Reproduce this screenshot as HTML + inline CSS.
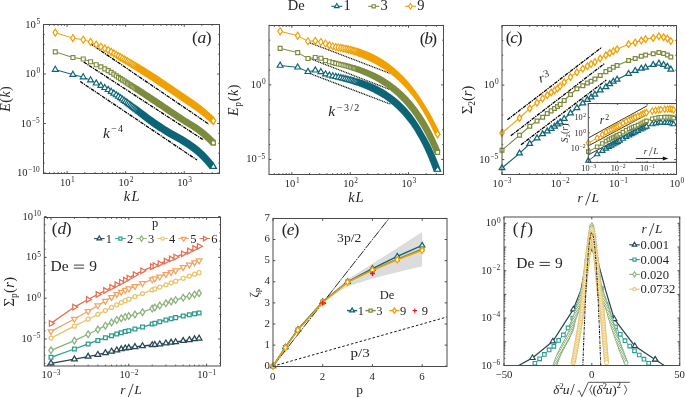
<!DOCTYPE html><html><head><meta charset="utf-8"><style>html,body{margin:0;padding:0;background:#fff;overflow:hidden}svg{display:block;will-change:transform}</style></head><body><svg width="685" height="397" viewBox="0 0 685 397">
<rect width="685" height="397" fill="#fff"/>
<path d="M90.2 43.5 L208.9 124.2" fill="none" stroke="#000" stroke-width="1.3" stroke-dasharray="3.6,0.9,1.2,0.9"/>
<path d="M83.7 62 L203.7 140.1" fill="none" stroke="#000" stroke-width="1.3" stroke-dasharray="3.6,0.9,1.2,0.9"/>
<path d="M80.2 81.5 L197 160" fill="none" stroke="#000" stroke-width="1.3" stroke-dasharray="3.6,0.9,1.2,0.9"/>
<path d="M55.28 69.6 L72.91 74.65 L83.22 77.11 L90.54 80.22 L96.22 83.26 L100.86 85.64 L104.78 87.83 L108.17 89.82 L111.17 91.66 L113.85 93.37 L116.27 95 L118.49 96.54 L120.52 97.99 L122.41 99.34 L124.16 100.6 L125.8 101.78 L127.35 102.9 L128.8 103.96 L130.18 104.97 L131.48 105.94 L132.72 106.87 L133.91 107.75 L135.04 108.59 L136.12 109.4 L137.16 110.18 L138.15 110.92 L139.11 111.64 L140.04 112.33 L140.93 113 L141.79 113.64 L142.63 114.28 L143.44 114.89 L144.22 115.49 L144.98 116.06 L145.72 116.63 L146.43 117.17 L147.13 117.7 L147.81 118.22 L148.47 118.72 L149.11 119.21 L149.74 119.68 L150.35 120.14 L150.95 120.58 L151.54 121.01 L152.11 121.43 L152.67 121.84 L153.21 122.23 L153.75 122.62 L154.27 122.99 L154.79 123.35 L155.29 123.7 L155.79 124.05 L156.27 124.38 L156.75 124.71 L157.21 125.03 L157.67 125.34 L158.12 125.65 L158.56 125.95 L159 126.24 L159.43 126.53 L159.85 126.81 L160.26 127.09 L160.67 127.36 L161.07 127.63 L161.46 127.89 L161.85 128.14 L162.23 128.39 L162.61 128.64 L162.98 128.88 L163.35 129.12 L163.71 129.35 L164.06 129.58 L164.41 129.81 L164.76 130.03 L165.1 130.25 L165.44 130.46 L165.77 130.68 L166.1 130.88 L166.42 131.09 L166.74 131.29 L167.06 131.49 L167.37 131.68 L167.68 131.87 L167.98 132.06 L168.29 132.25 L168.58 132.43 L168.88 132.61 L169.17 132.79 L169.46 132.97 L169.74 133.14 L170.02 133.31 L170.3 133.48 L170.57 133.64 L170.85 133.81 L171.11 133.97 L171.38 134.12 L171.64 134.27 L171.91 134.42 L172.16 134.57 L172.42 134.72 L172.67 134.86 L172.92 135 L173.17 135.14 L173.42 135.28 L173.66 135.41 L173.9 135.55 L174.14 135.68 L174.38 135.81 L174.61 135.94 L174.84 136.07 L175.07 136.19 L175.3 136.32 L175.53 136.44 L175.75 136.56 L175.97 136.68 L176.19 136.8 L176.41 136.92 L176.63 137.03 L176.84 137.15 L177.06 137.26 L177.27 137.38 L177.48 137.49 L177.69 137.6 L177.89 137.72 L178.1 137.83 L178.3 137.94 L178.5 138.04 L178.7 138.15 L178.9 138.26 L179.09 138.37 L179.29 138.48 L179.48 138.58 L179.67 138.69 L179.86 138.79 L180.05 138.9 L180.24 139 L180.43 139.1 L180.61 139.21 L180.8 139.31 L180.98 139.41 L181.16 139.51 L181.34 139.62 L181.52 139.72 L181.69 139.82 L181.87 139.92 L182.05 140.02 L182.22 140.12 L182.39 140.22 L182.56 140.32 L182.73 140.42 L182.9 140.52 L183.07 140.62 L183.24 140.72 L183.4 140.82 L183.57 140.92 L183.73 141.02 L183.89 141.11 L184.05 141.21 L184.22 141.31 L184.37 141.41 L184.53 141.51 L184.69 141.61 L184.85 141.7 L185 141.8 L185.16 141.9 L185.31 142 L185.46 142.09 L185.62 142.19 L185.77 142.29 L185.92 142.38 L186.07 142.48 L186.21 142.57 L186.36 142.66 L186.51 142.76 L186.65 142.85 L186.8 142.94 L186.94 143.03 L187.09 143.13 L187.23 143.22 L187.37 143.31 L187.51 143.4 L187.65 143.49 L187.79 143.58 L187.93 143.67 L188.07 143.76 L188.2 143.85 L188.34 143.94 L188.48 144.02 L188.61 144.11 L188.75 144.2 L188.88 144.29 L189.01 144.37 L189.14 144.46 L189.28 144.55 L189.41 144.63 L189.54 144.72 L189.67 144.8 L189.8 144.89 L189.92 144.97 L190.05 145.06 L190.18 145.14 L190.3 145.23 L190.43 145.31 L190.55 145.4 L190.68 145.48 L190.8 145.56 L190.93 145.65 L191.05 145.73 L191.17 145.81 L191.29 145.89 L191.41 145.98 L191.53 146.06 L191.65 146.14 L191.77 146.22 L191.89 146.3 L192.01 146.39 L192.13 146.47 L192.24 146.55 L192.36 146.63 L192.48 146.71 L192.59 146.79 L192.71 146.87 L192.82 146.95 L192.93 147.03 L193.05 147.11 L193.16 147.19 L193.27 147.27 L193.38 147.35 L193.49 147.43 L193.61 147.51 L193.72 147.59 L193.83 147.67 L193.94 147.74 L194.04 147.82 L194.15 147.9 L194.26 147.98 L194.37 148.06 L194.48 148.14 L194.58 148.22 L194.69 148.29 L194.79 148.37 L194.9 148.45 L195 148.53 L195.11 148.6 L195.21 148.68 L195.32 148.76 L195.42 148.84 L195.52 148.91 L195.62 148.99 L195.73 149.07 L195.83 149.14 L195.93 149.22 L196.03 149.3 L196.13 149.37 L196.23 149.45 L196.33 149.53 L196.43 149.6 L196.53 149.68 L196.63 149.75 L196.72 149.83 L196.82 149.91 L196.92 149.98 L197.02 150.06 L197.11 150.13 L197.21 150.21 L197.3 150.28 L197.4 150.36 L197.5 150.43 L197.59 150.51 L197.68 150.59 L197.78 150.66 L197.87 150.74 L197.97 150.81 L198.06 150.89 L198.15 150.96 L198.24 151.04 L198.34 151.11 L198.43 151.18 L198.52 151.26 L198.61 151.33 L198.7 151.41 L198.79 151.48 L198.88 151.56 L198.97 151.63 L199.06 151.71 L199.15 151.78 L199.24 151.85 L199.33 151.93 L199.41 152 L199.5 152.08 L199.59 152.15 L199.68 152.22 L199.76 152.3 L199.85 152.37 L199.94 152.45 L200.02 152.52 L200.11 152.59 L200.19 152.67 L200.28 152.74 L200.36 152.81 L200.45 152.89 L200.53 152.96 L200.62 153.04 L200.7 153.11 L200.78 153.18 L200.87 153.26 L200.95 153.33 L201.03 153.41 L201.12 153.48 L201.2 153.55 L201.28 153.63 L201.36 153.7 L201.44 153.77 L201.52 153.85 L201.61 153.92 L201.69 154 L201.77 154.07 L201.85 154.14 L201.93 154.22 L202.01 154.29 L202.09 154.36 L202.16 154.44 L202.24 154.51 L202.32 154.59 L202.4 154.66 L202.48 154.73 L202.56 154.81 L202.63 154.88 L202.71 154.95 L202.79 155.03 L202.87 155.1 L202.94 155.17 L203.02 155.25 L203.1 155.32 L203.17 155.39 L203.25 155.47 L203.32 155.54 L203.4 155.61 L203.47 155.69 L203.55 155.76 L203.62 155.83 L203.7 155.91 L203.77 155.98 L203.85 156.05 L203.92 156.13 L203.99 156.2 L204.07 156.27 L204.14 156.34 L204.21 156.42 L204.29 156.49 L204.36 156.56 L204.43 156.64 L204.5 156.71 L204.57 156.78 L204.65 156.85 L204.72 156.93 L204.79 157 L204.86 157.07 L204.93 157.14 L205 157.22 L205.07 157.29 L205.14 157.36 L205.21 157.43 L205.28 157.5 L205.35 157.58 L205.42 157.65 L205.49 157.72 L205.56 157.79 L205.63 157.86 L205.7 157.94 L205.77 158.01 L205.84 158.08 L205.9 158.15 L205.97 158.22 L206.04 158.29 L206.11 158.36 L206.18 158.44 L206.24 158.51 L206.31 158.58 L206.38 158.65 L206.44 158.72 L206.51 158.79 L206.58 158.86 L206.64 158.93 L206.71 159 L206.78 159.08 L206.84 159.15 L206.91 159.22 L206.97 159.29 L207.04 159.36 L207.1 159.43 L207.17 159.5 L207.23 159.57 L207.3 159.64 L207.36 159.71 L207.43 159.78 L207.49 159.85 L207.55 159.92 L207.62 159.99 L207.68 160.06 L207.75 160.13 L207.81 160.2 L207.87 160.27 L207.94 160.34 L208 160.41 L208.06 160.48 L208.12 160.55 L208.19 160.62 L208.25 160.69 L208.31 160.75 L208.37 160.82 L208.43 160.89 L208.5 160.96 L208.56 161.03 L208.62 161.1 L208.68 161.17 L208.74 161.24 L208.8 161.31 L208.86 161.37 L208.92 161.44 L208.98 161.51 L209.04 161.58 L209.1 161.65 L209.16 161.72 L209.22 161.78 L209.28 161.85 L209.34 161.92 L209.4 161.99 L209.46 162.06 L209.52 162.12 L209.58 162.19 L209.64 162.26 L209.7 162.33 L209.76 162.39 L209.82 162.46 L209.87 162.53 L209.93 162.6 L209.99 162.66 L210.05 162.73 L210.11 162.8 L210.16 162.86 L210.22 162.93 L210.28 163 L210.34 163.06 L210.39 163.13 L210.45 163.2 L210.51 163.26 L210.56 163.33 L210.62 163.4 L210.68 163.46 L210.73 163.53 L210.79 163.59 L210.85 163.66 L210.9 163.73 L210.96 163.79 L211.01 163.86 L211.07 163.92 L211.13 163.99 L211.18 164.06 L211.24 164.12 L211.29 164.19 L211.35 164.25 L211.4 164.32 L211.46 164.38 L211.51 164.45 L211.57 164.51 L211.62 164.58 L211.68 164.64 L211.73 164.71 L211.78 164.77 L211.84 164.84 L211.89 164.9 L211.95 164.97 L212 165.03 L212.05 165.09 L212.11 165.16 L212.16 165.22 L212.21 165.29 L212.27 165.35 L212.32 165.42 L212.37 165.48 L212.43 165.54 L212.48 165.61 L212.53 165.67 L212.58 165.73 L212.64 165.8 L212.69 165.86 L212.74 165.92 L212.79 165.99 L212.84 166.05 L212.9 166.11 L212.95 166.18 L213 166.24 L213.05 166.3 L213.1 166.37 L213.15 166.43 L213.2 166.49 L213.26 166.55 L213.31 166.62 L213.36 166.68" fill="none" stroke="#0c6477" stroke-width="1.0"/>
<g fill="#fff" stroke="#0c6477" stroke-width="1.15">
<path d="M55.28 66.19L58.25 71.3L52.31 71.3Z"/>
<path d="M72.91 71.24L75.88 76.36L69.94 76.36Z"/>
<path d="M83.22 73.7L86.19 78.81L80.26 78.81Z"/>
<path d="M90.54 76.81L93.51 81.93L87.58 81.93Z"/>
<path d="M96.22 79.85L99.18 84.97L93.25 84.97Z"/>
<path d="M100.86 82.23L103.82 87.34L97.89 87.34Z"/>
<path d="M104.78 84.42L107.74 89.53L101.81 89.53Z"/>
<path d="M108.17 86.41L111.14 91.53L105.21 91.53Z"/>
<path d="M111.17 88.25L114.14 93.36L108.2 93.36Z"/>
<path d="M113.85 89.96L116.82 95.08L110.88 95.08Z"/>
<path d="M116.27 91.59L119.24 96.71L113.31 96.71Z"/>
<path d="M118.49 93.13L121.45 98.25L115.52 98.25Z"/>
<path d="M120.52 94.58L123.49 99.69L117.56 99.69Z"/>
<path d="M122.41 95.93L125.37 101.04L119.44 101.04Z"/>
<path d="M124.16 97.19L127.13 102.3L121.2 102.3Z"/>
<path d="M125.8 98.37L128.77 103.48L122.84 103.48Z"/>
<path d="M127.35 99.49L130.31 104.6L124.38 104.6Z"/>
<path d="M128.8 100.55L131.77 105.67L125.83 105.67Z"/>
<path d="M130.18 101.56L133.14 106.68L127.21 106.68Z"/>
<path d="M131.48 102.53L134.45 107.65L128.51 107.65Z"/>
<path d="M132.72 103.46L135.69 108.57L129.76 108.57Z"/>
<path d="M133.91 104.34L136.87 109.45L130.94 109.45Z"/>
<path d="M135.04 105.18L138 110.3L132.07 110.3Z"/>
<path d="M136.12 105.99L139.09 111.11L133.15 111.11Z"/>
<path d="M137.16 106.77L140.12 111.88L134.19 111.88Z"/>
</g>
<path d="M138.15 107.51L141.12 112.63L135.19 112.63ZM139.11 108.23L142.08 113.35L136.15 113.35ZM140.04 108.92L143.01 114.03L137.07 114.03ZM140.93 109.59L143.9 114.7L137.97 114.7ZM141.79 110.23L144.76 115.35L138.83 115.35ZM142.63 110.87L145.6 115.98L139.66 115.98ZM143.44 111.48L146.4 116.59L140.47 116.59ZM144.22 112.08L147.19 117.19L141.25 117.19ZM144.98 112.65L147.94 117.77L142.01 117.77ZM145.72 113.22L148.68 118.33L142.75 118.33ZM146.43 113.76L149.4 118.88L143.47 118.88ZM147.13 114.29L150.1 119.41L144.16 119.41ZM147.81 114.81L150.77 119.93L144.84 119.93ZM148.47 115.31L151.43 120.43L145.5 120.43ZM149.11 115.8L152.08 120.91L146.15 120.91ZM149.74 116.27L152.71 121.38L146.77 121.38ZM150.35 116.73L153.32 121.84L147.39 121.84ZM150.95 117.17L153.92 122.29L147.98 122.29ZM151.54 117.6L154.5 122.72L148.57 122.72ZM152.11 118.02L155.07 123.14L149.14 123.14ZM152.67 118.43L155.63 123.54L149.7 123.54ZM153.21 118.82L156.18 123.94L150.25 123.94ZM153.75 119.21L156.72 124.32L150.78 124.32ZM154.27 119.58L157.24 124.7L151.31 124.7ZM154.79 119.94L157.75 125.06L151.82 125.06ZM155.29 120.29L158.26 125.41L152.33 125.41ZM155.79 120.64L158.75 125.75L152.82 125.75ZM156.27 120.97L159.24 126.09L153.3 126.09ZM156.75 121.3L159.71 126.41L153.78 126.41ZM157.21 121.62L160.18 126.73L154.25 126.73ZM157.67 121.93L160.64 127.05L154.7 127.05ZM158.12 122.24L161.09 127.35L155.15 127.35ZM158.56 122.54L161.53 127.65L155.6 127.65ZM159 122.83L161.96 127.95L156.03 127.95ZM159.43 123.12L162.39 128.23L156.46 128.23ZM159.85 123.4L162.81 128.52L156.88 128.52ZM160.26 123.68L163.23 128.79L157.29 128.79ZM160.67 123.95L163.63 129.06L157.7 129.06ZM161.07 124.22L164.03 129.33L158.1 129.33ZM161.46 124.48L164.43 129.59L158.5 129.59ZM161.85 124.73L164.82 129.85L158.88 129.85ZM162.23 124.98L165.2 130.1L159.27 130.1ZM162.61 125.23L165.58 130.35L159.64 130.35ZM163.35 125.71L166.31 130.83L160.38 130.83ZM164.06 126.17L167.03 131.29L161.1 131.29ZM164.76 126.62L167.73 131.74L161.79 131.74ZM165.44 127.05L168.41 132.17L162.47 132.17ZM166.1 127.47L169.07 132.59L163.13 132.59ZM166.74 127.88L169.71 132.99L163.78 132.99ZM167.37 128.27L170.34 133.39L164.4 133.39ZM167.98 128.65L170.95 133.77L165.02 133.77ZM168.58 129.02L171.55 134.14L165.62 134.14ZM169.17 129.38L172.13 134.5L166.2 134.5ZM169.74 129.73L172.71 134.85L166.77 134.85ZM170.3 130.07L173.27 135.19L167.33 135.19ZM170.85 130.4L173.81 135.51L167.88 135.51ZM171.38 130.71L174.35 135.83L168.41 135.83ZM171.91 131.01L174.87 136.13L168.94 136.13ZM172.42 131.31L175.39 136.42L169.45 136.42ZM172.92 131.59L175.89 136.71L169.96 136.71ZM173.42 131.87L176.38 136.98L170.45 136.98ZM173.9 132.14L176.87 137.25L170.93 137.25ZM174.38 132.4L177.34 137.51L171.41 137.51ZM174.84 132.66L177.81 137.77L171.88 137.77ZM175.3 132.91L178.27 138.02L172.34 138.02ZM175.75 133.15L178.72 138.26L172.79 138.26ZM176.19 133.39L179.16 138.5L173.23 138.5ZM176.63 133.62L179.6 138.74L173.66 138.74ZM177.06 133.85L180.02 138.97L174.09 138.97ZM177.48 134.08L180.44 139.2L174.51 139.2ZM177.89 134.31L180.86 139.42L174.92 139.42ZM178.3 134.53L181.26 139.64L175.33 139.64ZM178.7 134.74L181.67 139.86L175.73 139.86ZM179.29 135.07L182.25 140.18L176.32 140.18ZM179.86 135.38L182.83 140.5L176.9 140.5ZM180.43 135.69L183.39 140.81L177.46 140.81ZM180.98 136L183.94 141.12L178.01 141.12ZM181.52 136.31L184.48 141.42L178.55 141.42ZM182.05 136.61L185.01 141.73L179.08 141.73ZM182.56 136.91L185.53 142.03L179.6 142.03ZM183.07 137.21L186.04 142.32L180.1 142.32ZM183.57 137.51L186.53 142.62L180.6 142.62ZM184.05 137.8L187.02 142.92L181.09 142.92ZM184.53 138.1L187.5 143.21L181.57 143.21ZM185 138.39L187.97 143.51L182.04 143.51ZM185.46 138.68L188.43 143.8L182.5 143.8ZM185.92 138.97L188.88 144.09L182.95 144.09ZM186.36 139.25L189.33 144.37L183.4 144.37ZM186.8 139.53L189.77 144.65L183.83 144.65ZM187.23 139.81L190.2 144.92L184.26 144.92ZM187.65 140.08L190.62 145.19L184.69 145.19ZM188.07 140.35L191.03 145.46L185.1 145.46ZM188.48 140.61L191.44 145.73L185.51 145.73ZM188.88 140.88L191.85 145.99L185.91 145.99ZM189.28 141.14L192.24 146.25L186.31 146.25ZM189.67 141.39L192.63 146.51L186.7 146.51ZM190.05 141.65L193.02 146.76L187.08 146.76ZM190.43 141.9L193.4 147.02L187.46 147.02ZM190.93 142.24L193.89 147.35L187.96 147.35ZM191.41 142.57L194.38 147.68L188.45 147.68ZM191.89 142.89L194.86 148.01L188.92 148.01ZM192.36 143.22L195.33 148.33L189.39 148.33ZM192.82 143.54L195.79 148.66L189.85 148.66ZM193.27 143.86L196.24 148.98L190.31 148.98ZM193.72 144.18L196.68 149.29L190.75 149.29ZM194.15 144.49L197.12 149.61L191.19 149.61ZM194.58 144.81L197.55 149.92L191.62 149.92ZM195 145.12L197.97 150.23L192.04 150.23ZM195.42 145.43L198.39 150.54L192.45 150.54ZM195.83 145.73L198.79 150.85L192.86 150.85ZM196.23 146.04L199.2 151.15L193.26 151.15ZM196.63 146.34L199.59 151.46L193.66 151.46ZM197.02 146.65L199.98 151.76L194.05 151.76ZM197.4 146.95L200.37 152.06L194.43 152.06ZM197.78 147.25L200.75 152.37L194.81 152.37ZM198.15 147.55L201.12 152.67L195.18 152.67ZM198.52 147.85L201.49 152.96L195.55 152.96ZM198.88 148.15L201.85 153.26L195.91 153.26ZM199.24 148.44L202.2 153.56L196.27 153.56ZM199.59 148.74L202.56 153.86L196.62 153.86ZM199.94 149.04L202.9 154.15L196.97 154.15ZM200.28 149.33L203.25 154.45L197.31 154.45ZM200.7 149.7L203.67 154.82L197.73 154.82ZM201.12 150.07L204.08 155.18L198.15 155.18ZM201.52 150.44L204.49 155.55L198.56 155.55ZM201.93 150.81L204.89 155.92L198.96 155.92ZM202.32 151.18L205.29 156.29L199.36 156.29ZM202.71 151.54L205.68 156.66L199.74 156.66ZM203.1 151.91L206.06 157.03L200.13 157.03ZM203.47 152.28L206.44 157.39L200.51 157.39ZM203.85 152.64L206.81 157.76L200.88 157.76ZM204.21 153.01L207.18 158.12L201.25 158.12ZM204.57 153.37L207.54 158.49L201.61 158.49ZM204.93 153.73L207.9 158.85L201.96 158.85ZM205.28 154.09L208.25 159.21L202.32 159.21ZM205.63 154.45L208.6 159.57L202.66 159.57ZM205.97 154.81L208.94 159.93L203.01 159.93ZM206.31 155.17L209.28 160.28L203.34 160.28ZM206.64 155.52L209.61 160.64L203.68 160.64ZM206.97 155.88L209.94 160.99L204.01 160.99ZM207.3 156.23L210.26 161.34L204.33 161.34ZM207.62 156.58L210.59 161.69L204.65 161.69ZM207.94 156.93L210.9 162.04L204.97 162.04ZM208.25 157.28L211.21 162.39L205.28 162.39ZM208.56 157.62L211.52 162.74L205.59 162.74ZM208.86 157.96L211.83 163.08L205.9 163.08ZM209.16 158.31L212.13 163.42L206.2 163.42ZM209.46 158.65L212.43 163.76L206.5 163.76ZM209.82 159.05L212.78 164.17L206.85 164.17ZM210.16 159.45L213.13 164.57L207.2 164.57ZM210.51 159.85L213.47 164.97L207.54 164.97ZM210.85 160.25L213.81 165.37L207.88 165.37ZM211.18 160.65L214.15 165.76L208.22 165.76ZM211.51 161.04L214.48 166.15L208.55 166.15ZM211.84 161.43L214.8 166.54L208.87 166.54ZM212.16 161.81L215.13 166.93L209.19 166.93ZM212.48 162.2L215.44 167.31L209.51 167.31ZM212.79 162.58L215.76 167.69L209.83 167.69ZM213.1 162.96L216.07 168.07L210.14 168.07ZM213.36 163.27L216.32 168.38L210.39 168.38Z" fill="#fff" stroke="none"/>
<path d="M138.15 107.51L141.12 112.63L135.19 112.63ZM139.11 108.23L142.08 113.35L136.15 113.35ZM140.04 108.92L143.01 114.03L137.07 114.03ZM140.93 109.59L143.9 114.7L137.97 114.7ZM141.79 110.23L144.76 115.35L138.83 115.35ZM142.63 110.87L145.6 115.98L139.66 115.98ZM143.44 111.48L146.4 116.59L140.47 116.59ZM144.22 112.08L147.19 117.19L141.25 117.19ZM144.98 112.65L147.94 117.77L142.01 117.77ZM145.72 113.22L148.68 118.33L142.75 118.33ZM146.43 113.76L149.4 118.88L143.47 118.88ZM147.13 114.29L150.1 119.41L144.16 119.41ZM147.81 114.81L150.77 119.93L144.84 119.93ZM148.47 115.31L151.43 120.43L145.5 120.43ZM149.11 115.8L152.08 120.91L146.15 120.91ZM149.74 116.27L152.71 121.38L146.77 121.38ZM150.35 116.73L153.32 121.84L147.39 121.84ZM150.95 117.17L153.92 122.29L147.98 122.29ZM151.54 117.6L154.5 122.72L148.57 122.72ZM152.11 118.02L155.07 123.14L149.14 123.14ZM152.67 118.43L155.63 123.54L149.7 123.54ZM153.21 118.82L156.18 123.94L150.25 123.94ZM153.75 119.21L156.72 124.32L150.78 124.32ZM154.27 119.58L157.24 124.7L151.31 124.7ZM154.79 119.94L157.75 125.06L151.82 125.06ZM155.29 120.29L158.26 125.41L152.33 125.41ZM155.79 120.64L158.75 125.75L152.82 125.75ZM156.27 120.97L159.24 126.09L153.3 126.09ZM156.75 121.3L159.71 126.41L153.78 126.41ZM157.21 121.62L160.18 126.73L154.25 126.73ZM157.67 121.93L160.64 127.05L154.7 127.05ZM158.12 122.24L161.09 127.35L155.15 127.35ZM158.56 122.54L161.53 127.65L155.6 127.65ZM159 122.83L161.96 127.95L156.03 127.95ZM159.43 123.12L162.39 128.23L156.46 128.23ZM159.85 123.4L162.81 128.52L156.88 128.52ZM160.26 123.68L163.23 128.79L157.29 128.79ZM160.67 123.95L163.63 129.06L157.7 129.06ZM161.07 124.22L164.03 129.33L158.1 129.33ZM161.46 124.48L164.43 129.59L158.5 129.59ZM161.85 124.73L164.82 129.85L158.88 129.85ZM162.23 124.98L165.2 130.1L159.27 130.1ZM162.61 125.23L165.58 130.35L159.64 130.35ZM163.35 125.71L166.31 130.83L160.38 130.83ZM164.06 126.17L167.03 131.29L161.1 131.29ZM164.76 126.62L167.73 131.74L161.79 131.74ZM165.44 127.05L168.41 132.17L162.47 132.17ZM166.1 127.47L169.07 132.59L163.13 132.59ZM166.74 127.88L169.71 132.99L163.78 132.99ZM167.37 128.27L170.34 133.39L164.4 133.39ZM167.98 128.65L170.95 133.77L165.02 133.77ZM168.58 129.02L171.55 134.14L165.62 134.14ZM169.17 129.38L172.13 134.5L166.2 134.5ZM169.74 129.73L172.71 134.85L166.77 134.85ZM170.3 130.07L173.27 135.19L167.33 135.19ZM170.85 130.4L173.81 135.51L167.88 135.51ZM171.38 130.71L174.35 135.83L168.41 135.83ZM171.91 131.01L174.87 136.13L168.94 136.13ZM172.42 131.31L175.39 136.42L169.45 136.42ZM172.92 131.59L175.89 136.71L169.96 136.71ZM173.42 131.87L176.38 136.98L170.45 136.98ZM173.9 132.14L176.87 137.25L170.93 137.25ZM174.38 132.4L177.34 137.51L171.41 137.51ZM174.84 132.66L177.81 137.77L171.88 137.77ZM175.3 132.91L178.27 138.02L172.34 138.02ZM175.75 133.15L178.72 138.26L172.79 138.26ZM176.19 133.39L179.16 138.5L173.23 138.5ZM176.63 133.62L179.6 138.74L173.66 138.74ZM177.06 133.85L180.02 138.97L174.09 138.97ZM177.48 134.08L180.44 139.2L174.51 139.2ZM177.89 134.31L180.86 139.42L174.92 139.42ZM178.3 134.53L181.26 139.64L175.33 139.64ZM178.7 134.74L181.67 139.86L175.73 139.86ZM179.29 135.07L182.25 140.18L176.32 140.18ZM179.86 135.38L182.83 140.5L176.9 140.5ZM180.43 135.69L183.39 140.81L177.46 140.81ZM180.98 136L183.94 141.12L178.01 141.12ZM181.52 136.31L184.48 141.42L178.55 141.42ZM182.05 136.61L185.01 141.73L179.08 141.73ZM182.56 136.91L185.53 142.03L179.6 142.03ZM183.07 137.21L186.04 142.32L180.1 142.32ZM183.57 137.51L186.53 142.62L180.6 142.62ZM184.05 137.8L187.02 142.92L181.09 142.92ZM184.53 138.1L187.5 143.21L181.57 143.21ZM185 138.39L187.97 143.51L182.04 143.51ZM185.46 138.68L188.43 143.8L182.5 143.8ZM185.92 138.97L188.88 144.09L182.95 144.09ZM186.36 139.25L189.33 144.37L183.4 144.37ZM186.8 139.53L189.77 144.65L183.83 144.65ZM187.23 139.81L190.2 144.92L184.26 144.92ZM187.65 140.08L190.62 145.19L184.69 145.19ZM188.07 140.35L191.03 145.46L185.1 145.46ZM188.48 140.61L191.44 145.73L185.51 145.73ZM188.88 140.88L191.85 145.99L185.91 145.99ZM189.28 141.14L192.24 146.25L186.31 146.25ZM189.67 141.39L192.63 146.51L186.7 146.51ZM190.05 141.65L193.02 146.76L187.08 146.76ZM190.43 141.9L193.4 147.02L187.46 147.02ZM190.93 142.24L193.89 147.35L187.96 147.35ZM191.41 142.57L194.38 147.68L188.45 147.68ZM191.89 142.89L194.86 148.01L188.92 148.01ZM192.36 143.22L195.33 148.33L189.39 148.33ZM192.82 143.54L195.79 148.66L189.85 148.66ZM193.27 143.86L196.24 148.98L190.31 148.98ZM193.72 144.18L196.68 149.29L190.75 149.29ZM194.15 144.49L197.12 149.61L191.19 149.61ZM194.58 144.81L197.55 149.92L191.62 149.92ZM195 145.12L197.97 150.23L192.04 150.23ZM195.42 145.43L198.39 150.54L192.45 150.54ZM195.83 145.73L198.79 150.85L192.86 150.85ZM196.23 146.04L199.2 151.15L193.26 151.15ZM196.63 146.34L199.59 151.46L193.66 151.46ZM197.02 146.65L199.98 151.76L194.05 151.76ZM197.4 146.95L200.37 152.06L194.43 152.06ZM197.78 147.25L200.75 152.37L194.81 152.37ZM198.15 147.55L201.12 152.67L195.18 152.67ZM198.52 147.85L201.49 152.96L195.55 152.96ZM198.88 148.15L201.85 153.26L195.91 153.26ZM199.24 148.44L202.2 153.56L196.27 153.56ZM199.59 148.74L202.56 153.86L196.62 153.86ZM199.94 149.04L202.9 154.15L196.97 154.15ZM200.28 149.33L203.25 154.45L197.31 154.45ZM200.7 149.7L203.67 154.82L197.73 154.82ZM201.12 150.07L204.08 155.18L198.15 155.18ZM201.52 150.44L204.49 155.55L198.56 155.55ZM201.93 150.81L204.89 155.92L198.96 155.92ZM202.32 151.18L205.29 156.29L199.36 156.29ZM202.71 151.54L205.68 156.66L199.74 156.66ZM203.1 151.91L206.06 157.03L200.13 157.03ZM203.47 152.28L206.44 157.39L200.51 157.39ZM203.85 152.64L206.81 157.76L200.88 157.76ZM204.21 153.01L207.18 158.12L201.25 158.12ZM204.57 153.37L207.54 158.49L201.61 158.49ZM204.93 153.73L207.9 158.85L201.96 158.85ZM205.28 154.09L208.25 159.21L202.32 159.21ZM205.63 154.45L208.6 159.57L202.66 159.57ZM205.97 154.81L208.94 159.93L203.01 159.93ZM206.31 155.17L209.28 160.28L203.34 160.28ZM206.64 155.52L209.61 160.64L203.68 160.64ZM206.97 155.88L209.94 160.99L204.01 160.99ZM207.3 156.23L210.26 161.34L204.33 161.34ZM207.62 156.58L210.59 161.69L204.65 161.69ZM207.94 156.93L210.9 162.04L204.97 162.04ZM208.25 157.28L211.21 162.39L205.28 162.39ZM208.56 157.62L211.52 162.74L205.59 162.74ZM208.86 157.96L211.83 163.08L205.9 163.08ZM209.16 158.31L212.13 163.42L206.2 163.42ZM209.46 158.65L212.43 163.76L206.5 163.76ZM209.82 159.05L212.78 164.17L206.85 164.17ZM210.16 159.45L213.13 164.57L207.2 164.57ZM210.51 159.85L213.47 164.97L207.54 164.97ZM210.85 160.25L213.81 165.37L207.88 165.37ZM211.18 160.65L214.15 165.76L208.22 165.76ZM211.51 161.04L214.48 166.15L208.55 166.15ZM211.84 161.43L214.8 166.54L208.87 166.54ZM212.16 161.81L215.13 166.93L209.19 166.93ZM212.48 162.2L215.44 167.31L209.51 167.31ZM212.79 162.58L215.76 167.69L209.83 167.69ZM213.1 162.96L216.07 168.07L210.14 168.07ZM213.36 163.27L216.32 168.38L210.39 168.38Z" fill="none" stroke="#0c6477" stroke-width="1.15"/>
<path d="M213.36 163.27L216.32 168.38L210.39 168.38Z" fill="#fff" stroke="#0c6477" stroke-width="1.15"/>
<path d="M55.28 51.9 L72.91 57.54 L83.22 59.01 L90.54 61.72 L96.22 64.76 L100.86 66.82 L104.78 68.84 L108.17 70.59 L111.17 72.39 L113.85 74.15 L116.27 75.8 L118.49 77.3 L120.52 78.64 L122.41 79.86 L124.16 80.99 L125.8 82.04 L127.35 83.03 L128.8 83.97 L130.18 84.85 L131.48 85.69 L132.72 86.48 L133.91 87.25 L135.04 87.97 L136.12 88.67 L137.16 89.35 L138.15 90 L139.11 90.62 L140.04 91.23 L140.93 91.81 L141.79 92.38 L142.63 92.93 L143.44 93.46 L144.22 93.98 L144.98 94.48 L145.72 94.97 L146.43 95.44 L147.13 95.9 L147.81 96.35 L148.47 96.79 L149.11 97.22 L149.74 97.64 L150.35 98.05 L150.95 98.45 L151.54 98.84 L152.11 99.22 L152.67 99.59 L153.21 99.96 L153.75 100.32 L154.27 100.67 L154.79 101.01 L155.29 101.35 L155.79 101.68 L156.27 102 L156.75 102.32 L157.21 102.63 L157.67 102.94 L158.12 103.24 L158.56 103.54 L159 103.83 L159.43 104.12 L159.85 104.4 L160.26 104.67 L160.67 104.95 L161.07 105.22 L161.46 105.48 L161.85 105.74 L162.23 106 L162.61 106.26 L162.98 106.51 L163.35 106.75 L163.71 107 L164.06 107.24 L164.41 107.48 L164.76 107.71 L165.1 107.94 L165.44 108.17 L165.77 108.4 L166.1 108.62 L166.42 108.84 L166.74 109.06 L167.06 109.27 L167.37 109.49 L167.68 109.7 L167.98 109.9 L168.29 110.11 L168.58 110.31 L168.88 110.51 L169.17 110.71 L169.46 110.91 L169.74 111.1 L170.02 111.29 L170.3 111.48 L170.57 111.67 L170.85 111.85 L171.11 112.03 L171.38 112.21 L171.64 112.39 L171.91 112.57 L172.16 112.75 L172.42 112.92 L172.67 113.09 L172.92 113.26 L173.17 113.43 L173.42 113.59 L173.66 113.76 L173.9 113.92 L174.14 114.08 L174.38 114.24 L174.61 114.4 L174.84 114.56 L175.07 114.71 L175.3 114.87 L175.53 115.02 L175.75 115.17 L175.97 115.32 L176.19 115.47 L176.41 115.61 L176.63 115.76 L176.84 115.9 L177.06 116.04 L177.27 116.19 L177.48 116.33 L177.69 116.46 L177.89 116.6 L178.1 116.74 L178.3 116.87 L178.5 117.01 L178.7 117.14 L178.9 117.27 L179.09 117.4 L179.29 117.53 L179.48 117.66 L179.67 117.78 L179.86 117.91 L180.05 118.03 L180.24 118.16 L180.43 118.28 L180.61 118.4 L180.8 118.52 L180.98 118.64 L181.16 118.76 L181.34 118.87 L181.52 118.99 L181.69 119.1 L181.87 119.21 L182.05 119.32 L182.22 119.43 L182.39 119.54 L182.56 119.65 L182.73 119.76 L182.9 119.86 L183.07 119.97 L183.24 120.07 L183.4 120.17 L183.57 120.28 L183.73 120.38 L183.89 120.48 L184.05 120.58 L184.22 120.68 L184.37 120.78 L184.53 120.87 L184.69 120.97 L184.85 121.07 L185 121.16 L185.16 121.26 L185.31 121.35 L185.46 121.44 L185.62 121.54 L185.77 121.63 L185.92 121.72 L186.07 121.81 L186.21 121.9 L186.36 121.99 L186.51 122.08 L186.65 122.17 L186.8 122.26 L186.94 122.34 L187.09 122.43 L187.23 122.52 L187.37 122.6 L187.51 122.69 L187.65 122.77 L187.79 122.86 L187.93 122.94 L188.07 123.03 L188.2 123.11 L188.34 123.19 L188.48 123.27 L188.61 123.36 L188.75 123.44 L188.88 123.52 L189.01 123.6 L189.14 123.68 L189.28 123.76 L189.41 123.84 L189.54 123.92 L189.67 124 L189.8 124.08 L189.92 124.16 L190.05 124.23 L190.18 124.31 L190.3 124.39 L190.43 124.47 L190.55 124.54 L190.68 124.62 L190.8 124.7 L190.93 124.77 L191.05 124.85 L191.17 124.92 L191.29 125 L191.41 125.07 L191.53 125.15 L191.65 125.22 L191.77 125.3 L191.89 125.37 L192.01 125.45 L192.13 125.52 L192.24 125.59 L192.36 125.67 L192.48 125.74 L192.59 125.81 L192.71 125.89 L192.82 125.96 L192.93 126.03 L193.05 126.1 L193.16 126.17 L193.27 126.25 L193.38 126.32 L193.49 126.39 L193.61 126.46 L193.72 126.53 L193.83 126.6 L193.94 126.67 L194.04 126.74 L194.15 126.81 L194.26 126.88 L194.37 126.95 L194.48 127.02 L194.58 127.09 L194.69 127.16 L194.79 127.23 L194.9 127.3 L195 127.37 L195.11 127.44 L195.21 127.51 L195.32 127.58 L195.42 127.65 L195.52 127.72 L195.62 127.79 L195.73 127.85 L195.83 127.92 L195.93 127.99 L196.03 128.06 L196.13 128.13 L196.23 128.2 L196.33 128.26 L196.43 128.33 L196.53 128.4 L196.63 128.47 L196.72 128.53 L196.82 128.6 L196.92 128.67 L197.02 128.74 L197.11 128.8 L197.21 128.87 L197.3 128.94 L197.4 129 L197.5 129.07 L197.59 129.14 L197.68 129.2 L197.78 129.27 L197.87 129.34 L197.97 129.4 L198.06 129.47 L198.15 129.54 L198.24 129.6 L198.34 129.67 L198.43 129.74 L198.52 129.8 L198.61 129.87 L198.7 129.93 L198.79 130 L198.88 130.07 L198.97 130.13 L199.06 130.2 L199.15 130.26 L199.24 130.33 L199.33 130.39 L199.41 130.46 L199.5 130.53 L199.59 130.59 L199.68 130.66 L199.76 130.72 L199.85 130.79 L199.94 130.85 L200.02 130.92 L200.11 130.98 L200.19 131.05 L200.28 131.11 L200.36 131.18 L200.45 131.24 L200.53 131.31 L200.62 131.37 L200.7 131.44 L200.78 131.5 L200.87 131.57 L200.95 131.63 L201.03 131.7 L201.12 131.76 L201.2 131.83 L201.28 131.89 L201.36 131.96 L201.44 132.02 L201.52 132.09 L201.61 132.15 L201.69 132.21 L201.77 132.28 L201.85 132.34 L201.93 132.41 L202.01 132.47 L202.09 132.54 L202.16 132.6 L202.24 132.66 L202.32 132.73 L202.4 132.79 L202.48 132.86 L202.56 132.92 L202.63 132.98 L202.71 133.05 L202.79 133.11 L202.87 133.17 L202.94 133.24 L203.02 133.3 L203.1 133.36 L203.17 133.43 L203.25 133.49 L203.32 133.55 L203.4 133.62 L203.47 133.68 L203.55 133.74 L203.62 133.81 L203.7 133.87 L203.77 133.93 L203.85 134 L203.92 134.06 L203.99 134.12 L204.07 134.18 L204.14 134.25 L204.21 134.31 L204.29 134.37 L204.36 134.43 L204.43 134.5 L204.5 134.56 L204.57 134.62 L204.65 134.68 L204.72 134.74 L204.79 134.81 L204.86 134.87 L204.93 134.93 L205 134.99 L205.07 135.05 L205.14 135.11 L205.21 135.18 L205.28 135.24 L205.35 135.3 L205.42 135.36 L205.49 135.42 L205.56 135.48 L205.63 135.54 L205.7 135.6 L205.77 135.66 L205.84 135.73 L205.9 135.79 L205.97 135.85 L206.04 135.91 L206.11 135.97 L206.18 136.03 L206.24 136.09 L206.31 136.15 L206.38 136.21 L206.44 136.27 L206.51 136.33 L206.58 136.39 L206.64 136.45 L206.71 136.51 L206.78 136.57 L206.84 136.63 L206.91 136.69 L206.97 136.75 L207.04 136.81 L207.1 136.87 L207.17 136.92 L207.23 136.98 L207.3 137.04 L207.36 137.1 L207.43 137.16 L207.49 137.22 L207.55 137.28 L207.62 137.34 L207.68 137.4 L207.75 137.45 L207.81 137.51 L207.87 137.57 L207.94 137.63 L208 137.69 L208.06 137.75 L208.12 137.8 L208.19 137.86 L208.25 137.92 L208.31 137.98 L208.37 138.04 L208.43 138.09 L208.5 138.15 L208.56 138.21 L208.62 138.27 L208.68 138.32 L208.74 138.38 L208.8 138.44 L208.86 138.49 L208.92 138.55 L208.98 138.61 L209.04 138.67 L209.1 138.72 L209.16 138.78 L209.22 138.84 L209.28 138.89 L209.34 138.95 L209.4 139.01 L209.46 139.06 L209.52 139.12 L209.58 139.17 L209.64 139.23 L209.7 139.29 L209.76 139.34 L209.82 139.4 L209.87 139.45 L209.93 139.51 L209.99 139.56 L210.05 139.62 L210.11 139.68 L210.16 139.73 L210.22 139.79 L210.28 139.84 L210.34 139.9 L210.39 139.95 L210.45 140.01 L210.51 140.06 L210.56 140.12 L210.62 140.17 L210.68 140.23 L210.73 140.28 L210.79 140.33 L210.85 140.39 L210.9 140.44 L210.96 140.5 L211.01 140.55 L211.07 140.61 L211.13 140.66 L211.18 140.71 L211.24 140.77 L211.29 140.82 L211.35 140.88 L211.4 140.93 L211.46 140.98 L211.51 141.04 L211.57 141.09 L211.62 141.14 L211.68 141.2 L211.73 141.25 L211.78 141.3 L211.84 141.36 L211.89 141.41 L211.95 141.46 L212 141.51 L212.05 141.57 L212.11 141.62 L212.16 141.67 L212.21 141.72 L212.27 141.78 L212.32 141.83 L212.37 141.88 L212.43 141.93 L212.48 141.99 L212.53 142.04 L212.58 142.09 L212.64 142.14 L212.69 142.19 L212.74 142.24 L212.79 142.3 L212.84 142.35 L212.9 142.4 L212.95 142.45 L213 142.5 L213.05 142.55 L213.1 142.6 L213.15 142.65 L213.2 142.71 L213.26 142.76 L213.31 142.81 L213.36 142.86" fill="none" stroke="#7d8b3c" stroke-width="1.0"/>
<g fill="#fff" stroke="#7d8b3c" stroke-width="1.15">
<path d="M53.3 49.92h3.96v3.96h-3.96Z"/>
<path d="M70.93 55.56h3.96v3.96h-3.96Z"/>
<path d="M81.24 57.03h3.96v3.96h-3.96Z"/>
<path d="M88.56 59.74h3.96v3.96h-3.96Z"/>
<path d="M94.24 62.78h3.96v3.96h-3.96Z"/>
<path d="M98.88 64.84h3.96v3.96h-3.96Z"/>
<path d="M102.8 66.86h3.96v3.96h-3.96Z"/>
<path d="M106.19 68.61h3.96v3.96h-3.96Z"/>
<path d="M109.19 70.41h3.96v3.96h-3.96Z"/>
<path d="M111.87 72.17h3.96v3.96h-3.96Z"/>
<path d="M114.29 73.82h3.96v3.96h-3.96Z"/>
<path d="M116.51 75.32h3.96v3.96h-3.96Z"/>
<path d="M118.54 76.66h3.96v3.96h-3.96Z"/>
<path d="M120.43 77.88h3.96v3.96h-3.96Z"/>
<path d="M122.18 79.01h3.96v3.96h-3.96Z"/>
<path d="M123.82 80.06h3.96v3.96h-3.96Z"/>
<path d="M125.37 81.05h3.96v3.96h-3.96Z"/>
<path d="M126.82 81.99h3.96v3.96h-3.96Z"/>
<path d="M128.2 82.87h3.96v3.96h-3.96Z"/>
<path d="M129.5 83.71h3.96v3.96h-3.96Z"/>
<path d="M130.74 84.5h3.96v3.96h-3.96Z"/>
<path d="M131.93 85.27h3.96v3.96h-3.96Z"/>
<path d="M133.06 85.99h3.96v3.96h-3.96Z"/>
<path d="M134.14 86.69h3.96v3.96h-3.96Z"/>
</g>
<path d="M135.18 87.37h3.96v3.96h-3.96ZM136.17 88.02h3.96v3.96h-3.96ZM137.13 88.64h3.96v3.96h-3.96ZM138.06 89.25h3.96v3.96h-3.96ZM138.95 89.83h3.96v3.96h-3.96ZM139.81 90.4h3.96v3.96h-3.96ZM140.65 90.95h3.96v3.96h-3.96ZM141.46 91.48h3.96v3.96h-3.96ZM142.24 92h3.96v3.96h-3.96ZM143 92.5h3.96v3.96h-3.96ZM143.74 92.99h3.96v3.96h-3.96ZM144.45 93.46h3.96v3.96h-3.96ZM145.15 93.92h3.96v3.96h-3.96ZM145.83 94.37h3.96v3.96h-3.96ZM146.49 94.81h3.96v3.96h-3.96ZM147.13 95.24h3.96v3.96h-3.96ZM147.76 95.66h3.96v3.96h-3.96ZM148.37 96.07h3.96v3.96h-3.96ZM148.97 96.47h3.96v3.96h-3.96ZM149.56 96.86h3.96v3.96h-3.96ZM150.13 97.24h3.96v3.96h-3.96ZM150.69 97.61h3.96v3.96h-3.96ZM151.23 97.98h3.96v3.96h-3.96ZM151.77 98.34h3.96v3.96h-3.96ZM152.29 98.69h3.96v3.96h-3.96ZM152.81 99.03h3.96v3.96h-3.96ZM153.31 99.37h3.96v3.96h-3.96ZM153.81 99.7h3.96v3.96h-3.96ZM154.29 100.02h3.96v3.96h-3.96ZM154.77 100.34h3.96v3.96h-3.96ZM155.23 100.65h3.96v3.96h-3.96ZM155.69 100.96h3.96v3.96h-3.96ZM156.14 101.26h3.96v3.96h-3.96ZM156.58 101.56h3.96v3.96h-3.96ZM157.02 101.85h3.96v3.96h-3.96ZM157.45 102.14h3.96v3.96h-3.96ZM157.87 102.42h3.96v3.96h-3.96ZM158.28 102.69h3.96v3.96h-3.96ZM158.69 102.97h3.96v3.96h-3.96ZM159.09 103.24h3.96v3.96h-3.96ZM159.48 103.5h3.96v3.96h-3.96ZM159.87 103.76h3.96v3.96h-3.96ZM160.25 104.02h3.96v3.96h-3.96ZM160.63 104.28h3.96v3.96h-3.96ZM161.37 104.77h3.96v3.96h-3.96ZM162.08 105.26h3.96v3.96h-3.96ZM162.78 105.73h3.96v3.96h-3.96ZM163.46 106.19h3.96v3.96h-3.96ZM164.12 106.64h3.96v3.96h-3.96ZM164.76 107.08h3.96v3.96h-3.96ZM165.39 107.51h3.96v3.96h-3.96ZM166 107.92h3.96v3.96h-3.96ZM166.6 108.33h3.96v3.96h-3.96ZM167.19 108.73h3.96v3.96h-3.96ZM167.76 109.12h3.96v3.96h-3.96ZM168.32 109.5h3.96v3.96h-3.96ZM168.87 109.87h3.96v3.96h-3.96ZM169.4 110.23h3.96v3.96h-3.96ZM169.93 110.59h3.96v3.96h-3.96ZM170.44 110.94h3.96v3.96h-3.96ZM170.94 111.28h3.96v3.96h-3.96ZM171.44 111.61h3.96v3.96h-3.96ZM171.92 111.94h3.96v3.96h-3.96ZM172.4 112.26h3.96v3.96h-3.96ZM172.86 112.58h3.96v3.96h-3.96ZM173.32 112.89h3.96v3.96h-3.96ZM173.77 113.19h3.96v3.96h-3.96ZM174.21 113.49h3.96v3.96h-3.96ZM174.65 113.78h3.96v3.96h-3.96ZM175.08 114.06h3.96v3.96h-3.96ZM175.5 114.35h3.96v3.96h-3.96ZM175.91 114.62h3.96v3.96h-3.96ZM176.32 114.89h3.96v3.96h-3.96ZM176.72 115.16h3.96v3.96h-3.96ZM177.11 115.42h3.96v3.96h-3.96ZM177.5 115.68h3.96v3.96h-3.96ZM177.88 115.93h3.96v3.96h-3.96ZM178.26 116.18h3.96v3.96h-3.96ZM178.82 116.54h3.96v3.96h-3.96ZM179.36 116.89h3.96v3.96h-3.96ZM179.89 117.23h3.96v3.96h-3.96ZM180.41 117.56h3.96v3.96h-3.96ZM180.92 117.88h3.96v3.96h-3.96ZM181.42 118.19h3.96v3.96h-3.96ZM181.91 118.5h3.96v3.96h-3.96ZM182.39 118.8h3.96v3.96h-3.96ZM182.87 119.09h3.96v3.96h-3.96ZM183.33 119.37h3.96v3.96h-3.96ZM183.79 119.65h3.96v3.96h-3.96ZM184.23 119.92h3.96v3.96h-3.96ZM184.67 120.19h3.96v3.96h-3.96ZM185.11 120.45h3.96v3.96h-3.96ZM185.53 120.71h3.96v3.96h-3.96ZM185.95 120.96h3.96v3.96h-3.96ZM186.36 121.21h3.96v3.96h-3.96ZM186.77 121.46h3.96v3.96h-3.96ZM187.16 121.7h3.96v3.96h-3.96ZM187.56 121.94h3.96v3.96h-3.96ZM187.94 122.18h3.96v3.96h-3.96ZM188.45 122.49h3.96v3.96h-3.96ZM188.95 122.79h3.96v3.96h-3.96ZM189.43 123.09h3.96v3.96h-3.96ZM189.91 123.39h3.96v3.96h-3.96ZM190.38 123.69h3.96v3.96h-3.96ZM190.84 123.98h3.96v3.96h-3.96ZM191.29 124.27h3.96v3.96h-3.96ZM191.74 124.55h3.96v3.96h-3.96ZM192.17 124.83h3.96v3.96h-3.96ZM192.6 125.11h3.96v3.96h-3.96ZM193.02 125.39h3.96v3.96h-3.96ZM193.44 125.67h3.96v3.96h-3.96ZM193.85 125.94h3.96v3.96h-3.96ZM194.25 126.22h3.96v3.96h-3.96ZM194.65 126.49h3.96v3.96h-3.96ZM195.04 126.76h3.96v3.96h-3.96ZM195.42 127.02h3.96v3.96h-3.96ZM195.8 127.29h3.96v3.96h-3.96ZM196.17 127.56h3.96v3.96h-3.96ZM196.54 127.82h3.96v3.96h-3.96ZM196.99 128.15h3.96v3.96h-3.96ZM197.43 128.48h3.96v3.96h-3.96ZM197.87 128.81h3.96v3.96h-3.96ZM198.3 129.13h3.96v3.96h-3.96ZM198.72 129.46h3.96v3.96h-3.96ZM199.14 129.78h3.96v3.96h-3.96ZM199.54 130.11h3.96v3.96h-3.96ZM199.95 130.43h3.96v3.96h-3.96ZM200.34 130.75h3.96v3.96h-3.96ZM200.73 131.07h3.96v3.96h-3.96ZM201.12 131.38h3.96v3.96h-3.96ZM201.49 131.7h3.96v3.96h-3.96ZM201.87 132.02h3.96v3.96h-3.96ZM202.23 132.33h3.96v3.96h-3.96ZM202.59 132.64h3.96v3.96h-3.96ZM202.95 132.95h3.96v3.96h-3.96ZM203.3 133.26h3.96v3.96h-3.96ZM203.65 133.56h3.96v3.96h-3.96ZM203.99 133.87h3.96v3.96h-3.96ZM204.33 134.17h3.96v3.96h-3.96ZM204.73 134.53h3.96v3.96h-3.96ZM205.12 134.89h3.96v3.96h-3.96ZM205.51 135.24h3.96v3.96h-3.96ZM205.89 135.59h3.96v3.96h-3.96ZM206.27 135.94h3.96v3.96h-3.96ZM206.64 136.29h3.96v3.96h-3.96ZM207 136.63h3.96v3.96h-3.96ZM207.36 136.97h3.96v3.96h-3.96ZM207.72 137.31h3.96v3.96h-3.96ZM208.07 137.64h3.96v3.96h-3.96ZM208.41 137.97h3.96v3.96h-3.96ZM208.75 138.3h3.96v3.96h-3.96ZM209.09 138.63h3.96v3.96h-3.96ZM209.42 138.95h3.96v3.96h-3.96ZM209.75 139.27h3.96v3.96h-3.96ZM210.07 139.59h3.96v3.96h-3.96ZM210.45 139.95h3.96v3.96h-3.96ZM210.81 140.32h3.96v3.96h-3.96ZM211.17 140.67h3.96v3.96h-3.96ZM211.38 140.88h3.96v3.96h-3.96Z" fill="#fff" stroke="none"/>
<path d="M135.18 87.37h3.96v3.96h-3.96ZM136.17 88.02h3.96v3.96h-3.96ZM137.13 88.64h3.96v3.96h-3.96ZM138.06 89.25h3.96v3.96h-3.96ZM138.95 89.83h3.96v3.96h-3.96ZM139.81 90.4h3.96v3.96h-3.96ZM140.65 90.95h3.96v3.96h-3.96ZM141.46 91.48h3.96v3.96h-3.96ZM142.24 92h3.96v3.96h-3.96ZM143 92.5h3.96v3.96h-3.96ZM143.74 92.99h3.96v3.96h-3.96ZM144.45 93.46h3.96v3.96h-3.96ZM145.15 93.92h3.96v3.96h-3.96ZM145.83 94.37h3.96v3.96h-3.96ZM146.49 94.81h3.96v3.96h-3.96ZM147.13 95.24h3.96v3.96h-3.96ZM147.76 95.66h3.96v3.96h-3.96ZM148.37 96.07h3.96v3.96h-3.96ZM148.97 96.47h3.96v3.96h-3.96ZM149.56 96.86h3.96v3.96h-3.96ZM150.13 97.24h3.96v3.96h-3.96ZM150.69 97.61h3.96v3.96h-3.96ZM151.23 97.98h3.96v3.96h-3.96ZM151.77 98.34h3.96v3.96h-3.96ZM152.29 98.69h3.96v3.96h-3.96ZM152.81 99.03h3.96v3.96h-3.96ZM153.31 99.37h3.96v3.96h-3.96ZM153.81 99.7h3.96v3.96h-3.96ZM154.29 100.02h3.96v3.96h-3.96ZM154.77 100.34h3.96v3.96h-3.96ZM155.23 100.65h3.96v3.96h-3.96ZM155.69 100.96h3.96v3.96h-3.96ZM156.14 101.26h3.96v3.96h-3.96ZM156.58 101.56h3.96v3.96h-3.96ZM157.02 101.85h3.96v3.96h-3.96ZM157.45 102.14h3.96v3.96h-3.96ZM157.87 102.42h3.96v3.96h-3.96ZM158.28 102.69h3.96v3.96h-3.96ZM158.69 102.97h3.96v3.96h-3.96ZM159.09 103.24h3.96v3.96h-3.96ZM159.48 103.5h3.96v3.96h-3.96ZM159.87 103.76h3.96v3.96h-3.96ZM160.25 104.02h3.96v3.96h-3.96ZM160.63 104.28h3.96v3.96h-3.96ZM161.37 104.77h3.96v3.96h-3.96ZM162.08 105.26h3.96v3.96h-3.96ZM162.78 105.73h3.96v3.96h-3.96ZM163.46 106.19h3.96v3.96h-3.96ZM164.12 106.64h3.96v3.96h-3.96ZM164.76 107.08h3.96v3.96h-3.96ZM165.39 107.51h3.96v3.96h-3.96ZM166 107.92h3.96v3.96h-3.96ZM166.6 108.33h3.96v3.96h-3.96ZM167.19 108.73h3.96v3.96h-3.96ZM167.76 109.12h3.96v3.96h-3.96ZM168.32 109.5h3.96v3.96h-3.96ZM168.87 109.87h3.96v3.96h-3.96ZM169.4 110.23h3.96v3.96h-3.96ZM169.93 110.59h3.96v3.96h-3.96ZM170.44 110.94h3.96v3.96h-3.96ZM170.94 111.28h3.96v3.96h-3.96ZM171.44 111.61h3.96v3.96h-3.96ZM171.92 111.94h3.96v3.96h-3.96ZM172.4 112.26h3.96v3.96h-3.96ZM172.86 112.58h3.96v3.96h-3.96ZM173.32 112.89h3.96v3.96h-3.96ZM173.77 113.19h3.96v3.96h-3.96ZM174.21 113.49h3.96v3.96h-3.96ZM174.65 113.78h3.96v3.96h-3.96ZM175.08 114.06h3.96v3.96h-3.96ZM175.5 114.35h3.96v3.96h-3.96ZM175.91 114.62h3.96v3.96h-3.96ZM176.32 114.89h3.96v3.96h-3.96ZM176.72 115.16h3.96v3.96h-3.96ZM177.11 115.42h3.96v3.96h-3.96ZM177.5 115.68h3.96v3.96h-3.96ZM177.88 115.93h3.96v3.96h-3.96ZM178.26 116.18h3.96v3.96h-3.96ZM178.82 116.54h3.96v3.96h-3.96ZM179.36 116.89h3.96v3.96h-3.96ZM179.89 117.23h3.96v3.96h-3.96ZM180.41 117.56h3.96v3.96h-3.96ZM180.92 117.88h3.96v3.96h-3.96ZM181.42 118.19h3.96v3.96h-3.96ZM181.91 118.5h3.96v3.96h-3.96ZM182.39 118.8h3.96v3.96h-3.96ZM182.87 119.09h3.96v3.96h-3.96ZM183.33 119.37h3.96v3.96h-3.96ZM183.79 119.65h3.96v3.96h-3.96ZM184.23 119.92h3.96v3.96h-3.96ZM184.67 120.19h3.96v3.96h-3.96ZM185.11 120.45h3.96v3.96h-3.96ZM185.53 120.71h3.96v3.96h-3.96ZM185.95 120.96h3.96v3.96h-3.96ZM186.36 121.21h3.96v3.96h-3.96ZM186.77 121.46h3.96v3.96h-3.96ZM187.16 121.7h3.96v3.96h-3.96ZM187.56 121.94h3.96v3.96h-3.96ZM187.94 122.18h3.96v3.96h-3.96ZM188.45 122.49h3.96v3.96h-3.96ZM188.95 122.79h3.96v3.96h-3.96ZM189.43 123.09h3.96v3.96h-3.96ZM189.91 123.39h3.96v3.96h-3.96ZM190.38 123.69h3.96v3.96h-3.96ZM190.84 123.98h3.96v3.96h-3.96ZM191.29 124.27h3.96v3.96h-3.96ZM191.74 124.55h3.96v3.96h-3.96ZM192.17 124.83h3.96v3.96h-3.96ZM192.6 125.11h3.96v3.96h-3.96ZM193.02 125.39h3.96v3.96h-3.96ZM193.44 125.67h3.96v3.96h-3.96ZM193.85 125.94h3.96v3.96h-3.96ZM194.25 126.22h3.96v3.96h-3.96ZM194.65 126.49h3.96v3.96h-3.96ZM195.04 126.76h3.96v3.96h-3.96ZM195.42 127.02h3.96v3.96h-3.96ZM195.8 127.29h3.96v3.96h-3.96ZM196.17 127.56h3.96v3.96h-3.96ZM196.54 127.82h3.96v3.96h-3.96ZM196.99 128.15h3.96v3.96h-3.96ZM197.43 128.48h3.96v3.96h-3.96ZM197.87 128.81h3.96v3.96h-3.96ZM198.3 129.13h3.96v3.96h-3.96ZM198.72 129.46h3.96v3.96h-3.96ZM199.14 129.78h3.96v3.96h-3.96ZM199.54 130.11h3.96v3.96h-3.96ZM199.95 130.43h3.96v3.96h-3.96ZM200.34 130.75h3.96v3.96h-3.96ZM200.73 131.07h3.96v3.96h-3.96ZM201.12 131.38h3.96v3.96h-3.96ZM201.49 131.7h3.96v3.96h-3.96ZM201.87 132.02h3.96v3.96h-3.96ZM202.23 132.33h3.96v3.96h-3.96ZM202.59 132.64h3.96v3.96h-3.96ZM202.95 132.95h3.96v3.96h-3.96ZM203.3 133.26h3.96v3.96h-3.96ZM203.65 133.56h3.96v3.96h-3.96ZM203.99 133.87h3.96v3.96h-3.96ZM204.33 134.17h3.96v3.96h-3.96ZM204.73 134.53h3.96v3.96h-3.96ZM205.12 134.89h3.96v3.96h-3.96ZM205.51 135.24h3.96v3.96h-3.96ZM205.89 135.59h3.96v3.96h-3.96ZM206.27 135.94h3.96v3.96h-3.96ZM206.64 136.29h3.96v3.96h-3.96ZM207 136.63h3.96v3.96h-3.96ZM207.36 136.97h3.96v3.96h-3.96ZM207.72 137.31h3.96v3.96h-3.96ZM208.07 137.64h3.96v3.96h-3.96ZM208.41 137.97h3.96v3.96h-3.96ZM208.75 138.3h3.96v3.96h-3.96ZM209.09 138.63h3.96v3.96h-3.96ZM209.42 138.95h3.96v3.96h-3.96ZM209.75 139.27h3.96v3.96h-3.96ZM210.07 139.59h3.96v3.96h-3.96ZM210.45 139.95h3.96v3.96h-3.96ZM210.81 140.32h3.96v3.96h-3.96ZM211.17 140.67h3.96v3.96h-3.96ZM211.38 140.88h3.96v3.96h-3.96Z" fill="none" stroke="#7d8b3c" stroke-width="1.15"/>
<path d="M211.38 140.88h3.96v3.96h-3.96Z" fill="#fff" stroke="#7d8b3c" stroke-width="1.15"/>
<path d="M55.28 32.6 L72.91 38.14 L83.22 39.71 L90.54 41.92 L96.22 44.65 L100.86 46.71 L104.78 48.44 L108.17 50.19 L111.17 51.84 L113.85 53.38 L116.27 54.8 L118.49 56.11 L120.52 57.31 L122.41 58.42 L124.16 59.45 L125.8 60.42 L127.35 61.34 L128.8 62.2 L130.18 63.02 L131.48 63.81 L132.72 64.55 L133.91 65.27 L135.04 65.96 L136.12 66.61 L137.16 67.25 L138.15 67.86 L139.11 68.45 L140.04 69.02 L140.93 69.58 L141.79 70.11 L142.63 70.64 L143.44 71.14 L144.22 71.63 L144.98 72.11 L145.72 72.58 L146.43 73.03 L147.13 73.47 L147.81 73.9 L148.47 74.32 L149.11 74.73 L149.74 75.13 L150.35 75.53 L150.95 75.91 L151.54 76.29 L152.11 76.65 L152.67 77.01 L153.21 77.37 L153.75 77.71 L154.27 78.05 L154.79 78.39 L155.29 78.72 L155.79 79.04 L156.27 79.35 L156.75 79.66 L157.21 79.97 L157.67 80.27 L158.12 80.56 L158.56 80.85 L159 81.14 L159.43 81.42 L159.85 81.7 L160.26 81.97 L160.67 82.24 L161.07 82.51 L161.46 82.77 L161.85 83.03 L162.23 83.28 L162.61 83.53 L162.98 83.78 L163.35 84.02 L163.71 84.27 L164.06 84.51 L164.41 84.74 L164.76 84.97 L165.1 85.2 L165.44 85.43 L165.77 85.66 L166.1 85.88 L166.42 86.1 L166.74 86.31 L167.06 86.53 L167.37 86.74 L167.68 86.95 L167.98 87.16 L168.29 87.36 L168.58 87.56 L168.88 87.76 L169.17 87.96 L169.46 88.16 L169.74 88.35 L170.02 88.54 L170.3 88.73 L170.57 88.92 L170.85 89.11 L171.11 89.29 L171.38 89.47 L171.64 89.66 L171.91 89.83 L172.16 90.01 L172.42 90.19 L172.67 90.36 L172.92 90.53 L173.17 90.7 L173.42 90.87 L173.66 91.04 L173.9 91.2 L174.14 91.37 L174.38 91.53 L174.61 91.69 L174.84 91.85 L175.07 92.01 L175.3 92.17 L175.53 92.32 L175.75 92.48 L175.97 92.63 L176.19 92.78 L176.41 92.93 L176.63 93.08 L176.84 93.23 L177.06 93.38 L177.27 93.52 L177.48 93.66 L177.69 93.81 L177.89 93.95 L178.1 94.09 L178.3 94.23 L178.5 94.37 L178.7 94.51 L178.9 94.64 L179.09 94.78 L179.29 94.91 L179.48 95.04 L179.67 95.18 L179.86 95.31 L180.05 95.44 L180.24 95.57 L180.43 95.69 L180.61 95.82 L180.8 95.95 L180.98 96.07 L181.16 96.19 L181.34 96.32 L181.52 96.44 L181.69 96.56 L181.87 96.68 L182.05 96.79 L182.22 96.91 L182.39 97.03 L182.56 97.14 L182.73 97.26 L182.9 97.37 L183.07 97.49 L183.24 97.6 L183.4 97.71 L183.57 97.82 L183.73 97.93 L183.89 98.04 L184.05 98.15 L184.22 98.25 L184.37 98.36 L184.53 98.47 L184.69 98.57 L184.85 98.68 L185 98.78 L185.16 98.88 L185.31 98.99 L185.46 99.09 L185.62 99.19 L185.77 99.29 L185.92 99.39 L186.07 99.49 L186.21 99.59 L186.36 99.69 L186.51 99.79 L186.65 99.88 L186.8 99.98 L186.94 100.08 L187.09 100.17 L187.23 100.27 L187.37 100.36 L187.51 100.46 L187.65 100.55 L187.79 100.65 L187.93 100.74 L188.07 100.83 L188.2 100.92 L188.34 101.01 L188.48 101.11 L188.61 101.2 L188.75 101.29 L188.88 101.38 L189.01 101.47 L189.14 101.55 L189.28 101.64 L189.41 101.73 L189.54 101.82 L189.67 101.91 L189.8 101.99 L189.92 102.08 L190.05 102.17 L190.18 102.25 L190.3 102.34 L190.43 102.42 L190.55 102.51 L190.68 102.59 L190.8 102.68 L190.93 102.76 L191.05 102.84 L191.17 102.93 L191.29 103.01 L191.41 103.09 L191.53 103.18 L191.65 103.26 L191.77 103.34 L191.89 103.42 L192.01 103.5 L192.13 103.58 L192.24 103.66 L192.36 103.74 L192.48 103.82 L192.59 103.9 L192.71 103.98 L192.82 104.06 L192.93 104.14 L193.05 104.22 L193.16 104.3 L193.27 104.38 L193.38 104.46 L193.49 104.53 L193.61 104.61 L193.72 104.69 L193.83 104.76 L193.94 104.84 L194.04 104.92 L194.15 104.99 L194.26 105.07 L194.37 105.15 L194.48 105.22 L194.58 105.3 L194.69 105.37 L194.79 105.45 L194.9 105.52 L195 105.6 L195.11 105.67 L195.21 105.75 L195.32 105.82 L195.42 105.89 L195.52 105.97 L195.62 106.04 L195.73 106.11 L195.83 106.19 L195.93 106.26 L196.03 106.33 L196.13 106.41 L196.23 106.48 L196.33 106.55 L196.43 106.62 L196.53 106.69 L196.63 106.77 L196.72 106.84 L196.82 106.91 L196.92 106.98 L197.02 107.05 L197.11 107.12 L197.21 107.19 L197.3 107.26 L197.4 107.33 L197.5 107.4 L197.59 107.48 L197.68 107.55 L197.78 107.61 L197.87 107.68 L197.97 107.75 L198.06 107.82 L198.15 107.89 L198.24 107.96 L198.34 108.03 L198.43 108.1 L198.52 108.17 L198.61 108.24 L198.7 108.31 L198.79 108.37 L198.88 108.44 L198.97 108.51 L199.06 108.58 L199.15 108.65 L199.24 108.71 L199.33 108.78 L199.41 108.85 L199.5 108.92 L199.59 108.98 L199.68 109.05 L199.76 109.12 L199.85 109.18 L199.94 109.25 L200.02 109.32 L200.11 109.38 L200.19 109.45 L200.28 109.52 L200.36 109.58 L200.45 109.65 L200.53 109.72 L200.62 109.78 L200.7 109.85 L200.78 109.91 L200.87 109.98 L200.95 110.04 L201.03 110.11 L201.12 110.17 L201.2 110.24 L201.28 110.3 L201.36 110.37 L201.44 110.43 L201.52 110.5 L201.61 110.56 L201.69 110.63 L201.77 110.69 L201.85 110.76 L201.93 110.82 L202.01 110.88 L202.09 110.95 L202.16 111.01 L202.24 111.08 L202.32 111.14 L202.4 111.2 L202.48 111.27 L202.56 111.33 L202.63 111.39 L202.71 111.45 L202.79 111.52 L202.87 111.58 L202.94 111.64 L203.02 111.71 L203.1 111.77 L203.17 111.83 L203.25 111.89 L203.32 111.95 L203.4 112.02 L203.47 112.08 L203.55 112.14 L203.62 112.2 L203.7 112.26 L203.77 112.33 L203.85 112.39 L203.92 112.45 L203.99 112.51 L204.07 112.57 L204.14 112.63 L204.21 112.69 L204.29 112.75 L204.36 112.81 L204.43 112.87 L204.5 112.93 L204.57 112.99 L204.65 113.06 L204.72 113.12 L204.79 113.18 L204.86 113.24 L204.93 113.3 L205 113.35 L205.07 113.41 L205.14 113.47 L205.21 113.53 L205.28 113.59 L205.35 113.65 L205.42 113.71 L205.49 113.77 L205.56 113.83 L205.63 113.89 L205.7 113.95 L205.77 114 L205.84 114.06 L205.9 114.12 L205.97 114.18 L206.04 114.24 L206.11 114.3 L206.18 114.35 L206.24 114.41 L206.31 114.47 L206.38 114.53 L206.44 114.58 L206.51 114.64 L206.58 114.7 L206.64 114.76 L206.71 114.81 L206.78 114.87 L206.84 114.93 L206.91 114.99 L206.97 115.04 L207.04 115.1 L207.1 115.16 L207.17 115.21 L207.23 115.27 L207.3 115.32 L207.36 115.38 L207.43 115.44 L207.49 115.49 L207.55 115.55 L207.62 115.6 L207.68 115.66 L207.75 115.72 L207.81 115.77 L207.87 115.83 L207.94 115.88 L208 115.94 L208.06 115.99 L208.12 116.05 L208.19 116.1 L208.25 116.16 L208.31 116.21 L208.37 116.27 L208.43 116.32 L208.5 116.38 L208.56 116.43 L208.62 116.48 L208.68 116.54 L208.74 116.59 L208.8 116.65 L208.86 116.7 L208.92 116.75 L208.98 116.81 L209.04 116.86 L209.1 116.92 L209.16 116.97 L209.22 117.02 L209.28 117.08 L209.34 117.13 L209.4 117.18 L209.46 117.23 L209.52 117.29 L209.58 117.34 L209.64 117.39 L209.7 117.45 L209.76 117.5 L209.82 117.55 L209.87 117.6 L209.93 117.66 L209.99 117.71 L210.05 117.76 L210.11 117.81 L210.16 117.86 L210.22 117.92 L210.28 117.97 L210.34 118.02 L210.39 118.07 L210.45 118.12 L210.51 118.17 L210.56 118.23 L210.62 118.28 L210.68 118.33 L210.73 118.38 L210.79 118.43 L210.85 118.48 L210.9 118.53 L210.96 118.58 L211.01 118.63 L211.07 118.68 L211.13 118.73 L211.18 118.78 L211.24 118.84 L211.29 118.89 L211.35 118.94 L211.4 118.99 L211.46 119.04 L211.51 119.09 L211.57 119.14 L211.62 119.19 L211.68 119.23 L211.73 119.28 L211.78 119.33 L211.84 119.38 L211.89 119.43 L211.95 119.48 L212 119.53 L212.05 119.58 L212.11 119.63 L212.16 119.68 L212.21 119.73 L212.27 119.78 L212.32 119.82 L212.37 119.87 L212.43 119.92 L212.48 119.97 L212.53 120.02 L212.58 120.07 L212.64 120.12 L212.69 120.16 L212.74 120.21 L212.79 120.26 L212.84 120.31 L212.9 120.36 L212.95 120.4 L213 120.45 L213.05 120.5 L213.1 120.55 L213.15 120.59 L213.2 120.64 L213.26 120.69 L213.31 120.74 L213.36 120.78" fill="none" stroke="#f0a000" stroke-width="1.0"/>
<g fill="#fff" stroke="#f0a000" stroke-width="1.15">
<path d="M55.28 29.08L57.59 32.6L55.28 36.12L52.97 32.6Z"/>
<path d="M72.91 34.62L75.22 38.14L72.91 41.66L70.6 38.14Z"/>
<path d="M83.22 36.19L85.53 39.71L83.22 43.23L80.91 39.71Z"/>
<path d="M90.54 38.4L92.85 41.92L90.54 45.44L88.23 41.92Z"/>
<path d="M96.22 41.13L98.53 44.65L96.22 48.17L93.91 44.65Z"/>
<path d="M100.86 43.19L103.17 46.71L100.86 50.23L98.55 46.71Z"/>
<path d="M104.78 44.92L107.09 48.44L104.78 51.96L102.47 48.44Z"/>
<path d="M108.17 46.67L110.48 50.19L108.17 53.71L105.86 50.19Z"/>
<path d="M111.17 48.32L113.48 51.84L111.17 55.36L108.86 51.84Z"/>
<path d="M113.85 49.86L116.16 53.38L113.85 56.9L111.54 53.38Z"/>
<path d="M116.27 51.28L118.58 54.8L116.27 58.32L113.96 54.8Z"/>
<path d="M118.49 52.59L120.8 56.11L118.49 59.63L116.18 56.11Z"/>
<path d="M120.52 53.79L122.83 57.31L120.52 60.83L118.21 57.31Z"/>
<path d="M122.41 54.9L124.72 58.42L122.41 61.94L120.1 58.42Z"/>
<path d="M124.16 55.93L126.47 59.45L124.16 62.97L121.85 59.45Z"/>
<path d="M125.8 56.9L128.11 60.42L125.8 63.94L123.49 60.42Z"/>
<path d="M127.35 57.82L129.66 61.34L127.35 64.86L125.04 61.34Z"/>
<path d="M128.8 58.68L131.11 62.2L128.8 65.72L126.49 62.2Z"/>
<path d="M130.18 59.5L132.49 63.02L130.18 66.54L127.87 63.02Z"/>
<path d="M131.48 60.29L133.79 63.81L131.48 67.33L129.17 63.81Z"/>
<path d="M132.72 61.03L135.03 64.55L132.72 68.07L130.41 64.55Z"/>
<path d="M133.91 61.75L136.22 65.27L133.91 68.79L131.6 65.27Z"/>
<path d="M135.04 62.44L137.35 65.96L135.04 69.48L132.73 65.96Z"/>
<path d="M136.12 63.09L138.43 66.61L136.12 70.13L133.81 66.61Z"/>
</g>
<path d="M137.16 63.73L139.47 67.25L137.16 70.77L134.85 67.25ZM138.15 64.34L140.46 67.86L138.15 71.38L135.84 67.86ZM139.11 64.93L141.42 68.45L139.11 71.97L136.8 68.45ZM140.04 65.5L142.35 69.02L140.04 72.54L137.73 69.02ZM140.93 66.06L143.24 69.58L140.93 73.1L138.62 69.58ZM141.79 66.59L144.1 70.11L141.79 73.63L139.48 70.11ZM142.63 67.12L144.94 70.64L142.63 74.16L140.32 70.64ZM143.44 67.62L145.75 71.14L143.44 74.66L141.13 71.14ZM144.22 68.11L146.53 71.63L144.22 75.15L141.91 71.63ZM144.98 68.59L147.29 72.11L144.98 75.63L142.67 72.11ZM145.72 69.06L148.03 72.58L145.72 76.1L143.41 72.58ZM146.43 69.51L148.74 73.03L146.43 76.55L144.12 73.03ZM147.13 69.95L149.44 73.47L147.13 76.99L144.82 73.47ZM147.81 70.38L150.12 73.9L147.81 77.42L145.5 73.9ZM148.47 70.8L150.78 74.32L148.47 77.84L146.16 74.32ZM149.11 71.21L151.42 74.73L149.11 78.25L146.8 74.73ZM149.74 71.61L152.05 75.13L149.74 78.65L147.43 75.13ZM150.35 72.01L152.66 75.53L150.35 79.05L148.04 75.53ZM150.95 72.39L153.26 75.91L150.95 79.43L148.64 75.91ZM151.54 72.77L153.85 76.29L151.54 79.81L149.23 76.29ZM152.11 73.13L154.42 76.65L152.11 80.17L149.8 76.65ZM152.67 73.49L154.98 77.01L152.67 80.53L150.36 77.01ZM153.21 73.85L155.52 77.37L153.21 80.89L150.9 77.37ZM153.75 74.19L156.06 77.71L153.75 81.23L151.44 77.71ZM154.27 74.53L156.58 78.05L154.27 81.57L151.96 78.05ZM154.79 74.87L157.1 78.39L154.79 81.91L152.48 78.39ZM155.29 75.2L157.6 78.72L155.29 82.24L152.98 78.72ZM155.79 75.52L158.1 79.04L155.79 82.56L153.48 79.04ZM156.27 75.83L158.58 79.35L156.27 82.87L153.96 79.35ZM156.75 76.14L159.06 79.66L156.75 83.18L154.44 79.66ZM157.21 76.45L159.52 79.97L157.21 83.49L154.9 79.97ZM157.67 76.75L159.98 80.27L157.67 83.79L155.36 80.27ZM158.12 77.04L160.43 80.56L158.12 84.08L155.81 80.56ZM158.56 77.33L160.87 80.85L158.56 84.37L156.25 80.85ZM159 77.62L161.31 81.14L159 84.66L156.69 81.14ZM159.43 77.9L161.74 81.42L159.43 84.94L157.12 81.42ZM159.85 78.18L162.16 81.7L159.85 85.22L157.54 81.7ZM160.26 78.45L162.57 81.97L160.26 85.49L157.95 81.97ZM160.67 78.72L162.98 82.24L160.67 85.76L158.36 82.24ZM161.07 78.99L163.38 82.51L161.07 86.03L158.76 82.51ZM161.46 79.25L163.77 82.77L161.46 86.29L159.15 82.77ZM161.85 79.51L164.16 83.03L161.85 86.55L159.54 83.03ZM162.23 79.76L164.54 83.28L162.23 86.8L159.92 83.28ZM162.61 80.01L164.92 83.53L162.61 87.05L160.3 83.53ZM163.35 80.5L165.66 84.02L163.35 87.54L161.04 84.02ZM164.06 80.99L166.37 84.51L164.06 88.03L161.75 84.51ZM164.76 81.45L167.07 84.97L164.76 88.49L162.45 84.97ZM165.44 81.91L167.75 85.43L165.44 88.95L163.13 85.43ZM166.1 82.36L168.41 85.88L166.1 89.4L163.79 85.88ZM166.74 82.79L169.05 86.31L166.74 89.83L164.43 86.31ZM167.37 83.22L169.68 86.74L167.37 90.26L165.06 86.74ZM167.98 83.64L170.29 87.16L167.98 90.68L165.67 87.16ZM168.58 84.04L170.89 87.56L168.58 91.08L166.27 87.56ZM169.17 84.44L171.48 87.96L169.17 91.48L166.86 87.96ZM169.74 84.83L172.05 88.35L169.74 91.87L167.43 88.35ZM170.3 85.21L172.61 88.73L170.3 92.25L167.99 88.73ZM170.85 85.59L173.16 89.11L170.85 92.63L168.54 89.11ZM171.38 85.95L173.69 89.47L171.38 92.99L169.07 89.47ZM171.91 86.31L174.22 89.83L171.91 93.35L169.6 89.83ZM172.42 86.67L174.73 90.19L172.42 93.71L170.11 90.19ZM172.92 87.01L175.23 90.53L172.92 94.05L170.61 90.53ZM173.42 87.35L175.73 90.87L173.42 94.39L171.11 90.87ZM173.9 87.68L176.21 91.2L173.9 94.72L171.59 91.2ZM174.38 88.01L176.69 91.53L174.38 95.05L172.07 91.53ZM174.84 88.33L177.15 91.85L174.84 95.37L172.53 91.85ZM175.3 88.65L177.61 92.17L175.3 95.69L172.99 92.17ZM175.75 88.96L178.06 92.48L175.75 96L173.44 92.48ZM176.19 89.26L178.5 92.78L176.19 96.3L173.88 92.78ZM176.63 89.56L178.94 93.08L176.63 96.6L174.32 93.08ZM177.06 89.86L179.37 93.38L177.06 96.9L174.75 93.38ZM177.48 90.14L179.79 93.66L177.48 97.18L175.17 93.66ZM177.89 90.43L180.2 93.95L177.89 97.47L175.58 93.95ZM178.3 90.71L180.61 94.23L178.3 97.75L175.99 94.23ZM178.7 90.99L181.01 94.51L178.7 98.03L176.39 94.51ZM179.09 91.26L181.4 94.78L179.09 98.3L176.78 94.78ZM179.48 91.52L181.79 95.04L179.48 98.56L177.17 95.04ZM179.86 91.79L182.17 95.31L179.86 98.83L177.55 95.31ZM180.24 92.05L182.55 95.57L180.24 99.09L177.93 95.57ZM180.61 92.3L182.92 95.82L180.61 99.34L178.3 95.82ZM181.16 92.67L183.47 96.19L181.16 99.71L178.85 96.19ZM181.69 93.04L184 96.56L181.69 100.08L179.38 96.56ZM182.22 93.39L184.53 96.91L182.22 100.43L179.91 96.91ZM182.73 93.74L185.04 97.26L182.73 100.78L180.42 97.26ZM183.24 94.08L185.55 97.6L183.24 101.12L180.93 97.6ZM183.73 94.41L186.04 97.93L183.73 101.45L181.42 97.93ZM184.22 94.73L186.53 98.25L184.22 101.77L181.91 98.25ZM184.69 95.05L187 98.57L184.69 102.09L182.38 98.57ZM185.16 95.36L187.47 98.88L185.16 102.4L182.85 98.88ZM185.62 95.67L187.93 99.19L185.62 102.71L183.31 99.19ZM186.07 95.97L188.38 99.49L186.07 103.01L183.76 99.49ZM186.51 96.27L188.82 99.79L186.51 103.31L184.2 99.79ZM186.94 96.56L189.25 100.08L186.94 103.6L184.63 100.08ZM187.37 96.84L189.68 100.36L187.37 103.88L185.06 100.36ZM187.79 97.13L190.1 100.65L187.79 104.17L185.48 100.65ZM188.2 97.4L190.51 100.92L188.2 104.44L185.89 100.92ZM188.61 97.68L190.92 101.2L188.61 104.72L186.3 101.2ZM189.01 97.95L191.32 101.47L189.01 104.99L186.7 101.47ZM189.41 98.21L191.72 101.73L189.41 105.25L187.1 101.73ZM189.8 98.47L192.11 101.99L189.8 105.51L187.49 101.99ZM190.18 98.73L192.49 102.25L190.18 105.77L187.87 102.25ZM190.55 98.99L192.86 102.51L190.55 106.03L188.24 102.51ZM191.05 99.32L193.36 102.84L191.05 106.36L188.74 102.84ZM191.53 99.66L193.84 103.18L191.53 106.7L189.22 103.18ZM192.01 99.98L194.32 103.5L192.01 107.02L189.7 103.5ZM192.48 100.3L194.79 103.82L192.48 107.34L190.17 103.82ZM192.93 100.62L195.24 104.14L192.93 107.66L190.62 104.14ZM193.38 100.94L195.69 104.46L193.38 107.98L191.07 104.46ZM193.83 101.24L196.14 104.76L193.83 108.28L191.52 104.76ZM194.26 101.55L196.57 105.07L194.26 108.59L191.95 105.07ZM194.69 101.85L197 105.37L194.69 108.89L192.38 105.37ZM195.11 102.15L197.42 105.67L195.11 109.19L192.8 105.67ZM195.52 102.45L197.83 105.97L195.52 109.49L193.21 105.97ZM195.93 102.74L198.24 106.26L195.93 109.78L193.62 106.26ZM196.33 103.03L198.64 106.55L196.33 110.07L194.02 106.55ZM196.72 103.32L199.03 106.84L196.72 110.36L194.41 106.84ZM197.11 103.6L199.42 107.12L197.11 110.64L194.8 107.12ZM197.5 103.88L199.81 107.4L197.5 110.92L195.19 107.4ZM197.87 104.16L200.18 107.68L197.87 111.2L195.56 107.68ZM198.24 104.44L200.55 107.96L198.24 111.48L195.93 107.96ZM198.61 104.72L200.92 108.24L198.61 111.76L196.3 108.24ZM198.97 104.99L201.28 108.51L198.97 112.03L196.66 108.51ZM199.41 105.33L201.72 108.85L199.41 112.37L197.1 108.85ZM199.85 105.66L202.16 109.18L199.85 112.7L197.54 109.18ZM200.28 106L202.59 109.52L200.28 113.04L197.97 109.52ZM200.7 106.33L203.01 109.85L200.7 113.37L198.39 109.85ZM201.12 106.65L203.43 110.17L201.12 113.69L198.81 110.17ZM201.52 106.98L203.83 110.5L201.52 114.02L199.21 110.5ZM201.93 107.3L204.24 110.82L201.93 114.34L199.62 110.82ZM202.32 107.62L204.63 111.14L202.32 114.66L200.01 111.14ZM202.71 107.93L205.02 111.45L202.71 114.97L200.4 111.45ZM203.1 108.25L205.41 111.77L203.1 115.29L200.79 111.77ZM203.47 108.56L205.78 112.08L203.47 115.6L201.16 112.08ZM203.85 108.87L206.16 112.39L203.85 115.91L201.54 112.39ZM204.21 109.17L206.52 112.69L204.21 116.21L201.9 112.69ZM204.57 109.47L206.88 112.99L204.57 116.51L202.26 112.99ZM204.93 109.78L207.24 113.3L204.93 116.82L202.62 113.3ZM205.28 110.07L207.59 113.59L205.28 117.11L202.97 113.59ZM205.63 110.37L207.94 113.89L205.63 117.41L203.32 113.89ZM205.97 110.66L208.28 114.18L205.97 117.7L203.66 114.18ZM206.38 111.01L208.69 114.53L206.38 118.05L204.07 114.53ZM206.78 111.35L209.09 114.87L206.78 118.39L204.47 114.87ZM207.17 111.69L209.48 115.21L207.17 118.73L204.86 115.21ZM207.55 112.03L209.86 115.55L207.55 119.07L205.24 115.55ZM207.94 112.36L210.25 115.88L207.94 119.4L205.63 115.88ZM208.31 112.69L210.62 116.21L208.31 119.73L206 116.21ZM208.68 113.02L210.99 116.54L208.68 120.06L206.37 116.54ZM209.04 113.34L211.35 116.86L209.04 120.38L206.73 116.86ZM209.4 113.66L211.71 117.18L209.4 120.7L207.09 117.18ZM209.76 113.98L212.07 117.5L209.76 121.02L207.45 117.5ZM210.11 114.29L212.42 117.81L210.11 121.33L207.8 117.81ZM210.45 114.6L212.76 118.12L210.45 121.64L208.14 118.12ZM210.79 114.91L213.1 118.43L210.79 121.95L208.48 118.43ZM211.13 115.21L213.44 118.73L211.13 122.25L208.82 118.73ZM211.51 115.57L213.82 119.09L211.51 122.61L209.2 119.09ZM211.89 115.91L214.2 119.43L211.89 122.95L209.58 119.43ZM212.27 116.26L214.58 119.78L212.27 123.3L209.96 119.78ZM212.64 116.6L214.95 120.12L212.64 123.64L210.33 120.12ZM213 116.93L215.31 120.45L213 123.97L210.69 120.45ZM213.36 117.26L215.67 120.78L213.36 124.3L211.05 120.78Z" fill="#fff" stroke="none"/>
<path d="M137.16 63.73L139.47 67.25L137.16 70.77L134.85 67.25ZM138.15 64.34L140.46 67.86L138.15 71.38L135.84 67.86ZM139.11 64.93L141.42 68.45L139.11 71.97L136.8 68.45ZM140.04 65.5L142.35 69.02L140.04 72.54L137.73 69.02ZM140.93 66.06L143.24 69.58L140.93 73.1L138.62 69.58ZM141.79 66.59L144.1 70.11L141.79 73.63L139.48 70.11ZM142.63 67.12L144.94 70.64L142.63 74.16L140.32 70.64ZM143.44 67.62L145.75 71.14L143.44 74.66L141.13 71.14ZM144.22 68.11L146.53 71.63L144.22 75.15L141.91 71.63ZM144.98 68.59L147.29 72.11L144.98 75.63L142.67 72.11ZM145.72 69.06L148.03 72.58L145.72 76.1L143.41 72.58ZM146.43 69.51L148.74 73.03L146.43 76.55L144.12 73.03ZM147.13 69.95L149.44 73.47L147.13 76.99L144.82 73.47ZM147.81 70.38L150.12 73.9L147.81 77.42L145.5 73.9ZM148.47 70.8L150.78 74.32L148.47 77.84L146.16 74.32ZM149.11 71.21L151.42 74.73L149.11 78.25L146.8 74.73ZM149.74 71.61L152.05 75.13L149.74 78.65L147.43 75.13ZM150.35 72.01L152.66 75.53L150.35 79.05L148.04 75.53ZM150.95 72.39L153.26 75.91L150.95 79.43L148.64 75.91ZM151.54 72.77L153.85 76.29L151.54 79.81L149.23 76.29ZM152.11 73.13L154.42 76.65L152.11 80.17L149.8 76.65ZM152.67 73.49L154.98 77.01L152.67 80.53L150.36 77.01ZM153.21 73.85L155.52 77.37L153.21 80.89L150.9 77.37ZM153.75 74.19L156.06 77.71L153.75 81.23L151.44 77.71ZM154.27 74.53L156.58 78.05L154.27 81.57L151.96 78.05ZM154.79 74.87L157.1 78.39L154.79 81.91L152.48 78.39ZM155.29 75.2L157.6 78.72L155.29 82.24L152.98 78.72ZM155.79 75.52L158.1 79.04L155.79 82.56L153.48 79.04ZM156.27 75.83L158.58 79.35L156.27 82.87L153.96 79.35ZM156.75 76.14L159.06 79.66L156.75 83.18L154.44 79.66ZM157.21 76.45L159.52 79.97L157.21 83.49L154.9 79.97ZM157.67 76.75L159.98 80.27L157.67 83.79L155.36 80.27ZM158.12 77.04L160.43 80.56L158.12 84.08L155.81 80.56ZM158.56 77.33L160.87 80.85L158.56 84.37L156.25 80.85ZM159 77.62L161.31 81.14L159 84.66L156.69 81.14ZM159.43 77.9L161.74 81.42L159.43 84.94L157.12 81.42ZM159.85 78.18L162.16 81.7L159.85 85.22L157.54 81.7ZM160.26 78.45L162.57 81.97L160.26 85.49L157.95 81.97ZM160.67 78.72L162.98 82.24L160.67 85.76L158.36 82.24ZM161.07 78.99L163.38 82.51L161.07 86.03L158.76 82.51ZM161.46 79.25L163.77 82.77L161.46 86.29L159.15 82.77ZM161.85 79.51L164.16 83.03L161.85 86.55L159.54 83.03ZM162.23 79.76L164.54 83.28L162.23 86.8L159.92 83.28ZM162.61 80.01L164.92 83.53L162.61 87.05L160.3 83.53ZM163.35 80.5L165.66 84.02L163.35 87.54L161.04 84.02ZM164.06 80.99L166.37 84.51L164.06 88.03L161.75 84.51ZM164.76 81.45L167.07 84.97L164.76 88.49L162.45 84.97ZM165.44 81.91L167.75 85.43L165.44 88.95L163.13 85.43ZM166.1 82.36L168.41 85.88L166.1 89.4L163.79 85.88ZM166.74 82.79L169.05 86.31L166.74 89.83L164.43 86.31ZM167.37 83.22L169.68 86.74L167.37 90.26L165.06 86.74ZM167.98 83.64L170.29 87.16L167.98 90.68L165.67 87.16ZM168.58 84.04L170.89 87.56L168.58 91.08L166.27 87.56ZM169.17 84.44L171.48 87.96L169.17 91.48L166.86 87.96ZM169.74 84.83L172.05 88.35L169.74 91.87L167.43 88.35ZM170.3 85.21L172.61 88.73L170.3 92.25L167.99 88.73ZM170.85 85.59L173.16 89.11L170.85 92.63L168.54 89.11ZM171.38 85.95L173.69 89.47L171.38 92.99L169.07 89.47ZM171.91 86.31L174.22 89.83L171.91 93.35L169.6 89.83ZM172.42 86.67L174.73 90.19L172.42 93.71L170.11 90.19ZM172.92 87.01L175.23 90.53L172.92 94.05L170.61 90.53ZM173.42 87.35L175.73 90.87L173.42 94.39L171.11 90.87ZM173.9 87.68L176.21 91.2L173.9 94.72L171.59 91.2ZM174.38 88.01L176.69 91.53L174.38 95.05L172.07 91.53ZM174.84 88.33L177.15 91.85L174.84 95.37L172.53 91.85ZM175.3 88.65L177.61 92.17L175.3 95.69L172.99 92.17ZM175.75 88.96L178.06 92.48L175.75 96L173.44 92.48ZM176.19 89.26L178.5 92.78L176.19 96.3L173.88 92.78ZM176.63 89.56L178.94 93.08L176.63 96.6L174.32 93.08ZM177.06 89.86L179.37 93.38L177.06 96.9L174.75 93.38ZM177.48 90.14L179.79 93.66L177.48 97.18L175.17 93.66ZM177.89 90.43L180.2 93.95L177.89 97.47L175.58 93.95ZM178.3 90.71L180.61 94.23L178.3 97.75L175.99 94.23ZM178.7 90.99L181.01 94.51L178.7 98.03L176.39 94.51ZM179.09 91.26L181.4 94.78L179.09 98.3L176.78 94.78ZM179.48 91.52L181.79 95.04L179.48 98.56L177.17 95.04ZM179.86 91.79L182.17 95.31L179.86 98.83L177.55 95.31ZM180.24 92.05L182.55 95.57L180.24 99.09L177.93 95.57ZM180.61 92.3L182.92 95.82L180.61 99.34L178.3 95.82ZM181.16 92.67L183.47 96.19L181.16 99.71L178.85 96.19ZM181.69 93.04L184 96.56L181.69 100.08L179.38 96.56ZM182.22 93.39L184.53 96.91L182.22 100.43L179.91 96.91ZM182.73 93.74L185.04 97.26L182.73 100.78L180.42 97.26ZM183.24 94.08L185.55 97.6L183.24 101.12L180.93 97.6ZM183.73 94.41L186.04 97.93L183.73 101.45L181.42 97.93ZM184.22 94.73L186.53 98.25L184.22 101.77L181.91 98.25ZM184.69 95.05L187 98.57L184.69 102.09L182.38 98.57ZM185.16 95.36L187.47 98.88L185.16 102.4L182.85 98.88ZM185.62 95.67L187.93 99.19L185.62 102.71L183.31 99.19ZM186.07 95.97L188.38 99.49L186.07 103.01L183.76 99.49ZM186.51 96.27L188.82 99.79L186.51 103.31L184.2 99.79ZM186.94 96.56L189.25 100.08L186.94 103.6L184.63 100.08ZM187.37 96.84L189.68 100.36L187.37 103.88L185.06 100.36ZM187.79 97.13L190.1 100.65L187.79 104.17L185.48 100.65ZM188.2 97.4L190.51 100.92L188.2 104.44L185.89 100.92ZM188.61 97.68L190.92 101.2L188.61 104.72L186.3 101.2ZM189.01 97.95L191.32 101.47L189.01 104.99L186.7 101.47ZM189.41 98.21L191.72 101.73L189.41 105.25L187.1 101.73ZM189.8 98.47L192.11 101.99L189.8 105.51L187.49 101.99ZM190.18 98.73L192.49 102.25L190.18 105.77L187.87 102.25ZM190.55 98.99L192.86 102.51L190.55 106.03L188.24 102.51ZM191.05 99.32L193.36 102.84L191.05 106.36L188.74 102.84ZM191.53 99.66L193.84 103.18L191.53 106.7L189.22 103.18ZM192.01 99.98L194.32 103.5L192.01 107.02L189.7 103.5ZM192.48 100.3L194.79 103.82L192.48 107.34L190.17 103.82ZM192.93 100.62L195.24 104.14L192.93 107.66L190.62 104.14ZM193.38 100.94L195.69 104.46L193.38 107.98L191.07 104.46ZM193.83 101.24L196.14 104.76L193.83 108.28L191.52 104.76ZM194.26 101.55L196.57 105.07L194.26 108.59L191.95 105.07ZM194.69 101.85L197 105.37L194.69 108.89L192.38 105.37ZM195.11 102.15L197.42 105.67L195.11 109.19L192.8 105.67ZM195.52 102.45L197.83 105.97L195.52 109.49L193.21 105.97ZM195.93 102.74L198.24 106.26L195.93 109.78L193.62 106.26ZM196.33 103.03L198.64 106.55L196.33 110.07L194.02 106.55ZM196.72 103.32L199.03 106.84L196.72 110.36L194.41 106.84ZM197.11 103.6L199.42 107.12L197.11 110.64L194.8 107.12ZM197.5 103.88L199.81 107.4L197.5 110.92L195.19 107.4ZM197.87 104.16L200.18 107.68L197.87 111.2L195.56 107.68ZM198.24 104.44L200.55 107.96L198.24 111.48L195.93 107.96ZM198.61 104.72L200.92 108.24L198.61 111.76L196.3 108.24ZM198.97 104.99L201.28 108.51L198.97 112.03L196.66 108.51ZM199.41 105.33L201.72 108.85L199.41 112.37L197.1 108.85ZM199.85 105.66L202.16 109.18L199.85 112.7L197.54 109.18ZM200.28 106L202.59 109.52L200.28 113.04L197.97 109.52ZM200.7 106.33L203.01 109.85L200.7 113.37L198.39 109.85ZM201.12 106.65L203.43 110.17L201.12 113.69L198.81 110.17ZM201.52 106.98L203.83 110.5L201.52 114.02L199.21 110.5ZM201.93 107.3L204.24 110.82L201.93 114.34L199.62 110.82ZM202.32 107.62L204.63 111.14L202.32 114.66L200.01 111.14ZM202.71 107.93L205.02 111.45L202.71 114.97L200.4 111.45ZM203.1 108.25L205.41 111.77L203.1 115.29L200.79 111.77ZM203.47 108.56L205.78 112.08L203.47 115.6L201.16 112.08ZM203.85 108.87L206.16 112.39L203.85 115.91L201.54 112.39ZM204.21 109.17L206.52 112.69L204.21 116.21L201.9 112.69ZM204.57 109.47L206.88 112.99L204.57 116.51L202.26 112.99ZM204.93 109.78L207.24 113.3L204.93 116.82L202.62 113.3ZM205.28 110.07L207.59 113.59L205.28 117.11L202.97 113.59ZM205.63 110.37L207.94 113.89L205.63 117.41L203.32 113.89ZM205.97 110.66L208.28 114.18L205.97 117.7L203.66 114.18ZM206.38 111.01L208.69 114.53L206.38 118.05L204.07 114.53ZM206.78 111.35L209.09 114.87L206.78 118.39L204.47 114.87ZM207.17 111.69L209.48 115.21L207.17 118.73L204.86 115.21ZM207.55 112.03L209.86 115.55L207.55 119.07L205.24 115.55ZM207.94 112.36L210.25 115.88L207.94 119.4L205.63 115.88ZM208.31 112.69L210.62 116.21L208.31 119.73L206 116.21ZM208.68 113.02L210.99 116.54L208.68 120.06L206.37 116.54ZM209.04 113.34L211.35 116.86L209.04 120.38L206.73 116.86ZM209.4 113.66L211.71 117.18L209.4 120.7L207.09 117.18ZM209.76 113.98L212.07 117.5L209.76 121.02L207.45 117.5ZM210.11 114.29L212.42 117.81L210.11 121.33L207.8 117.81ZM210.45 114.6L212.76 118.12L210.45 121.64L208.14 118.12ZM210.79 114.91L213.1 118.43L210.79 121.95L208.48 118.43ZM211.13 115.21L213.44 118.73L211.13 122.25L208.82 118.73ZM211.51 115.57L213.82 119.09L211.51 122.61L209.2 119.09ZM211.89 115.91L214.2 119.43L211.89 122.95L209.58 119.43ZM212.27 116.26L214.58 119.78L212.27 123.3L209.96 119.78ZM212.64 116.6L214.95 120.12L212.64 123.64L210.33 120.12ZM213 116.93L215.31 120.45L213 123.97L210.69 120.45ZM213.36 117.26L215.67 120.78L213.36 124.3L211.05 120.78Z" fill="none" stroke="#f0a000" stroke-width="1.15"/>
<path d="M213.36 117.26L215.67 120.78L213.36 124.3L211.05 120.78Z" fill="#fff" stroke="#f0a000" stroke-width="1.15"/>
<text x="192" y="43.2" font-size="17.5" text-anchor="start" fill="#262626" style="font-family:'Liberation Serif',serif" textLength="19.7" lengthAdjust="spacing" >(<tspan font-style="italic">a</tspan>)</text>
<text x="102.9" y="137.6" font-size="15.5" text-anchor="start" fill="#262626" style="font-style:italic;font-family:'Liberation Serif',serif" >k</text>
<text x="111.3" y="132" font-size="10" text-anchor="start" fill="#262626" style="font-family:'Liberation Serif',serif" textLength="11.7" lengthAdjust="spacing" >&#8722;4</text>
<rect x="43.5" y="24.5" width="176" height="149" fill="none" stroke="#4a4a4a" stroke-width="1.0"/>
<path d="M67.1 173.5v-2.3M67.1 24.5v2.3M125.67 173.5v-2.3M125.67 24.5v2.3M184.24 173.5v-2.3M184.24 24.5v2.3" stroke="#4a4a4a" stroke-width="1.0" fill="none"/>
<path d="M49.47 173.5v-1.3M49.47 24.5v1.3M54.11 173.5v-1.3M54.11 24.5v1.3M58.03 173.5v-1.3M58.03 24.5v1.3M61.42 173.5v-1.3M61.42 24.5v1.3M64.42 173.5v-1.3M64.42 24.5v1.3M84.73 173.5v-1.3M84.73 24.5v1.3M95.04 173.5v-1.3M95.04 24.5v1.3M102.36 173.5v-1.3M102.36 24.5v1.3M108.04 173.5v-1.3M108.04 24.5v1.3M112.68 173.5v-1.3M112.68 24.5v1.3M116.6 173.5v-1.3M116.6 24.5v1.3M119.99 173.5v-1.3M119.99 24.5v1.3M122.99 173.5v-1.3M122.99 24.5v1.3M143.3 173.5v-1.3M143.3 24.5v1.3M153.61 173.5v-1.3M153.61 24.5v1.3M160.93 173.5v-1.3M160.93 24.5v1.3M166.61 173.5v-1.3M166.61 24.5v1.3M171.25 173.5v-1.3M171.25 24.5v1.3M175.17 173.5v-1.3M175.17 24.5v1.3M178.56 173.5v-1.3M178.56 24.5v1.3M181.56 173.5v-1.3M181.56 24.5v1.3M201.87 173.5v-1.3M201.87 24.5v1.3M212.18 173.5v-1.3M212.18 24.5v1.3" stroke="#4a4a4a" stroke-width="1.0" fill="none"/>
<path d="M43.5 173h2.3M219.5 173h-2.3M43.5 123.5h2.3M219.5 123.5h-2.3M43.5 74h2.3M219.5 74h-2.3M43.5 24.5h2.3M219.5 24.5h-2.3" stroke="#4a4a4a" stroke-width="1.0" fill="none"/>
<path d="M43.5 163.1h1.2M219.5 163.1h-1.2M43.5 153.2h1.2M219.5 153.2h-1.2M43.5 143.3h1.2M219.5 143.3h-1.2M43.5 133.4h1.2M219.5 133.4h-1.2M43.5 113.6h1.2M219.5 113.6h-1.2M43.5 103.7h1.2M219.5 103.7h-1.2M43.5 93.8h1.2M219.5 93.8h-1.2M43.5 83.9h1.2M219.5 83.9h-1.2M43.5 64.1h1.2M219.5 64.1h-1.2M43.5 54.2h1.2M219.5 54.2h-1.2M43.5 44.3h1.2M219.5 44.3h-1.2M43.5 34.4h1.2M219.5 34.4h-1.2" stroke="#4a4a4a" stroke-width="1.0" fill="none"/>
<text x="60" y="185.9" font-size="10.6" fill="#262626" style="font-family:'Liberation Serif',serif">10<tspan font-size="7.4" dx="0.5" dy="-3.7">1</tspan></text>
<text x="118.57" y="185.9" font-size="10.6" fill="#262626" style="font-family:'Liberation Serif',serif">10<tspan font-size="7.4" dx="0.5" dy="-3.7">2</tspan></text>
<text x="177.14" y="185.9" font-size="10.6" fill="#262626" style="font-family:'Liberation Serif',serif">10<tspan font-size="7.4" dx="0.5" dy="-3.7">3</tspan></text>
<text x="25.3" y="27.5" font-size="10.6" fill="#262626" style="font-family:'Liberation Serif',serif">10<tspan font-size="7.4" dx="0.5" dy="-3.7">5</tspan></text>
<text x="25.3" y="77" font-size="10.6" fill="#262626" style="font-family:'Liberation Serif',serif">10<tspan font-size="7.4" dx="0.5" dy="-3.7">0</tspan></text>
<text x="20.71" y="126.5" font-size="10.6" fill="#262626" style="font-family:'Liberation Serif',serif">10<tspan font-size="7.4" dx="0.5" dy="-3.7">&#8722;5</tspan></text>
<text x="17.01" y="176" font-size="10.6" fill="#262626" style="font-family:'Liberation Serif',serif">10<tspan font-size="7.4" dx="0.5" dy="-3.7">&#8722;10</tspan></text>
<text x="131.7" y="200.8" font-size="14.5" text-anchor="middle" fill="#262626" style="font-style:italic;font-family:'Liberation Serif',serif" textLength="15.8" lengthAdjust="spacing" >kL</text>
<text x="10.3" y="99" font-size="14" text-anchor="middle" fill="#262626" style="font-family:'Liberation Serif',serif" textLength="25.5" lengthAdjust="spacing" transform="rotate(-90 10.3 99)"><tspan font-style="italic">E</tspan>(<tspan font-style="italic">k</tspan>)</text>
<path d="M308.5 42.3 L390.5 73.6" fill="none" stroke="#000" stroke-width="1.25" stroke-dasharray="1.0,0.75"/>
<path d="M308.5 58 L389.5 89.4" fill="none" stroke="#000" stroke-width="1.25" stroke-dasharray="1.0,0.75"/>
<path d="M308.5 73 L390.5 104.2" fill="none" stroke="#000" stroke-width="1.25" stroke-dasharray="1.0,0.75"/>
<path d="M280.13 65.5 L297.69 67.34 L307.96 71.8 L315.25 70.3 L320.9 71.91 L325.52 74.21 L329.42 75.33 L332.81 76.11 L335.79 76.78 L338.46 77.37 L340.87 77.92 L343.08 78.43 L345.1 78.92 L346.98 79.4 L348.73 79.86 L350.36 80.31 L351.9 80.74 L353.35 81.16 L354.72 81.57 L356.02 81.97 L357.25 82.35 L358.43 82.73 L359.56 83.11 L360.64 83.47 L361.67 83.83 L362.66 84.18 L363.62 84.53 L364.54 84.87 L365.43 85.21 L366.29 85.54 L367.12 85.86 L367.92 86.18 L368.7 86.5 L369.46 86.82 L370.19 87.13 L370.91 87.43 L371.6 87.74 L372.28 88.04 L372.93 88.34 L373.58 88.63 L374.2 88.92 L374.81 89.21 L375.41 89.49 L375.99 89.78 L376.56 90.06 L377.12 90.34 L377.66 90.62 L378.19 90.89 L378.72 91.16 L379.23 91.43 L379.73 91.7 L380.22 91.97 L380.7 92.24 L381.18 92.5 L381.64 92.76 L382.1 93.02 L382.55 93.28 L382.99 93.54 L383.42 93.79 L383.85 94.05 L384.27 94.3 L384.68 94.55 L385.08 94.8 L385.48 95.04 L385.88 95.29 L386.26 95.54 L386.64 95.78 L387.02 96.02 L387.39 96.27 L387.75 96.51 L388.11 96.75 L388.47 96.99 L388.82 97.22 L389.16 97.46 L389.5 97.7 L389.84 97.93 L390.17 98.17 L390.49 98.4 L390.82 98.63 L391.14 98.86 L391.45 99.09 L391.76 99.32 L392.07 99.55 L392.37 99.78 L392.67 100 L392.97 100.23 L393.26 100.45 L393.55 100.68 L393.84 100.9 L394.12 101.12 L394.4 101.34 L394.68 101.56 L394.95 101.78 L395.22 102 L395.49 102.22 L395.75 102.44 L396.02 102.66 L396.28 102.87 L396.53 103.09 L396.79 103.3 L397.04 103.52 L397.29 103.73 L397.54 103.95 L397.78 104.16 L398.02 104.37 L398.26 104.58 L398.5 104.8 L398.74 105.01 L398.97 105.22 L399.2 105.43 L399.43 105.64 L399.66 105.85 L399.88 106.05 L400.11 106.26 L400.33 106.47 L400.55 106.68 L400.77 106.88 L400.98 107.09 L401.19 107.29 L401.41 107.5 L401.62 107.7 L401.83 107.91 L402.03 108.11 L402.24 108.31 L402.44 108.51 L402.64 108.71 L402.84 108.91 L403.04 109.12 L403.24 109.32 L403.43 109.51 L403.63 109.71 L403.82 109.91 L404.01 110.11 L404.2 110.31 L404.39 110.5 L404.58 110.7 L404.76 110.9 L404.95 111.09 L405.13 111.29 L405.31 111.48 L405.49 111.68 L405.67 111.87 L405.85 112.06 L406.03 112.26 L406.2 112.45 L406.37 112.64 L406.55 112.84 L406.72 113.03 L406.89 113.22 L407.06 113.41 L407.23 113.6 L407.39 113.8 L407.56 113.99 L407.73 114.18 L407.89 114.37 L408.05 114.56 L408.21 114.75 L408.38 114.94 L408.54 115.13 L408.69 115.32 L408.85 115.51 L409.01 115.69 L409.16 115.88 L409.32 116.07 L409.47 116.26 L409.63 116.44 L409.78 116.63 L409.93 116.82 L410.08 117 L410.23 117.19 L410.38 117.38 L410.53 117.56 L410.67 117.75 L410.82 117.93 L410.96 118.12 L411.11 118.3 L411.25 118.48 L411.39 118.67 L411.54 118.85 L411.68 119.03 L411.82 119.22 L411.96 119.4 L412.1 119.58 L412.23 119.76 L412.37 119.94 L412.51 120.13 L412.64 120.31 L412.78 120.49 L412.91 120.67 L413.05 120.85 L413.18 121.03 L413.31 121.21 L413.44 121.39 L413.58 121.56 L413.71 121.74 L413.84 121.92 L413.96 122.1 L414.09 122.28 L414.22 122.45 L414.35 122.63 L414.47 122.81 L414.6 122.98 L414.72 123.16 L414.85 123.34 L414.97 123.51 L415.1 123.69 L415.22 123.86 L415.34 124.04 L415.46 124.21 L415.58 124.39 L415.7 124.56 L415.82 124.74 L415.94 124.91 L416.06 125.09 L416.18 125.26 L416.3 125.44 L416.41 125.61 L416.53 125.79 L416.65 125.96 L416.76 126.13 L416.88 126.31 L416.99 126.48 L417.1 126.66 L417.22 126.83 L417.33 127 L417.44 127.18 L417.55 127.35 L417.67 127.52 L417.78 127.7 L417.89 127.87 L418 128.04 L418.11 128.21 L418.22 128.39 L418.32 128.56 L418.43 128.73 L418.54 128.9 L418.65 129.07 L418.75 129.24 L418.86 129.42 L418.97 129.59 L419.07 129.76 L419.18 129.93 L419.28 130.1 L419.38 130.27 L419.49 130.44 L419.59 130.61 L419.69 130.78 L419.8 130.95 L419.9 131.12 L420 131.29 L420.1 131.46 L420.2 131.62 L420.3 131.79 L420.4 131.96 L420.5 132.13 L420.6 132.3 L420.7 132.46 L420.8 132.63 L420.9 132.8 L420.99 132.97 L421.09 133.13 L421.19 133.3 L421.28 133.47 L421.38 133.63 L421.48 133.8 L421.57 133.96 L421.67 134.13 L421.76 134.3 L421.86 134.46 L421.95 134.63 L422.04 134.79 L422.14 134.95 L422.23 135.12 L422.32 135.28 L422.41 135.45 L422.51 135.61 L422.6 135.77 L422.69 135.94 L422.78 136.1 L422.87 136.26 L422.96 136.42 L423.05 136.59 L423.14 136.75 L423.23 136.91 L423.32 137.07 L423.41 137.23 L423.5 137.39 L423.58 137.56 L423.67 137.72 L423.76 137.88 L423.85 138.04 L423.93 138.2 L424.02 138.36 L424.11 138.52 L424.19 138.67 L424.28 138.83 L424.36 138.99 L424.45 139.15 L424.53 139.31 L424.62 139.47 L424.7 139.62 L424.79 139.78 L424.87 139.94 L424.95 140.1 L425.04 140.25 L425.12 140.41 L425.2 140.57 L425.28 140.72 L425.37 140.88 L425.45 141.04 L425.53 141.2 L425.61 141.35 L425.69 141.51 L425.77 141.67 L425.85 141.83 L425.93 141.98 L426.01 142.14 L426.09 142.3 L426.17 142.45 L426.25 142.61 L426.33 142.77 L426.41 142.93 L426.49 143.08 L426.57 143.24 L426.65 143.4 L426.72 143.56 L426.8 143.71 L426.88 143.87 L426.96 144.03 L427.03 144.19 L427.11 144.34 L427.19 144.5 L427.26 144.66 L427.34 144.81 L427.41 144.97 L427.49 145.13 L427.56 145.28 L427.64 145.44 L427.71 145.6 L427.79 145.75 L427.86 145.91 L427.94 146.07 L428.01 146.22 L428.09 146.38 L428.16 146.54 L428.23 146.69 L428.31 146.85 L428.38 147 L428.45 147.16 L428.52 147.32 L428.6 147.47 L428.67 147.63 L428.74 147.78 L428.81 147.94 L428.88 148.09 L428.95 148.25 L429.02 148.4 L429.1 148.56 L429.17 148.71 L429.24 148.87 L429.31 149.02 L429.38 149.18 L429.45 149.33 L429.52 149.49 L429.59 149.64 L429.66 149.8 L429.72 149.95 L429.79 150.1 L429.86 150.26 L429.93 150.41 L430 150.56 L430.07 150.72 L430.14 150.87 L430.2 151.02 L430.27 151.18 L430.34 151.33 L430.41 151.48 L430.47 151.63 L430.54 151.79 L430.61 151.94 L430.67 152.09 L430.74 152.24 L430.81 152.39 L430.87 152.54 L430.94 152.7 L431 152.85 L431.07 153 L431.13 153.15 L431.2 153.3 L431.26 153.45 L431.33 153.6 L431.39 153.75 L431.46 153.9 L431.52 154.05 L431.59 154.2 L431.65 154.35 L431.72 154.5 L431.78 154.65 L431.84 154.8 L431.91 154.94 L431.97 155.09 L432.03 155.24 L432.1 155.39 L432.16 155.54 L432.22 155.69 L432.28 155.84 L432.35 155.98 L432.41 156.13 L432.47 156.28 L432.53 156.43 L432.59 156.58 L432.65 156.73 L432.72 156.87 L432.78 157.02 L432.84 157.17 L432.9 157.32 L432.96 157.47 L433.02 157.62 L433.08 157.77 L433.14 157.91 L433.2 158.06 L433.26 158.21 L433.32 158.36 L433.38 158.51 L433.44 158.65 L433.5 158.8 L433.56 158.95 L433.62 159.1 L433.68 159.25 L433.74 159.39 L433.8 159.54 L433.86 159.69 L433.91 159.84 L433.97 159.99 L434.03 160.13 L434.09 160.28 L434.15 160.43 L434.21 160.58 L434.26 160.72 L434.32 160.87 L434.38 161.02 L434.44 161.17 L434.49 161.31 L434.55 161.46 L434.61 161.61 L434.66 161.75 L434.72 161.9 L434.78 162.05 L434.83 162.19 L434.89 162.34 L434.95 162.49 L435 162.63 L435.06 162.78 L435.11 162.93 L435.17 163.07 L435.23 163.22 L435.28 163.37 L435.34 163.51 L435.39 163.66 L435.45 163.8 L435.5 163.95 L435.56 164.09 L435.61 164.24 L435.67 164.38 L435.72 164.53 L435.77 164.68 L435.83 164.82 L435.88 164.97 L435.94 165.11 L435.99 165.26 L436.05 165.4 L436.1 165.54 L436.15 165.69 L436.21 165.83 L436.26 165.98 L436.31 166.12 L436.37 166.27 L436.42 166.41 L436.47 166.55 L436.52 166.7 L436.58 166.84 L436.63 166.98 L436.68 167.13 L436.73 167.27 L436.79 167.41 L436.84 167.56 L436.89 167.7 L436.94 167.84 L437 167.99 L437.05 168.13 L437.1 168.27 L437.15 168.41 L437.2 168.55 L437.25 168.7 L437.3 168.84 L437.36 168.98 L437.41 169.12 L437.46 169.26 L437.51 169.4 L437.56 169.55" fill="none" stroke="#0c6477" stroke-width="1.0"/>
<g fill="#fff" stroke="#0c6477" stroke-width="1.15">
<path d="M280.13 62.09L283.09 67.2L277.16 67.2Z"/>
<path d="M297.69 63.93L300.65 69.04L294.72 69.04Z"/>
<path d="M307.96 68.39L310.93 73.5L304.99 73.5Z"/>
<path d="M315.25 66.89L318.21 72.01L312.28 72.01Z"/>
<path d="M320.9 68.5L323.87 73.62L317.93 73.62Z"/>
<path d="M325.52 70.8L328.48 75.92L322.55 75.92Z"/>
<path d="M329.42 71.92L332.39 77.04L326.46 77.04Z"/>
<path d="M332.81 72.7L335.77 77.81L329.84 77.81Z"/>
<path d="M335.79 73.37L338.76 78.48L332.82 78.48Z"/>
<path d="M338.46 73.96L341.42 79.08L335.49 79.08Z"/>
<path d="M340.87 74.51L343.84 79.62L337.91 79.62Z"/>
<path d="M343.08 75.02L346.04 80.13L340.11 80.13Z"/>
<path d="M345.1 75.51L348.07 80.63L342.14 80.63Z"/>
<path d="M346.98 75.99L349.95 81.11L344.01 81.11Z"/>
<path d="M348.73 76.45L351.7 81.57L345.76 81.57Z"/>
<path d="M350.36 76.9L353.33 82.01L347.4 82.01Z"/>
<path d="M351.9 77.33L354.87 82.44L348.93 82.44Z"/>
<path d="M353.35 77.75L356.31 82.86L350.38 82.86Z"/>
<path d="M354.72 78.16L357.68 83.27L351.75 83.27Z"/>
<path d="M356.02 78.56L358.98 83.67L353.05 83.67Z"/>
<path d="M357.25 78.94L360.22 84.06L354.29 84.06Z"/>
</g>
<path d="M358.43 79.32L361.4 84.44L355.46 84.44ZM359.56 79.7L362.52 84.81L356.59 84.81ZM360.64 80.06L363.6 85.18L357.67 85.18ZM361.67 80.42L364.64 85.54L358.7 85.54ZM362.66 80.77L365.63 85.89L359.7 85.89ZM363.62 81.12L366.59 86.23L360.65 86.23ZM364.54 81.46L367.51 86.57L361.57 86.57ZM365.43 81.8L368.4 86.91L362.46 86.91ZM366.29 82.13L369.26 87.24L363.32 87.24ZM367.12 82.45L370.09 87.57L364.15 87.57ZM367.92 82.77L370.89 87.89L364.96 87.89ZM368.7 83.09L371.67 88.21L365.74 88.21ZM369.46 83.41L372.43 88.52L366.49 88.52ZM370.19 83.72L373.16 88.83L367.23 88.83ZM370.91 84.02L373.87 89.14L367.94 89.14ZM371.6 84.33L374.57 89.44L368.63 89.44ZM372.28 84.63L375.24 89.74L369.31 89.74ZM372.93 84.93L375.9 90.04L369.97 90.04ZM373.58 85.22L376.54 90.33L370.61 90.33ZM374.2 85.51L377.17 90.63L371.23 90.63ZM374.81 85.8L377.78 90.91L371.85 90.91ZM375.41 86.08L378.37 91.2L372.44 91.2ZM375.99 86.37L378.96 91.48L373.02 91.48ZM376.56 86.65L379.53 91.76L373.59 91.76ZM377.12 86.93L380.08 92.04L374.15 92.04ZM377.66 87.21L380.63 92.32L374.69 92.32ZM378.19 87.48L381.16 92.6L375.23 92.6ZM378.72 87.75L381.68 92.87L375.75 92.87ZM379.23 88.02L382.2 93.14L376.26 93.14ZM379.73 88.29L382.7 93.41L376.76 93.41ZM380.22 88.56L383.19 93.68L377.26 93.68ZM380.7 88.83L383.67 93.94L377.74 93.94ZM381.18 89.09L384.15 94.2L378.21 94.2ZM381.64 89.35L384.61 94.47L378.68 94.47ZM382.1 89.61L385.07 94.73L379.13 94.73ZM382.55 89.87L385.51 94.98L379.58 94.98ZM382.99 90.13L385.96 95.24L380.02 95.24ZM383.42 90.38L386.39 95.5L380.45 95.5ZM383.85 90.64L386.81 95.75L380.88 95.75ZM384.27 90.89L387.23 96L381.3 96ZM384.68 91.14L387.64 96.25L381.71 96.25ZM385.08 91.39L388.05 96.5L382.12 96.5ZM385.48 91.63L388.45 96.75L382.52 96.75ZM385.88 91.88L388.84 97L382.91 97ZM386.26 92.13L389.23 97.24L383.3 97.24ZM386.64 92.37L389.61 97.49L383.68 97.49ZM387.39 92.86L390.35 97.97L384.42 97.97ZM388.11 93.34L391.08 98.45L385.15 98.45ZM388.82 93.81L391.78 98.93L385.85 98.93ZM389.5 94.29L392.47 99.4L386.53 99.4ZM390.17 94.76L393.13 99.87L387.2 99.87ZM390.82 95.22L393.78 100.34L387.85 100.34ZM391.45 95.68L394.42 100.8L388.48 100.8ZM392.07 96.14L395.03 101.26L389.1 101.26ZM392.67 96.59L395.64 101.71L389.7 101.71ZM393.26 97.04L396.23 102.16L390.29 102.16ZM393.84 97.49L396.8 102.61L390.87 102.61ZM394.4 97.93L397.37 103.05L391.43 103.05ZM394.95 98.37L397.92 103.49L391.98 103.49ZM395.49 98.81L398.46 103.93L392.52 103.93ZM396.02 99.25L398.98 104.36L393.05 104.36ZM396.53 99.68L399.5 104.79L393.57 104.79ZM397.04 100.11L400.01 105.22L394.07 105.22ZM397.54 100.54L400.5 105.65L394.57 105.65ZM398.02 100.96L400.99 106.08L395.06 106.08ZM398.5 101.39L401.47 106.5L395.54 106.5ZM398.97 101.81L401.94 106.92L396 106.92ZM399.43 102.23L402.4 107.34L396.46 107.34ZM399.88 102.64L402.85 107.76L396.92 107.76ZM400.33 103.06L403.3 108.17L397.36 108.17ZM400.77 103.47L403.73 108.59L397.8 108.59ZM401.19 103.88L404.16 109L398.23 109ZM401.62 104.29L404.58 109.41L398.65 109.41ZM402.03 104.7L405 109.81L399.07 109.81ZM402.44 105.1L405.41 110.22L399.47 110.22ZM402.84 105.5L405.81 110.62L399.88 110.62ZM403.24 105.91L406.21 111.02L400.27 111.02ZM403.63 106.3L406.59 111.42L400.66 111.42ZM404.01 106.7L406.98 111.81L401.05 111.81ZM404.39 107.09L407.36 112.21L401.42 112.21ZM404.76 107.49L407.73 112.6L401.8 112.6ZM405.13 107.88L408.1 112.99L402.16 112.99ZM405.49 108.27L408.46 113.38L402.53 113.38ZM405.85 108.65L408.82 113.77L402.88 113.77ZM406.2 109.04L409.17 114.16L403.23 114.16ZM406.55 109.43L409.51 114.54L403.58 114.54ZM406.89 109.81L409.86 114.93L403.92 114.93ZM407.23 110.19L410.19 115.31L404.26 115.31ZM407.56 110.58L410.53 115.69L404.59 115.69ZM407.89 110.96L410.86 116.07L404.92 116.07ZM408.21 111.34L411.18 116.45L405.25 116.45ZM408.54 111.72L411.5 116.83L405.57 116.83ZM408.85 112.1L411.82 117.21L405.89 117.21ZM409.16 112.47L412.13 117.59L406.2 117.59ZM409.47 112.85L412.44 117.96L406.51 117.96ZM409.78 113.22L412.75 118.34L406.81 118.34ZM410.08 113.59L413.05 118.71L407.11 118.71ZM410.38 113.97L413.35 119.08L407.41 119.08ZM410.67 114.34L413.64 119.45L407.71 119.45ZM410.96 114.71L413.93 119.82L408 119.82ZM411.25 115.07L414.22 120.19L408.29 120.19ZM411.54 115.44L414.5 120.56L408.57 120.56ZM411.82 115.81L414.78 120.92L408.85 120.92ZM412.1 116.17L415.06 121.29L409.13 121.29ZM412.37 116.53L415.34 121.65L409.41 121.65ZM412.64 116.9L415.61 122.01L409.68 122.01ZM412.91 117.26L415.88 122.37L409.95 122.37ZM413.31 117.8L416.28 122.91L410.35 122.91ZM413.71 118.33L416.67 123.45L410.74 123.45ZM414.09 118.87L417.06 123.98L411.13 123.98ZM414.47 119.4L417.44 124.51L411.51 124.51ZM414.85 119.93L417.82 125.04L411.88 125.04ZM415.22 120.45L418.19 125.57L412.25 125.57ZM415.58 120.98L418.55 126.09L412.62 126.09ZM415.94 121.5L418.91 126.62L412.98 126.62ZM416.3 122.03L419.26 127.14L413.33 127.14ZM416.65 122.55L419.61 127.67L413.68 127.67ZM416.99 123.07L419.96 128.19L414.02 128.19ZM417.33 123.59L420.3 128.71L414.36 128.71ZM417.67 124.11L420.63 129.23L414.7 129.23ZM418 124.63L420.96 129.75L415.03 129.75ZM418.32 125.15L421.29 130.26L415.36 130.26ZM418.65 125.66L421.61 130.78L415.68 130.78ZM418.97 126.18L421.93 131.29L416 131.29ZM419.28 126.69L422.25 131.8L416.31 131.8ZM419.59 127.2L422.56 132.31L416.62 132.31ZM419.9 127.71L422.86 132.82L416.93 132.82ZM420.2 128.21L423.17 133.33L417.23 133.33ZM420.5 128.72L423.47 133.83L417.53 133.83ZM420.8 129.22L423.76 134.34L417.83 134.34ZM421.09 129.72L424.06 134.84L418.12 134.84ZM421.38 130.22L424.35 135.34L418.41 135.34ZM421.67 130.72L424.63 135.83L418.7 135.83ZM421.95 131.22L424.92 136.33L418.98 136.33ZM422.23 131.71L425.2 136.82L419.26 136.82ZM422.51 132.2L425.47 137.32L419.54 137.32ZM422.78 132.69L425.75 137.8L419.81 137.8ZM423.05 133.18L426.02 138.29L420.08 138.29ZM423.32 133.66L426.29 138.78L420.35 138.78ZM423.58 134.15L426.55 139.26L420.62 139.26ZM423.85 134.63L426.81 139.74L420.88 139.74ZM424.11 135.11L427.07 140.22L421.14 140.22ZM424.36 135.58L427.33 140.7L421.4 140.7ZM424.62 136.06L427.59 141.17L421.65 141.17ZM424.87 136.53L427.84 141.64L421.9 141.64ZM425.12 137L428.09 142.12L422.15 142.12ZM425.37 137.47L428.33 142.59L422.4 142.59ZM425.61 137.94L428.58 143.06L422.65 143.06ZM425.85 138.42L428.82 143.53L422.89 143.53ZM426.09 138.89L429.06 144L423.13 144ZM426.33 139.36L429.3 144.47L423.37 144.47ZM426.57 139.83L429.53 144.95L423.6 144.95ZM426.8 140.3L429.77 145.42L423.83 145.42ZM427.03 140.78L430 145.89L424.07 145.89ZM427.26 141.25L430.23 146.36L424.3 146.36ZM427.49 141.72L430.46 146.83L424.52 146.83ZM427.71 142.19L430.68 147.3L424.75 147.3ZM427.94 142.66L430.9 147.77L424.97 147.77ZM428.16 143.13L431.13 148.24L425.19 148.24ZM428.38 143.59L431.34 148.71L425.41 148.71ZM428.6 144.06L431.56 149.18L425.63 149.18ZM428.81 144.53L431.78 149.64L425.84 149.64ZM429.02 144.99L431.99 150.11L426.06 150.11ZM429.24 145.46L432.2 150.57L426.27 150.57ZM429.45 145.92L432.41 151.04L426.48 151.04ZM429.66 146.39L432.62 151.5L426.69 151.5ZM429.86 146.85L432.83 151.96L426.9 151.96ZM430.07 147.31L433.03 152.42L427.1 152.42ZM430.27 147.77L433.24 152.88L427.3 152.88ZM430.47 148.22L433.44 153.34L427.51 153.34ZM430.67 148.68L433.64 153.79L427.71 153.79ZM430.87 149.13L433.84 154.25L427.91 154.25ZM431.07 149.59L434.04 154.7L428.1 154.7ZM431.26 150.04L434.23 155.15L428.3 155.15ZM431.46 150.49L434.43 155.6L428.49 155.6ZM431.65 150.94L434.62 156.05L428.68 156.05ZM431.84 151.39L434.81 156.5L428.88 156.5ZM432.03 151.83L435 156.95L429.07 156.95ZM432.22 152.28L435.19 157.39L429.25 157.39ZM432.41 152.72L435.37 157.84L429.44 157.84ZM432.59 153.17L435.56 158.28L429.63 158.28ZM432.78 153.61L435.74 158.73L429.81 158.73ZM432.96 154.06L435.93 159.17L429.99 159.17ZM433.14 154.5L436.11 159.62L430.18 159.62ZM433.32 154.95L436.29 160.06L430.36 160.06ZM433.5 155.39L436.47 160.51L430.53 160.51ZM433.68 155.84L436.65 160.95L430.71 160.95ZM433.86 156.28L436.82 161.4L430.89 161.4ZM434.03 156.72L437 161.84L431.06 161.84ZM434.21 157.17L437.17 162.28L431.24 162.28ZM434.38 157.61L437.34 162.72L431.41 162.72ZM434.55 158.05L437.52 163.16L431.58 163.16ZM434.72 158.49L437.69 163.61L431.75 163.61ZM434.89 158.93L437.86 164.05L431.92 164.05ZM435.06 159.37L438.02 164.49L432.09 164.49ZM435.23 159.81L438.19 164.92L432.26 164.92ZM435.39 160.25L438.36 165.36L432.42 165.36ZM435.56 160.68L438.52 165.8L432.59 165.8ZM435.72 161.12L438.69 166.24L432.75 166.24ZM435.88 161.56L438.85 166.67L432.92 166.67ZM436.05 161.99L439.01 167.1L433.08 167.1ZM436.21 162.42L439.17 167.54L433.24 167.54ZM436.37 162.86L439.33 167.97L433.4 167.97ZM436.52 163.29L439.49 168.4L433.56 168.4ZM436.68 163.72L439.65 168.83L433.72 168.83ZM436.84 164.15L439.81 169.26L433.87 169.26ZM437 164.58L439.96 169.69L434.03 169.69ZM437.15 165L440.12 170.12L434.18 170.12ZM437.3 165.43L440.27 170.54L434.34 170.54ZM437.46 165.85L440.42 170.97L434.49 170.97ZM437.56 166.14L440.53 171.25L434.59 171.25Z" fill="#fff" stroke="none"/>
<path d="M358.43 79.32L361.4 84.44L355.46 84.44ZM359.56 79.7L362.52 84.81L356.59 84.81ZM360.64 80.06L363.6 85.18L357.67 85.18ZM361.67 80.42L364.64 85.54L358.7 85.54ZM362.66 80.77L365.63 85.89L359.7 85.89ZM363.62 81.12L366.59 86.23L360.65 86.23ZM364.54 81.46L367.51 86.57L361.57 86.57ZM365.43 81.8L368.4 86.91L362.46 86.91ZM366.29 82.13L369.26 87.24L363.32 87.24ZM367.12 82.45L370.09 87.57L364.15 87.57ZM367.92 82.77L370.89 87.89L364.96 87.89ZM368.7 83.09L371.67 88.21L365.74 88.21ZM369.46 83.41L372.43 88.52L366.49 88.52ZM370.19 83.72L373.16 88.83L367.23 88.83ZM370.91 84.02L373.87 89.14L367.94 89.14ZM371.6 84.33L374.57 89.44L368.63 89.44ZM372.28 84.63L375.24 89.74L369.31 89.74ZM372.93 84.93L375.9 90.04L369.97 90.04ZM373.58 85.22L376.54 90.33L370.61 90.33ZM374.2 85.51L377.17 90.63L371.23 90.63ZM374.81 85.8L377.78 90.91L371.85 90.91ZM375.41 86.08L378.37 91.2L372.44 91.2ZM375.99 86.37L378.96 91.48L373.02 91.48ZM376.56 86.65L379.53 91.76L373.59 91.76ZM377.12 86.93L380.08 92.04L374.15 92.04ZM377.66 87.21L380.63 92.32L374.69 92.32ZM378.19 87.48L381.16 92.6L375.23 92.6ZM378.72 87.75L381.68 92.87L375.75 92.87ZM379.23 88.02L382.2 93.14L376.26 93.14ZM379.73 88.29L382.7 93.41L376.76 93.41ZM380.22 88.56L383.19 93.68L377.26 93.68ZM380.7 88.83L383.67 93.94L377.74 93.94ZM381.18 89.09L384.15 94.2L378.21 94.2ZM381.64 89.35L384.61 94.47L378.68 94.47ZM382.1 89.61L385.07 94.73L379.13 94.73ZM382.55 89.87L385.51 94.98L379.58 94.98ZM382.99 90.13L385.96 95.24L380.02 95.24ZM383.42 90.38L386.39 95.5L380.45 95.5ZM383.85 90.64L386.81 95.75L380.88 95.75ZM384.27 90.89L387.23 96L381.3 96ZM384.68 91.14L387.64 96.25L381.71 96.25ZM385.08 91.39L388.05 96.5L382.12 96.5ZM385.48 91.63L388.45 96.75L382.52 96.75ZM385.88 91.88L388.84 97L382.91 97ZM386.26 92.13L389.23 97.24L383.3 97.24ZM386.64 92.37L389.61 97.49L383.68 97.49ZM387.39 92.86L390.35 97.97L384.42 97.97ZM388.11 93.34L391.08 98.45L385.15 98.45ZM388.82 93.81L391.78 98.93L385.85 98.93ZM389.5 94.29L392.47 99.4L386.53 99.4ZM390.17 94.76L393.13 99.87L387.2 99.87ZM390.82 95.22L393.78 100.34L387.85 100.34ZM391.45 95.68L394.42 100.8L388.48 100.8ZM392.07 96.14L395.03 101.26L389.1 101.26ZM392.67 96.59L395.64 101.71L389.7 101.71ZM393.26 97.04L396.23 102.16L390.29 102.16ZM393.84 97.49L396.8 102.61L390.87 102.61ZM394.4 97.93L397.37 103.05L391.43 103.05ZM394.95 98.37L397.92 103.49L391.98 103.49ZM395.49 98.81L398.46 103.93L392.52 103.93ZM396.02 99.25L398.98 104.36L393.05 104.36ZM396.53 99.68L399.5 104.79L393.57 104.79ZM397.04 100.11L400.01 105.22L394.07 105.22ZM397.54 100.54L400.5 105.65L394.57 105.65ZM398.02 100.96L400.99 106.08L395.06 106.08ZM398.5 101.39L401.47 106.5L395.54 106.5ZM398.97 101.81L401.94 106.92L396 106.92ZM399.43 102.23L402.4 107.34L396.46 107.34ZM399.88 102.64L402.85 107.76L396.92 107.76ZM400.33 103.06L403.3 108.17L397.36 108.17ZM400.77 103.47L403.73 108.59L397.8 108.59ZM401.19 103.88L404.16 109L398.23 109ZM401.62 104.29L404.58 109.41L398.65 109.41ZM402.03 104.7L405 109.81L399.07 109.81ZM402.44 105.1L405.41 110.22L399.47 110.22ZM402.84 105.5L405.81 110.62L399.88 110.62ZM403.24 105.91L406.21 111.02L400.27 111.02ZM403.63 106.3L406.59 111.42L400.66 111.42ZM404.01 106.7L406.98 111.81L401.05 111.81ZM404.39 107.09L407.36 112.21L401.42 112.21ZM404.76 107.49L407.73 112.6L401.8 112.6ZM405.13 107.88L408.1 112.99L402.16 112.99ZM405.49 108.27L408.46 113.38L402.53 113.38ZM405.85 108.65L408.82 113.77L402.88 113.77ZM406.2 109.04L409.17 114.16L403.23 114.16ZM406.55 109.43L409.51 114.54L403.58 114.54ZM406.89 109.81L409.86 114.93L403.92 114.93ZM407.23 110.19L410.19 115.31L404.26 115.31ZM407.56 110.58L410.53 115.69L404.59 115.69ZM407.89 110.96L410.86 116.07L404.92 116.07ZM408.21 111.34L411.18 116.45L405.25 116.45ZM408.54 111.72L411.5 116.83L405.57 116.83ZM408.85 112.1L411.82 117.21L405.89 117.21ZM409.16 112.47L412.13 117.59L406.2 117.59ZM409.47 112.85L412.44 117.96L406.51 117.96ZM409.78 113.22L412.75 118.34L406.81 118.34ZM410.08 113.59L413.05 118.71L407.11 118.71ZM410.38 113.97L413.35 119.08L407.41 119.08ZM410.67 114.34L413.64 119.45L407.71 119.45ZM410.96 114.71L413.93 119.82L408 119.82ZM411.25 115.07L414.22 120.19L408.29 120.19ZM411.54 115.44L414.5 120.56L408.57 120.56ZM411.82 115.81L414.78 120.92L408.85 120.92ZM412.1 116.17L415.06 121.29L409.13 121.29ZM412.37 116.53L415.34 121.65L409.41 121.65ZM412.64 116.9L415.61 122.01L409.68 122.01ZM412.91 117.26L415.88 122.37L409.95 122.37ZM413.31 117.8L416.28 122.91L410.35 122.91ZM413.71 118.33L416.67 123.45L410.74 123.45ZM414.09 118.87L417.06 123.98L411.13 123.98ZM414.47 119.4L417.44 124.51L411.51 124.51ZM414.85 119.93L417.82 125.04L411.88 125.04ZM415.22 120.45L418.19 125.57L412.25 125.57ZM415.58 120.98L418.55 126.09L412.62 126.09ZM415.94 121.5L418.91 126.62L412.98 126.62ZM416.3 122.03L419.26 127.14L413.33 127.14ZM416.65 122.55L419.61 127.67L413.68 127.67ZM416.99 123.07L419.96 128.19L414.02 128.19ZM417.33 123.59L420.3 128.71L414.36 128.71ZM417.67 124.11L420.63 129.23L414.7 129.23ZM418 124.63L420.96 129.75L415.03 129.75ZM418.32 125.15L421.29 130.26L415.36 130.26ZM418.65 125.66L421.61 130.78L415.68 130.78ZM418.97 126.18L421.93 131.29L416 131.29ZM419.28 126.69L422.25 131.8L416.31 131.8ZM419.59 127.2L422.56 132.31L416.62 132.31ZM419.9 127.71L422.86 132.82L416.93 132.82ZM420.2 128.21L423.17 133.33L417.23 133.33ZM420.5 128.72L423.47 133.83L417.53 133.83ZM420.8 129.22L423.76 134.34L417.83 134.34ZM421.09 129.72L424.06 134.84L418.12 134.84ZM421.38 130.22L424.35 135.34L418.41 135.34ZM421.67 130.72L424.63 135.83L418.7 135.83ZM421.95 131.22L424.92 136.33L418.98 136.33ZM422.23 131.71L425.2 136.82L419.26 136.82ZM422.51 132.2L425.47 137.32L419.54 137.32ZM422.78 132.69L425.75 137.8L419.81 137.8ZM423.05 133.18L426.02 138.29L420.08 138.29ZM423.32 133.66L426.29 138.78L420.35 138.78ZM423.58 134.15L426.55 139.26L420.62 139.26ZM423.85 134.63L426.81 139.74L420.88 139.74ZM424.11 135.11L427.07 140.22L421.14 140.22ZM424.36 135.58L427.33 140.7L421.4 140.7ZM424.62 136.06L427.59 141.17L421.65 141.17ZM424.87 136.53L427.84 141.64L421.9 141.64ZM425.12 137L428.09 142.12L422.15 142.12ZM425.37 137.47L428.33 142.59L422.4 142.59ZM425.61 137.94L428.58 143.06L422.65 143.06ZM425.85 138.42L428.82 143.53L422.89 143.53ZM426.09 138.89L429.06 144L423.13 144ZM426.33 139.36L429.3 144.47L423.37 144.47ZM426.57 139.83L429.53 144.95L423.6 144.95ZM426.8 140.3L429.77 145.42L423.83 145.42ZM427.03 140.78L430 145.89L424.07 145.89ZM427.26 141.25L430.23 146.36L424.3 146.36ZM427.49 141.72L430.46 146.83L424.52 146.83ZM427.71 142.19L430.68 147.3L424.75 147.3ZM427.94 142.66L430.9 147.77L424.97 147.77ZM428.16 143.13L431.13 148.24L425.19 148.24ZM428.38 143.59L431.34 148.71L425.41 148.71ZM428.6 144.06L431.56 149.18L425.63 149.18ZM428.81 144.53L431.78 149.64L425.84 149.64ZM429.02 144.99L431.99 150.11L426.06 150.11ZM429.24 145.46L432.2 150.57L426.27 150.57ZM429.45 145.92L432.41 151.04L426.48 151.04ZM429.66 146.39L432.62 151.5L426.69 151.5ZM429.86 146.85L432.83 151.96L426.9 151.96ZM430.07 147.31L433.03 152.42L427.1 152.42ZM430.27 147.77L433.24 152.88L427.3 152.88ZM430.47 148.22L433.44 153.34L427.51 153.34ZM430.67 148.68L433.64 153.79L427.71 153.79ZM430.87 149.13L433.84 154.25L427.91 154.25ZM431.07 149.59L434.04 154.7L428.1 154.7ZM431.26 150.04L434.23 155.15L428.3 155.15ZM431.46 150.49L434.43 155.6L428.49 155.6ZM431.65 150.94L434.62 156.05L428.68 156.05ZM431.84 151.39L434.81 156.5L428.88 156.5ZM432.03 151.83L435 156.95L429.07 156.95ZM432.22 152.28L435.19 157.39L429.25 157.39ZM432.41 152.72L435.37 157.84L429.44 157.84ZM432.59 153.17L435.56 158.28L429.63 158.28ZM432.78 153.61L435.74 158.73L429.81 158.73ZM432.96 154.06L435.93 159.17L429.99 159.17ZM433.14 154.5L436.11 159.62L430.18 159.62ZM433.32 154.95L436.29 160.06L430.36 160.06ZM433.5 155.39L436.47 160.51L430.53 160.51ZM433.68 155.84L436.65 160.95L430.71 160.95ZM433.86 156.28L436.82 161.4L430.89 161.4ZM434.03 156.72L437 161.84L431.06 161.84ZM434.21 157.17L437.17 162.28L431.24 162.28ZM434.38 157.61L437.34 162.72L431.41 162.72ZM434.55 158.05L437.52 163.16L431.58 163.16ZM434.72 158.49L437.69 163.61L431.75 163.61ZM434.89 158.93L437.86 164.05L431.92 164.05ZM435.06 159.37L438.02 164.49L432.09 164.49ZM435.23 159.81L438.19 164.92L432.26 164.92ZM435.39 160.25L438.36 165.36L432.42 165.36ZM435.56 160.68L438.52 165.8L432.59 165.8ZM435.72 161.12L438.69 166.24L432.75 166.24ZM435.88 161.56L438.85 166.67L432.92 166.67ZM436.05 161.99L439.01 167.1L433.08 167.1ZM436.21 162.42L439.17 167.54L433.24 167.54ZM436.37 162.86L439.33 167.97L433.4 167.97ZM436.52 163.29L439.49 168.4L433.56 168.4ZM436.68 163.72L439.65 168.83L433.72 168.83ZM436.84 164.15L439.81 169.26L433.87 169.26ZM437 164.58L439.96 169.69L434.03 169.69ZM437.15 165L440.12 170.12L434.18 170.12ZM437.3 165.43L440.27 170.54L434.34 170.54ZM437.46 165.85L440.42 170.97L434.49 170.97ZM437.56 166.14L440.53 171.25L434.59 171.25Z" fill="none" stroke="#0c6477" stroke-width="1.15"/>
<path d="M437.56 166.14L440.53 171.25L434.59 171.25Z" fill="#fff" stroke="#0c6477" stroke-width="1.15"/>
<path d="M280.13 48.4 L297.69 52.57 L307.96 58.5 L315.25 57.5 L320.9 58.27 L325.52 60.47 L329.42 61.75 L332.81 62.64 L335.79 63.36 L338.46 63.98 L340.87 64.53 L343.08 65.04 L345.1 65.54 L346.98 66.04 L348.73 66.53 L350.36 67 L351.9 67.46 L353.35 67.9 L354.72 68.34 L356.02 68.76 L357.25 69.17 L358.43 69.58 L359.56 69.98 L360.64 70.37 L361.67 70.76 L362.66 71.14 L363.62 71.51 L364.54 71.88 L365.43 72.24 L366.29 72.59 L367.12 72.94 L367.92 73.29 L368.7 73.63 L369.46 73.97 L370.19 74.31 L370.91 74.64 L371.6 74.96 L372.28 75.29 L372.93 75.61 L373.58 75.92 L374.2 76.23 L374.81 76.54 L375.41 76.85 L375.99 77.15 L376.56 77.45 L377.12 77.75 L377.66 78.05 L378.19 78.34 L378.72 78.63 L379.23 78.92 L379.73 79.21 L380.22 79.49 L380.7 79.78 L381.18 80.06 L381.64 80.33 L382.1 80.61 L382.55 80.89 L382.99 81.16 L383.42 81.43 L383.85 81.7 L384.27 81.96 L384.68 82.23 L385.08 82.49 L385.48 82.75 L385.88 83.01 L386.26 83.27 L386.64 83.52 L387.02 83.78 L387.39 84.03 L387.75 84.28 L388.11 84.54 L388.47 84.79 L388.82 85.04 L389.16 85.28 L389.5 85.53 L389.84 85.77 L390.17 86.02 L390.49 86.26 L390.82 86.5 L391.14 86.74 L391.45 86.98 L391.76 87.22 L392.07 87.46 L392.37 87.69 L392.67 87.93 L392.97 88.16 L393.26 88.39 L393.55 88.62 L393.84 88.85 L394.12 89.08 L394.4 89.31 L394.68 89.53 L394.95 89.76 L395.22 89.98 L395.49 90.21 L395.75 90.43 L396.02 90.65 L396.28 90.87 L396.53 91.09 L396.79 91.31 L397.04 91.53 L397.29 91.75 L397.54 91.97 L397.78 92.19 L398.02 92.4 L398.26 92.62 L398.5 92.83 L398.74 93.05 L398.97 93.26 L399.2 93.47 L399.43 93.68 L399.66 93.9 L399.88 94.11 L400.11 94.32 L400.33 94.52 L400.55 94.73 L400.77 94.94 L400.98 95.15 L401.19 95.35 L401.41 95.56 L401.62 95.76 L401.83 95.97 L402.03 96.17 L402.24 96.37 L402.44 96.58 L402.64 96.78 L402.84 96.98 L403.04 97.18 L403.24 97.38 L403.43 97.58 L403.63 97.78 L403.82 97.97 L404.01 98.17 L404.2 98.37 L404.39 98.56 L404.58 98.76 L404.76 98.95 L404.95 99.15 L405.13 99.34 L405.31 99.53 L405.49 99.72 L405.67 99.92 L405.85 100.11 L406.03 100.3 L406.2 100.49 L406.37 100.68 L406.55 100.87 L406.72 101.06 L406.89 101.25 L407.06 101.44 L407.23 101.63 L407.39 101.81 L407.56 102 L407.73 102.19 L407.89 102.38 L408.05 102.56 L408.21 102.75 L408.38 102.93 L408.54 103.12 L408.69 103.3 L408.85 103.49 L409.01 103.67 L409.16 103.85 L409.32 104.04 L409.47 104.22 L409.63 104.4 L409.78 104.58 L409.93 104.76 L410.08 104.94 L410.23 105.12 L410.38 105.3 L410.53 105.48 L410.67 105.66 L410.82 105.84 L410.96 106.02 L411.11 106.2 L411.25 106.38 L411.39 106.55 L411.54 106.73 L411.68 106.91 L411.82 107.08 L411.96 107.26 L412.1 107.43 L412.23 107.61 L412.37 107.78 L412.51 107.96 L412.64 108.13 L412.78 108.31 L412.91 108.48 L413.05 108.65 L413.18 108.82 L413.31 109 L413.44 109.17 L413.58 109.34 L413.71 109.51 L413.84 109.68 L413.96 109.85 L414.09 110.02 L414.22 110.19 L414.35 110.36 L414.47 110.53 L414.6 110.69 L414.72 110.86 L414.85 111.03 L414.97 111.2 L415.1 111.36 L415.22 111.53 L415.34 111.7 L415.46 111.86 L415.58 112.03 L415.7 112.2 L415.82 112.36 L415.94 112.53 L416.06 112.69 L416.18 112.86 L416.3 113.02 L416.41 113.19 L416.53 113.35 L416.65 113.52 L416.76 113.68 L416.88 113.84 L416.99 114.01 L417.1 114.17 L417.22 114.33 L417.33 114.5 L417.44 114.66 L417.55 114.82 L417.67 114.98 L417.78 115.15 L417.89 115.31 L418 115.47 L418.11 115.63 L418.22 115.79 L418.32 115.95 L418.43 116.11 L418.54 116.27 L418.65 116.44 L418.75 116.59 L418.86 116.75 L418.97 116.91 L419.07 117.07 L419.18 117.23 L419.28 117.39 L419.38 117.55 L419.49 117.71 L419.59 117.87 L419.69 118.02 L419.8 118.18 L419.9 118.34 L420 118.5 L420.1 118.65 L420.2 118.81 L420.3 118.96 L420.4 119.12 L420.5 119.28 L420.6 119.43 L420.7 119.59 L420.8 119.74 L420.9 119.9 L420.99 120.05 L421.09 120.2 L421.19 120.36 L421.28 120.51 L421.38 120.67 L421.48 120.82 L421.57 120.97 L421.67 121.12 L421.76 121.28 L421.86 121.43 L421.95 121.58 L422.04 121.73 L422.14 121.88 L422.23 122.03 L422.32 122.19 L422.41 122.34 L422.51 122.49 L422.6 122.64 L422.69 122.79 L422.78 122.94 L422.87 123.08 L422.96 123.23 L423.05 123.38 L423.14 123.53 L423.23 123.68 L423.32 123.83 L423.41 123.97 L423.5 124.12 L423.58 124.27 L423.67 124.42 L423.76 124.56 L423.85 124.71 L423.93 124.86 L424.02 125 L424.11 125.15 L424.19 125.29 L424.28 125.44 L424.36 125.58 L424.45 125.73 L424.53 125.87 L424.62 126.02 L424.7 126.16 L424.79 126.3 L424.87 126.45 L424.95 126.59 L425.04 126.73 L425.12 126.87 L425.2 127.02 L425.28 127.16 L425.37 127.3 L425.45 127.45 L425.53 127.59 L425.61 127.73 L425.69 127.87 L425.77 128.02 L425.85 128.16 L425.93 128.3 L426.01 128.44 L426.09 128.58 L426.17 128.73 L426.25 128.87 L426.33 129.01 L426.41 129.15 L426.49 129.29 L426.57 129.44 L426.65 129.58 L426.72 129.72 L426.8 129.86 L426.88 130 L426.96 130.14 L427.03 130.28 L427.11 130.43 L427.19 130.57 L427.26 130.71 L427.34 130.85 L427.41 130.99 L427.49 131.13 L427.56 131.27 L427.64 131.41 L427.71 131.55 L427.79 131.69 L427.86 131.83 L427.94 131.97 L428.01 132.11 L428.09 132.25 L428.16 132.39 L428.23 132.53 L428.31 132.67 L428.38 132.81 L428.45 132.94 L428.52 133.08 L428.6 133.22 L428.67 133.36 L428.74 133.5 L428.81 133.64 L428.88 133.78 L428.95 133.91 L429.02 134.05 L429.1 134.19 L429.17 134.33 L429.24 134.46 L429.31 134.6 L429.38 134.74 L429.45 134.87 L429.52 135.01 L429.59 135.15 L429.66 135.28 L429.72 135.42 L429.79 135.56 L429.86 135.69 L429.93 135.83 L430 135.96 L430.07 136.1 L430.14 136.24 L430.2 136.37 L430.27 136.51 L430.34 136.64 L430.41 136.77 L430.47 136.91 L430.54 137.04 L430.61 137.18 L430.67 137.31 L430.74 137.45 L430.81 137.58 L430.87 137.71 L430.94 137.85 L431 137.98 L431.07 138.11 L431.13 138.24 L431.2 138.38 L431.26 138.51 L431.33 138.64 L431.39 138.77 L431.46 138.91 L431.52 139.04 L431.59 139.17 L431.65 139.3 L431.72 139.43 L431.78 139.56 L431.84 139.69 L431.91 139.82 L431.97 139.95 L432.03 140.09 L432.1 140.22 L432.16 140.35 L432.22 140.48 L432.28 140.61 L432.35 140.74 L432.41 140.87 L432.47 141 L432.53 141.13 L432.59 141.25 L432.65 141.38 L432.72 141.51 L432.78 141.64 L432.84 141.77 L432.9 141.9 L432.96 142.03 L433.02 142.16 L433.08 142.29 L433.14 142.42 L433.2 142.55 L433.26 142.68 L433.32 142.81 L433.38 142.94 L433.44 143.06 L433.5 143.19 L433.56 143.32 L433.62 143.45 L433.68 143.58 L433.74 143.71 L433.8 143.83 L433.86 143.96 L433.91 144.09 L433.97 144.22 L434.03 144.35 L434.09 144.47 L434.15 144.6 L434.21 144.73 L434.26 144.86 L434.32 144.98 L434.38 145.11 L434.44 145.24 L434.49 145.37 L434.55 145.49 L434.61 145.62 L434.66 145.75 L434.72 145.87 L434.78 146 L434.83 146.13 L434.89 146.25 L434.95 146.38 L435 146.51 L435.06 146.63 L435.11 146.76 L435.17 146.88 L435.23 147.01 L435.28 147.14 L435.34 147.26 L435.39 147.39 L435.45 147.51 L435.5 147.64 L435.56 147.76 L435.61 147.89 L435.67 148.01 L435.72 148.14 L435.77 148.26 L435.83 148.39 L435.88 148.51 L435.94 148.64 L435.99 148.76 L436.05 148.88 L436.1 149.01 L436.15 149.13 L436.21 149.26 L436.26 149.38 L436.31 149.5 L436.37 149.63 L436.42 149.75 L436.47 149.87 L436.52 150 L436.58 150.12 L436.63 150.24 L436.68 150.36 L436.73 150.49 L436.79 150.61 L436.84 150.73 L436.89 150.85 L436.94 150.98 L437 151.1 L437.05 151.22 L437.1 151.34 L437.15 151.46 L437.2 151.58 L437.25 151.71 L437.3 151.83 L437.36 151.95 L437.41 152.07 L437.46 152.19 L437.51 152.31 L437.56 152.43" fill="none" stroke="#7d8b3c" stroke-width="1.0"/>
<g fill="#fff" stroke="#7d8b3c" stroke-width="1.15">
<path d="M278.15 46.42h3.96v3.96h-3.96Z"/>
<path d="M295.71 50.59h3.96v3.96h-3.96Z"/>
<path d="M305.98 56.52h3.96v3.96h-3.96Z"/>
<path d="M313.27 55.52h3.96v3.96h-3.96Z"/>
<path d="M318.92 56.29h3.96v3.96h-3.96Z"/>
<path d="M323.54 58.49h3.96v3.96h-3.96Z"/>
<path d="M327.44 59.77h3.96v3.96h-3.96Z"/>
<path d="M330.83 60.66h3.96v3.96h-3.96Z"/>
<path d="M333.81 61.38h3.96v3.96h-3.96Z"/>
<path d="M336.48 62h3.96v3.96h-3.96Z"/>
<path d="M338.89 62.55h3.96v3.96h-3.96Z"/>
<path d="M341.1 63.06h3.96v3.96h-3.96Z"/>
<path d="M343.12 63.56h3.96v3.96h-3.96Z"/>
<path d="M345 64.06h3.96v3.96h-3.96Z"/>
<path d="M346.75 64.55h3.96v3.96h-3.96Z"/>
<path d="M348.38 65.02h3.96v3.96h-3.96Z"/>
<path d="M349.92 65.48h3.96v3.96h-3.96Z"/>
<path d="M351.37 65.92h3.96v3.96h-3.96Z"/>
<path d="M352.74 66.36h3.96v3.96h-3.96Z"/>
<path d="M354.04 66.78h3.96v3.96h-3.96Z"/>
<path d="M355.27 67.19h3.96v3.96h-3.96Z"/>
</g>
<path d="M356.45 67.6h3.96v3.96h-3.96ZM357.58 68h3.96v3.96h-3.96ZM358.66 68.39h3.96v3.96h-3.96ZM359.69 68.78h3.96v3.96h-3.96ZM360.68 69.16h3.96v3.96h-3.96ZM361.64 69.53h3.96v3.96h-3.96ZM362.56 69.9h3.96v3.96h-3.96ZM363.45 70.26h3.96v3.96h-3.96ZM364.31 70.61h3.96v3.96h-3.96ZM365.14 70.96h3.96v3.96h-3.96ZM365.94 71.31h3.96v3.96h-3.96ZM366.72 71.65h3.96v3.96h-3.96ZM367.48 71.99h3.96v3.96h-3.96ZM368.21 72.33h3.96v3.96h-3.96ZM368.93 72.66h3.96v3.96h-3.96ZM369.62 72.98h3.96v3.96h-3.96ZM370.3 73.31h3.96v3.96h-3.96ZM370.95 73.63h3.96v3.96h-3.96ZM371.6 73.94h3.96v3.96h-3.96ZM372.22 74.25h3.96v3.96h-3.96ZM372.83 74.56h3.96v3.96h-3.96ZM373.43 74.87h3.96v3.96h-3.96ZM374.01 75.17h3.96v3.96h-3.96ZM374.58 75.47h3.96v3.96h-3.96ZM375.14 75.77h3.96v3.96h-3.96ZM375.68 76.07h3.96v3.96h-3.96ZM376.21 76.36h3.96v3.96h-3.96ZM376.74 76.65h3.96v3.96h-3.96ZM377.25 76.94h3.96v3.96h-3.96ZM377.75 77.23h3.96v3.96h-3.96ZM378.24 77.51h3.96v3.96h-3.96ZM378.72 77.8h3.96v3.96h-3.96ZM379.2 78.08h3.96v3.96h-3.96ZM379.66 78.35h3.96v3.96h-3.96ZM380.12 78.63h3.96v3.96h-3.96ZM380.57 78.91h3.96v3.96h-3.96ZM381.01 79.18h3.96v3.96h-3.96ZM381.44 79.45h3.96v3.96h-3.96ZM381.87 79.72h3.96v3.96h-3.96ZM382.29 79.98h3.96v3.96h-3.96ZM382.7 80.25h3.96v3.96h-3.96ZM383.1 80.51h3.96v3.96h-3.96ZM383.5 80.77h3.96v3.96h-3.96ZM383.9 81.03h3.96v3.96h-3.96ZM384.28 81.29h3.96v3.96h-3.96ZM384.66 81.54h3.96v3.96h-3.96ZM385.04 81.8h3.96v3.96h-3.96ZM385.77 82.3h3.96v3.96h-3.96ZM386.49 82.81h3.96v3.96h-3.96ZM387.18 83.3h3.96v3.96h-3.96ZM387.86 83.79h3.96v3.96h-3.96ZM388.51 84.28h3.96v3.96h-3.96ZM389.16 84.76h3.96v3.96h-3.96ZM389.78 85.24h3.96v3.96h-3.96ZM390.39 85.71h3.96v3.96h-3.96ZM390.99 86.18h3.96v3.96h-3.96ZM391.57 86.64h3.96v3.96h-3.96ZM392.14 87.1h3.96v3.96h-3.96ZM392.7 87.55h3.96v3.96h-3.96ZM393.24 88h3.96v3.96h-3.96ZM393.77 88.45h3.96v3.96h-3.96ZM394.3 88.89h3.96v3.96h-3.96ZM394.81 89.33h3.96v3.96h-3.96ZM395.31 89.77h3.96v3.96h-3.96ZM395.8 90.21h3.96v3.96h-3.96ZM396.28 90.64h3.96v3.96h-3.96ZM396.76 91.07h3.96v3.96h-3.96ZM397.22 91.49h3.96v3.96h-3.96ZM397.68 91.92h3.96v3.96h-3.96ZM398.13 92.34h3.96v3.96h-3.96ZM398.57 92.75h3.96v3.96h-3.96ZM399 93.17h3.96v3.96h-3.96ZM399.43 93.58h3.96v3.96h-3.96ZM399.85 93.99h3.96v3.96h-3.96ZM400.26 94.39h3.96v3.96h-3.96ZM400.66 94.8h3.96v3.96h-3.96ZM401.06 95.2h3.96v3.96h-3.96ZM401.45 95.6h3.96v3.96h-3.96ZM401.84 95.99h3.96v3.96h-3.96ZM402.22 96.39h3.96v3.96h-3.96ZM402.6 96.78h3.96v3.96h-3.96ZM402.97 97.17h3.96v3.96h-3.96ZM403.33 97.55h3.96v3.96h-3.96ZM403.69 97.94h3.96v3.96h-3.96ZM404.05 98.32h3.96v3.96h-3.96ZM404.39 98.7h3.96v3.96h-3.96ZM404.74 99.08h3.96v3.96h-3.96ZM405.08 99.46h3.96v3.96h-3.96ZM405.41 99.83h3.96v3.96h-3.96ZM405.75 100.21h3.96v3.96h-3.96ZM406.07 100.58h3.96v3.96h-3.96ZM406.4 100.95h3.96v3.96h-3.96ZM406.71 101.32h3.96v3.96h-3.96ZM407.03 101.69h3.96v3.96h-3.96ZM407.34 102.06h3.96v3.96h-3.96ZM407.65 102.42h3.96v3.96h-3.96ZM407.95 102.78h3.96v3.96h-3.96ZM408.25 103.14h3.96v3.96h-3.96ZM408.55 103.5h3.96v3.96h-3.96ZM408.84 103.86h3.96v3.96h-3.96ZM409.13 104.22h3.96v3.96h-3.96ZM409.41 104.57h3.96v3.96h-3.96ZM409.7 104.93h3.96v3.96h-3.96ZM410.12 105.45h3.96v3.96h-3.96ZM410.53 105.98h3.96v3.96h-3.96ZM410.93 106.5h3.96v3.96h-3.96ZM411.33 107.02h3.96v3.96h-3.96ZM411.73 107.53h3.96v3.96h-3.96ZM412.11 108.04h3.96v3.96h-3.96ZM412.49 108.55h3.96v3.96h-3.96ZM412.87 109.05h3.96v3.96h-3.96ZM413.24 109.55h3.96v3.96h-3.96ZM413.6 110.05h3.96v3.96h-3.96ZM413.96 110.55h3.96v3.96h-3.96ZM414.32 111.04h3.96v3.96h-3.96ZM414.67 111.54h3.96v3.96h-3.96ZM415.01 112.03h3.96v3.96h-3.96ZM415.35 112.52h3.96v3.96h-3.96ZM415.69 113h3.96v3.96h-3.96ZM416.02 113.49h3.96v3.96h-3.96ZM416.34 113.97h3.96v3.96h-3.96ZM416.67 114.46h3.96v3.96h-3.96ZM416.99 114.93h3.96v3.96h-3.96ZM417.3 115.41h3.96v3.96h-3.96ZM417.61 115.89h3.96v3.96h-3.96ZM417.92 116.36h3.96v3.96h-3.96ZM418.22 116.83h3.96v3.96h-3.96ZM418.52 117.3h3.96v3.96h-3.96ZM418.82 117.76h3.96v3.96h-3.96ZM419.11 118.22h3.96v3.96h-3.96ZM419.4 118.69h3.96v3.96h-3.96ZM419.69 119.14h3.96v3.96h-3.96ZM419.97 119.6h3.96v3.96h-3.96ZM420.25 120.05h3.96v3.96h-3.96ZM420.53 120.51h3.96v3.96h-3.96ZM420.8 120.96h3.96v3.96h-3.96ZM421.07 121.4h3.96v3.96h-3.96ZM421.34 121.85h3.96v3.96h-3.96ZM421.6 122.29h3.96v3.96h-3.96ZM421.87 122.73h3.96v3.96h-3.96ZM422.13 123.17h3.96v3.96h-3.96ZM422.38 123.6h3.96v3.96h-3.96ZM422.64 124.04h3.96v3.96h-3.96ZM422.89 124.47h3.96v3.96h-3.96ZM423.14 124.89h3.96v3.96h-3.96ZM423.39 125.32h3.96v3.96h-3.96ZM423.63 125.75h3.96v3.96h-3.96ZM423.87 126.18h3.96v3.96h-3.96ZM424.11 126.6h3.96v3.96h-3.96ZM424.35 127.03h3.96v3.96h-3.96ZM424.59 127.46h3.96v3.96h-3.96ZM424.82 127.88h3.96v3.96h-3.96ZM425.05 128.3h3.96v3.96h-3.96ZM425.28 128.73h3.96v3.96h-3.96ZM425.51 129.15h3.96v3.96h-3.96ZM425.73 129.57h3.96v3.96h-3.96ZM425.96 129.99h3.96v3.96h-3.96ZM426.18 130.41h3.96v3.96h-3.96ZM426.4 130.83h3.96v3.96h-3.96ZM426.62 131.24h3.96v3.96h-3.96ZM426.83 131.66h3.96v3.96h-3.96ZM427.04 132.07h3.96v3.96h-3.96ZM427.26 132.48h3.96v3.96h-3.96ZM427.47 132.89h3.96v3.96h-3.96ZM427.68 133.3h3.96v3.96h-3.96ZM427.88 133.71h3.96v3.96h-3.96ZM428.09 134.12h3.96v3.96h-3.96ZM428.29 134.53h3.96v3.96h-3.96ZM428.49 134.93h3.96v3.96h-3.96ZM428.76 135.47h3.96v3.96h-3.96ZM429.02 136h3.96v3.96h-3.96ZM429.28 136.53h3.96v3.96h-3.96ZM429.54 137.06h3.96v3.96h-3.96ZM429.8 137.58h3.96v3.96h-3.96ZM430.05 138.11h3.96v3.96h-3.96ZM430.3 138.63h3.96v3.96h-3.96ZM430.55 139.15h3.96v3.96h-3.96ZM430.8 139.66h3.96v3.96h-3.96ZM431.04 140.18h3.96v3.96h-3.96ZM431.28 140.7h3.96v3.96h-3.96ZM431.52 141.21h3.96v3.96h-3.96ZM431.76 141.73h3.96v3.96h-3.96ZM431.99 142.24h3.96v3.96h-3.96ZM432.23 142.75h3.96v3.96h-3.96ZM432.46 143.26h3.96v3.96h-3.96ZM432.68 143.77h3.96v3.96h-3.96ZM432.91 144.27h3.96v3.96h-3.96ZM433.13 144.78h3.96v3.96h-3.96ZM433.36 145.28h3.96v3.96h-3.96ZM433.58 145.78h3.96v3.96h-3.96ZM433.79 146.28h3.96v3.96h-3.96ZM434.01 146.78h3.96v3.96h-3.96ZM434.23 147.28h3.96v3.96h-3.96ZM434.44 147.77h3.96v3.96h-3.96ZM434.65 148.26h3.96v3.96h-3.96ZM434.86 148.75h3.96v3.96h-3.96ZM435.07 149.24h3.96v3.96h-3.96ZM435.27 149.73h3.96v3.96h-3.96ZM435.48 150.21h3.96v3.96h-3.96ZM435.58 150.45h3.96v3.96h-3.96Z" fill="#fff" stroke="none"/>
<path d="M356.45 67.6h3.96v3.96h-3.96ZM357.58 68h3.96v3.96h-3.96ZM358.66 68.39h3.96v3.96h-3.96ZM359.69 68.78h3.96v3.96h-3.96ZM360.68 69.16h3.96v3.96h-3.96ZM361.64 69.53h3.96v3.96h-3.96ZM362.56 69.9h3.96v3.96h-3.96ZM363.45 70.26h3.96v3.96h-3.96ZM364.31 70.61h3.96v3.96h-3.96ZM365.14 70.96h3.96v3.96h-3.96ZM365.94 71.31h3.96v3.96h-3.96ZM366.72 71.65h3.96v3.96h-3.96ZM367.48 71.99h3.96v3.96h-3.96ZM368.21 72.33h3.96v3.96h-3.96ZM368.93 72.66h3.96v3.96h-3.96ZM369.62 72.98h3.96v3.96h-3.96ZM370.3 73.31h3.96v3.96h-3.96ZM370.95 73.63h3.96v3.96h-3.96ZM371.6 73.94h3.96v3.96h-3.96ZM372.22 74.25h3.96v3.96h-3.96ZM372.83 74.56h3.96v3.96h-3.96ZM373.43 74.87h3.96v3.96h-3.96ZM374.01 75.17h3.96v3.96h-3.96ZM374.58 75.47h3.96v3.96h-3.96ZM375.14 75.77h3.96v3.96h-3.96ZM375.68 76.07h3.96v3.96h-3.96ZM376.21 76.36h3.96v3.96h-3.96ZM376.74 76.65h3.96v3.96h-3.96ZM377.25 76.94h3.96v3.96h-3.96ZM377.75 77.23h3.96v3.96h-3.96ZM378.24 77.51h3.96v3.96h-3.96ZM378.72 77.8h3.96v3.96h-3.96ZM379.2 78.08h3.96v3.96h-3.96ZM379.66 78.35h3.96v3.96h-3.96ZM380.12 78.63h3.96v3.96h-3.96ZM380.57 78.91h3.96v3.96h-3.96ZM381.01 79.18h3.96v3.96h-3.96ZM381.44 79.45h3.96v3.96h-3.96ZM381.87 79.72h3.96v3.96h-3.96ZM382.29 79.98h3.96v3.96h-3.96ZM382.7 80.25h3.96v3.96h-3.96ZM383.1 80.51h3.96v3.96h-3.96ZM383.5 80.77h3.96v3.96h-3.96ZM383.9 81.03h3.96v3.96h-3.96ZM384.28 81.29h3.96v3.96h-3.96ZM384.66 81.54h3.96v3.96h-3.96ZM385.04 81.8h3.96v3.96h-3.96ZM385.77 82.3h3.96v3.96h-3.96ZM386.49 82.81h3.96v3.96h-3.96ZM387.18 83.3h3.96v3.96h-3.96ZM387.86 83.79h3.96v3.96h-3.96ZM388.51 84.28h3.96v3.96h-3.96ZM389.16 84.76h3.96v3.96h-3.96ZM389.78 85.24h3.96v3.96h-3.96ZM390.39 85.71h3.96v3.96h-3.96ZM390.99 86.18h3.96v3.96h-3.96ZM391.57 86.64h3.96v3.96h-3.96ZM392.14 87.1h3.96v3.96h-3.96ZM392.7 87.55h3.96v3.96h-3.96ZM393.24 88h3.96v3.96h-3.96ZM393.77 88.45h3.96v3.96h-3.96ZM394.3 88.89h3.96v3.96h-3.96ZM394.81 89.33h3.96v3.96h-3.96ZM395.31 89.77h3.96v3.96h-3.96ZM395.8 90.21h3.96v3.96h-3.96ZM396.28 90.64h3.96v3.96h-3.96ZM396.76 91.07h3.96v3.96h-3.96ZM397.22 91.49h3.96v3.96h-3.96ZM397.68 91.92h3.96v3.96h-3.96ZM398.13 92.34h3.96v3.96h-3.96ZM398.57 92.75h3.96v3.96h-3.96ZM399 93.17h3.96v3.96h-3.96ZM399.43 93.58h3.96v3.96h-3.96ZM399.85 93.99h3.96v3.96h-3.96ZM400.26 94.39h3.96v3.96h-3.96ZM400.66 94.8h3.96v3.96h-3.96ZM401.06 95.2h3.96v3.96h-3.96ZM401.45 95.6h3.96v3.96h-3.96ZM401.84 95.99h3.96v3.96h-3.96ZM402.22 96.39h3.96v3.96h-3.96ZM402.6 96.78h3.96v3.96h-3.96ZM402.97 97.17h3.96v3.96h-3.96ZM403.33 97.55h3.96v3.96h-3.96ZM403.69 97.94h3.96v3.96h-3.96ZM404.05 98.32h3.96v3.96h-3.96ZM404.39 98.7h3.96v3.96h-3.96ZM404.74 99.08h3.96v3.96h-3.96ZM405.08 99.46h3.96v3.96h-3.96ZM405.41 99.83h3.96v3.96h-3.96ZM405.75 100.21h3.96v3.96h-3.96ZM406.07 100.58h3.96v3.96h-3.96ZM406.4 100.95h3.96v3.96h-3.96ZM406.71 101.32h3.96v3.96h-3.96ZM407.03 101.69h3.96v3.96h-3.96ZM407.34 102.06h3.96v3.96h-3.96ZM407.65 102.42h3.96v3.96h-3.96ZM407.95 102.78h3.96v3.96h-3.96ZM408.25 103.14h3.96v3.96h-3.96ZM408.55 103.5h3.96v3.96h-3.96ZM408.84 103.86h3.96v3.96h-3.96ZM409.13 104.22h3.96v3.96h-3.96ZM409.41 104.57h3.96v3.96h-3.96ZM409.7 104.93h3.96v3.96h-3.96ZM410.12 105.45h3.96v3.96h-3.96ZM410.53 105.98h3.96v3.96h-3.96ZM410.93 106.5h3.96v3.96h-3.96ZM411.33 107.02h3.96v3.96h-3.96ZM411.73 107.53h3.96v3.96h-3.96ZM412.11 108.04h3.96v3.96h-3.96ZM412.49 108.55h3.96v3.96h-3.96ZM412.87 109.05h3.96v3.96h-3.96ZM413.24 109.55h3.96v3.96h-3.96ZM413.6 110.05h3.96v3.96h-3.96ZM413.96 110.55h3.96v3.96h-3.96ZM414.32 111.04h3.96v3.96h-3.96ZM414.67 111.54h3.96v3.96h-3.96ZM415.01 112.03h3.96v3.96h-3.96ZM415.35 112.52h3.96v3.96h-3.96ZM415.69 113h3.96v3.96h-3.96ZM416.02 113.49h3.96v3.96h-3.96ZM416.34 113.97h3.96v3.96h-3.96ZM416.67 114.46h3.96v3.96h-3.96ZM416.99 114.93h3.96v3.96h-3.96ZM417.3 115.41h3.96v3.96h-3.96ZM417.61 115.89h3.96v3.96h-3.96ZM417.92 116.36h3.96v3.96h-3.96ZM418.22 116.83h3.96v3.96h-3.96ZM418.52 117.3h3.96v3.96h-3.96ZM418.82 117.76h3.96v3.96h-3.96ZM419.11 118.22h3.96v3.96h-3.96ZM419.4 118.69h3.96v3.96h-3.96ZM419.69 119.14h3.96v3.96h-3.96ZM419.97 119.6h3.96v3.96h-3.96ZM420.25 120.05h3.96v3.96h-3.96ZM420.53 120.51h3.96v3.96h-3.96ZM420.8 120.96h3.96v3.96h-3.96ZM421.07 121.4h3.96v3.96h-3.96ZM421.34 121.85h3.96v3.96h-3.96ZM421.6 122.29h3.96v3.96h-3.96ZM421.87 122.73h3.96v3.96h-3.96ZM422.13 123.17h3.96v3.96h-3.96ZM422.38 123.6h3.96v3.96h-3.96ZM422.64 124.04h3.96v3.96h-3.96ZM422.89 124.47h3.96v3.96h-3.96ZM423.14 124.89h3.96v3.96h-3.96ZM423.39 125.32h3.96v3.96h-3.96ZM423.63 125.75h3.96v3.96h-3.96ZM423.87 126.18h3.96v3.96h-3.96ZM424.11 126.6h3.96v3.96h-3.96ZM424.35 127.03h3.96v3.96h-3.96ZM424.59 127.46h3.96v3.96h-3.96ZM424.82 127.88h3.96v3.96h-3.96ZM425.05 128.3h3.96v3.96h-3.96ZM425.28 128.73h3.96v3.96h-3.96ZM425.51 129.15h3.96v3.96h-3.96ZM425.73 129.57h3.96v3.96h-3.96ZM425.96 129.99h3.96v3.96h-3.96ZM426.18 130.41h3.96v3.96h-3.96ZM426.4 130.83h3.96v3.96h-3.96ZM426.62 131.24h3.96v3.96h-3.96ZM426.83 131.66h3.96v3.96h-3.96ZM427.04 132.07h3.96v3.96h-3.96ZM427.26 132.48h3.96v3.96h-3.96ZM427.47 132.89h3.96v3.96h-3.96ZM427.68 133.3h3.96v3.96h-3.96ZM427.88 133.71h3.96v3.96h-3.96ZM428.09 134.12h3.96v3.96h-3.96ZM428.29 134.53h3.96v3.96h-3.96ZM428.49 134.93h3.96v3.96h-3.96ZM428.76 135.47h3.96v3.96h-3.96ZM429.02 136h3.96v3.96h-3.96ZM429.28 136.53h3.96v3.96h-3.96ZM429.54 137.06h3.96v3.96h-3.96ZM429.8 137.58h3.96v3.96h-3.96ZM430.05 138.11h3.96v3.96h-3.96ZM430.3 138.63h3.96v3.96h-3.96ZM430.55 139.15h3.96v3.96h-3.96ZM430.8 139.66h3.96v3.96h-3.96ZM431.04 140.18h3.96v3.96h-3.96ZM431.28 140.7h3.96v3.96h-3.96ZM431.52 141.21h3.96v3.96h-3.96ZM431.76 141.73h3.96v3.96h-3.96ZM431.99 142.24h3.96v3.96h-3.96ZM432.23 142.75h3.96v3.96h-3.96ZM432.46 143.26h3.96v3.96h-3.96ZM432.68 143.77h3.96v3.96h-3.96ZM432.91 144.27h3.96v3.96h-3.96ZM433.13 144.78h3.96v3.96h-3.96ZM433.36 145.28h3.96v3.96h-3.96ZM433.58 145.78h3.96v3.96h-3.96ZM433.79 146.28h3.96v3.96h-3.96ZM434.01 146.78h3.96v3.96h-3.96ZM434.23 147.28h3.96v3.96h-3.96ZM434.44 147.77h3.96v3.96h-3.96ZM434.65 148.26h3.96v3.96h-3.96ZM434.86 148.75h3.96v3.96h-3.96ZM435.07 149.24h3.96v3.96h-3.96ZM435.27 149.73h3.96v3.96h-3.96ZM435.48 150.21h3.96v3.96h-3.96ZM435.58 150.45h3.96v3.96h-3.96Z" fill="none" stroke="#7d8b3c" stroke-width="1.15"/>
<path d="M435.58 150.45h3.96v3.96h-3.96Z" fill="#fff" stroke="#7d8b3c" stroke-width="1.15"/>
<path d="M280.13 31.32 L297.69 35.67 L307.96 41.3 L315.25 40.9 L320.9 41.97 L325.52 43.53 L329.42 45.38 L332.81 46.3 L335.79 46.97 L338.46 47.48 L340.87 47.91 L343.08 48.31 L345.1 48.73 L346.98 49.16 L348.73 49.59 L350.36 50.02 L351.9 50.44 L353.35 50.85 L354.72 51.26 L356.02 51.66 L357.25 52.05 L358.43 52.44 L359.56 52.83 L360.64 53.22 L361.67 53.59 L362.66 53.97 L363.62 54.34 L364.54 54.7 L365.43 55.05 L366.29 55.41 L367.12 55.76 L367.92 56.11 L368.7 56.46 L369.46 56.8 L370.19 57.14 L370.91 57.47 L371.6 57.81 L372.28 58.14 L372.93 58.46 L373.58 58.79 L374.2 59.1 L374.81 59.42 L375.41 59.73 L375.99 60.04 L376.56 60.35 L377.12 60.66 L377.66 60.96 L378.19 61.27 L378.72 61.57 L379.23 61.87 L379.73 62.16 L380.22 62.46 L380.7 62.75 L381.18 63.04 L381.64 63.33 L382.1 63.61 L382.55 63.9 L382.99 64.18 L383.42 64.46 L383.85 64.73 L384.27 65.01 L384.68 65.28 L385.08 65.55 L385.48 65.82 L385.88 66.09 L386.26 66.36 L386.64 66.62 L387.02 66.89 L387.39 67.15 L387.75 67.41 L388.11 67.67 L388.47 67.93 L388.82 68.19 L389.16 68.45 L389.5 68.7 L389.84 68.96 L390.17 69.21 L390.49 69.46 L390.82 69.71 L391.14 69.96 L391.45 70.21 L391.76 70.45 L392.07 70.7 L392.37 70.94 L392.67 71.18 L392.97 71.42 L393.26 71.66 L393.55 71.9 L393.84 72.14 L394.12 72.38 L394.4 72.61 L394.68 72.84 L394.95 73.08 L395.22 73.31 L395.49 73.54 L395.75 73.77 L396.02 74 L396.28 74.22 L396.53 74.45 L396.79 74.68 L397.04 74.9 L397.29 75.13 L397.54 75.35 L397.78 75.57 L398.02 75.8 L398.26 76.02 L398.5 76.24 L398.74 76.46 L398.97 76.68 L399.2 76.9 L399.43 77.11 L399.66 77.33 L399.88 77.54 L400.11 77.76 L400.33 77.97 L400.55 78.19 L400.77 78.4 L400.98 78.61 L401.19 78.82 L401.41 79.03 L401.62 79.24 L401.83 79.45 L402.03 79.66 L402.24 79.87 L402.44 80.07 L402.64 80.28 L402.84 80.48 L403.04 80.69 L403.24 80.89 L403.43 81.1 L403.63 81.3 L403.82 81.5 L404.01 81.7 L404.2 81.9 L404.39 82.1 L404.58 82.3 L404.76 82.49 L404.95 82.69 L405.13 82.89 L405.31 83.08 L405.49 83.28 L405.67 83.47 L405.85 83.67 L406.03 83.86 L406.2 84.05 L406.37 84.25 L406.55 84.44 L406.72 84.63 L406.89 84.82 L407.06 85.01 L407.23 85.2 L407.39 85.39 L407.56 85.58 L407.73 85.77 L407.89 85.96 L408.05 86.15 L408.21 86.34 L408.38 86.52 L408.54 86.71 L408.69 86.9 L408.85 87.08 L409.01 87.27 L409.16 87.45 L409.32 87.63 L409.47 87.82 L409.63 88 L409.78 88.18 L409.93 88.37 L410.08 88.55 L410.23 88.73 L410.38 88.91 L410.53 89.09 L410.67 89.27 L410.82 89.45 L410.96 89.63 L411.11 89.81 L411.25 89.99 L411.39 90.16 L411.54 90.34 L411.68 90.52 L411.82 90.69 L411.96 90.87 L412.1 91.04 L412.23 91.22 L412.37 91.39 L412.51 91.57 L412.64 91.74 L412.78 91.92 L412.91 92.09 L413.05 92.26 L413.18 92.43 L413.31 92.6 L413.44 92.77 L413.58 92.94 L413.71 93.11 L413.84 93.28 L413.96 93.45 L414.09 93.62 L414.22 93.79 L414.35 93.96 L414.47 94.13 L414.6 94.29 L414.72 94.46 L414.85 94.63 L414.97 94.79 L415.1 94.96 L415.22 95.12 L415.34 95.29 L415.46 95.45 L415.58 95.62 L415.7 95.78 L415.82 95.95 L415.94 96.11 L416.06 96.27 L416.18 96.44 L416.3 96.6 L416.41 96.76 L416.53 96.93 L416.65 97.09 L416.76 97.25 L416.88 97.41 L416.99 97.57 L417.1 97.73 L417.22 97.89 L417.33 98.06 L417.44 98.22 L417.55 98.38 L417.67 98.54 L417.78 98.69 L417.89 98.85 L418 99.01 L418.11 99.17 L418.22 99.33 L418.32 99.49 L418.43 99.65 L418.54 99.8 L418.65 99.96 L418.75 100.12 L418.86 100.27 L418.97 100.43 L419.07 100.59 L419.18 100.74 L419.28 100.9 L419.38 101.05 L419.49 101.21 L419.59 101.36 L419.69 101.52 L419.8 101.67 L419.9 101.82 L420 101.98 L420.1 102.13 L420.2 102.28 L420.3 102.44 L420.4 102.59 L420.5 102.74 L420.6 102.89 L420.7 103.04 L420.8 103.2 L420.9 103.35 L420.99 103.5 L421.09 103.65 L421.19 103.8 L421.28 103.95 L421.38 104.1 L421.48 104.25 L421.57 104.39 L421.67 104.54 L421.76 104.69 L421.86 104.84 L421.95 104.99 L422.04 105.13 L422.14 105.28 L422.23 105.43 L422.32 105.57 L422.41 105.72 L422.51 105.87 L422.6 106.01 L422.69 106.16 L422.78 106.3 L422.87 106.45 L422.96 106.59 L423.05 106.74 L423.14 106.88 L423.23 107.02 L423.32 107.17 L423.41 107.31 L423.5 107.45 L423.58 107.59 L423.67 107.74 L423.76 107.88 L423.85 108.02 L423.93 108.16 L424.02 108.3 L424.11 108.44 L424.19 108.58 L424.28 108.72 L424.36 108.86 L424.45 109 L424.53 109.14 L424.62 109.28 L424.7 109.42 L424.79 109.56 L424.87 109.7 L424.95 109.84 L425.04 109.97 L425.12 110.11 L425.2 110.25 L425.28 110.39 L425.37 110.52 L425.45 110.66 L425.53 110.8 L425.61 110.94 L425.69 111.07 L425.77 111.21 L425.85 111.35 L425.93 111.48 L426.01 111.62 L426.09 111.76 L426.17 111.89 L426.25 112.03 L426.33 112.17 L426.41 112.3 L426.49 112.44 L426.57 112.57 L426.65 112.71 L426.72 112.84 L426.8 112.98 L426.88 113.11 L426.96 113.25 L427.03 113.38 L427.11 113.52 L427.19 113.65 L427.26 113.79 L427.34 113.92 L427.41 114.06 L427.49 114.19 L427.56 114.33 L427.64 114.46 L427.71 114.59 L427.79 114.73 L427.86 114.86 L427.94 114.99 L428.01 115.13 L428.09 115.26 L428.16 115.39 L428.23 115.52 L428.31 115.66 L428.38 115.79 L428.45 115.92 L428.52 116.05 L428.6 116.18 L428.67 116.32 L428.74 116.45 L428.81 116.58 L428.88 116.71 L428.95 116.84 L429.02 116.97 L429.1 117.1 L429.17 117.23 L429.24 117.36 L429.31 117.49 L429.38 117.62 L429.45 117.75 L429.52 117.88 L429.59 118.01 L429.66 118.14 L429.72 118.27 L429.79 118.4 L429.86 118.53 L429.93 118.66 L430 118.78 L430.07 118.91 L430.14 119.04 L430.2 119.17 L430.27 119.3 L430.34 119.42 L430.41 119.55 L430.47 119.68 L430.54 119.8 L430.61 119.93 L430.67 120.06 L430.74 120.18 L430.81 120.31 L430.87 120.44 L430.94 120.56 L431 120.69 L431.07 120.81 L431.13 120.94 L431.2 121.06 L431.26 121.19 L431.33 121.31 L431.39 121.44 L431.46 121.56 L431.52 121.69 L431.59 121.81 L431.65 121.93 L431.72 122.06 L431.78 122.18 L431.84 122.3 L431.91 122.43 L431.97 122.55 L432.03 122.67 L432.1 122.79 L432.16 122.92 L432.22 123.04 L432.28 123.16 L432.35 123.28 L432.41 123.4 L432.47 123.53 L432.53 123.65 L432.59 123.77 L432.65 123.89 L432.72 124.01 L432.78 124.13 L432.84 124.26 L432.9 124.38 L432.96 124.5 L433.02 124.62 L433.08 124.74 L433.14 124.86 L433.2 124.98 L433.26 125.1 L433.32 125.22 L433.38 125.34 L433.44 125.46 L433.5 125.58 L433.56 125.7 L433.62 125.82 L433.68 125.94 L433.74 126.06 L433.8 126.18 L433.86 126.3 L433.91 126.42 L433.97 126.54 L434.03 126.66 L434.09 126.78 L434.15 126.9 L434.21 127.02 L434.26 127.14 L434.32 127.25 L434.38 127.37 L434.44 127.49 L434.49 127.61 L434.55 127.73 L434.61 127.85 L434.66 127.96 L434.72 128.08 L434.78 128.2 L434.83 128.32 L434.89 128.43 L434.95 128.55 L435 128.67 L435.06 128.79 L435.11 128.9 L435.17 129.02 L435.23 129.14 L435.28 129.25 L435.34 129.37 L435.39 129.49 L435.45 129.6 L435.5 129.72 L435.56 129.83 L435.61 129.95 L435.67 130.07 L435.72 130.18 L435.77 130.3 L435.83 130.41 L435.88 130.53 L435.94 130.64 L435.99 130.76 L436.05 130.87 L436.1 130.99 L436.15 131.1 L436.21 131.22 L436.26 131.33 L436.31 131.44 L436.37 131.56 L436.42 131.67 L436.47 131.79 L436.52 131.9 L436.58 132.01 L436.63 132.13 L436.68 132.24 L436.73 132.35 L436.79 132.47 L436.84 132.58 L436.89 132.69 L436.94 132.81 L437 132.92 L437.05 133.03 L437.1 133.14 L437.15 133.26 L437.2 133.37 L437.25 133.48 L437.3 133.59 L437.36 133.7 L437.41 133.81 L437.46 133.93 L437.51 134.04 L437.56 134.15" fill="none" stroke="#f0a000" stroke-width="1.0"/>
<g fill="#fff" stroke="#f0a000" stroke-width="1.15">
<path d="M280.13 27.8L282.44 31.32L280.13 34.84L277.82 31.32Z"/>
<path d="M297.69 32.15L300 35.67L297.69 39.19L295.38 35.67Z"/>
<path d="M307.96 37.78L310.27 41.3L307.96 44.82L305.65 41.3Z"/>
<path d="M315.25 37.38L317.56 40.9L315.25 44.42L312.94 40.9Z"/>
<path d="M320.9 38.45L323.21 41.97L320.9 45.49L318.59 41.97Z"/>
<path d="M325.52 40.01L327.83 43.53L325.52 47.05L323.21 43.53Z"/>
<path d="M329.42 41.86L331.73 45.38L329.42 48.9L327.11 45.38Z"/>
<path d="M332.81 42.78L335.12 46.3L332.81 49.82L330.5 46.3Z"/>
<path d="M335.79 43.45L338.1 46.97L335.79 50.49L333.48 46.97Z"/>
<path d="M338.46 43.96L340.77 47.48L338.46 51L336.15 47.48Z"/>
<path d="M340.87 44.39L343.18 47.91L340.87 51.43L338.56 47.91Z"/>
<path d="M343.08 44.79L345.39 48.31L343.08 51.83L340.77 48.31Z"/>
<path d="M345.1 45.21L347.41 48.73L345.1 52.25L342.79 48.73Z"/>
<path d="M346.98 45.64L349.29 49.16L346.98 52.68L344.67 49.16Z"/>
<path d="M348.73 46.07L351.04 49.59L348.73 53.11L346.42 49.59Z"/>
<path d="M350.36 46.5L352.67 50.02L350.36 53.54L348.05 50.02Z"/>
<path d="M351.9 46.92L354.21 50.44L351.9 53.96L349.59 50.44Z"/>
<path d="M353.35 47.33L355.66 50.85L353.35 54.37L351.04 50.85Z"/>
<path d="M354.72 47.74L357.03 51.26L354.72 54.78L352.41 51.26Z"/>
<path d="M356.02 48.14L358.33 51.66L356.02 55.18L353.71 51.66Z"/>
<path d="M357.25 48.53L359.56 52.05L357.25 55.57L354.94 52.05Z"/>
</g>
<path d="M358.43 48.92L360.74 52.44L358.43 55.96L356.12 52.44ZM359.56 49.31L361.87 52.83L359.56 56.35L357.25 52.83ZM360.64 49.7L362.95 53.22L360.64 56.74L358.33 53.22ZM361.67 50.07L363.98 53.59L361.67 57.11L359.36 53.59ZM362.66 50.45L364.97 53.97L362.66 57.49L360.35 53.97ZM363.62 50.82L365.93 54.34L363.62 57.86L361.31 54.34ZM364.54 51.18L366.85 54.7L364.54 58.22L362.23 54.7ZM365.43 51.53L367.74 55.05L365.43 58.57L363.12 55.05ZM366.29 51.89L368.6 55.41L366.29 58.93L363.98 55.41ZM367.12 52.24L369.43 55.76L367.12 59.28L364.81 55.76ZM367.92 52.59L370.23 56.11L367.92 59.63L365.61 56.11ZM368.7 52.94L371.01 56.46L368.7 59.98L366.39 56.46ZM369.46 53.28L371.77 56.8L369.46 60.32L367.15 56.8ZM370.19 53.62L372.5 57.14L370.19 60.66L367.88 57.14ZM370.91 53.95L373.22 57.47L370.91 60.99L368.6 57.47ZM371.6 54.29L373.91 57.81L371.6 61.33L369.29 57.81ZM372.28 54.62L374.59 58.14L372.28 61.66L369.97 58.14ZM372.93 54.94L375.24 58.46L372.93 61.98L370.62 58.46ZM373.58 55.27L375.89 58.79L373.58 62.31L371.27 58.79ZM374.2 55.58L376.51 59.1L374.2 62.62L371.89 59.1ZM374.81 55.9L377.12 59.42L374.81 62.94L372.5 59.42ZM375.41 56.21L377.72 59.73L375.41 63.25L373.1 59.73ZM375.99 56.52L378.3 60.04L375.99 63.56L373.68 60.04ZM376.56 56.83L378.87 60.35L376.56 63.87L374.25 60.35ZM377.12 57.14L379.43 60.66L377.12 64.18L374.81 60.66ZM377.66 57.44L379.97 60.96L377.66 64.48L375.35 60.96ZM378.19 57.75L380.5 61.27L378.19 64.79L375.88 61.27ZM378.72 58.05L381.03 61.57L378.72 65.09L376.41 61.57ZM379.23 58.35L381.54 61.87L379.23 65.39L376.92 61.87ZM379.73 58.64L382.04 62.16L379.73 65.68L377.42 62.16ZM380.22 58.94L382.53 62.46L380.22 65.98L377.91 62.46ZM380.7 59.23L383.01 62.75L380.7 66.27L378.39 62.75ZM381.18 59.52L383.49 63.04L381.18 66.56L378.87 63.04ZM381.64 59.81L383.95 63.33L381.64 66.85L379.33 63.33ZM382.1 60.09L384.41 63.61L382.1 67.13L379.79 63.61ZM382.55 60.38L384.86 63.9L382.55 67.42L380.24 63.9ZM382.99 60.66L385.3 64.18L382.99 67.7L380.68 64.18ZM383.42 60.94L385.73 64.46L383.42 67.98L381.11 64.46ZM383.85 61.21L386.16 64.73L383.85 68.25L381.54 64.73ZM384.27 61.49L386.58 65.01L384.27 68.53L381.96 65.01ZM384.68 61.76L386.99 65.28L384.68 68.8L382.37 65.28ZM385.08 62.03L387.39 65.55L385.08 69.07L382.77 65.55ZM385.48 62.3L387.79 65.82L385.48 69.34L383.17 65.82ZM385.88 62.57L388.19 66.09L385.88 69.61L383.57 66.09ZM386.26 62.84L388.57 66.36L386.26 69.88L383.95 66.36ZM386.64 63.1L388.95 66.62L386.64 70.14L384.33 66.62ZM387.02 63.37L389.33 66.89L387.02 70.41L384.71 66.89ZM387.39 63.63L389.7 67.15L387.39 70.67L385.08 67.15ZM388.11 64.15L390.42 67.67L388.11 71.19L385.8 67.67ZM388.82 64.67L391.13 68.19L388.82 71.71L386.51 68.19ZM389.5 65.18L391.81 68.7L389.5 72.22L387.19 68.7ZM390.17 65.69L392.48 69.21L390.17 72.73L387.86 69.21ZM390.82 66.19L393.13 69.71L390.82 73.23L388.51 69.71ZM391.45 66.69L393.76 70.21L391.45 73.73L389.14 70.21ZM392.07 67.18L394.38 70.7L392.07 74.22L389.76 70.7ZM392.67 67.66L394.98 71.18L392.67 74.7L390.36 71.18ZM393.26 68.14L395.57 71.66L393.26 75.18L390.95 71.66ZM393.84 68.62L396.15 72.14L393.84 75.66L391.53 72.14ZM394.4 69.09L396.71 72.61L394.4 76.13L392.09 72.61ZM394.95 69.56L397.26 73.08L394.95 76.6L392.64 73.08ZM395.49 70.02L397.8 73.54L395.49 77.06L393.18 73.54ZM396.02 70.48L398.33 74L396.02 77.52L393.71 74ZM396.53 70.93L398.84 74.45L396.53 77.97L394.22 74.45ZM397.04 71.38L399.35 74.9L397.04 78.42L394.73 74.9ZM397.54 71.83L399.85 75.35L397.54 78.87L395.23 75.35ZM398.02 72.28L400.33 75.8L398.02 79.32L395.71 75.8ZM398.5 72.72L400.81 76.24L398.5 79.76L396.19 76.24ZM398.97 73.16L401.28 76.68L398.97 80.2L396.66 76.68ZM399.43 73.59L401.74 77.11L399.43 80.63L397.12 77.11ZM399.88 74.02L402.19 77.54L399.88 81.06L397.57 77.54ZM400.33 74.45L402.64 77.97L400.33 81.49L398.02 77.97ZM400.77 74.88L403.08 78.4L400.77 81.92L398.46 78.4ZM401.19 75.3L403.5 78.82L401.19 82.34L398.88 78.82ZM401.62 75.72L403.93 79.24L401.62 82.76L399.31 79.24ZM402.03 76.14L404.34 79.66L402.03 83.18L399.72 79.66ZM402.44 76.55L404.75 80.07L402.44 83.59L400.13 80.07ZM402.84 76.96L405.15 80.48L402.84 84L400.53 80.48ZM403.24 77.37L405.55 80.89L403.24 84.41L400.93 80.89ZM403.63 77.78L405.94 81.3L403.63 84.82L401.32 81.3ZM404.01 78.18L406.32 81.7L404.01 85.22L401.7 81.7ZM404.39 78.58L406.7 82.1L404.39 85.62L402.08 82.1ZM404.76 78.97L407.07 82.49L404.76 86.01L402.45 82.49ZM405.13 79.37L407.44 82.89L405.13 86.41L402.82 82.89ZM405.49 79.76L407.8 83.28L405.49 86.8L403.18 83.28ZM405.85 80.15L408.16 83.67L405.85 87.19L403.54 83.67ZM406.2 80.53L408.51 84.05L406.2 87.57L403.89 84.05ZM406.55 80.92L408.86 84.44L406.55 87.96L404.24 84.44ZM406.89 81.3L409.2 84.82L406.89 88.34L404.58 84.82ZM407.23 81.68L409.54 85.2L407.23 88.72L404.92 85.2ZM407.56 82.06L409.87 85.58L407.56 89.1L405.25 85.58ZM407.89 82.44L410.2 85.96L407.89 89.48L405.58 85.96ZM408.21 82.82L410.52 86.34L408.21 89.86L405.9 86.34ZM408.54 83.19L410.85 86.71L408.54 90.23L406.23 86.71ZM408.85 83.56L411.16 87.08L408.85 90.6L406.54 87.08ZM409.16 83.93L411.47 87.45L409.16 90.97L406.85 87.45ZM409.47 84.3L411.78 87.82L409.47 91.34L407.16 87.82ZM409.78 84.66L412.09 88.18L409.78 91.7L407.47 88.18ZM410.08 85.03L412.39 88.55L410.08 92.07L407.77 88.55ZM410.38 85.39L412.69 88.91L410.38 92.43L408.07 88.91ZM410.67 85.75L412.98 89.27L410.67 92.79L408.36 89.27ZM410.96 86.11L413.27 89.63L410.96 93.15L408.65 89.63ZM411.25 86.47L413.56 89.99L411.25 93.51L408.94 89.99ZM411.54 86.82L413.85 90.34L411.54 93.86L409.23 90.34ZM411.82 87.17L414.13 90.69L411.82 94.21L409.51 90.69ZM412.23 87.7L414.54 91.22L412.23 94.74L409.92 91.22ZM412.64 88.22L414.95 91.74L412.64 95.26L410.33 91.74ZM413.05 88.74L415.36 92.26L413.05 95.78L410.74 92.26ZM413.44 89.25L415.75 92.77L413.44 96.29L411.13 92.77ZM413.84 89.76L416.15 93.28L413.84 96.8L411.53 93.28ZM414.22 90.27L416.53 93.79L414.22 97.31L411.91 93.79ZM414.6 90.77L416.91 94.29L414.6 97.81L412.29 94.29ZM414.97 91.27L417.28 94.79L414.97 98.31L412.66 94.79ZM415.34 91.77L417.65 95.29L415.34 98.81L413.03 95.29ZM415.7 92.26L418.01 95.78L415.7 99.3L413.39 95.78ZM416.06 92.75L418.37 96.27L416.06 99.79L413.75 96.27ZM416.41 93.24L418.72 96.76L416.41 100.28L414.1 96.76ZM416.76 93.73L419.07 97.25L416.76 100.77L414.45 97.25ZM417.1 94.21L419.41 97.73L417.1 101.25L414.79 97.73ZM417.44 94.7L419.75 98.22L417.44 101.74L415.13 98.22ZM417.78 95.17L420.09 98.69L417.78 102.21L415.47 98.69ZM418.11 95.65L420.42 99.17L418.11 102.69L415.8 99.17ZM418.43 96.13L420.74 99.65L418.43 103.17L416.12 99.65ZM418.75 96.6L421.06 100.12L418.75 103.64L416.44 100.12ZM419.07 97.07L421.38 100.59L419.07 104.11L416.76 100.59ZM419.38 97.53L421.69 101.05L419.38 104.57L417.07 101.05ZM419.69 98L422 101.52L419.69 105.04L417.38 101.52ZM420 98.46L422.31 101.98L420 105.5L417.69 101.98ZM420.3 98.92L422.61 102.44L420.3 105.96L417.99 102.44ZM420.6 99.37L422.91 102.89L420.6 106.41L418.29 102.89ZM420.9 99.83L423.21 103.35L420.9 106.87L418.59 103.35ZM421.19 100.28L423.5 103.8L421.19 107.32L418.88 103.8ZM421.48 100.73L423.79 104.25L421.48 107.77L419.17 104.25ZM421.76 101.17L424.07 104.69L421.76 108.21L419.45 104.69ZM422.04 101.61L424.35 105.13L422.04 108.65L419.73 105.13ZM422.32 102.05L424.63 105.57L422.32 109.09L420.01 105.57ZM422.6 102.49L424.91 106.01L422.6 109.53L420.29 106.01ZM422.87 102.93L425.18 106.45L422.87 109.97L420.56 106.45ZM423.14 103.36L425.45 106.88L423.14 110.4L420.83 106.88ZM423.41 103.79L425.72 107.31L423.41 110.83L421.1 107.31ZM423.67 104.22L425.98 107.74L423.67 111.26L421.36 107.74ZM423.93 104.64L426.24 108.16L423.93 111.68L421.62 108.16ZM424.19 105.06L426.5 108.58L424.19 112.1L421.88 108.58ZM424.45 105.48L426.76 109L424.45 112.52L422.14 109ZM424.7 105.9L427.01 109.42L424.7 112.94L422.39 109.42ZM424.95 106.32L427.26 109.84L424.95 113.36L422.64 109.84ZM425.2 106.73L427.51 110.25L425.2 113.77L422.89 110.25ZM425.45 107.14L427.76 110.66L425.45 114.18L423.14 110.66ZM425.69 107.55L428 111.07L425.69 114.59L423.38 111.07ZM425.93 107.96L428.24 111.48L425.93 115L423.62 111.48ZM426.17 108.37L428.48 111.89L426.17 115.41L423.86 111.89ZM426.41 108.78L428.72 112.3L426.41 115.82L424.1 112.3ZM426.65 109.19L428.96 112.71L426.65 116.23L424.34 112.71ZM426.88 109.59L429.19 113.11L426.88 116.63L424.57 113.11ZM427.11 110L429.42 113.52L427.11 117.04L424.8 113.52ZM427.34 110.4L429.65 113.92L427.34 117.44L425.03 113.92ZM427.56 110.81L429.87 114.33L427.56 117.85L425.25 114.33ZM427.79 111.21L430.1 114.73L427.79 118.25L425.48 114.73ZM428.01 111.61L430.32 115.13L428.01 118.65L425.7 115.13ZM428.23 112L430.54 115.52L428.23 119.04L425.92 115.52ZM428.45 112.4L430.76 115.92L428.45 119.44L426.14 115.92ZM428.67 112.8L430.98 116.32L428.67 119.84L426.36 116.32ZM428.95 113.32L431.26 116.84L428.95 120.36L426.64 116.84ZM429.24 113.84L431.55 117.36L429.24 120.88L426.93 117.36ZM429.52 114.36L431.83 117.88L429.52 121.4L427.21 117.88ZM429.79 114.88L432.1 118.4L429.79 121.92L427.48 118.4ZM430.07 115.39L432.38 118.91L430.07 122.43L427.76 118.91ZM430.34 115.9L432.65 119.42L430.34 122.94L428.03 119.42ZM430.61 116.41L432.92 119.93L430.61 123.45L428.3 119.93ZM430.87 116.92L433.18 120.44L430.87 123.96L428.56 120.44ZM431.13 117.42L433.44 120.94L431.13 124.46L428.82 120.94ZM431.39 117.92L433.7 121.44L431.39 124.96L429.08 121.44ZM431.65 118.41L433.96 121.93L431.65 125.45L429.34 121.93ZM431.91 118.91L434.22 122.43L431.91 125.95L429.6 122.43ZM432.16 119.4L434.47 122.92L432.16 126.44L429.85 122.92ZM432.41 119.88L434.72 123.4L432.41 126.92L430.1 123.4ZM432.65 120.37L434.96 123.89L432.65 127.41L430.34 123.89ZM432.9 120.86L435.21 124.38L432.9 127.9L430.59 124.38ZM433.14 121.34L435.45 124.86L433.14 128.38L430.83 124.86ZM433.38 121.82L435.69 125.34L433.38 128.86L431.07 125.34ZM433.62 122.3L435.93 125.82L433.62 129.34L431.31 125.82ZM433.86 122.78L436.17 126.3L433.86 129.82L431.55 126.3ZM434.09 123.26L436.4 126.78L434.09 130.3L431.78 126.78ZM434.32 123.73L436.63 127.25L434.32 130.77L432.01 127.25ZM434.55 124.21L436.86 127.73L434.55 131.25L432.24 127.73ZM434.78 124.68L437.09 128.2L434.78 131.72L432.47 128.2ZM435 125.15L437.31 128.67L435 132.19L432.69 128.67ZM435.23 125.62L437.54 129.14L435.23 132.66L432.92 129.14ZM435.45 126.08L437.76 129.6L435.45 133.12L433.14 129.6ZM435.67 126.55L437.98 130.07L435.67 133.59L433.36 130.07ZM435.88 127.01L438.19 130.53L435.88 134.05L433.57 130.53ZM436.1 127.47L438.41 130.99L436.1 134.51L433.79 130.99ZM436.31 127.92L438.62 131.44L436.31 134.96L434 131.44ZM436.52 128.38L438.83 131.9L436.52 135.42L434.21 131.9ZM436.73 128.83L439.04 132.35L436.73 135.87L434.42 132.35ZM436.94 129.29L439.25 132.81L436.94 136.33L434.63 132.81ZM437.15 129.74L439.46 133.26L437.15 136.78L434.84 133.26ZM437.36 130.18L439.67 133.7L437.36 137.22L435.05 133.7ZM437.56 130.63L439.87 134.15L437.56 137.67L435.25 134.15Z" fill="#fff" stroke="none"/>
<path d="M358.43 48.92L360.74 52.44L358.43 55.96L356.12 52.44ZM359.56 49.31L361.87 52.83L359.56 56.35L357.25 52.83ZM360.64 49.7L362.95 53.22L360.64 56.74L358.33 53.22ZM361.67 50.07L363.98 53.59L361.67 57.11L359.36 53.59ZM362.66 50.45L364.97 53.97L362.66 57.49L360.35 53.97ZM363.62 50.82L365.93 54.34L363.62 57.86L361.31 54.34ZM364.54 51.18L366.85 54.7L364.54 58.22L362.23 54.7ZM365.43 51.53L367.74 55.05L365.43 58.57L363.12 55.05ZM366.29 51.89L368.6 55.41L366.29 58.93L363.98 55.41ZM367.12 52.24L369.43 55.76L367.12 59.28L364.81 55.76ZM367.92 52.59L370.23 56.11L367.92 59.63L365.61 56.11ZM368.7 52.94L371.01 56.46L368.7 59.98L366.39 56.46ZM369.46 53.28L371.77 56.8L369.46 60.32L367.15 56.8ZM370.19 53.62L372.5 57.14L370.19 60.66L367.88 57.14ZM370.91 53.95L373.22 57.47L370.91 60.99L368.6 57.47ZM371.6 54.29L373.91 57.81L371.6 61.33L369.29 57.81ZM372.28 54.62L374.59 58.14L372.28 61.66L369.97 58.14ZM372.93 54.94L375.24 58.46L372.93 61.98L370.62 58.46ZM373.58 55.27L375.89 58.79L373.58 62.31L371.27 58.79ZM374.2 55.58L376.51 59.1L374.2 62.62L371.89 59.1ZM374.81 55.9L377.12 59.42L374.81 62.94L372.5 59.42ZM375.41 56.21L377.72 59.73L375.41 63.25L373.1 59.73ZM375.99 56.52L378.3 60.04L375.99 63.56L373.68 60.04ZM376.56 56.83L378.87 60.35L376.56 63.87L374.25 60.35ZM377.12 57.14L379.43 60.66L377.12 64.18L374.81 60.66ZM377.66 57.44L379.97 60.96L377.66 64.48L375.35 60.96ZM378.19 57.75L380.5 61.27L378.19 64.79L375.88 61.27ZM378.72 58.05L381.03 61.57L378.72 65.09L376.41 61.57ZM379.23 58.35L381.54 61.87L379.23 65.39L376.92 61.87ZM379.73 58.64L382.04 62.16L379.73 65.68L377.42 62.16ZM380.22 58.94L382.53 62.46L380.22 65.98L377.91 62.46ZM380.7 59.23L383.01 62.75L380.7 66.27L378.39 62.75ZM381.18 59.52L383.49 63.04L381.18 66.56L378.87 63.04ZM381.64 59.81L383.95 63.33L381.64 66.85L379.33 63.33ZM382.1 60.09L384.41 63.61L382.1 67.13L379.79 63.61ZM382.55 60.38L384.86 63.9L382.55 67.42L380.24 63.9ZM382.99 60.66L385.3 64.18L382.99 67.7L380.68 64.18ZM383.42 60.94L385.73 64.46L383.42 67.98L381.11 64.46ZM383.85 61.21L386.16 64.73L383.85 68.25L381.54 64.73ZM384.27 61.49L386.58 65.01L384.27 68.53L381.96 65.01ZM384.68 61.76L386.99 65.28L384.68 68.8L382.37 65.28ZM385.08 62.03L387.39 65.55L385.08 69.07L382.77 65.55ZM385.48 62.3L387.79 65.82L385.48 69.34L383.17 65.82ZM385.88 62.57L388.19 66.09L385.88 69.61L383.57 66.09ZM386.26 62.84L388.57 66.36L386.26 69.88L383.95 66.36ZM386.64 63.1L388.95 66.62L386.64 70.14L384.33 66.62ZM387.02 63.37L389.33 66.89L387.02 70.41L384.71 66.89ZM387.39 63.63L389.7 67.15L387.39 70.67L385.08 67.15ZM388.11 64.15L390.42 67.67L388.11 71.19L385.8 67.67ZM388.82 64.67L391.13 68.19L388.82 71.71L386.51 68.19ZM389.5 65.18L391.81 68.7L389.5 72.22L387.19 68.7ZM390.17 65.69L392.48 69.21L390.17 72.73L387.86 69.21ZM390.82 66.19L393.13 69.71L390.82 73.23L388.51 69.71ZM391.45 66.69L393.76 70.21L391.45 73.73L389.14 70.21ZM392.07 67.18L394.38 70.7L392.07 74.22L389.76 70.7ZM392.67 67.66L394.98 71.18L392.67 74.7L390.36 71.18ZM393.26 68.14L395.57 71.66L393.26 75.18L390.95 71.66ZM393.84 68.62L396.15 72.14L393.84 75.66L391.53 72.14ZM394.4 69.09L396.71 72.61L394.4 76.13L392.09 72.61ZM394.95 69.56L397.26 73.08L394.95 76.6L392.64 73.08ZM395.49 70.02L397.8 73.54L395.49 77.06L393.18 73.54ZM396.02 70.48L398.33 74L396.02 77.52L393.71 74ZM396.53 70.93L398.84 74.45L396.53 77.97L394.22 74.45ZM397.04 71.38L399.35 74.9L397.04 78.42L394.73 74.9ZM397.54 71.83L399.85 75.35L397.54 78.87L395.23 75.35ZM398.02 72.28L400.33 75.8L398.02 79.32L395.71 75.8ZM398.5 72.72L400.81 76.24L398.5 79.76L396.19 76.24ZM398.97 73.16L401.28 76.68L398.97 80.2L396.66 76.68ZM399.43 73.59L401.74 77.11L399.43 80.63L397.12 77.11ZM399.88 74.02L402.19 77.54L399.88 81.06L397.57 77.54ZM400.33 74.45L402.64 77.97L400.33 81.49L398.02 77.97ZM400.77 74.88L403.08 78.4L400.77 81.92L398.46 78.4ZM401.19 75.3L403.5 78.82L401.19 82.34L398.88 78.82ZM401.62 75.72L403.93 79.24L401.62 82.76L399.31 79.24ZM402.03 76.14L404.34 79.66L402.03 83.18L399.72 79.66ZM402.44 76.55L404.75 80.07L402.44 83.59L400.13 80.07ZM402.84 76.96L405.15 80.48L402.84 84L400.53 80.48ZM403.24 77.37L405.55 80.89L403.24 84.41L400.93 80.89ZM403.63 77.78L405.94 81.3L403.63 84.82L401.32 81.3ZM404.01 78.18L406.32 81.7L404.01 85.22L401.7 81.7ZM404.39 78.58L406.7 82.1L404.39 85.62L402.08 82.1ZM404.76 78.97L407.07 82.49L404.76 86.01L402.45 82.49ZM405.13 79.37L407.44 82.89L405.13 86.41L402.82 82.89ZM405.49 79.76L407.8 83.28L405.49 86.8L403.18 83.28ZM405.85 80.15L408.16 83.67L405.85 87.19L403.54 83.67ZM406.2 80.53L408.51 84.05L406.2 87.57L403.89 84.05ZM406.55 80.92L408.86 84.44L406.55 87.96L404.24 84.44ZM406.89 81.3L409.2 84.82L406.89 88.34L404.58 84.82ZM407.23 81.68L409.54 85.2L407.23 88.72L404.92 85.2ZM407.56 82.06L409.87 85.58L407.56 89.1L405.25 85.58ZM407.89 82.44L410.2 85.96L407.89 89.48L405.58 85.96ZM408.21 82.82L410.52 86.34L408.21 89.86L405.9 86.34ZM408.54 83.19L410.85 86.71L408.54 90.23L406.23 86.71ZM408.85 83.56L411.16 87.08L408.85 90.6L406.54 87.08ZM409.16 83.93L411.47 87.45L409.16 90.97L406.85 87.45ZM409.47 84.3L411.78 87.82L409.47 91.34L407.16 87.82ZM409.78 84.66L412.09 88.18L409.78 91.7L407.47 88.18ZM410.08 85.03L412.39 88.55L410.08 92.07L407.77 88.55ZM410.38 85.39L412.69 88.91L410.38 92.43L408.07 88.91ZM410.67 85.75L412.98 89.27L410.67 92.79L408.36 89.27ZM410.96 86.11L413.27 89.63L410.96 93.15L408.65 89.63ZM411.25 86.47L413.56 89.99L411.25 93.51L408.94 89.99ZM411.54 86.82L413.85 90.34L411.54 93.86L409.23 90.34ZM411.82 87.17L414.13 90.69L411.82 94.21L409.51 90.69ZM412.23 87.7L414.54 91.22L412.23 94.74L409.92 91.22ZM412.64 88.22L414.95 91.74L412.64 95.26L410.33 91.74ZM413.05 88.74L415.36 92.26L413.05 95.78L410.74 92.26ZM413.44 89.25L415.75 92.77L413.44 96.29L411.13 92.77ZM413.84 89.76L416.15 93.28L413.84 96.8L411.53 93.28ZM414.22 90.27L416.53 93.79L414.22 97.31L411.91 93.79ZM414.6 90.77L416.91 94.29L414.6 97.81L412.29 94.29ZM414.97 91.27L417.28 94.79L414.97 98.31L412.66 94.79ZM415.34 91.77L417.65 95.29L415.34 98.81L413.03 95.29ZM415.7 92.26L418.01 95.78L415.7 99.3L413.39 95.78ZM416.06 92.75L418.37 96.27L416.06 99.79L413.75 96.27ZM416.41 93.24L418.72 96.76L416.41 100.28L414.1 96.76ZM416.76 93.73L419.07 97.25L416.76 100.77L414.45 97.25ZM417.1 94.21L419.41 97.73L417.1 101.25L414.79 97.73ZM417.44 94.7L419.75 98.22L417.44 101.74L415.13 98.22ZM417.78 95.17L420.09 98.69L417.78 102.21L415.47 98.69ZM418.11 95.65L420.42 99.17L418.11 102.69L415.8 99.17ZM418.43 96.13L420.74 99.65L418.43 103.17L416.12 99.65ZM418.75 96.6L421.06 100.12L418.75 103.64L416.44 100.12ZM419.07 97.07L421.38 100.59L419.07 104.11L416.76 100.59ZM419.38 97.53L421.69 101.05L419.38 104.57L417.07 101.05ZM419.69 98L422 101.52L419.69 105.04L417.38 101.52ZM420 98.46L422.31 101.98L420 105.5L417.69 101.98ZM420.3 98.92L422.61 102.44L420.3 105.96L417.99 102.44ZM420.6 99.37L422.91 102.89L420.6 106.41L418.29 102.89ZM420.9 99.83L423.21 103.35L420.9 106.87L418.59 103.35ZM421.19 100.28L423.5 103.8L421.19 107.32L418.88 103.8ZM421.48 100.73L423.79 104.25L421.48 107.77L419.17 104.25ZM421.76 101.17L424.07 104.69L421.76 108.21L419.45 104.69ZM422.04 101.61L424.35 105.13L422.04 108.65L419.73 105.13ZM422.32 102.05L424.63 105.57L422.32 109.09L420.01 105.57ZM422.6 102.49L424.91 106.01L422.6 109.53L420.29 106.01ZM422.87 102.93L425.18 106.45L422.87 109.97L420.56 106.45ZM423.14 103.36L425.45 106.88L423.14 110.4L420.83 106.88ZM423.41 103.79L425.72 107.31L423.41 110.83L421.1 107.31ZM423.67 104.22L425.98 107.74L423.67 111.26L421.36 107.74ZM423.93 104.64L426.24 108.16L423.93 111.68L421.62 108.16ZM424.19 105.06L426.5 108.58L424.19 112.1L421.88 108.58ZM424.45 105.48L426.76 109L424.45 112.52L422.14 109ZM424.7 105.9L427.01 109.42L424.7 112.94L422.39 109.42ZM424.95 106.32L427.26 109.84L424.95 113.36L422.64 109.84ZM425.2 106.73L427.51 110.25L425.2 113.77L422.89 110.25ZM425.45 107.14L427.76 110.66L425.45 114.18L423.14 110.66ZM425.69 107.55L428 111.07L425.69 114.59L423.38 111.07ZM425.93 107.96L428.24 111.48L425.93 115L423.62 111.48ZM426.17 108.37L428.48 111.89L426.17 115.41L423.86 111.89ZM426.41 108.78L428.72 112.3L426.41 115.82L424.1 112.3ZM426.65 109.19L428.96 112.71L426.65 116.23L424.34 112.71ZM426.88 109.59L429.19 113.11L426.88 116.63L424.57 113.11ZM427.11 110L429.42 113.52L427.11 117.04L424.8 113.52ZM427.34 110.4L429.65 113.92L427.34 117.44L425.03 113.92ZM427.56 110.81L429.87 114.33L427.56 117.85L425.25 114.33ZM427.79 111.21L430.1 114.73L427.79 118.25L425.48 114.73ZM428.01 111.61L430.32 115.13L428.01 118.65L425.7 115.13ZM428.23 112L430.54 115.52L428.23 119.04L425.92 115.52ZM428.45 112.4L430.76 115.92L428.45 119.44L426.14 115.92ZM428.67 112.8L430.98 116.32L428.67 119.84L426.36 116.32ZM428.95 113.32L431.26 116.84L428.95 120.36L426.64 116.84ZM429.24 113.84L431.55 117.36L429.24 120.88L426.93 117.36ZM429.52 114.36L431.83 117.88L429.52 121.4L427.21 117.88ZM429.79 114.88L432.1 118.4L429.79 121.92L427.48 118.4ZM430.07 115.39L432.38 118.91L430.07 122.43L427.76 118.91ZM430.34 115.9L432.65 119.42L430.34 122.94L428.03 119.42ZM430.61 116.41L432.92 119.93L430.61 123.45L428.3 119.93ZM430.87 116.92L433.18 120.44L430.87 123.96L428.56 120.44ZM431.13 117.42L433.44 120.94L431.13 124.46L428.82 120.94ZM431.39 117.92L433.7 121.44L431.39 124.96L429.08 121.44ZM431.65 118.41L433.96 121.93L431.65 125.45L429.34 121.93ZM431.91 118.91L434.22 122.43L431.91 125.95L429.6 122.43ZM432.16 119.4L434.47 122.92L432.16 126.44L429.85 122.92ZM432.41 119.88L434.72 123.4L432.41 126.92L430.1 123.4ZM432.65 120.37L434.96 123.89L432.65 127.41L430.34 123.89ZM432.9 120.86L435.21 124.38L432.9 127.9L430.59 124.38ZM433.14 121.34L435.45 124.86L433.14 128.38L430.83 124.86ZM433.38 121.82L435.69 125.34L433.38 128.86L431.07 125.34ZM433.62 122.3L435.93 125.82L433.62 129.34L431.31 125.82ZM433.86 122.78L436.17 126.3L433.86 129.82L431.55 126.3ZM434.09 123.26L436.4 126.78L434.09 130.3L431.78 126.78ZM434.32 123.73L436.63 127.25L434.32 130.77L432.01 127.25ZM434.55 124.21L436.86 127.73L434.55 131.25L432.24 127.73ZM434.78 124.68L437.09 128.2L434.78 131.72L432.47 128.2ZM435 125.15L437.31 128.67L435 132.19L432.69 128.67ZM435.23 125.62L437.54 129.14L435.23 132.66L432.92 129.14ZM435.45 126.08L437.76 129.6L435.45 133.12L433.14 129.6ZM435.67 126.55L437.98 130.07L435.67 133.59L433.36 130.07ZM435.88 127.01L438.19 130.53L435.88 134.05L433.57 130.53ZM436.1 127.47L438.41 130.99L436.1 134.51L433.79 130.99ZM436.31 127.92L438.62 131.44L436.31 134.96L434 131.44ZM436.52 128.38L438.83 131.9L436.52 135.42L434.21 131.9ZM436.73 128.83L439.04 132.35L436.73 135.87L434.42 132.35ZM436.94 129.29L439.25 132.81L436.94 136.33L434.63 132.81ZM437.15 129.74L439.46 133.26L437.15 136.78L434.84 133.26ZM437.36 130.18L439.67 133.7L437.36 137.22L435.05 133.7ZM437.56 130.63L439.87 134.15L437.56 137.67L435.25 134.15Z" fill="none" stroke="#f0a000" stroke-width="1.15"/>
<path d="M437.56 130.63L439.87 134.15L437.56 137.67L435.25 134.15Z" fill="#fff" stroke="#f0a000" stroke-width="1.15"/>
<text x="419.8" y="43.5" font-size="17.5" text-anchor="start" fill="#262626" style="font-family:'Liberation Serif',serif" textLength="17.4" lengthAdjust="spacing" >(<tspan font-style="italic">b</tspan>)</text>
<text x="328.3" y="115.8" font-size="15.5" text-anchor="start" fill="#262626" style="font-style:italic;font-family:'Liberation Serif',serif" >k</text>
<text x="337" y="110.5" font-size="10" text-anchor="start" fill="#262626" style="font-family:'Liberation Serif',serif" textLength="22.3" lengthAdjust="spacing" >&#8722;3/2</text>
<rect x="269" y="25.5" width="174.5" height="149" fill="none" stroke="#4a4a4a" stroke-width="1.0"/>
<path d="M291.9 174.5v-2.3M291.9 25.5v2.3M350.23 174.5v-2.3M350.23 25.5v2.3M408.56 174.5v-2.3M408.56 25.5v2.3" stroke="#4a4a4a" stroke-width="1.0" fill="none"/>
<path d="M274.34 174.5v-1.3M274.34 25.5v1.3M278.96 174.5v-1.3M278.96 25.5v1.3M282.86 174.5v-1.3M282.86 25.5v1.3M286.25 174.5v-1.3M286.25 25.5v1.3M289.23 174.5v-1.3M289.23 25.5v1.3M309.46 174.5v-1.3M309.46 25.5v1.3M319.73 174.5v-1.3M319.73 25.5v1.3M327.02 174.5v-1.3M327.02 25.5v1.3M332.67 174.5v-1.3M332.67 25.5v1.3M337.29 174.5v-1.3M337.29 25.5v1.3M341.19 174.5v-1.3M341.19 25.5v1.3M344.58 174.5v-1.3M344.58 25.5v1.3M347.56 174.5v-1.3M347.56 25.5v1.3M367.79 174.5v-1.3M367.79 25.5v1.3M378.06 174.5v-1.3M378.06 25.5v1.3M385.35 174.5v-1.3M385.35 25.5v1.3M391 174.5v-1.3M391 25.5v1.3M395.62 174.5v-1.3M395.62 25.5v1.3M399.52 174.5v-1.3M399.52 25.5v1.3M402.91 174.5v-1.3M402.91 25.5v1.3M405.89 174.5v-1.3M405.89 25.5v1.3M426.12 174.5v-1.3M426.12 25.5v1.3M436.39 174.5v-1.3M436.39 25.5v1.3" stroke="#4a4a4a" stroke-width="1.0" fill="none"/>
<path d="M269 159.4h2.3M443.5 159.4h-2.3M269 84.9h2.3M443.5 84.9h-2.3" stroke="#4a4a4a" stroke-width="1.0" fill="none"/>
<path d="M269 174.3h1.2M443.5 174.3h-1.2M269 144.5h1.2M443.5 144.5h-1.2M269 129.6h1.2M443.5 129.6h-1.2M269 114.7h1.2M443.5 114.7h-1.2M269 99.8h1.2M443.5 99.8h-1.2M269 70h1.2M443.5 70h-1.2M269 55.1h1.2M443.5 55.1h-1.2M269 40.2h1.2M443.5 40.2h-1.2M269 25.3h1.2M443.5 25.3h-1.2" stroke="#4a4a4a" stroke-width="1.0" fill="none"/>
<text x="284.8" y="186.7" font-size="10.6" fill="#262626" style="font-family:'Liberation Serif',serif">10<tspan font-size="7.4" dx="0.5" dy="-3.7">1</tspan></text>
<text x="343.13" y="186.7" font-size="10.6" fill="#262626" style="font-family:'Liberation Serif',serif">10<tspan font-size="7.4" dx="0.5" dy="-3.7">2</tspan></text>
<text x="401.46" y="186.7" font-size="10.6" fill="#262626" style="font-family:'Liberation Serif',serif">10<tspan font-size="7.4" dx="0.5" dy="-3.7">3</tspan></text>
<text x="250.8" y="87.9" font-size="10.6" fill="#262626" style="font-family:'Liberation Serif',serif">10<tspan font-size="7.4" dx="0.5" dy="-3.7">0</tspan></text>
<text x="246.21" y="162.4" font-size="10.6" fill="#262626" style="font-family:'Liberation Serif',serif">10<tspan font-size="7.4" dx="0.5" dy="-3.7">&#8722;5</tspan></text>
<text x="356" y="201.5" font-size="14.5" text-anchor="middle" fill="#262626" style="font-style:italic;font-family:'Liberation Serif',serif" textLength="15.3" lengthAdjust="spacing" >kL</text>
<text x="238.3" y="100.2" font-size="14" text-anchor="middle" fill="#262626" style="font-family:'Liberation Serif',serif" textLength="31.5" lengthAdjust="spacing" transform="rotate(-90 238.3 100.2)"><tspan font-style="italic">E</tspan><tspan font-size="9.5" dy="2.5">p</tspan><tspan dy="-2.5">(</tspan><tspan font-style="italic">k</tspan>)</text>
<text x="287.7" y="10.2" font-size="14.5" text-anchor="start" fill="#262626" style="font-family:'Liberation Serif',serif" >De</text>
<path d="M331.3 6.3 L342.3 6.3" fill="none" stroke="#0c6477" stroke-width="1.1"/>
<path d="M336.8 3.57L339.17 7.66L334.43 7.66Z" fill="#fff" stroke="none"/>
<path d="M336.8 3.57L339.17 7.66L334.43 7.66Z" fill="none" stroke="#0c6477" stroke-width="1.1"/>
<text x="343.6" y="10.2" font-size="14.5" text-anchor="start" fill="#262626" style="font-family:'Liberation Serif',serif" >1</text>
<path d="M368.2 6.3 L379.2 6.3" fill="none" stroke="#7d8b3c" stroke-width="1.1"/>
<path d="M372.12 4.72h3.17v3.17h-3.17Z" fill="#fff" stroke="none"/>
<path d="M372.12 4.72h3.17v3.17h-3.17Z" fill="none" stroke="#7d8b3c" stroke-width="1.1"/>
<text x="380.5" y="10.2" font-size="14.5" text-anchor="start" fill="#262626" style="font-family:'Liberation Serif',serif" >3</text>
<path d="M404.9 6.3 L415.9 6.3" fill="none" stroke="#f0a000" stroke-width="1.1"/>
<path d="M410.4 3.48L412.25 6.3L410.4 9.12L408.55 6.3Z" fill="#fff" stroke="none"/>
<path d="M410.4 3.48L412.25 6.3L410.4 9.12L408.55 6.3Z" fill="none" stroke="#f0a000" stroke-width="1.1"/>
<text x="417.2" y="10.2" font-size="14.5" text-anchor="start" fill="#262626" style="font-family:'Liberation Serif',serif" >9</text>
<path d="M507.4 119.8 L601.7 47.3" fill="none" stroke="#000" stroke-width="1.3" stroke-dasharray="3.6,0.9,1.2,0.9"/>
<path d="M510.8 135.7 L604.7 63.4" fill="none" stroke="#000" stroke-width="1.3" stroke-dasharray="3.6,0.9,1.2,0.9"/>
<path d="M521 144.8 L606.3 80" fill="none" stroke="#000" stroke-width="1.3" stroke-dasharray="3.6,0.9,1.2,0.9"/>
<path d="M502 168.04 L519.51 153.31 L529.75 143.79 L537.02 138.16 L542.66 134.1 L547.27 131.3 L551.16 128.66 L554.53 126.46 L557.51 124.29 L560.17 122.18 L564.2 118.8 L570.5 113.26 L576.9 107.92 L582.8 103.3 L587.4 99.78 L591.1 97.24 L594.9 94.49 L600.2 90.15 L605.9 87.04 L609.7 84.11 L613.3 81.46 L617.1 79.5 L628.6 73.8 L635.2 70.7 L641.3 68.5 L645.6 67.5 L653.2 64.7 L658.9 63.4 L663.6 64.7 L667.4 66.6 L670.8 69.4" fill="none" stroke="#0c6477" stroke-width="1.1"/>
<g fill="#fff" stroke="#0c6477" stroke-width="1.25">
<path d="M502 164.79L504.83 169.67L499.17 169.67Z"/>
<path d="M519.51 150.06L522.34 154.94L516.68 154.94Z"/>
<path d="M529.75 140.53L532.59 145.41L526.92 145.41Z"/>
<path d="M537.02 134.9L539.85 139.78L534.19 139.78Z"/>
<path d="M542.66 130.85L545.49 135.73L539.83 135.73Z"/>
<path d="M547.27 128.04L550.1 132.93L544.43 132.93Z"/>
<path d="M551.16 125.41L553.99 130.29L548.33 130.29Z"/>
<path d="M554.53 123.2L557.36 128.09L551.7 128.09Z"/>
<path d="M557.51 121.03L560.34 125.92L554.68 125.92Z"/>
<path d="M560.17 118.93L563 123.81L557.34 123.81Z"/>
<path d="M564.2 115.55L567.03 120.43L561.37 120.43Z"/>
<path d="M570.5 110L573.33 114.88L567.67 114.88Z"/>
<path d="M576.9 104.66L579.73 109.55L574.07 109.55Z"/>
<path d="M582.8 100.05L585.63 104.93L579.97 104.93Z"/>
<path d="M587.4 96.52L590.23 101.41L584.57 101.41Z"/>
<path d="M591.1 93.98L593.93 98.87L588.27 98.87Z"/>
<path d="M594.9 91.23L597.73 96.11L592.07 96.11Z"/>
<path d="M600.2 86.9L603.03 91.78L597.37 91.78Z"/>
<path d="M605.9 83.78L608.73 88.67L603.07 88.67Z"/>
<path d="M609.7 80.85L612.53 85.73L606.87 85.73Z"/>
<path d="M613.3 78.2L616.13 83.09L610.47 83.09Z"/>
<path d="M617.1 76.25L619.93 81.13L614.27 81.13Z"/>
<path d="M628.6 70.55L631.43 75.43L625.77 75.43Z"/>
<path d="M635.2 67.45L638.03 72.33L632.37 72.33Z"/>
<path d="M641.3 65.25L644.13 70.13L638.47 70.13Z"/>
<path d="M645.6 64.25L648.43 69.13L642.77 69.13Z"/>
<path d="M653.2 61.45L656.03 66.33L650.37 66.33Z"/>
<path d="M658.9 60.14L661.73 65.03L656.07 65.03Z"/>
<path d="M663.6 61.45L666.43 66.33L660.77 66.33Z"/>
<path d="M667.4 63.34L670.23 68.23L664.57 68.23Z"/>
<path d="M670.8 66.15L673.63 71.03L667.97 71.03Z"/>
</g>
<path d="M502 150.14 L519.51 135.32 L529.75 126.26 L537.02 120.99 L542.66 117.3 L547.27 113.43 L551.16 110.86 L554.53 108.52 L557.51 106.47 L560.17 104.37 L564.2 100.5 L570.5 94.48 L576.9 88.74 L582.8 85.66 L587.4 83.1 L591.1 81.23 L594.9 79 L600.2 75.5 L605.9 71.61 L609.7 69.47 L613.3 67.28 L617.1 65.41 L628.6 60.5 L635.2 58.6 L641.3 56.2 L645.6 54.9 L653.2 53.7 L658.9 52.4 L663.6 53.4 L667.4 54.9 L670.8 57.1" fill="none" stroke="#7d8b3c" stroke-width="1.1"/>
<g fill="#fff" stroke="#7d8b3c" stroke-width="1.25">
<path d="M500.11 148.25h3.78v3.78h-3.78Z"/>
<path d="M517.62 133.43h3.78v3.78h-3.78Z"/>
<path d="M527.86 124.37h3.78v3.78h-3.78Z"/>
<path d="M535.13 119.1h3.78v3.78h-3.78Z"/>
<path d="M540.77 115.41h3.78v3.78h-3.78Z"/>
<path d="M545.38 111.54h3.78v3.78h-3.78Z"/>
<path d="M549.27 108.97h3.78v3.78h-3.78Z"/>
<path d="M552.64 106.63h3.78v3.78h-3.78Z"/>
<path d="M555.62 104.58h3.78v3.78h-3.78Z"/>
<path d="M558.28 102.48h3.78v3.78h-3.78Z"/>
<path d="M562.31 98.61h3.78v3.78h-3.78Z"/>
<path d="M568.61 92.59h3.78v3.78h-3.78Z"/>
<path d="M575.01 86.85h3.78v3.78h-3.78Z"/>
<path d="M580.91 83.77h3.78v3.78h-3.78Z"/>
<path d="M585.51 81.21h3.78v3.78h-3.78Z"/>
<path d="M589.21 79.34h3.78v3.78h-3.78Z"/>
<path d="M593.01 77.11h3.78v3.78h-3.78Z"/>
<path d="M598.31 73.61h3.78v3.78h-3.78Z"/>
<path d="M604.01 69.72h3.78v3.78h-3.78Z"/>
<path d="M607.81 67.58h3.78v3.78h-3.78Z"/>
<path d="M611.41 65.39h3.78v3.78h-3.78Z"/>
<path d="M615.21 63.52h3.78v3.78h-3.78Z"/>
<path d="M626.71 58.61h3.78v3.78h-3.78Z"/>
<path d="M633.31 56.71h3.78v3.78h-3.78Z"/>
<path d="M639.41 54.31h3.78v3.78h-3.78Z"/>
<path d="M643.71 53.01h3.78v3.78h-3.78Z"/>
<path d="M651.31 51.81h3.78v3.78h-3.78Z"/>
<path d="M657.01 50.51h3.78v3.78h-3.78Z"/>
<path d="M661.71 51.51h3.78v3.78h-3.78Z"/>
<path d="M665.51 53.01h3.78v3.78h-3.78Z"/>
<path d="M668.91 55.21h3.78v3.78h-3.78Z"/>
</g>
<path d="M502 133.04 L519.51 118 L529.75 108.45 L537.02 102.71 L542.66 98.5 L547.27 95.35 L551.16 92.4 L554.53 90.42 L557.51 88.49 L560.17 86.34 L564.2 82.3 L570.5 77.04 L576.9 72.23 L582.8 68.7 L587.4 66.2 L591.1 64.12 L594.9 61.9 L600.2 58.6 L605.9 55.2 L609.7 53 L613.3 51.2 L617.1 49.29 L628.6 44.3 L635.2 42.4 L641.3 40.5 L645.6 39.2 L653.2 37.9 L658.9 36.3 L663.6 37.3 L667.4 38.6 L670.8 41.1" fill="none" stroke="#f0a000" stroke-width="1.1"/>
<g fill="#fff" stroke="#f0a000" stroke-width="1.25">
<path d="M502 129.68L504.2 133.04L502 136.4L499.8 133.04Z"/>
<path d="M519.51 114.64L521.72 118L519.51 121.36L517.31 118Z"/>
<path d="M529.75 105.09L531.96 108.45L529.75 111.81L527.55 108.45Z"/>
<path d="M537.02 99.35L539.23 102.71L537.02 106.07L534.82 102.71Z"/>
<path d="M542.66 95.14L544.86 98.5L542.66 101.86L540.45 98.5Z"/>
<path d="M547.27 91.99L549.47 95.35L547.27 98.71L545.06 95.35Z"/>
<path d="M551.16 89.04L553.36 92.4L551.16 95.76L548.95 92.4Z"/>
<path d="M554.53 87.06L556.74 90.42L554.53 93.78L552.33 90.42Z"/>
<path d="M557.51 85.13L559.71 88.49L557.51 91.85L555.3 88.49Z"/>
<path d="M560.17 82.98L562.38 86.34L560.17 89.7L557.96 86.34Z"/>
<path d="M564.2 78.94L566.41 82.3L564.2 85.66L562 82.3Z"/>
<path d="M570.5 73.68L572.71 77.04L570.5 80.4L568.29 77.04Z"/>
<path d="M576.9 68.87L579.11 72.23L576.9 75.59L574.69 72.23Z"/>
<path d="M582.8 65.34L585 68.7L582.8 72.06L580.59 68.7Z"/>
<path d="M587.4 62.84L589.61 66.2L587.4 69.56L585.19 66.2Z"/>
<path d="M591.1 60.76L593.31 64.12L591.1 67.48L588.89 64.12Z"/>
<path d="M594.9 58.54L597.11 61.9L594.9 65.26L592.69 61.9Z"/>
<path d="M600.2 55.24L602.41 58.6L600.2 61.96L598 58.6Z"/>
<path d="M605.9 51.84L608.11 55.2L605.9 58.56L603.69 55.2Z"/>
<path d="M609.7 49.64L611.91 53L609.7 56.36L607.5 53Z"/>
<path d="M613.3 47.84L615.5 51.2L613.3 54.56L611.09 51.2Z"/>
<path d="M617.1 45.93L619.31 49.29L617.1 52.65L614.89 49.29Z"/>
<path d="M628.6 40.94L630.81 44.3L628.6 47.66L626.39 44.3Z"/>
<path d="M635.2 39.04L637.41 42.4L635.2 45.76L633 42.4Z"/>
<path d="M641.3 37.14L643.5 40.5L641.3 43.86L639.09 40.5Z"/>
<path d="M645.6 35.84L647.81 39.2L645.6 42.56L643.39 39.2Z"/>
<path d="M653.2 34.54L655.41 37.9L653.2 41.26L651 37.9Z"/>
<path d="M658.9 32.94L661.11 36.3L658.9 39.66L656.69 36.3Z"/>
<path d="M663.6 33.94L665.81 37.3L663.6 40.66L661.39 37.3Z"/>
<path d="M667.4 35.24L669.61 38.6L667.4 41.96L665.19 38.6Z"/>
<path d="M670.8 37.74L673 41.1L670.8 44.46L668.59 41.1Z"/>
</g>
<text x="505.7" y="43.1" font-size="17.5" text-anchor="start" fill="#262626" style="font-family:'Liberation Serif',serif" textLength="17" lengthAdjust="spacing" >(<tspan font-style="italic">c</tspan>)</text>
<g transform="rotate(-18 540.5 83)">
<text x="540.3" y="83" font-size="13.5" text-anchor="start" fill="#262626" style="font-style:italic;font-family:'Liberation Serif',serif" >r</text>
<text x="546.3" y="79.3" font-size="10.5" text-anchor="start" fill="#262626" style="font-family:'Liberation Serif',serif" >3</text>
</g>
<rect x="588.3" y="103.5" width="88.20000000000005" height="58.900000000000006" fill="#fff"/>
<path d="M588.3 138 L647.3 105.7" fill="none" stroke="#000" stroke-width="0.8"/>
<path d="M588.3 145.9 L648.1 113.9" fill="none" stroke="#000" stroke-width="0.8"/>
<path d="M588.3 154.9 L648.1 123" fill="none" stroke="#000" stroke-width="0.8"/>
<path d="M588.3 160.7 L597.15 154.2 L602.33 150.83 L606 148.58 L608.85 146.89 L611.18 145.56 L613.15 144.44 L614.86 143.48 L616.36 142.63 L617.7 141.85 L619.74 140.66 L622.93 138.77 L626.16 136.89 L629.14 135.28 L631.47 134.08 L633.34 133.15 L635.26 132.2 L637.94 130.88 L640.82 129.41 L642.74 128.4 L644.56 127.47 L646.48 126.55 L652.3 124.23 L655.63 123.43 L658.72 122.86 L660.89 122.63 L664.73 122.65 L667.61 122.79 L669.99 122.98 L671.91 123.45 L673.63 124.26" fill="none" stroke="#0c6477" stroke-width="1.0"/>
<g fill="#fff" stroke="#0c6477" stroke-width="1.15">
<path d="M588.3 157.66L590.94 162.22L585.66 162.22Z"/>
<path d="M597.15 151.16L599.79 155.72L594.51 155.72Z"/>
<path d="M602.33 147.79L604.97 152.35L599.69 152.35Z"/>
<path d="M606 145.54L608.65 150.1L603.36 150.1Z"/>
<path d="M608.85 143.85L611.5 148.41L606.21 148.41Z"/>
<path d="M611.18 142.52L613.82 147.07L608.54 147.07Z"/>
<path d="M613.15 141.4L615.79 145.96L610.51 145.96Z"/>
<path d="M614.86 140.44L617.5 145L612.21 145Z"/>
<path d="M616.36 139.59L619 144.15L613.72 144.15Z"/>
<path d="M617.7 138.82L620.35 143.37L615.06 143.37Z"/>
<path d="M619.74 137.62L622.39 142.18L617.1 142.18Z"/>
<path d="M622.93 135.73L625.57 140.29L620.28 140.29Z"/>
<path d="M626.16 133.86L628.81 138.41L623.52 138.41Z"/>
<path d="M629.14 132.24L631.79 136.8L626.5 136.8Z"/>
<path d="M631.47 131.05L634.11 135.6L628.83 135.6Z"/>
<path d="M633.34 130.11L635.98 134.67L630.7 134.67Z"/>
<path d="M635.26 129.16L637.9 133.72L632.62 133.72Z"/>
<path d="M637.94 127.84L640.58 132.4L635.3 132.4Z"/>
<path d="M640.82 126.38L643.46 130.93L638.18 130.93Z"/>
<path d="M642.74 125.37L645.39 129.92L640.1 129.92Z"/>
<path d="M644.56 124.43L647.21 128.99L641.92 128.99Z"/>
<path d="M646.48 123.52L649.13 128.07L643.84 128.07Z"/>
<path d="M652.3 121.19L654.94 125.75L649.65 125.75Z"/>
<path d="M655.63 120.39L658.28 124.95L652.99 124.95Z"/>
<path d="M658.72 119.82L661.36 124.38L656.07 124.38Z"/>
<path d="M660.89 119.6L663.53 124.15L658.25 124.15Z"/>
<path d="M664.73 119.61L667.37 124.16L662.09 124.16Z"/>
<path d="M667.61 119.75L670.26 124.31L664.97 124.31Z"/>
<path d="M669.99 119.94L672.63 124.5L667.35 124.5Z"/>
<path d="M671.91 120.41L674.55 124.97L669.27 124.97Z"/>
<path d="M673.63 121.22L676.27 125.78L670.99 125.78Z"/>
</g>
<path d="M588.3 151.6 L597.15 146.79 L602.33 143.48 L606 141.17 L608.85 139.64 L611.18 138.49 L613.15 137.54 L614.86 136.71 L616.36 135.96 L617.7 135.25 L619.74 134.09 L622.93 132.15 L626.16 130.25 L629.14 128.77 L631.47 127.77 L633.34 127.01 L635.26 126.24 L637.94 125.12 L640.82 123.75 L642.74 122.72 L644.56 121.75 L646.48 120.84 L652.3 118.79 L655.63 118.04 L658.72 117.47 L660.89 117.23 L664.73 117.2 L667.61 117.2 L669.99 117.2 L671.91 117.49 L673.63 118.13" fill="none" stroke="#7d8b3c" stroke-width="1.0"/>
<g fill="#fff" stroke="#7d8b3c" stroke-width="1.15">
<path d="M586.54 149.84h3.53v3.53h-3.53Z"/>
<path d="M595.39 145.02h3.53v3.53h-3.53Z"/>
<path d="M600.57 141.71h3.53v3.53h-3.53Z"/>
<path d="M604.24 139.41h3.53v3.53h-3.53Z"/>
<path d="M607.09 137.87h3.53v3.53h-3.53Z"/>
<path d="M609.42 136.72h3.53v3.53h-3.53Z"/>
<path d="M611.39 135.78h3.53v3.53h-3.53Z"/>
<path d="M613.09 134.95h3.53v3.53h-3.53Z"/>
<path d="M614.6 134.19h3.53v3.53h-3.53Z"/>
<path d="M615.94 133.49h3.53v3.53h-3.53Z"/>
<path d="M617.98 132.33h3.53v3.53h-3.53Z"/>
<path d="M621.16 130.39h3.53v3.53h-3.53Z"/>
<path d="M624.4 128.49h3.53v3.53h-3.53Z"/>
<path d="M627.38 127.01h3.53v3.53h-3.53Z"/>
<path d="M629.71 126h3.53v3.53h-3.53Z"/>
<path d="M631.58 125.24h3.53v3.53h-3.53Z"/>
<path d="M633.5 124.48h3.53v3.53h-3.53Z"/>
<path d="M636.18 123.36h3.53v3.53h-3.53Z"/>
<path d="M639.06 121.98h3.53v3.53h-3.53Z"/>
<path d="M640.98 120.95h3.53v3.53h-3.53Z"/>
<path d="M642.8 119.99h3.53v3.53h-3.53Z"/>
<path d="M644.72 119.07h3.53v3.53h-3.53Z"/>
<path d="M650.53 117.02h3.53v3.53h-3.53Z"/>
<path d="M653.87 116.28h3.53v3.53h-3.53Z"/>
<path d="M656.95 115.71h3.53v3.53h-3.53Z"/>
<path d="M659.13 115.47h3.53v3.53h-3.53Z"/>
<path d="M662.97 115.44h3.53v3.53h-3.53Z"/>
<path d="M665.85 115.44h3.53v3.53h-3.53Z"/>
<path d="M668.22 115.44h3.53v3.53h-3.53Z"/>
<path d="M670.15 115.73h3.53v3.53h-3.53Z"/>
<path d="M671.86 116.37h3.53v3.53h-3.53Z"/>
</g>
<path d="M588.3 143 L597.15 138.09 L602.33 134.6 L606 132.17 L608.85 130.62 L611.18 129.46 L613.15 128.52 L614.86 127.7 L616.36 126.96 L617.7 126.25 L619.74 125.09 L622.93 123.15 L626.16 121.25 L629.14 119.76 L631.47 118.72 L633.34 117.94 L635.26 117.16 L637.94 116.08 L640.82 114.87 L642.74 114.03 L644.56 113.27 L646.48 112.56 L652.3 111.02 L655.63 110.39 L658.72 109.89 L660.89 109.61 L664.73 109.27 L667.61 109.07 L669.99 109 L671.91 109.28 L673.63 109.92" fill="none" stroke="#f0a000" stroke-width="1.0"/>
<g fill="#fff" stroke="#f0a000" stroke-width="1.15">
<path d="M588.3 139.86L590.36 143L588.3 146.14L586.24 143Z"/>
<path d="M597.15 134.95L599.21 138.09L597.15 141.23L595.09 138.09Z"/>
<path d="M602.33 131.46L604.39 134.6L602.33 137.73L600.27 134.6Z"/>
<path d="M606 129.04L608.06 132.17L606 135.31L603.95 132.17Z"/>
<path d="M608.85 127.48L610.91 130.62L608.85 133.75L606.8 130.62Z"/>
<path d="M611.18 126.33L613.24 129.46L611.18 132.6L609.12 129.46Z"/>
<path d="M613.15 125.39L615.21 128.52L613.15 131.66L611.09 128.52Z"/>
<path d="M614.86 124.57L616.91 127.7L614.86 130.84L612.8 127.7Z"/>
<path d="M616.36 123.82L618.42 126.96L616.36 130.09L614.3 126.96Z"/>
<path d="M617.7 123.12L619.76 126.25L617.7 129.39L615.65 126.25Z"/>
<path d="M619.74 121.96L621.8 125.09L619.74 128.23L617.68 125.09Z"/>
<path d="M622.93 120.02L624.98 123.15L622.93 126.29L620.87 123.15Z"/>
<path d="M626.16 118.12L628.22 121.25L626.16 124.39L624.1 121.25Z"/>
<path d="M629.14 116.63L631.2 119.76L629.14 122.9L627.09 119.76Z"/>
<path d="M631.47 115.59L633.53 118.72L631.47 121.86L629.41 118.72Z"/>
<path d="M633.34 114.8L635.4 117.94L633.34 121.07L631.28 117.94Z"/>
<path d="M635.26 114.02L637.32 117.16L635.26 120.29L633.2 117.16Z"/>
<path d="M637.94 112.94L640 116.08L637.94 119.21L635.88 116.08Z"/>
<path d="M640.82 111.73L642.88 114.87L640.82 118L638.76 114.87Z"/>
<path d="M642.74 110.89L644.8 114.03L642.74 117.17L640.68 114.03Z"/>
<path d="M644.56 110.13L646.62 113.27L644.56 116.41L642.5 113.27Z"/>
<path d="M646.48 109.42L648.54 112.56L646.48 115.7L644.43 112.56Z"/>
<path d="M652.3 107.88L654.35 111.02L652.3 114.16L650.24 111.02Z"/>
<path d="M655.63 107.25L657.69 110.39L655.63 113.52L653.57 110.39Z"/>
<path d="M658.72 106.75L660.77 109.89L658.72 113.02L656.66 109.89Z"/>
<path d="M660.89 106.47L662.95 109.61L660.89 112.74L658.83 109.61Z"/>
<path d="M664.73 106.13L666.79 109.27L664.73 112.4L662.67 109.27Z"/>
<path d="M667.61 105.93L669.67 109.07L667.61 112.21L665.55 109.07Z"/>
<path d="M669.99 105.86L672.05 109L669.99 112.14L667.93 109Z"/>
<path d="M671.91 106.15L673.97 109.28L671.91 112.42L669.85 109.28Z"/>
<path d="M673.63 106.79L675.69 109.92L673.63 113.06L671.57 109.92Z"/>
</g>
<rect x="588.3" y="103.5" width="88.2" height="58.9" fill="none" stroke="#4a4a4a" stroke-width="1.0"/>
<path d="M588.3 162.4v-1.5M588.3 103.5v1.5M617.7 162.4v-1.5M617.7 103.5v1.5M647.1 162.4v-1.5M647.1 103.5v1.5M676.5 162.4v-1.5M676.5 103.5v1.5" stroke="#4a4a4a" stroke-width="1.0" fill="none"/>
<path d="M597.15 162.4v-0.7M597.15 103.5v0.7M602.33 162.4v-0.7M602.33 103.5v0.7M606 162.4v-0.7M606 103.5v0.7M608.85 162.4v-0.7M608.85 103.5v0.7M611.18 162.4v-0.7M611.18 103.5v0.7M613.15 162.4v-0.7M613.15 103.5v0.7M614.85 162.4v-0.7M614.85 103.5v0.7M616.35 162.4v-0.7M616.35 103.5v0.7M626.55 162.4v-0.7M626.55 103.5v0.7M631.73 162.4v-0.7M631.73 103.5v0.7M635.4 162.4v-0.7M635.4 103.5v0.7M638.25 162.4v-0.7M638.25 103.5v0.7M640.58 162.4v-0.7M640.58 103.5v0.7M642.55 162.4v-0.7M642.55 103.5v0.7M644.25 162.4v-0.7M644.25 103.5v0.7M645.75 162.4v-0.7M645.75 103.5v0.7M655.95 162.4v-0.7M655.95 103.5v0.7M661.13 162.4v-0.7M661.13 103.5v0.7M664.8 162.4v-0.7M664.8 103.5v0.7M667.65 162.4v-0.7M667.65 103.5v0.7M669.98 162.4v-0.7M669.98 103.5v0.7M671.95 162.4v-0.7M671.95 103.5v0.7M673.65 162.4v-0.7M673.65 103.5v0.7M675.15 162.4v-0.7M675.15 103.5v0.7" stroke="#4a4a4a" stroke-width="1.0" fill="none"/>
<path d="M588.3 148.3h1.5M676.5 148.3h-1.5M588.3 132.9h1.5M676.5 132.9h-1.5M588.3 117.5h1.5M676.5 117.5h-1.5" stroke="#4a4a4a" stroke-width="1.0" fill="none"/>
<text x="581.25" y="171.2" font-size="8.3" fill="#262626" style="font-family:'Liberation Serif',serif">10<tspan font-size="5.8" dx="0.5" dy="-2.9">&#8722;3</tspan></text>
<text x="610.65" y="171.2" font-size="8.3" fill="#262626" style="font-family:'Liberation Serif',serif">10<tspan font-size="5.8" dx="0.5" dy="-2.9">&#8722;2</tspan></text>
<text x="640.05" y="171.2" font-size="8.3" fill="#262626" style="font-family:'Liberation Serif',serif">10<tspan font-size="5.8" dx="0.5" dy="-2.9">&#8722;1</tspan></text>
<text x="574.4" y="120.1" font-size="8.3" fill="#262626" style="font-family:'Liberation Serif',serif">10<tspan font-size="5.8" dx="0.5" dy="-2.9">2</tspan></text>
<text x="574.4" y="135.5" font-size="8.3" fill="#262626" style="font-family:'Liberation Serif',serif">10<tspan font-size="5.8" dx="0.5" dy="-2.9">0</tspan></text>
<text x="570.8" y="150.9" font-size="8.3" fill="#262626" style="font-family:'Liberation Serif',serif">10<tspan font-size="5.8" dx="0.5" dy="-2.9">&#8722;2</tspan></text>
<text x="599.8" y="123.8" font-size="11.5" text-anchor="start" fill="#262626" style="font-style:italic;font-family:'Liberation Serif',serif" >r</text>
<text x="605.2" y="119.8" font-size="7.8" text-anchor="start" fill="#262626" style="font-family:'Liberation Serif',serif" >2</text>
<text x="643.66" y="153.6" font-size="9.180000000000001" text-anchor="start" fill="#262626" style="font-style:italic;font-family:'Liberation Serif',serif" >r</text>
<path d="M649.16 155.91L652.5 146.94" stroke="#262626" stroke-width="0.58"/>
<text x="653.24" y="153.6" font-size="9.180000000000001" text-anchor="start" fill="#262626" style="font-style:italic;font-family:'Liberation Serif',serif" >L</text>
<path d="M635.8 158.5 L664 158.5" fill="none" stroke="#000" stroke-width="0.8"/>
<path d="M668.3 158.5 L662.8 156.6 L662.8 160.4Z" fill="#111"/>
<text x="568.3" y="133" font-size="10" text-anchor="middle" fill="#262626" style="font-family:'Liberation Serif',serif" transform="rotate(-90 568.3 133)"><tspan font-style="italic">S</tspan><tspan font-size="7" dy="2">2</tspan><tspan dy="-2">(</tspan><tspan font-style="italic">r</tspan>)</text>
<rect x="502" y="25.5" width="174.5" height="149" fill="none" stroke="#4a4a4a" stroke-width="1.0"/>
<path d="M502 174.5v-2.3M502 25.5v2.3M560.17 174.5v-2.3M560.17 25.5v2.3M618.34 174.5v-2.3M618.34 25.5v2.3M676.51 174.5v-2.3M676.51 25.5v2.3" stroke="#4a4a4a" stroke-width="1.0" fill="none"/>
<path d="M519.51 174.5v-1.3M519.51 25.5v1.3M529.75 174.5v-1.3M529.75 25.5v1.3M537.02 174.5v-1.3M537.02 25.5v1.3M542.66 174.5v-1.3M542.66 25.5v1.3M547.27 174.5v-1.3M547.27 25.5v1.3M551.16 174.5v-1.3M551.16 25.5v1.3M554.53 174.5v-1.3M554.53 25.5v1.3M557.51 174.5v-1.3M557.51 25.5v1.3M577.68 174.5v-1.3M577.68 25.5v1.3M587.92 174.5v-1.3M587.92 25.5v1.3M595.19 174.5v-1.3M595.19 25.5v1.3M600.83 174.5v-1.3M600.83 25.5v1.3M605.44 174.5v-1.3M605.44 25.5v1.3M609.33 174.5v-1.3M609.33 25.5v1.3M612.7 174.5v-1.3M612.7 25.5v1.3M615.68 174.5v-1.3M615.68 25.5v1.3M635.85 174.5v-1.3M635.85 25.5v1.3M646.09 174.5v-1.3M646.09 25.5v1.3M653.36 174.5v-1.3M653.36 25.5v1.3M659 174.5v-1.3M659 25.5v1.3M663.61 174.5v-1.3M663.61 25.5v1.3M667.5 174.5v-1.3M667.5 25.5v1.3M670.87 174.5v-1.3M670.87 25.5v1.3M673.85 174.5v-1.3M673.85 25.5v1.3" stroke="#4a4a4a" stroke-width="1.0" fill="none"/>
<path d="M502 159.6h2.3M676.5 159.6h-2.3M502 85.1h2.3M676.5 85.1h-2.3" stroke="#4a4a4a" stroke-width="1.0" fill="none"/>
<path d="M502 174.5h1.2M676.5 174.5h-1.2M502 144.7h1.2M676.5 144.7h-1.2M502 129.8h1.2M676.5 129.8h-1.2M502 114.9h1.2M676.5 114.9h-1.2M502 100h1.2M676.5 100h-1.2M502 70.2h1.2M676.5 70.2h-1.2M502 55.3h1.2M676.5 55.3h-1.2M502 40.4h1.2M676.5 40.4h-1.2M502 25.5h1.2M676.5 25.5h-1.2" stroke="#4a4a4a" stroke-width="1.0" fill="none"/>
<text x="492.61" y="187" font-size="10.6" fill="#262626" style="font-family:'Liberation Serif',serif">10<tspan font-size="7.4" dx="0.5" dy="-3.7">&#8722;3</tspan></text>
<text x="550.78" y="187" font-size="10.6" fill="#262626" style="font-family:'Liberation Serif',serif">10<tspan font-size="7.4" dx="0.5" dy="-3.7">&#8722;2</tspan></text>
<text x="608.95" y="187" font-size="10.6" fill="#262626" style="font-family:'Liberation Serif',serif">10<tspan font-size="7.4" dx="0.5" dy="-3.7">&#8722;1</tspan></text>
<text x="669.41" y="187" font-size="10.6" fill="#262626" style="font-family:'Liberation Serif',serif">10<tspan font-size="7.4" dx="0.5" dy="-3.7">0</tspan></text>
<text x="483.8" y="88.1" font-size="10.6" fill="#262626" style="font-family:'Liberation Serif',serif">10<tspan font-size="7.4" dx="0.5" dy="-3.7">0</tspan></text>
<text x="479.21" y="162.6" font-size="10.6" fill="#262626" style="font-family:'Liberation Serif',serif">10<tspan font-size="7.4" dx="0.5" dy="-3.7">&#8722;5</tspan></text>
<text x="577.5" y="201.9" font-size="13.5" text-anchor="start" fill="#262626" style="font-style:italic;font-family:'Liberation Serif',serif" >r</text>
<path d="M585.6 205.3L590.5 192.1" stroke="#262626" stroke-width="0.85"/>
<text x="591.6" y="201.9" font-size="13.5" text-anchor="start" fill="#262626" style="font-style:italic;font-family:'Liberation Serif',serif" >L</text>
<text x="472.3" y="99.9" font-size="14.5" text-anchor="middle" fill="#262626" style="font-family:'Liberation Serif',serif" textLength="28.3" lengthAdjust="spacing" transform="rotate(-90 472.3 99.9)">&#931;<tspan font-size="9.5" dy="2.5">2</tspan><tspan dy="-2.5">(</tspan><tspan font-style="italic">r</tspan>)</text>
<path d="M51 363.3 L74.42 359.2 L88.12 356.6 L97.84 354.65 L105.38 352.91 L111.54 351.39 L116.75 350.13 L121.26 349.12 L125.24 348.32 L128.8 347.72 L134.96 346.87 L142.5 346.01 L152.22 345.01 L154.82 344.72 L159.76 344.13 L165.92 343.32 L171.13 342.6 L175.64 341.96 L183.18 340.85 L189.34 339.9 L194.55 339.08 L199.06 338.4" fill="none" stroke="#264653" stroke-width="1.3"/>
<g fill="#fff" stroke="#264653" stroke-width="1.25">
<path d="M51 360.05L53.83 364.93L48.17 364.93Z"/>
<path d="M74.42 355.94L77.25 360.82L71.59 360.82Z"/>
<path d="M88.12 353.35L90.95 358.23L85.29 358.23Z"/>
<path d="M97.84 351.39L100.67 356.27L95.01 356.27Z"/>
<path d="M105.38 349.66L108.21 354.54L102.55 354.54Z"/>
<path d="M111.54 348.14L114.37 353.02L108.71 353.02Z"/>
<path d="M116.75 346.88L119.58 351.76L113.92 351.76Z"/>
<path d="M121.26 345.86L124.09 350.74L118.43 350.74Z"/>
<path d="M125.24 345.06L128.07 349.95L122.41 349.95Z"/>
<path d="M128.8 344.46L131.63 349.34L125.97 349.34Z"/>
<path d="M134.96 343.61L137.79 348.5L132.13 348.5Z"/>
<path d="M142.5 342.76L145.33 347.64L139.67 347.64Z"/>
<path d="M152.22 341.75L155.05 346.63L149.39 346.63Z"/>
<path d="M154.82 341.47L157.65 346.35L151.99 346.35Z"/>
<path d="M159.76 340.88L162.59 345.76L156.93 345.76Z"/>
<path d="M165.92 340.06L168.75 344.95L163.09 344.95Z"/>
<path d="M171.13 339.35L173.96 344.23L168.3 344.23Z"/>
<path d="M175.64 338.71L178.47 343.59L172.81 343.59Z"/>
<path d="M183.18 337.6L186.01 342.48L180.35 342.48Z"/>
<path d="M189.34 336.65L192.17 341.53L186.51 341.53Z"/>
<path d="M194.55 335.82L197.38 340.7L191.72 340.7Z"/>
<path d="M199.06 335.14L201.89 340.03L196.23 340.03Z"/>
</g>
<path d="M51 357.3 L74.42 348.99 L88.12 343.95 L97.84 340.44 L105.38 337.79 L111.54 335.67 L116.75 333.99 L121.26 332.64 L125.24 331.55 L128.8 330.64 L134.96 329.1 L142.5 327.07 L152.22 324.02 L154.82 323.18 L159.76 321.65 L165.92 319.97 L171.13 318.68 L175.64 317.61 L183.18 315.92 L189.34 314.67 L194.55 313.7 L199.06 313" fill="none" stroke="#2a9d8f" stroke-width="1.3"/>
<g fill="#fff" stroke="#2a9d8f" stroke-width="1.25">
<path d="M49.11 355.41h3.78v3.78h-3.78Z"/>
<path d="M72.53 347.1h3.78v3.78h-3.78Z"/>
<path d="M86.23 342.06h3.78v3.78h-3.78Z"/>
<path d="M95.95 338.55h3.78v3.78h-3.78Z"/>
<path d="M103.49 335.9h3.78v3.78h-3.78Z"/>
<path d="M109.65 333.78h3.78v3.78h-3.78Z"/>
<path d="M114.86 332.1h3.78v3.78h-3.78Z"/>
<path d="M119.37 330.75h3.78v3.78h-3.78Z"/>
<path d="M123.35 329.66h3.78v3.78h-3.78Z"/>
<path d="M126.91 328.75h3.78v3.78h-3.78Z"/>
<path d="M133.07 327.21h3.78v3.78h-3.78Z"/>
<path d="M140.61 325.18h3.78v3.78h-3.78Z"/>
<path d="M150.33 322.13h3.78v3.78h-3.78Z"/>
<path d="M152.93 321.29h3.78v3.78h-3.78Z"/>
<path d="M157.87 319.76h3.78v3.78h-3.78Z"/>
<path d="M164.03 318.08h3.78v3.78h-3.78Z"/>
<path d="M169.24 316.79h3.78v3.78h-3.78Z"/>
<path d="M173.75 315.72h3.78v3.78h-3.78Z"/>
<path d="M181.29 314.03h3.78v3.78h-3.78Z"/>
<path d="M187.45 312.78h3.78v3.78h-3.78Z"/>
<path d="M192.66 311.81h3.78v3.78h-3.78Z"/>
<path d="M197.17 311.11h3.78v3.78h-3.78Z"/>
</g>
<path d="M51 350.3 L74.42 340.69 L88.12 334.27 L97.84 329.54 L105.38 325.63 L111.54 322.41 L116.75 319.98 L121.26 318.26 L125.24 317.02 L128.8 316.05 L134.96 314.45 L142.5 312.2 L152.22 308.51 L154.82 307.46 L159.76 305.51 L165.92 303.29 L171.13 301.54 L175.64 300.08 L183.18 297.72 L189.34 295.89 L194.55 294.42 L199.06 293.3" fill="none" stroke="#8ab17d" stroke-width="1.3"/>
<g fill="#fff" stroke="#8ab17d" stroke-width="1.25">
<path d="M51 346.94L53.2 350.3L51 353.66L48.8 350.3Z"/>
<path d="M74.42 337.33L76.63 340.69L74.42 344.05L72.22 340.69Z"/>
<path d="M88.12 330.91L90.33 334.27L88.12 337.63L85.92 334.27Z"/>
<path d="M97.84 326.18L100.05 329.54L97.84 332.9L95.64 329.54Z"/>
<path d="M105.38 322.27L107.58 325.63L105.38 328.99L103.17 325.63Z"/>
<path d="M111.54 319.05L113.75 322.41L111.54 325.77L109.34 322.41Z"/>
<path d="M116.75 316.62L118.95 319.98L116.75 323.34L114.54 319.98Z"/>
<path d="M121.26 314.9L123.47 318.26L121.26 321.62L119.06 318.26Z"/>
<path d="M125.24 313.66L127.45 317.02L125.24 320.38L123.04 317.02Z"/>
<path d="M128.8 312.69L131.01 316.05L128.8 319.41L126.6 316.05Z"/>
<path d="M134.96 311.09L137.17 314.45L134.96 317.81L132.76 314.45Z"/>
<path d="M142.5 308.84L144.7 312.2L142.5 315.56L140.29 312.2Z"/>
<path d="M152.22 305.15L154.43 308.51L152.22 311.87L150.02 308.51Z"/>
<path d="M154.82 304.1L157.03 307.46L154.82 310.82L152.62 307.46Z"/>
<path d="M159.76 302.15L161.96 305.51L159.76 308.87L157.55 305.51Z"/>
<path d="M165.92 299.93L168.13 303.29L165.92 306.65L163.72 303.29Z"/>
<path d="M171.13 298.18L173.33 301.54L171.13 304.9L168.92 301.54Z"/>
<path d="M175.64 296.72L177.85 300.08L175.64 303.44L173.44 300.08Z"/>
<path d="M183.18 294.36L185.38 297.72L183.18 301.08L180.97 297.72Z"/>
<path d="M189.34 292.53L191.55 295.89L189.34 299.25L187.14 295.89Z"/>
<path d="M194.55 291.06L196.75 294.42L194.55 297.78L192.34 294.42Z"/>
<path d="M199.06 289.94L201.27 293.3L199.06 296.66L196.86 293.3Z"/>
</g>
<path d="M51 338.1 L74.42 326.19 L88.12 319.22 L97.84 314.33 L105.38 310.51 L111.54 307.38 L116.75 304.77 L121.26 302.59 L125.24 300.73 L128.8 299.14 L134.96 296.56 L142.5 293.58 L152.22 289.92 L154.82 288.95 L159.76 287.09 L165.92 284.76 L171.13 282.81 L175.64 281.13 L183.18 278.34 L189.34 276.08 L194.55 274.19 L199.06 272.7" fill="none" stroke="#e9c46a" stroke-width="1.3"/>
<g fill="#fff" stroke="#e9c46a" stroke-width="1.25">
<path d="M49.01 338.1a1.99 1.99 0 1 0 3.99 0a1.99 1.99 0 1 0 -3.99 0Z"/>
<path d="M72.43 326.19a1.99 1.99 0 1 0 3.99 0a1.99 1.99 0 1 0 -3.99 0Z"/>
<path d="M86.13 319.22a1.99 1.99 0 1 0 3.99 0a1.99 1.99 0 1 0 -3.99 0Z"/>
<path d="M95.85 314.33a1.99 1.99 0 1 0 3.99 0a1.99 1.99 0 1 0 -3.99 0Z"/>
<path d="M103.38 310.51a1.99 1.99 0 1 0 3.99 0a1.99 1.99 0 1 0 -3.99 0Z"/>
<path d="M109.55 307.38a1.99 1.99 0 1 0 3.99 0a1.99 1.99 0 1 0 -3.99 0Z"/>
<path d="M114.75 304.77a1.99 1.99 0 1 0 3.99 0a1.99 1.99 0 1 0 -3.99 0Z"/>
<path d="M119.27 302.59a1.99 1.99 0 1 0 3.99 0a1.99 1.99 0 1 0 -3.99 0Z"/>
<path d="M123.25 300.73a1.99 1.99 0 1 0 3.99 0a1.99 1.99 0 1 0 -3.99 0Z"/>
<path d="M126.81 299.14a1.99 1.99 0 1 0 3.99 0a1.99 1.99 0 1 0 -3.99 0Z"/>
<path d="M132.97 296.56a1.99 1.99 0 1 0 3.99 0a1.99 1.99 0 1 0 -3.99 0Z"/>
<path d="M140.5 293.58a1.99 1.99 0 1 0 3.99 0a1.99 1.99 0 1 0 -3.99 0Z"/>
<path d="M150.23 289.92a1.99 1.99 0 1 0 3.99 0a1.99 1.99 0 1 0 -3.99 0Z"/>
<path d="M152.83 288.95a1.99 1.99 0 1 0 3.99 0a1.99 1.99 0 1 0 -3.99 0Z"/>
<path d="M157.76 287.09a1.99 1.99 0 1 0 3.99 0a1.99 1.99 0 1 0 -3.99 0Z"/>
<path d="M163.93 284.76a1.99 1.99 0 1 0 3.99 0a1.99 1.99 0 1 0 -3.99 0Z"/>
<path d="M169.13 282.81a1.99 1.99 0 1 0 3.99 0a1.99 1.99 0 1 0 -3.99 0Z"/>
<path d="M173.65 281.13a1.99 1.99 0 1 0 3.99 0a1.99 1.99 0 1 0 -3.99 0Z"/>
<path d="M181.18 278.34a1.99 1.99 0 1 0 3.99 0a1.99 1.99 0 1 0 -3.99 0Z"/>
<path d="M187.35 276.08a1.99 1.99 0 1 0 3.99 0a1.99 1.99 0 1 0 -3.99 0Z"/>
<path d="M192.55 274.19a1.99 1.99 0 1 0 3.99 0a1.99 1.99 0 1 0 -3.99 0Z"/>
<path d="M197.07 272.7a1.99 1.99 0 1 0 3.99 0a1.99 1.99 0 1 0 -3.99 0Z"/>
</g>
<path d="M51 331.4 L74.42 318.99 L88.12 311.22 L97.84 305.57 L105.38 300.95 L111.54 297.15 L116.75 294.17 L121.26 291.9 L125.24 290.1 L128.8 288.6 L134.96 286.16 L142.5 283.21 L152.22 279.53 L154.82 278.57 L159.76 276.72 L165.92 274.34 L171.13 272.25 L175.64 270.4 L183.18 267.26 L189.34 264.66 L194.55 262.41 L199.06 260.6" fill="none" stroke="#f4a261" stroke-width="1.3"/>
<g fill="#fff" stroke="#f4a261" stroke-width="1.25">
<path d="M51 334.65L53.83 329.77L48.17 329.77Z"/>
<path d="M74.42 322.24L77.25 317.36L71.59 317.36Z"/>
<path d="M88.12 314.47L90.95 309.59L85.29 309.59Z"/>
<path d="M97.84 308.82L100.67 303.94L95.01 303.94Z"/>
<path d="M105.38 304.2L108.21 299.32L102.55 299.32Z"/>
<path d="M111.54 300.41L114.37 295.53L108.71 295.53Z"/>
<path d="M116.75 297.43L119.58 292.54L113.92 292.54Z"/>
<path d="M121.26 295.15L124.09 290.27L118.43 290.27Z"/>
<path d="M125.24 293.36L128.07 288.47L122.41 288.47Z"/>
<path d="M128.8 291.86L131.63 286.98L125.97 286.98Z"/>
<path d="M134.96 289.41L137.79 284.53L132.13 284.53Z"/>
<path d="M142.5 286.46L145.33 281.58L139.67 281.58Z"/>
<path d="M152.22 282.79L155.05 277.91L149.39 277.91Z"/>
<path d="M154.82 281.82L157.65 276.94L151.99 276.94Z"/>
<path d="M159.76 279.98L162.59 275.09L156.93 275.09Z"/>
<path d="M165.92 277.59L168.75 272.71L163.09 272.71Z"/>
<path d="M171.13 275.5L173.96 270.62L168.3 270.62Z"/>
<path d="M175.64 273.66L178.47 268.77L172.81 268.77Z"/>
<path d="M183.18 270.52L186.01 265.64L180.35 265.64Z"/>
<path d="M189.34 267.91L192.17 263.03L186.51 263.03Z"/>
<path d="M194.55 265.67L197.38 260.79L191.72 260.79Z"/>
<path d="M199.06 263.86L201.89 258.97L196.23 258.97Z"/>
</g>
<path d="M51 323.4 L74.42 307.09 L88.12 299.48 L97.84 294.41 L105.38 290.52 L111.54 287.39 L116.75 284.71 L121.26 282.32 L125.24 280.11 L128.8 278.07 L134.96 274.6 L142.5 270.8 L152.22 266.65 L154.82 265.61 L159.76 263.65 L165.92 261.11 L171.13 258.95 L175.64 257.07 L183.18 253.82 L189.34 250.97 L194.55 248.41 L199.06 246.3" fill="none" stroke="#e76f51" stroke-width="1.3"/>
<g fill="#fff" stroke="#e76f51" stroke-width="1.25">
<path d="M54.26 323.4L49.37 320.57L49.37 326.23Z"/>
<path d="M77.68 307.09L72.79 304.26L72.79 309.92Z"/>
<path d="M91.38 299.48L86.49 296.64L86.49 302.31Z"/>
<path d="M101.1 294.41L96.21 291.58L96.21 297.24Z"/>
<path d="M108.63 290.52L103.75 287.69L103.75 293.35Z"/>
<path d="M114.8 287.39L109.91 284.56L109.91 290.22Z"/>
<path d="M120 284.71L115.12 281.88L115.12 287.54Z"/>
<path d="M124.52 282.32L119.63 279.49L119.63 285.15Z"/>
<path d="M128.5 280.11L123.61 277.28L123.61 282.94Z"/>
<path d="M132.06 278.07L127.17 275.24L127.17 280.91Z"/>
<path d="M138.22 274.6L133.33 271.77L133.33 277.44Z"/>
<path d="M145.75 270.8L140.87 267.97L140.87 273.63Z"/>
<path d="M155.48 266.65L150.59 263.82L150.59 269.48Z"/>
<path d="M158.08 265.61L153.19 262.78L153.19 268.44Z"/>
<path d="M163.01 263.65L158.13 260.81L158.13 266.48Z"/>
<path d="M169.18 261.11L164.29 258.28L164.29 263.95Z"/>
<path d="M174.38 258.95L169.5 256.12L169.5 261.78Z"/>
<path d="M178.9 257.07L174.01 254.24L174.01 259.9Z"/>
<path d="M186.43 253.82L181.55 250.99L181.55 256.65Z"/>
<path d="M192.6 250.97L187.71 248.14L187.71 253.8Z"/>
<path d="M197.8 248.41L192.92 245.58L192.92 251.24Z"/>
<path d="M202.32 246.3L197.43 243.47L197.43 249.13Z"/>
</g>
<text x="51.8" y="233.8" font-size="17.5" text-anchor="start" fill="#262626" style="font-family:'Liberation Serif',serif" textLength="19.9" lengthAdjust="spacing" >(<tspan font-style="italic">d</tspan>)</text>
<text x="50.6" y="270.6" font-size="15.5" text-anchor="start" fill="#262626" style="font-family:'Liberation Serif',serif" >De</text>
<path d="M73.9 265.1h10.2M73.9 268.15h10.2" stroke="#1a1a1a" stroke-width="0.85"/>
<text x="89.2" y="270.6" font-size="15.5" text-anchor="start" fill="#262626" style="font-family:'Liberation Serif',serif" >9</text>
<text x="155" y="226.8" font-size="12.5" text-anchor="middle" fill="#262626" style="font-family:'Liberation Serif',serif" >p</text>
<path d="M94 238.6 L104.6 238.6" fill="none" stroke="#264653" stroke-width="1.0"/>
<path d="M99.3 235.97L101.59 239.92L97.01 239.92Z" fill="#fff" stroke="none"/>
<path d="M99.3 235.97L101.59 239.92L97.01 239.92Z" fill="none" stroke="#264653" stroke-width="1.2"/>
<text x="105.8" y="242.6" font-size="12.5" text-anchor="start" fill="#262626" style="font-family:'Liberation Serif',serif" >1</text>
<path d="M115.1 238.6 L125.7 238.6" fill="none" stroke="#2a9d8f" stroke-width="1.0"/>
<path d="M118.87 237.07h3.06v3.06h-3.06Z" fill="#fff" stroke="none"/>
<path d="M118.87 237.07h3.06v3.06h-3.06Z" fill="none" stroke="#2a9d8f" stroke-width="1.2"/>
<text x="126.9" y="242.6" font-size="12.5" text-anchor="start" fill="#262626" style="font-family:'Liberation Serif',serif" >2</text>
<path d="M136.2 238.6 L146.8 238.6" fill="none" stroke="#8ab17d" stroke-width="1.0"/>
<path d="M141.5 235.88L143.28 238.6L141.5 241.32L139.72 238.6Z" fill="#fff" stroke="none"/>
<path d="M141.5 235.88L143.28 238.6L141.5 241.32L139.72 238.6Z" fill="none" stroke="#8ab17d" stroke-width="1.2"/>
<text x="148" y="242.6" font-size="12.5" text-anchor="start" fill="#262626" style="font-family:'Liberation Serif',serif" >3</text>
<path d="M157.3 238.6 L167.9 238.6" fill="none" stroke="#e9c46a" stroke-width="1.0"/>
<path d="M160.99 238.6a1.61 1.61 0 1 0 3.23 0a1.61 1.61 0 1 0 -3.23 0Z" fill="#fff" stroke="none"/>
<path d="M160.99 238.6a1.61 1.61 0 1 0 3.23 0a1.61 1.61 0 1 0 -3.23 0Z" fill="none" stroke="#e9c46a" stroke-width="1.2"/>
<text x="169.1" y="242.6" font-size="12.5" text-anchor="start" fill="#262626" style="font-family:'Liberation Serif',serif" >4</text>
<path d="M178.4 238.6 L189 238.6" fill="none" stroke="#f4a261" stroke-width="1.0"/>
<path d="M183.7 241.23L185.99 237.28L181.41 237.28Z" fill="#fff" stroke="none"/>
<path d="M183.7 241.23L185.99 237.28L181.41 237.28Z" fill="none" stroke="#f4a261" stroke-width="1.2"/>
<text x="190.2" y="242.6" font-size="12.5" text-anchor="start" fill="#262626" style="font-family:'Liberation Serif',serif" >5</text>
<path d="M199.5 238.6 L210.1 238.6" fill="none" stroke="#e76f51" stroke-width="1.0"/>
<path d="M207.44 238.6L203.48 236.31L203.48 240.89Z" fill="#fff" stroke="none"/>
<path d="M207.44 238.6L203.48 236.31L203.48 240.89Z" fill="none" stroke="#e76f51" stroke-width="1.2"/>
<text x="211.3" y="242.6" font-size="12.5" text-anchor="start" fill="#262626" style="font-family:'Liberation Serif',serif" >6</text>
<rect x="44.3" y="217.5" width="176.2" height="148.5" fill="none" stroke="#4a4a4a" stroke-width="1.0"/>
<path d="M51 366v-2.3M51 217.5v2.3M128.8 366v-2.3M128.8 217.5v2.3M206.6 366v-2.3M206.6 217.5v2.3" stroke="#4a4a4a" stroke-width="1.0" fill="none"/>
<path d="M47.44 366v-1.3M47.44 217.5v1.3M74.42 366v-1.3M74.42 217.5v1.3M88.12 366v-1.3M88.12 217.5v1.3M97.84 366v-1.3M97.84 217.5v1.3M105.38 366v-1.3M105.38 217.5v1.3M111.54 366v-1.3M111.54 217.5v1.3M116.75 366v-1.3M116.75 217.5v1.3M121.26 366v-1.3M121.26 217.5v1.3M125.24 366v-1.3M125.24 217.5v1.3M152.22 366v-1.3M152.22 217.5v1.3M165.92 366v-1.3M165.92 217.5v1.3M175.64 366v-1.3M175.64 217.5v1.3M183.18 366v-1.3M183.18 217.5v1.3M189.34 366v-1.3M189.34 217.5v1.3M194.55 366v-1.3M194.55 217.5v1.3M199.06 366v-1.3M199.06 217.5v1.3M203.04 366v-1.3M203.04 217.5v1.3" stroke="#4a4a4a" stroke-width="1.0" fill="none"/>
<path d="M44.3 339h2.3M220.5 339h-2.3M44.3 298.2h2.3M220.5 298.2h-2.3M44.3 257.4h2.3M220.5 257.4h-2.3M44.3 216.6h2.3M220.5 216.6h-2.3" stroke="#4a4a4a" stroke-width="1.0" fill="none"/>
<path d="M44.3 363.48h1.2M220.5 363.48h-1.2M44.3 355.32h1.2M220.5 355.32h-1.2M44.3 347.16h1.2M220.5 347.16h-1.2M44.3 330.84h1.2M220.5 330.84h-1.2M44.3 322.68h1.2M220.5 322.68h-1.2M44.3 314.52h1.2M220.5 314.52h-1.2M44.3 306.36h1.2M220.5 306.36h-1.2M44.3 290.04h1.2M220.5 290.04h-1.2M44.3 281.88h1.2M220.5 281.88h-1.2M44.3 273.72h1.2M220.5 273.72h-1.2M44.3 265.56h1.2M220.5 265.56h-1.2M44.3 249.24h1.2M220.5 249.24h-1.2M44.3 241.08h1.2M220.5 241.08h-1.2M44.3 232.92h1.2M220.5 232.92h-1.2M44.3 224.76h1.2M220.5 224.76h-1.2" stroke="#4a4a4a" stroke-width="1.0" fill="none"/>
<text x="41.61" y="378.4" font-size="10.6" fill="#262626" style="font-family:'Liberation Serif',serif">10<tspan font-size="7.4" dx="0.5" dy="-3.7">&#8722;3</tspan></text>
<text x="119.41" y="378.4" font-size="10.6" fill="#262626" style="font-family:'Liberation Serif',serif">10<tspan font-size="7.4" dx="0.5" dy="-3.7">&#8722;2</tspan></text>
<text x="197.21" y="378.4" font-size="10.6" fill="#262626" style="font-family:'Liberation Serif',serif">10<tspan font-size="7.4" dx="0.5" dy="-3.7">&#8722;1</tspan></text>
<text x="22.4" y="219.6" font-size="10.6" fill="#262626" style="font-family:'Liberation Serif',serif">10<tspan font-size="7.4" dx="0.5" dy="-3.7">10</tspan></text>
<text x="26.1" y="260.4" font-size="10.6" fill="#262626" style="font-family:'Liberation Serif',serif">10<tspan font-size="7.4" dx="0.5" dy="-3.7">5</tspan></text>
<text x="26.1" y="301.2" font-size="10.6" fill="#262626" style="font-family:'Liberation Serif',serif">10<tspan font-size="7.4" dx="0.5" dy="-3.7">0</tspan></text>
<text x="21.51" y="342" font-size="10.6" fill="#262626" style="font-family:'Liberation Serif',serif">10<tspan font-size="7.4" dx="0.5" dy="-3.7">&#8722;5</tspan></text>
<text x="120.2" y="393.6" font-size="13.5" text-anchor="start" fill="#262626" style="font-style:italic;font-family:'Liberation Serif',serif" >r</text>
<path d="M128.3 397L133.2 383.8" stroke="#262626" stroke-width="0.85"/>
<text x="134.3" y="393.6" font-size="13.5" text-anchor="start" fill="#262626" style="font-style:italic;font-family:'Liberation Serif',serif" >L</text>
<text x="14.2" y="291.8" font-size="14.5" text-anchor="middle" fill="#262626" style="font-family:'Liberation Serif',serif" textLength="29.6" lengthAdjust="spacing" transform="rotate(-90 14.2 291.8)">&#931;<tspan font-size="9.5" dy="2.5">p</tspan><tspan dy="-2.5">(</tspan><tspan font-style="italic">r</tspan>)</text>
<path d="M322.72 301.81 L347.58 279.23 L372.44 263.82 L397.3 247.98 L422.16 231.94 L422.16 266.14 L397.3 272.26 L372.44 278.59 L347.58 286.4 L322.72 301.81Z" fill="#dcdcdc" stroke="none"/>
<path d="M273 366.2 L389.01 218.43" fill="none" stroke="#111" stroke-width="0.9" stroke-dasharray="9,1,1.5,1"/>
<path d="M273 366.2 L447.02 316.94" fill="none" stroke="#000" stroke-width="0.9" stroke-dasharray="2.5,2"/>
<path d="M273 366.2 L285.43 347.2 L297.86 329.47 L322.72 301.81 L347.58 281.76 L372.44 268.67 L397.3 256.43 L422.16 245.45" fill="none" stroke="#0c6477" stroke-width="1.35"/>
<g fill="#fff" stroke="#0c6477" stroke-width="1.2">
<path d="M273 363.1L275.7 367.75L270.3 367.75Z"/>
<path d="M285.43 344.1L288.13 348.75L282.73 348.75Z"/>
<path d="M297.86 326.37L300.56 331.02L295.16 331.02Z"/>
<path d="M322.72 298.71L325.42 303.36L320.02 303.36Z"/>
<path d="M347.58 278.66L350.28 283.31L344.88 283.31Z"/>
<path d="M372.44 265.57L375.14 270.22L369.74 270.22Z"/>
<path d="M397.3 253.33L400 257.98L394.6 257.98Z"/>
<path d="M422.16 242.35L424.86 247L419.46 247Z"/>
</g>
<path d="M273 366.2 L285.43 347.41 L297.86 329.89 L322.72 302.24 L347.58 281.97 L372.44 270.15 L397.3 259.17 L422.16 248.83" fill="none" stroke="#7d8b3c" stroke-width="1.35"/>
<g fill="#fff" stroke="#7d8b3c" stroke-width="1.2">
<path d="M271.2 364.4h3.6v3.6h-3.6Z"/>
<path d="M283.63 345.61h3.6v3.6h-3.6Z"/>
<path d="M296.06 328.09h3.6v3.6h-3.6Z"/>
<path d="M320.92 300.44h3.6v3.6h-3.6Z"/>
<path d="M345.78 280.17h3.6v3.6h-3.6Z"/>
<path d="M370.64 268.35h3.6v3.6h-3.6Z"/>
<path d="M395.5 257.37h3.6v3.6h-3.6Z"/>
<path d="M420.36 247.03h3.6v3.6h-3.6Z"/>
</g>
<path d="M273 366.2 L285.43 347.62 L297.86 330.1 L322.72 302.45 L347.58 282.18 L372.44 270.15 L397.3 259.81 L422.16 250.31" fill="none" stroke="#f0a000" stroke-width="1.35"/>
<g fill="#fff" stroke="#f0a000" stroke-width="1.2">
<path d="M273 363L275.1 366.2L273 369.4L270.9 366.2Z"/>
<path d="M285.43 344.42L287.53 347.62L285.43 350.82L283.33 347.62Z"/>
<path d="M297.86 326.9L299.96 330.1L297.86 333.3L295.76 330.1Z"/>
<path d="M322.72 299.25L324.82 302.45L322.72 305.65L320.62 302.45Z"/>
<path d="M347.58 278.98L349.68 282.18L347.58 285.38L345.48 282.18Z"/>
<path d="M372.44 266.95L374.54 270.15L372.44 273.35L370.34 270.15Z"/>
<path d="M397.3 256.61L399.4 259.81L397.3 263.01L395.2 259.81Z"/>
<path d="M422.16 247.11L424.26 250.31L422.16 253.51L420.06 250.31Z"/>
</g>
<path d="M320.32 302.87h4.8M322.72 300.47v4.8M370.04 273.53h4.8M372.44 271.13v4.8" fill="none" stroke="#ee1111" stroke-width="1.4"/>
<text x="281.7" y="235.3" font-size="17.5" text-anchor="start" fill="#262626" style="font-family:'Liberation Serif',serif" textLength="17.7" lengthAdjust="spacing" >(<tspan font-style="italic">e</tspan>)</text>
<text x="337.1" y="241.6" font-size="12.5" text-anchor="start" fill="#262626" style="font-family:'Liberation Serif',serif" textLength="24.2" lengthAdjust="spacingAndGlyphs">3p/2</text>
<text x="350.5" y="356.8" font-size="12.5" text-anchor="start" fill="#262626" style="font-family:'Liberation Serif',serif" textLength="19.3" lengthAdjust="spacingAndGlyphs">p/3</text>
<text x="387" y="298.5" font-size="12.5" text-anchor="middle" fill="#262626" style="font-family:'Liberation Serif',serif" >De</text>
<path d="M347 310.6 L357.2 310.6" fill="none" stroke="#0c6477" stroke-width="1.4"/>
<path d="M352.1 307.97L354.39 311.92L349.81 311.92Z" fill="#fff" stroke="none"/>
<path d="M352.1 307.97L354.39 311.92L349.81 311.92Z" fill="none" stroke="#0c6477" stroke-width="1.3"/>
<text x="357.8" y="314.6" font-size="12.5" text-anchor="start" fill="#262626" style="font-family:'Liberation Serif',serif" >1</text>
<path d="M365.5 310.6 L375.7 310.6" fill="none" stroke="#7d8b3c" stroke-width="1.4"/>
<path d="M369.07 309.07h3.06v3.06h-3.06Z" fill="#fff" stroke="none"/>
<path d="M369.07 309.07h3.06v3.06h-3.06Z" fill="none" stroke="#7d8b3c" stroke-width="1.3"/>
<text x="376.3" y="314.6" font-size="12.5" text-anchor="start" fill="#262626" style="font-family:'Liberation Serif',serif" >3</text>
<path d="M389.3 310.6 L399.5 310.6" fill="none" stroke="#f0a000" stroke-width="1.4"/>
<path d="M394.4 307.88L396.19 310.6L394.4 313.32L392.62 310.6Z" fill="#fff" stroke="none"/>
<path d="M394.4 307.88L396.19 310.6L394.4 313.32L392.62 310.6Z" fill="none" stroke="#f0a000" stroke-width="1.3"/>
<text x="400.1" y="314.6" font-size="12.5" text-anchor="start" fill="#262626" style="font-family:'Liberation Serif',serif" >9</text>
<path d="M412.64 310.6h4.32M414.8 308.44v4.32" fill="none" stroke="#ee1111" stroke-width="1.2"/>
<text x="421.7" y="314.6" font-size="12.5" text-anchor="start" fill="#262626" style="font-family:'Liberation Serif',serif" >9</text>
<rect x="273" y="218.5" width="174" height="148" fill="none" stroke="#4a4a4a" stroke-width="1.0"/>
<path d="M273 366.5v-2.3M273 218.5v2.3M322.72 366.5v-2.3M322.72 218.5v2.3M372.44 366.5v-2.3M372.44 218.5v2.3M422.16 366.5v-2.3M422.16 218.5v2.3" stroke="#4a4a4a" stroke-width="1.0" fill="none"/>
<path d="M273 366.2h2.3M447 366.2h-2.3M273 345.09h2.3M447 345.09h-2.3M273 323.98h2.3M447 323.98h-2.3M273 302.87h2.3M447 302.87h-2.3M273 281.76h2.3M447 281.76h-2.3M273 260.65h2.3M447 260.65h-2.3M273 239.54h2.3M447 239.54h-2.3M273 218.43h2.3M447 218.43h-2.3" stroke="#4a4a4a" stroke-width="1.0" fill="none"/>
<text x="272.8" y="379.5" font-size="10.8" text-anchor="middle" fill="#262626" style="font-family:'Liberation Serif',serif" >0</text>
<text x="322.52" y="379.5" font-size="10.8" text-anchor="middle" fill="#262626" style="font-family:'Liberation Serif',serif" >2</text>
<text x="372.24" y="379.5" font-size="10.8" text-anchor="middle" fill="#262626" style="font-family:'Liberation Serif',serif" >4</text>
<text x="421.96" y="379.5" font-size="10.8" text-anchor="middle" fill="#262626" style="font-family:'Liberation Serif',serif" >6</text>
<text x="269.8" y="368.9" font-size="10.8" text-anchor="end" fill="#262626" style="font-family:'Liberation Serif',serif" >0</text>
<text x="269.8" y="347.79" font-size="10.8" text-anchor="end" fill="#262626" style="font-family:'Liberation Serif',serif" >1</text>
<text x="269.8" y="326.68" font-size="10.8" text-anchor="end" fill="#262626" style="font-family:'Liberation Serif',serif" >2</text>
<text x="269.8" y="305.57" font-size="10.8" text-anchor="end" fill="#262626" style="font-family:'Liberation Serif',serif" >3</text>
<text x="269.8" y="284.46" font-size="10.8" text-anchor="end" fill="#262626" style="font-family:'Liberation Serif',serif" >4</text>
<text x="269.8" y="263.35" font-size="10.8" text-anchor="end" fill="#262626" style="font-family:'Liberation Serif',serif" >5</text>
<text x="269.8" y="242.24" font-size="10.8" text-anchor="end" fill="#262626" style="font-family:'Liberation Serif',serif" >6</text>
<text x="269.8" y="221.13" font-size="10.8" text-anchor="end" fill="#262626" style="font-family:'Liberation Serif',serif" >7</text>
<text x="359.51" y="393.5" font-size="13.5" text-anchor="middle" fill="#262626" style="font-family:'Liberation Serif',serif" >p</text>
<text x="258" y="292.6" font-size="13" text-anchor="middle" fill="#262626" style="font-family:'Liberation Serif',serif" transform="rotate(-90 258 292.6)">&#950;<tspan font-size="9" dy="2.5">p</tspan></text>
<clipPath id="cf"><rect x="504.0" y="217.0" width="175.79999999999995" height="148.5"/></clipPath>
<g clip-path="url(#cf)">
<path d="M511.02 370.24 L511.29 370.07 L511.56 369.91 L511.83 369.74 L512.1 369.58 L512.37 369.41 L512.64 369.25 L512.92 369.08 L513.19 368.91 L513.46 368.75 L513.73 368.58 L514 368.42 L514.27 368.25 L514.54 368.09 L514.81 367.92 L515.08 367.75 L515.35 367.59 L515.62 367.42 L515.89 367.26 L516.16 367.09 L516.43 366.93 L516.7 366.76 L516.97 366.59 L517.24 366.43 L517.51 366.26 L517.78 366.1 L518.05 365.93 L518.32 365.77 L518.59 365.6 L518.86 365.44 L519.13 365.29 L519.4 365.14 L519.67 364.99 L519.94 364.84 L520.21 364.69 L520.48 364.54 L520.75 364.39 L521.02 364.24 L521.29 364.09 L521.56 363.94 L521.83 363.79 L522.1 363.65 L522.37 363.5 L522.64 363.35 L522.91 363.2 L523.18 363.05 L523.45 362.9 L523.72 362.75 L523.99 362.6 L524.26 362.45 L524.53 362.3 L524.8 362.15 L525.07 362 L525.34 361.85 L525.61 361.7 L525.88 361.55 L526.15 361.4 L526.42 361.25 L526.69 361.1 L526.96 360.95 L527.23 360.8 L527.5 360.65 L527.77 360.5 L528.04 360.35 L528.31 360.2 L528.58 360.06 L528.85 359.91 L529.12 359.76 L529.39 359.61 L529.66 359.46 L529.93 359.31 L530.2 359.16 L530.48 359.01 L530.75 358.86 L531.02 358.71 L531.29 358.56 L531.56 358.41 L531.83 358.26 L532.1 358.11 L532.37 357.96 L532.64 357.76 L532.91 357.54 L533.18 357.32 L533.45 357.1 L533.72 356.88 L533.99 356.66 L534.26 356.44 L534.53 356.22 L534.8 356 L535.07 355.78 L535.34 355.56 L535.61 355.34 L535.88 355.12 L536.15 354.9 L536.42 354.68 L536.69 354.46 L536.96 354.24 L537.23 354.02 L537.5 353.8 L537.77 353.58 L538.04 353.36 L538.31 353.14 L538.58 352.92 L538.85 352.7 L539.12 352.48 L539.39 352.26 L539.66 352.04 L539.93 351.82 L540.2 351.6 L540.47 351.38 L540.74 351.16 L541.01 350.94 L541.28 350.72 L541.55 350.5 L541.82 350.28 L542.09 350.06 L542.36 349.84 L542.63 349.62 L542.9 349.4 L543.17 349.18 L543.44 348.96 L543.71 348.74 L543.98 348.52 L544.25 348.3 L544.52 348.08 L544.79 347.86 L545.06 347.64 L545.33 347.42 L545.6 347.2 L545.87 346.98 L546.14 346.76 L546.41 346.54 L546.68 346.32 L546.95 346.1 L547.22 345.88 L547.49 345.66 L547.76 345.44 L548.04 345.22 L548.31 345 L548.58 344.78 L548.85 344.56 L549.12 344.34 L549.39 344.12 L549.66 343.9 L549.93 343.68 L550.2 343.46 L550.47 343.24 L550.74 343.02 L551.01 342.8 L551.28 342.58 L551.55 342.36 L551.82 342.14 L552.09 341.92 L552.36 341.7 L552.63 341.48 L552.9 341.2 L553.17 340.78 L553.44 340.36 L553.71 339.94 L553.98 339.52 L554.25 339.1 L554.52 338.68 L554.79 338.25 L555.06 337.83 L555.33 337.41 L555.6 336.99 L555.87 336.57 L556.14 336.15 L556.41 335.73 L556.68 335.31 L556.95 334.89 L557.22 334.47 L557.49 334.05 L557.76 333.63 L558.03 333.21 L558.3 332.79 L558.57 332.36 L558.84 331.94 L559.11 331.52 L559.38 331.1 L559.65 330.68 L559.92 330.26 L560.19 329.84 L560.46 329.42 L560.73 329 L561 328.58 L561.27 328.16 L561.54 327.74 L561.81 327.32 L562.08 326.9 L562.35 326.47 L562.62 326.05 L562.89 325.63 L563.16 325.21 L563.43 324.79 L563.7 324.37 L563.97 323.95 L564.24 323.53 L564.51 323.11 L564.78 322.69 L565.05 322.27 L565.32 321.85 L565.6 321.43 L565.87 321.01 L566.14 320.58 L566.41 320.16 L566.68 319.74 L566.95 319.32 L567.22 318.9 L567.49 318.48 L567.76 318.06 L568.03 317.64 L568.3 317.22 L568.57 316.8 L568.84 316.38 L569.11 315.96 L569.38 315.54 L569.65 315.12 L569.92 314.7 L570.19 314.27 L570.46 313.85 L570.73 313.43 L571 313.01 L571.27 312.59 L571.54 312.17 L571.81 311.75 L572.08 311.33 L572.35 310.91 L572.62 310.49 L572.89 310.07 L573.16 309.65 L573.43 309.16 L573.7 308.47 L573.97 307.78 L574.24 307.1 L574.51 306.41 L574.78 305.72 L575.05 305.04 L575.32 304.35 L575.59 303.66 L575.86 302.97 L576.13 302.29 L576.4 301.6 L576.67 300.91 L576.94 300.22 L577.21 299.54 L577.48 298.85 L577.75 298.16 L578.02 297.47 L578.29 296.79 L578.56 296.1 L578.83 295.41 L579.1 294.73 L579.37 294.04 L579.64 293.35 L579.91 292.66 L580.18 291.98 L580.45 291.29 L580.72 290.6 L580.99 289.91 L581.26 288.48 L581.53 287.02 L581.8 285.56 L582.07 284.1 L582.34 282.64 L582.61 281.18 L582.88 279.72 L583.16 278.27 L583.43 276.81 L583.7 275.35 L583.97 273.89 L584.24 272.43 L584.51 270.97 L584.78 269.51 L585.05 268.06 L585.32 266.6 L585.59 265.14 L585.86 264.23 L586.13 263.5 L586.4 262.77 L586.67 262.04 L586.94 261.31 L587.21 260.58 L587.48 259.85 L587.75 259.12 L588.02 258.39 L588.29 257.67 L588.56 256.94 L588.83 256.21 L589.1 255.48 L589.37 254.75 L589.64 254.02 L589.91 253.29 L590.18 252.65 L590.45 252.1 L590.72 251.56 L590.99 251.01 L591.26 250.46 L591.53 249.92 L591.8 249.37 L592.07 249.92 L592.34 250.46 L592.61 251.01 L592.88 251.56 L593.15 252.1 L593.42 252.65 L593.69 253.2 L593.96 253.76 L594.23 254.31 L594.5 254.86 L594.77 255.42 L595.04 255.97 L595.31 256.53 L595.58 257.08 L595.85 257.64 L596.12 258.19 L596.39 258.74 L596.66 259.3 L596.93 259.85 L597.2 260.41 L597.47 260.96 L597.74 261.52 L598.01 262.18 L598.28 263.18 L598.55 264.18 L598.82 265.18 L599.09 266.18 L599.36 267.18 L599.63 268.18 L599.9 269.19 L600.17 270.19 L600.44 271.19 L600.72 272.19 L600.99 273.19 L601.26 274.19 L601.53 275.19 L601.8 276.19 L602.07 277.19 L602.34 278.19 L602.61 279.19 L602.88 280.19 L603.15 281.19 L603.42 282.19 L603.69 283.19 L603.96 284.19 L604.23 285.19 L604.5 286.19 L604.77 287.2 L605.04 288.2 L605.31 289.2 L605.58 290.17 L605.85 291.06 L606.12 291.96 L606.39 292.86 L606.66 293.75 L606.93 294.65 L607.2 295.55 L607.47 296.44 L607.74 297.34 L608.01 298.24 L608.28 299.14 L608.55 300.03 L608.82 300.93 L609.09 301.83 L609.36 302.72 L609.63 303.62 L609.9 304.52 L610.17 305.41 L610.44 306.31 L610.71 307.21 L610.98 308.11 L611.25 309 L611.52 309.9 L611.79 310.8 L612.06 311.69 L612.33 312.59 L612.6 313.49 L612.87 314.38 L613.14 315.28 L613.41 316.18 L613.68 317.07 L613.95 317.97 L614.22 318.87 L614.49 319.33 L614.76 319.69 L615.03 320.04 L615.3 320.4 L615.57 320.75 L615.84 321.11 L616.11 321.46 L616.38 321.82 L616.65 322.17 L616.92 322.53 L617.19 322.88 L617.46 323.24 L617.73 323.6 L618 323.95 L618.28 324.31 L618.55 324.66 L618.82 325.02 L619.09 325.37 L619.36 325.73 L619.63 326.08 L619.9 326.44 L620.17 326.79 L620.44 327.15 L620.71 327.5 L620.98 327.86 L621.25 328.21 L621.52 328.57 L621.79 328.92 L622.06 329.28 L622.33 329.63 L622.6 329.99 L622.87 330.35 L623.14 330.7 L623.41 331.06 L623.68 331.41 L623.95 331.77 L624.22 332.12 L624.49 332.48 L624.76 332.83 L625.03 333.19 L625.3 333.54 L625.57 333.9 L625.84 334.25 L626.11 334.61 L626.38 334.96 L626.65 335.32 L626.92 335.67 L627.19 336.03 L627.46 336.38 L627.73 336.74 L628 337.1 L628.27 337.45 L628.54 337.81 L628.81 338.16 L629.08 338.52 L629.35 338.87 L629.62 339.23 L629.89 339.58 L630.16 339.94 L630.43 340.29 L630.7 340.65 L630.97 341 L631.24 341.36 L631.51 341.71 L631.78 342.07 L632.05 342.42 L632.32 342.78 L632.59 343.14 L632.86 343.49 L633.13 343.85 L633.4 344.2 L633.67 344.56 L633.94 344.91 L634.21 345.27 L634.48 345.62 L634.75 345.98 L635.02 346.2 L635.29 346.38 L635.56 346.56 L635.84 346.74 L636.11 346.92 L636.38 347.1 L636.65 347.28 L636.92 347.45 L637.19 347.63 L637.46 347.81 L637.73 347.99 L638 348.17 L638.27 348.35 L638.54 348.53 L638.81 348.71 L639.08 348.89 L639.35 349.07 L639.62 349.25 L639.89 349.43 L640.16 349.6 L640.43 349.78 L640.7 349.96 L640.97 350.14 L641.24 350.32 L641.51 350.5 L641.78 350.68 L642.05 350.86 L642.32 351.04 L642.59 351.22 L642.86 351.4 L643.13 351.58 L643.4 351.75 L643.67 351.93 L643.94 352.11 L644.21 352.29 L644.48 352.47 L644.75 352.65 L645.02 352.83 L645.29 353.01 L645.56 353.19 L645.83 353.37 L646.1 353.55 L646.37 353.73 L646.64 353.9 L646.91 354.08 L647.18 354.26 L647.45 354.44 L647.72 354.62 L647.99 354.8 L648.26 354.98 L648.53 355.16 L648.8 355.34 L649.07 355.52 L649.34 355.7 L649.61 355.88 L649.88 356.05 L650.15 356.23 L650.42 356.41 L650.69 356.59 L650.96 356.77 L651.23 356.95 L651.5 357.13 L651.77 357.31 L652.04 357.49 L652.31 357.67 L652.58 357.85 L652.85 358.03 L653.12 358.2 L653.4 358.38 L653.67 358.56 L653.94 358.74 L654.21 358.92 L654.48 359.1 L654.75 359.28 L655.02 359.46 L655.29 359.64 L655.56 359.81 L655.83 359.99 L656.1 360.16 L656.37 360.34 L656.64 360.51 L656.91 360.69 L657.18 360.86 L657.45 361.04 L657.72 361.21 L657.99 361.39 L658.26 361.56 L658.53 361.74 L658.8 361.92 L659.07 362.09 L659.34 362.27 L659.61 362.44 L659.88 362.62 L660.15 362.79 L660.42 362.97 L660.69 363.14 L660.96 363.32 L661.23 363.49 L661.5 363.67 L661.77 363.84 L662.04 364.02 L662.31 364.19 L662.58 364.37 L662.85 364.54 L663.12 364.72 L663.39 364.9 L663.66 365.07 L663.93 365.25 L664.2 365.42 L664.47 365.59 L664.74 365.74 L665.01 365.9 L665.28 366.05 L665.55 366.21 L665.82 366.36 L666.09 366.52 L666.36 366.67 L666.63 366.83 L666.9 366.98 L667.17 367.14 L667.44 367.29 L667.71 367.45 L667.98 367.6 L668.25 367.76 L668.52 367.91 L668.79 368.07 L669.06 368.22 L669.33 368.38 L669.6 368.53 L669.87 368.69 L670.14 368.84 L670.41 369 L670.68 369.15 L670.96 369.31 L671.23 369.46 L671.5 369.62 L671.77 369.77 L672.04 369.93 L672.31 370.08 L672.58 370.24" fill="none" stroke="#264653" stroke-width="1.25"/>
<path d="M532.45 354.82L535.14 359.47L529.75 359.47ZM552.82 338.23L555.51 342.88L550.12 342.88ZM573.36 306.23L576.06 310.88L570.66 310.88ZM614.28 315.95L616.97 320.6L611.58 320.6ZM634.82 342.97L637.52 347.62L632.12 347.62ZM655.19 356.48L657.89 361.13L652.49 361.13Z" fill="#fff" stroke="none"/>
<path d="M532.45 354.82L535.14 359.47L529.75 359.47ZM552.82 338.23L555.51 342.88L550.12 342.88ZM573.36 306.23L576.06 310.88L570.66 310.88ZM614.28 315.95L616.97 320.6L611.58 320.6ZM634.82 342.97L637.52 347.62L632.12 347.62ZM655.19 356.48L657.89 361.13L652.49 361.13Z" fill="none" stroke="#264653" stroke-width="1.1"/>
<path d="M655.19 356.48L657.89 361.13L652.49 361.13Z" fill="#fff" stroke="#264653" stroke-width="1.1"/>
<path d="M532.1 366.69 L532.3 366.43 L532.5 366.18 L532.7 365.93 L532.89 365.68 L533.09 365.43 L533.29 365.18 L533.49 364.93 L533.69 364.68 L533.89 364.43 L534.09 364.18 L534.29 363.93 L534.49 363.68 L534.69 363.48 L534.89 363.29 L535.09 363.1 L535.29 362.91 L535.49 362.73 L535.69 362.54 L535.89 362.35 L536.09 362.17 L536.29 361.98 L536.49 361.79 L536.69 361.61 L536.89 361.42 L537.09 361.23 L537.29 361.05 L537.49 360.86 L537.69 360.67 L537.89 360.49 L538.09 360.3 L538.29 360.11 L538.49 359.93 L538.69 359.74 L538.89 359.55 L539.08 359.37 L539.28 359.18 L539.48 358.99 L539.68 358.81 L539.88 358.62 L540.08 358.43 L540.28 358.24 L540.48 358.06 L540.68 357.87 L540.88 357.68 L541.08 357.5 L541.28 357.31 L541.48 357.12 L541.68 356.94 L541.88 356.75 L542.08 356.56 L542.28 356.38 L542.48 356.19 L542.68 356 L542.88 355.82 L543.08 355.63 L543.28 355.44 L543.48 355.26 L543.68 355.07 L543.88 354.88 L544.08 354.7 L544.28 354.51 L544.48 354.32 L544.68 354.13 L544.88 353.95 L545.08 353.76 L545.27 353.57 L545.47 353.39 L545.67 353.2 L545.87 353.01 L546.07 352.83 L546.27 352.64 L546.47 352.45 L546.67 352.27 L546.87 352.08 L547.07 351.89 L547.27 351.71 L547.47 351.52 L547.67 351.33 L547.87 351.15 L548.07 350.96 L548.27 350.77 L548.47 350.59 L548.67 350.4 L548.87 350.21 L549.07 350.03 L549.27 349.84 L549.47 349.65 L549.67 349.46 L549.87 349.28 L550.07 349.1 L550.27 348.96 L550.47 348.81 L550.67 348.66 L550.87 348.51 L551.07 348.37 L551.27 348.22 L551.46 348.07 L551.66 347.93 L551.86 347.78 L552.06 347.63 L552.26 347.49 L552.46 347.34 L552.66 347.19 L552.86 347.04 L553.06 346.9 L553.26 346.75 L553.46 346.6 L553.66 346.46 L553.86 346.31 L554.06 346.07 L554.26 345.82 L554.46 345.57 L554.66 345.32 L554.86 345.07 L555.06 344.82 L555.26 344.57 L555.46 344.32 L555.66 344.07 L555.86 343.82 L556.06 343.57 L556.26 343.32 L556.46 343.07 L556.66 342.82 L556.86 342.57 L557.06 342.32 L557.26 342.07 L557.46 341.82 L557.65 341.57 L557.85 341.32 L558.05 341.07 L558.25 340.82 L558.45 340.58 L558.65 340.33 L558.85 340.1 L559.05 339.87 L559.25 339.64 L559.45 339.41 L559.65 339.18 L559.85 338.95 L560.05 338.72 L560.25 338.49 L560.45 338.26 L560.65 338.03 L560.85 337.8 L561.05 337.57 L561.25 337.34 L561.45 337.11 L561.65 336.88 L561.85 336.65 L562.05 336.42 L562.25 336.19 L562.45 335.96 L562.65 335.73 L562.85 335.5 L563.05 335.27 L563.25 335.04 L563.45 334.81 L563.65 334.58 L563.84 334.35 L564.04 334.12 L564.24 333.89 L564.44 333.66 L564.64 333.41 L564.84 333.09 L565.04 332.77 L565.24 332.45 L565.44 332.13 L565.64 331.81 L565.84 331.49 L566.04 331.17 L566.24 330.85 L566.44 330.53 L566.64 330.21 L566.84 329.89 L567.04 329.57 L567.24 329.25 L567.44 328.93 L567.64 328.62 L567.84 328.3 L568.04 327.98 L568.24 327.66 L568.44 327.34 L568.64 327.02 L568.84 326.7 L569.04 326.38 L569.24 326.06 L569.44 325.67 L569.64 325.23 L569.84 324.78 L570.03 324.34 L570.23 323.89 L570.43 323.45 L570.63 323 L570.83 322.56 L571.03 322.11 L571.23 321.67 L571.43 321.22 L571.63 320.78 L571.83 320.33 L572.03 319.89 L572.23 319.44 L572.43 319 L572.63 318.56 L572.83 318.11 L573.03 317.62 L573.23 317.14 L573.43 316.65 L573.63 316.17 L573.83 315.68 L574.03 315.19 L574.23 314.71 L574.43 314.22 L574.63 313.73 L574.83 313.25 L575.03 312.76 L575.23 312.27 L575.43 311.79 L575.63 311.3 L575.83 310.81 L576.03 310.33 L576.23 309.84 L576.42 309.35 L576.62 308.87 L576.82 308.38 L577.02 307.89 L577.22 307.41 L577.42 306.92 L577.62 306.43 L577.82 305.95 L578.02 305.46 L578.22 304.97 L578.42 304.49 L578.62 304 L578.82 303.51 L579.02 303.03 L579.22 302.47 L579.42 301.74 L579.62 301.02 L579.82 300.3 L580.02 299.58 L580.22 298.86 L580.42 298.13 L580.62 297.41 L580.82 296.69 L581.02 295.97 L581.22 295.25 L581.42 294.53 L581.62 293.8 L581.82 293.08 L582.02 292.36 L582.22 291.64 L582.42 290.92 L582.61 290.19 L582.81 289.47 L583.01 288.75 L583.21 288.03 L583.41 287.31 L583.61 286.58 L583.81 285.86 L584.01 285.14 L584.21 283.81 L584.41 282.22 L584.61 280.63 L584.81 279.04 L585.01 277.44 L585.21 275.85 L585.41 274.26 L585.61 272.67 L585.81 271.07 L586.01 269.48 L586.21 267.89 L586.41 266.3 L586.61 264.7 L586.81 263.11 L587.01 261.52 L587.21 259.93 L587.41 258.33 L587.61 256.74 L587.81 255.15 L588.01 253.68 L588.21 252.46 L588.41 251.23 L588.61 250.01 L588.8 248.78 L589 247.56 L589.2 246.33 L589.4 245.11 L589.6 243.88 L589.8 242.66 L590 241.43 L590.2 240.21 L590.4 238.98 L590.6 237.76 L590.8 236.53 L591 235.31 L591.2 234.08 L591.4 232.86 L591.6 231.63 L591.8 230.41 L592 231.63 L592.2 232.86 L592.4 234.08 L592.6 235.31 L592.8 236.53 L593 237.76 L593.2 238.98 L593.4 240.21 L593.6 241.43 L593.8 242.66 L594 243.88 L594.2 245.11 L594.4 246.33 L594.6 247.56 L594.8 248.78 L594.99 250.01 L595.19 251.23 L595.39 252.46 L595.59 253.68 L595.79 255.07 L595.99 256.54 L596.19 258.01 L596.39 259.48 L596.59 260.95 L596.79 262.42 L596.99 263.89 L597.19 265.36 L597.39 266.83 L597.59 268.3 L597.79 269.77 L597.99 271.24 L598.19 272.71 L598.39 274.18 L598.59 275.65 L598.79 277.12 L598.99 278.59 L599.19 280.06 L599.39 281.53 L599.59 282.76 L599.79 283.43 L599.99 284.1 L600.19 284.78 L600.39 285.45 L600.59 286.12 L600.79 286.8 L600.99 287.47 L601.18 288.15 L601.38 288.82 L601.58 289.49 L601.78 290.17 L601.98 290.84 L602.18 291.51 L602.38 292.19 L602.58 292.86 L602.78 293.54 L602.98 294.21 L603.18 294.88 L603.38 295.56 L603.58 296.23 L603.78 296.9 L603.98 297.58 L604.18 298.25 L604.38 298.93 L604.58 299.6 L604.78 300.27 L604.98 300.95 L605.18 301.62 L605.38 302.29 L605.58 302.94 L605.78 303.54 L605.98 304.14 L606.18 304.74 L606.38 305.34 L606.58 305.94 L606.78 306.54 L606.98 307.14 L607.18 307.74 L607.37 308.34 L607.57 308.94 L607.77 309.54 L607.97 310.14 L608.17 310.74 L608.37 311.34 L608.57 311.94 L608.77 312.54 L608.97 313.14 L609.17 313.74 L609.37 314.33 L609.57 314.77 L609.77 315.2 L609.97 315.63 L610.17 316.07 L610.37 316.5 L610.57 316.93 L610.77 317.37 L610.97 317.8 L611.17 318.23 L611.37 318.66 L611.57 319.1 L611.77 319.53 L611.97 319.96 L612.17 320.4 L612.37 320.83 L612.57 321.26 L612.77 321.7 L612.97 322.13 L613.17 322.56 L613.37 323 L613.57 323.43 L613.76 323.86 L613.96 324.3 L614.16 324.73 L614.36 325.11 L614.56 325.43 L614.76 325.75 L614.96 326.07 L615.16 326.39 L615.36 326.71 L615.56 327.03 L615.76 327.35 L615.96 327.67 L616.16 327.99 L616.36 328.31 L616.56 328.63 L616.76 328.94 L616.96 329.26 L617.16 329.58 L617.36 329.9 L617.56 330.22 L617.76 330.54 L617.96 330.86 L618.16 331.18 L618.36 331.5 L618.56 331.82 L618.76 332.14 L618.96 332.46 L619.16 332.75 L619.36 333.03 L619.56 333.31 L619.76 333.59 L619.95 333.87 L620.15 334.15 L620.35 334.42 L620.55 334.7 L620.75 334.98 L620.95 335.26 L621.15 335.54 L621.35 335.82 L621.55 336.1 L621.75 336.38 L621.95 336.66 L622.15 336.94 L622.35 337.22 L622.55 337.5 L622.75 337.77 L622.95 338.05 L623.15 338.33 L623.35 338.61 L623.55 338.89 L623.75 339.17 L623.95 339.45 L624.15 339.68 L624.35 339.91 L624.55 340.14 L624.75 340.37 L624.95 340.6 L625.15 340.83 L625.35 341.06 L625.55 341.29 L625.75 341.52 L625.95 341.76 L626.14 341.99 L626.34 342.22 L626.54 342.45 L626.74 342.68 L626.94 342.91 L627.14 343.14 L627.34 343.37 L627.54 343.6 L627.74 343.83 L627.94 344.07 L628.14 344.3 L628.34 344.53 L628.54 344.76 L628.74 344.99 L628.94 345.21 L629.14 345.42 L629.34 345.63 L629.54 345.84 L629.74 346.05 L629.94 346.26 L630.14 346.47 L630.34 346.68 L630.54 346.89 L630.74 347.1 L630.94 347.31 L631.14 347.52 L631.34 347.73 L631.54 347.94 L631.74 348.15 L631.94 348.36 L632.14 348.56 L632.33 348.77 L632.53 348.98 L632.73 349.19 L632.93 349.4 L633.13 349.61 L633.33 349.82 L633.53 350.03 L633.73 350.22 L633.93 350.39 L634.13 350.57 L634.33 350.74 L634.53 350.92 L634.73 351.09 L634.93 351.26 L635.13 351.44 L635.33 351.61 L635.53 351.79 L635.73 351.96 L635.93 352.14 L636.13 352.31 L636.33 352.49 L636.53 352.66 L636.73 352.84 L636.93 353.01 L637.13 353.18 L637.33 353.36 L637.53 353.53 L637.73 353.71 L637.93 353.88 L638.13 354.06 L638.33 354.23 L638.52 354.41 L638.72 354.58 L638.92 354.76 L639.12 354.93 L639.32 355.1 L639.52 355.28 L639.72 355.45 L639.92 355.63 L640.12 355.8 L640.32 355.98 L640.52 356.15 L640.72 356.33 L640.92 356.5 L641.12 356.68 L641.32 356.85 L641.52 357.03 L641.72 357.2 L641.92 357.37 L642.12 357.55 L642.32 357.72 L642.52 357.9 L642.72 358.07 L642.92 358.25 L643.12 358.42 L643.32 358.6 L643.52 358.77 L643.72 358.95 L643.92 359.12 L644.12 359.29 L644.32 359.47 L644.52 359.64 L644.71 359.82 L644.91 359.99 L645.11 360.17 L645.31 360.34 L645.51 360.52 L645.71 360.69 L645.91 360.87 L646.11 361.04 L646.31 361.21 L646.51 361.39 L646.71 361.56 L646.91 361.74 L647.11 361.91 L647.31 362.09 L647.51 362.26 L647.71 362.44 L647.91 362.61 L648.11 362.79 L648.31 362.96 L648.51 363.13 L648.71 363.31 L648.91 363.48 L649.11 363.68 L649.31 363.93 L649.51 364.18 L649.71 364.43 L649.91 364.68 L650.11 364.93 L650.31 365.18 L650.51 365.43 L650.71 365.68 L650.9 365.93 L651.1 366.18 L651.3 366.43 L651.5 366.69" fill="none" stroke="#2a9d8f" stroke-width="1.0"/>
<g fill="#fff" stroke="#2a9d8f" stroke-width="1.1">
<path d="M533.11 361.48h3.6v3.6h-3.6Z"/>
<path d="M537.85 357.04h3.6v3.6h-3.6Z"/>
<path d="M542.59 352.6h3.6v3.6h-3.6Z"/>
<path d="M547.33 348.17h3.6v3.6h-3.6Z"/>
<path d="M552.07 344.5h3.6v3.6h-3.6Z"/>
<path d="M556.81 338.58h3.6v3.6h-3.6Z"/>
<path d="M561.55 333.12h3.6v3.6h-3.6Z"/>
<path d="M566.29 326.09h3.6v3.6h-3.6Z"/>
<path d="M571.04 316.3h3.6v3.6h-3.6Z"/>
<path d="M575.78 304.75h3.6v3.6h-3.6Z"/>
<path d="M580.52 289.47h3.6v3.6h-3.6Z"/>
<path d="M585.26 259.31h3.6v3.6h-3.6Z"/>
<path d="M590 228.61h3.6v3.6h-3.6Z"/>
<path d="M594.74 258.77h3.6v3.6h-3.6Z"/>
<path d="M599.48 286.68h3.6v3.6h-3.6Z"/>
<path d="M604.22 302.48h3.6v3.6h-3.6Z"/>
<path d="M608.96 315.56h3.6v3.6h-3.6Z"/>
<path d="M613.71 325.14h3.6v3.6h-3.6Z"/>
<path d="M618.45 332.48h3.6v3.6h-3.6Z"/>
<path d="M623.19 338.85h3.6v3.6h-3.6Z"/>
<path d="M627.93 344.24h3.6v3.6h-3.6Z"/>
<path d="M632.67 349.06h3.6v3.6h-3.6Z"/>
<path d="M637.41 353.21h3.6v3.6h-3.6Z"/>
<path d="M642.15 357.35h3.6v3.6h-3.6Z"/>
<path d="M646.89 361.5h3.6v3.6h-3.6Z"/>
</g>
<path d="M555.1 365.03 L555.22 364.66 L555.35 364.3 L555.47 363.93 L555.59 363.57 L555.71 363.2 L555.84 362.84 L555.96 362.47 L556.08 362.11 L556.2 361.75 L556.33 361.38 L556.45 361.02 L556.57 360.65 L556.7 360.29 L556.82 359.92 L556.94 359.56 L557.06 359.19 L557.19 358.83 L557.31 358.47 L557.43 358.1 L557.55 357.74 L557.68 357.37 L557.8 357.06 L557.92 356.8 L558.05 356.54 L558.17 356.28 L558.29 356.01 L558.41 355.75 L558.54 355.49 L558.66 355.23 L558.78 354.96 L558.9 354.7 L559.03 354.44 L559.15 354.18 L559.27 353.92 L559.4 353.65 L559.52 353.39 L559.64 353.13 L559.76 352.87 L559.89 352.6 L560.01 352.34 L560.13 352.08 L560.25 351.82 L560.38 351.55 L560.5 351.29 L560.62 351.03 L560.75 350.77 L560.87 350.51 L560.99 350.24 L561.11 349.98 L561.24 349.72 L561.36 349.46 L561.48 349.19 L561.61 348.93 L561.73 348.67 L561.85 348.41 L561.97 348.15 L562.1 347.94 L562.22 347.72 L562.34 347.5 L562.46 347.29 L562.59 347.07 L562.71 346.85 L562.83 346.63 L562.96 346.42 L563.08 346.2 L563.2 345.98 L563.32 345.77 L563.45 345.55 L563.57 345.33 L563.69 345.12 L563.81 344.9 L563.94 344.68 L564.06 344.46 L564.18 344.25 L564.31 344.03 L564.43 343.81 L564.55 343.6 L564.67 343.38 L564.8 343.16 L564.92 342.94 L565.04 342.73 L565.16 342.51 L565.29 342.29 L565.41 342.08 L565.53 341.86 L565.66 341.64 L565.78 341.43 L565.9 341.21 L566.02 340.99 L566.15 340.77 L566.27 340.56 L566.39 340.34 L566.51 340.12 L566.64 339.91 L566.76 339.69 L566.88 339.47 L567.01 339.25 L567.13 339.01 L567.25 338.75 L567.37 338.49 L567.5 338.23 L567.62 337.97 L567.74 337.72 L567.86 337.46 L567.99 337.2 L568.11 336.94 L568.23 336.68 L568.36 336.42 L568.48 336.16 L568.6 335.91 L568.72 335.65 L568.85 335.39 L568.97 335.13 L569.09 334.87 L569.22 334.61 L569.34 334.36 L569.46 334.1 L569.58 333.84 L569.71 333.58 L569.83 333.32 L569.95 333.06 L570.07 332.81 L570.2 332.55 L570.32 332.29 L570.44 332.03 L570.57 331.77 L570.69 331.51 L570.81 331.25 L570.93 331 L571.06 330.74 L571.18 330.48 L571.3 330.22 L571.42 329.96 L571.55 329.44 L571.67 328.91 L571.79 328.37 L571.92 327.83 L572.04 327.3 L572.16 326.76 L572.28 326.23 L572.41 325.69 L572.53 325.16 L572.65 324.62 L572.77 324.09 L572.9 323.55 L573.02 323.02 L573.14 322.48 L573.27 321.95 L573.39 321.41 L573.51 320.88 L573.63 320.34 L573.76 319.88 L573.88 319.55 L574 319.22 L574.12 318.88 L574.25 318.55 L574.37 318.22 L574.49 317.89 L574.62 317.56 L574.74 317.23 L574.86 316.9 L574.98 316.57 L575.11 316.23 L575.23 315.9 L575.35 315.57 L575.48 315.24 L575.6 314.91 L575.72 314.58 L575.84 314.25 L575.97 313.91 L576.09 313.58 L576.21 313.25 L576.33 312.92 L576.46 312.59 L576.58 312.26 L576.7 311.93 L576.83 311.6 L576.95 311.26 L577.07 310.91 L577.19 310.48 L577.32 310.04 L577.44 309.61 L577.56 309.17 L577.68 308.74 L577.81 308.3 L577.93 307.86 L578.05 307.43 L578.18 306.99 L578.3 306.56 L578.42 306.12 L578.54 305.68 L578.67 305.25 L578.79 304.81 L578.91 304.38 L579.03 303.94 L579.16 303.5 L579.28 303.07 L579.4 302.63 L579.53 302.2 L579.65 301.76 L579.77 301.32 L579.89 300.89 L580.02 300.45 L580.14 300.02 L580.26 299.58 L580.38 299.14 L580.51 298.71 L580.63 298.28 L580.75 297.84 L580.88 297.41 L581 296.97 L581.12 296.54 L581.24 296.11 L581.37 295.67 L581.49 295.24 L581.61 294.81 L581.74 294.37 L581.86 293.94 L581.98 293.5 L582.1 293.07 L582.23 292.64 L582.35 292.2 L582.47 291.77 L582.59 291.33 L582.72 290.9 L582.84 290.47 L582.96 290.03 L583.09 289.6 L583.21 289.16 L583.33 288.73 L583.45 288.3 L583.58 287.86 L583.7 287.43 L583.82 287 L583.94 286.56 L584.07 286.13 L584.19 285.14 L584.31 284.13 L584.44 283.11 L584.56 282.09 L584.68 281.08 L584.8 280.06 L584.93 279.04 L585.05 278.03 L585.17 277.01 L585.29 275.99 L585.42 274.98 L585.54 273.96 L585.66 272.94 L585.79 271.93 L585.91 270.91 L586.03 269.89 L586.15 268.88 L586.28 267.86 L586.4 266.84 L586.52 265.83 L586.64 264.81 L586.77 263.79 L586.89 262.78 L587.01 261.76 L587.14 260.74 L587.26 259.73 L587.38 258.71 L587.5 257.69 L587.63 256.68 L587.75 255.66 L587.87 254.65 L587.99 253.62 L588.12 252.58 L588.24 251.55 L588.36 250.51 L588.49 249.48 L588.61 248.44 L588.73 247.41 L588.85 246.37 L588.98 245.34 L589.1 244.3 L589.22 243.27 L589.35 242.23 L589.47 241.19 L589.59 240.16 L589.71 239.12 L589.84 238.09 L589.96 237.05 L590.08 236.1 L590.2 235.34 L590.33 234.58 L590.45 233.82 L590.57 233.05 L590.7 232.29 L590.82 231.53 L590.94 230.77 L591.06 230.01 L591.19 229.24 L591.31 228.48 L591.43 227.72 L591.55 226.96 L591.68 226.2 L591.8 225.43 L591.92 226.16 L592.03 226.88 L592.15 227.61 L592.27 228.34 L592.38 229.06 L592.5 229.79 L592.62 230.51 L592.73 231.24 L592.85 231.96 L592.97 232.69 L593.09 233.41 L593.2 234.14 L593.32 234.87 L593.44 235.59 L593.55 236.32 L593.67 237.3 L593.79 238.28 L593.9 239.27 L594.02 240.25 L594.14 241.24 L594.25 242.23 L594.37 243.21 L594.49 244.2 L594.6 245.18 L594.72 246.17 L594.84 247.15 L594.96 248.14 L595.07 249.13 L595.19 250.11 L595.31 251.1 L595.42 252.08 L595.54 253.07 L595.66 254.06 L595.77 254.99 L595.89 255.92 L596.01 256.85 L596.12 257.79 L596.24 258.72 L596.36 259.65 L596.47 260.58 L596.59 261.52 L596.71 262.45 L596.83 263.38 L596.94 264.31 L597.06 265.24 L597.18 266.18 L597.29 267.11 L597.41 268.04 L597.53 268.97 L597.64 269.9 L597.76 270.84 L597.88 271.77 L597.99 272.7 L598.11 273.63 L598.23 274.56 L598.34 275.5 L598.46 276.43 L598.58 277.36 L598.7 278.29 L598.81 279.22 L598.93 280.16 L599.05 281.09 L599.16 282.02 L599.28 282.95 L599.4 283.88 L599.51 284.82 L599.63 285.27 L599.75 285.67 L599.86 286.06 L599.98 286.45 L600.1 286.85 L600.21 287.24 L600.33 287.64 L600.45 288.03 L600.57 288.43 L600.68 288.82 L600.8 289.21 L600.92 289.61 L601.03 290 L601.15 290.4 L601.27 290.79 L601.38 291.19 L601.5 291.58 L601.62 291.97 L601.73 292.31 L601.85 292.64 L601.97 292.97 L602.08 293.3 L602.2 293.63 L602.32 293.96 L602.44 294.29 L602.55 294.62 L602.67 294.94 L602.79 295.27 L602.9 295.6 L603.02 295.93 L603.14 296.26 L603.25 296.59 L603.37 296.92 L603.49 297.25 L603.6 297.58 L603.72 297.91 L603.84 298.23 L603.95 298.56 L604.07 298.89 L604.19 299.22 L604.31 299.55 L604.42 299.88 L604.54 300.21 L604.66 300.54 L604.77 300.87 L604.89 301.2 L605.01 301.52 L605.12 301.85 L605.24 302.18 L605.36 302.51 L605.47 302.84 L605.59 303.17 L605.71 303.5 L605.82 303.83 L605.94 304.16 L606.06 304.49 L606.18 304.81 L606.29 305.14 L606.41 305.47 L606.53 305.8 L606.64 306.13 L606.76 306.46 L606.88 306.79 L606.99 307.12 L607.11 307.45 L607.23 307.78 L607.34 308.1 L607.46 308.43 L607.58 308.76 L607.69 309.09 L607.81 309.44 L607.93 309.83 L608.05 310.22 L608.16 310.61 L608.28 311.01 L608.4 311.4 L608.51 311.79 L608.63 312.18 L608.75 312.57 L608.86 312.96 L608.98 313.36 L609.1 313.75 L609.21 314.14 L609.33 314.53 L609.45 314.92 L609.56 315.32 L609.68 315.71 L609.8 316.1 L609.91 316.49 L610.03 316.88 L610.15 317.28 L610.27 317.67 L610.38 318.06 L610.5 318.45 L610.62 318.84 L610.73 319.24 L610.85 319.63 L610.97 320.02 L611.08 320.41 L611.2 320.8 L611.32 321.2 L611.43 321.59 L611.55 321.98 L611.67 322.37 L611.78 322.76 L611.9 323.16 L612.02 323.55 L612.14 323.94 L612.25 324.33 L612.37 324.72 L612.49 325.12 L612.6 325.51 L612.72 325.9 L612.84 326.29 L612.95 326.68 L613.07 327.08 L613.19 327.47 L613.3 327.86 L613.42 328.25 L613.54 328.64 L613.65 328.99 L613.77 329.32 L613.89 329.66 L614.01 329.99 L614.12 330.32 L614.24 330.65 L614.36 330.98 L614.47 331.31 L614.59 331.65 L614.71 331.98 L614.82 332.31 L614.94 332.64 L615.06 332.97 L615.17 333.3 L615.29 333.64 L615.41 333.97 L615.52 334.3 L615.64 334.63 L615.76 334.96 L615.88 335.29 L615.99 335.63 L616.11 335.96 L616.23 336.29 L616.34 336.62 L616.46 336.95 L616.58 337.28 L616.69 337.62 L616.81 337.95 L616.93 338.28 L617.04 338.61 L617.16 338.94 L617.28 339.27 L617.39 339.61 L617.51 339.94 L617.63 340.27 L617.75 340.6 L617.86 340.93 L617.98 341.26 L618.1 341.6 L618.21 341.93 L618.33 342.26 L618.45 342.59 L618.56 342.92 L618.68 343.25 L618.8 343.59 L618.91 343.92 L619.03 344.25 L619.15 344.58 L619.26 344.91 L619.38 345.24 L619.5 345.58 L619.62 345.91 L619.73 346.24 L619.85 346.57 L619.97 346.9 L620.08 347.23 L620.2 347.57 L620.32 347.9 L620.43 348.23 L620.55 348.53 L620.67 348.83 L620.78 349.13 L620.9 349.44 L621.02 349.74 L621.13 350.04 L621.25 350.34 L621.37 350.64 L621.49 350.95 L621.6 351.25 L621.72 351.55 L621.84 351.85 L621.95 352.16 L622.07 352.46 L622.19 352.76 L622.3 353.06 L622.42 353.37 L622.54 353.67 L622.65 353.97 L622.77 354.27 L622.89 354.58 L623 354.88 L623.12 355.18 L623.24 355.48 L623.36 355.78 L623.47 356.09 L623.59 356.39 L623.71 356.69 L623.82 356.99 L623.94 357.3 L624.06 357.6 L624.17 357.9 L624.29 358.2 L624.41 358.51 L624.52 358.81 L624.64 359.11 L624.76 359.41 L624.87 359.71 L624.99 360.02 L625.11 360.32 L625.23 360.62 L625.34 360.92 L625.46 361.23 L625.58 361.53 L625.69 361.83 L625.81 362.13 L625.93 362.44 L626.04 362.74 L626.16 363.04 L626.28 363.34 L626.39 363.65 L626.51 363.95 L626.63 364.25 L626.74 364.55" fill="none" stroke="#8ab17d" stroke-width="1.0"/>
<g fill="#fff" stroke="#8ab17d" stroke-width="1.0">
<path d="M555.1 361.83L557.2 365.03L555.1 368.23L553 365.03Z"/>
<path d="M555.74 359.93L557.84 363.13L555.74 366.33L553.64 363.13Z"/>
<path d="M556.38 358.04L558.48 361.24L556.38 364.44L554.28 361.24Z"/>
<path d="M557.01 356.14L559.11 359.34L557.01 362.54L554.91 359.34Z"/>
<path d="M557.65 354.24L559.75 357.44L557.65 360.64L555.55 357.44Z"/>
<path d="M558.47 352.42L560.57 355.62L558.47 358.82L556.37 355.62Z"/>
<path d="M559.32 350.61L561.42 353.81L559.32 357.01L557.22 353.81Z"/>
<path d="M560.17 348.8L562.27 352L560.17 355.2L558.07 352Z"/>
<path d="M561.02 346.99L563.12 350.19L561.02 353.39L558.92 350.19Z"/>
<path d="M561.87 345.18L563.97 348.38L561.87 351.58L559.77 348.38Z"/>
<path d="M562.84 343.43L564.94 346.63L562.84 349.83L560.74 346.63Z"/>
<path d="M563.82 341.69L565.92 344.89L563.82 348.09L561.72 344.89Z"/>
<path d="M564.81 339.95L566.91 343.15L564.81 346.35L562.71 343.15Z"/>
<path d="M565.79 338.21L567.89 341.41L565.79 344.61L563.69 341.41Z"/>
<path d="M566.77 336.46L568.87 339.66L566.77 342.86L564.67 339.66Z"/>
<path d="M567.67 334.68L569.77 337.88L567.67 341.08L565.57 337.88Z"/>
<path d="M568.52 332.87L570.62 336.07L568.52 339.27L566.42 336.07Z"/>
<path d="M569.38 331.06L571.48 334.26L569.38 337.46L567.28 334.26Z"/>
<path d="M570.24 329.26L572.34 332.46L570.24 335.66L568.14 332.46Z"/>
<path d="M571.1 327.45L573.2 330.65L571.1 333.85L569 330.65Z"/>
<path d="M571.7 325.55L573.8 328.75L571.7 331.95L569.6 328.75Z"/>
<path d="M572.15 323.61L574.25 326.81L572.15 330.01L570.05 326.81Z"/>
<path d="M572.6 321.66L574.7 324.86L572.6 328.06L570.5 324.86Z"/>
<path d="M573.05 319.71L575.15 322.91L573.05 326.11L570.95 322.91Z"/>
<path d="M573.49 317.76L575.59 320.96L573.49 324.16L571.39 320.96Z"/>
<path d="M574.07 315.84L576.17 319.04L574.07 322.24L571.97 319.04Z"/>
<path d="M574.76 313.97L576.86 317.17L574.76 320.37L572.66 317.17Z"/>
<path d="M575.46 312.09L577.56 315.29L575.46 318.49L573.36 315.29Z"/>
<path d="M576.15 310.22L578.25 313.42L576.15 316.62L574.05 313.42Z"/>
<path d="M576.84 308.34L578.94 311.54L576.84 314.74L574.74 311.54Z"/>
<path d="M577.43 306.43L579.53 309.63L577.43 312.83L575.33 309.63Z"/>
<path d="M577.97 304.51L580.07 307.71L577.97 310.91L575.87 307.71Z"/>
<path d="M578.52 302.58L580.62 305.78L578.52 308.98L576.42 305.78Z"/>
<path d="M579.06 300.66L581.16 303.86L579.06 307.06L576.96 303.86Z"/>
<path d="M579.6 298.73L581.7 301.93L579.6 305.13L577.5 301.93Z"/>
<path d="M580.14 296.81L582.24 300.01L580.14 303.21L578.04 300.01Z"/>
<path d="M580.69 294.88L582.79 298.08L580.69 301.28L578.59 298.08Z"/>
<path d="M581.23 292.96L583.33 296.16L581.23 299.36L579.13 296.16Z"/>
<path d="M581.77 291.03L583.87 294.23L581.77 297.43L579.67 294.23Z"/>
<path d="M582.32 289.11L584.42 292.31L582.32 295.51L580.22 292.31Z"/>
<path d="M582.86 287.18L584.96 290.38L582.86 293.58L580.76 290.38Z"/>
<path d="M583.41 285.26L585.51 288.46L583.41 291.66L581.31 288.46Z"/>
<path d="M583.95 283.33L586.05 286.53L583.95 289.73L581.85 286.53Z"/>
<path d="M584.26 281.36L586.36 284.56L584.26 287.76L582.16 284.56Z"/>
<path d="M584.5 279.38L586.6 282.58L584.5 285.78L582.4 282.58Z"/>
<path d="M584.74 277.39L586.84 280.59L584.74 283.79L582.64 280.59Z"/>
<path d="M584.98 275.41L587.08 278.61L584.98 281.81L582.88 278.61Z"/>
<path d="M585.22 273.42L587.32 276.62L585.22 279.82L583.12 276.62Z"/>
<path d="M585.46 271.43L587.56 274.63L585.46 277.83L583.36 274.63Z"/>
<path d="M585.7 269.45L587.8 272.65L585.7 275.85L583.6 272.65Z"/>
<path d="M585.94 267.46L588.04 270.66L585.94 273.86L583.84 270.66Z"/>
<path d="M586.18 265.48L588.28 268.68L586.18 271.88L584.08 268.68Z"/>
<path d="M586.42 263.49L588.52 266.69L586.42 269.89L584.32 266.69Z"/>
<path d="M586.66 261.51L588.76 264.71L586.66 267.91L584.56 264.71Z"/>
<path d="M586.9 259.52L589 262.72L586.9 265.92L584.8 262.72Z"/>
<path d="M587.14 257.54L589.24 260.74L587.14 263.94L585.04 260.74Z"/>
<path d="M587.38 255.55L589.48 258.75L587.38 261.95L585.28 258.75Z"/>
<path d="M587.62 253.56L589.72 256.76L587.62 259.96L585.52 256.76Z"/>
<path d="M587.86 251.58L589.96 254.78L587.86 257.98L585.76 254.78Z"/>
<path d="M588.09 249.59L590.19 252.79L588.09 255.99L585.99 252.79Z"/>
<path d="M588.33 247.61L590.43 250.81L588.33 254.01L586.23 250.81Z"/>
<path d="M588.56 245.62L590.66 248.82L588.56 252.02L586.46 248.82Z"/>
<path d="M588.8 243.63L590.9 246.83L588.8 250.03L586.7 246.83Z"/>
<path d="M589.03 241.65L591.13 244.85L589.03 248.05L586.93 244.85Z"/>
<path d="M589.27 239.66L591.37 242.86L589.27 246.06L587.17 242.86Z"/>
<path d="M589.51 237.68L591.61 240.88L589.51 244.08L587.41 240.88Z"/>
<path d="M589.74 235.69L591.84 238.89L589.74 242.09L587.64 238.89Z"/>
<path d="M589.98 233.7L592.08 236.9L589.98 240.1L587.88 236.9Z"/>
<path d="M590.27 231.73L592.37 234.93L590.27 238.13L588.17 234.93Z"/>
<path d="M590.59 229.75L592.69 232.95L590.59 236.15L588.49 232.95Z"/>
<path d="M590.91 227.78L593.01 230.98L590.91 234.18L588.81 230.98Z"/>
<path d="M591.23 225.8L593.33 229L591.23 232.2L589.13 229Z"/>
<path d="M591.54 223.83L593.64 227.03L591.54 230.23L589.44 227.03Z"/>
<path d="M591.86 222.61L593.96 225.81L591.86 229.01L589.76 225.81Z"/>
<path d="M592.18 224.59L594.28 227.79L592.18 230.99L590.08 227.79Z"/>
<path d="M592.5 226.56L594.6 229.76L592.5 232.96L590.4 229.76Z"/>
<path d="M592.82 228.54L594.92 231.74L592.82 234.94L590.72 231.74Z"/>
<path d="M593.13 230.51L595.23 233.71L593.13 236.91L591.03 233.71Z"/>
<path d="M593.45 232.49L595.55 235.69L593.45 238.89L591.35 235.69Z"/>
<path d="M593.71 234.47L595.81 237.67L593.71 240.87L591.61 237.67Z"/>
<path d="M593.95 236.45L596.05 239.65L593.95 242.85L591.85 239.65Z"/>
<path d="M594.18 238.44L596.28 241.64L594.18 244.84L592.08 241.64Z"/>
<path d="M594.42 240.43L596.52 243.63L594.42 246.83L592.32 243.63Z"/>
<path d="M594.66 242.41L596.76 245.61L594.66 248.81L592.56 245.61Z"/>
<path d="M594.89 244.4L596.99 247.6L594.89 250.8L592.79 247.6Z"/>
<path d="M595.13 246.38L597.23 249.58L595.13 252.78L593.03 249.58Z"/>
<path d="M595.36 248.37L597.46 251.57L595.36 254.77L593.26 251.57Z"/>
<path d="M595.6 250.36L597.7 253.56L595.6 256.76L593.5 253.56Z"/>
<path d="M595.84 252.34L597.94 255.54L595.84 258.74L593.74 255.54Z"/>
<path d="M596.09 254.33L598.19 257.53L596.09 260.73L593.99 257.53Z"/>
<path d="M596.34 256.31L598.44 259.51L596.34 262.71L594.24 259.51Z"/>
<path d="M596.59 258.29L598.69 261.49L596.59 264.69L594.49 261.49Z"/>
<path d="M596.84 260.28L598.94 263.48L596.84 266.68L594.74 263.48Z"/>
<path d="M597.09 262.26L599.19 265.46L597.09 268.66L594.99 265.46Z"/>
<path d="M597.34 264.25L599.44 267.45L597.34 270.65L595.24 267.45Z"/>
<path d="M597.58 266.23L599.68 269.43L597.58 272.63L595.48 269.43Z"/>
<path d="M597.83 268.22L599.93 271.42L597.83 274.62L595.73 271.42Z"/>
<path d="M598.08 270.2L600.18 273.4L598.08 276.6L595.98 273.4Z"/>
<path d="M598.33 272.19L600.43 275.39L598.33 278.59L596.23 275.39Z"/>
<path d="M598.58 274.17L600.68 277.37L598.58 280.57L596.48 277.37Z"/>
<path d="M598.83 276.16L600.93 279.36L598.83 282.56L596.73 279.36Z"/>
<path d="M599.08 278.14L601.18 281.34L599.08 284.54L596.98 281.34Z"/>
<path d="M599.33 280.12L601.43 283.32L599.33 286.52L597.23 283.32Z"/>
<path d="M599.64 282.1L601.74 285.3L599.64 288.5L597.54 285.3Z"/>
<path d="M600.21 284.01L602.31 287.21L600.21 290.41L598.11 287.21Z"/>
<path d="M600.77 285.93L602.87 289.13L600.77 292.33L598.67 289.13Z"/>
<path d="M601.34 287.85L603.44 291.05L601.34 294.25L599.24 291.05Z"/>
<path d="M601.96 289.75L604.06 292.95L601.96 296.15L599.86 292.95Z"/>
<path d="M602.63 291.64L604.73 294.84L602.63 298.04L600.53 294.84Z"/>
<path d="M603.3 293.52L605.4 296.72L603.3 299.92L601.2 296.72Z"/>
<path d="M603.97 295.4L606.07 298.6L603.97 301.8L601.87 298.6Z"/>
<path d="M604.64 297.29L606.74 300.49L604.64 303.69L602.54 300.49Z"/>
<path d="M605.31 299.17L607.41 302.37L605.31 305.57L603.21 302.37Z"/>
<path d="M605.98 301.06L608.08 304.26L605.98 307.46L603.88 304.26Z"/>
<path d="M606.65 302.94L608.75 306.14L606.65 309.34L604.55 306.14Z"/>
<path d="M607.32 304.83L609.42 308.03L607.32 311.23L605.22 308.03Z"/>
<path d="M607.96 306.72L610.06 309.92L607.96 313.12L605.86 309.92Z"/>
<path d="M608.53 308.64L610.63 311.84L608.53 315.04L606.43 311.84Z"/>
<path d="M609.1 310.56L611.2 313.76L609.1 316.96L607 313.76Z"/>
<path d="M609.67 312.47L611.77 315.67L609.67 318.87L607.57 315.67Z"/>
<path d="M610.24 314.39L612.34 317.59L610.24 320.79L608.14 317.59Z"/>
<path d="M610.81 316.31L612.91 319.51L610.81 322.71L608.71 319.51Z"/>
<path d="M611.38 318.22L613.48 321.42L611.38 324.62L609.28 321.42Z"/>
<path d="M611.96 320.14L614.06 323.34L611.96 326.54L609.86 323.34Z"/>
<path d="M612.53 322.06L614.63 325.26L612.53 328.46L610.43 325.26Z"/>
<path d="M613.1 323.97L615.2 327.17L613.1 330.37L611 327.17Z"/>
<path d="M613.69 325.88L615.79 329.08L613.69 332.28L611.59 329.08Z"/>
<path d="M614.35 327.77L616.45 330.97L614.35 334.17L612.25 330.97Z"/>
<path d="M615.02 329.66L617.12 332.86L615.02 336.06L612.92 332.86Z"/>
<path d="M615.68 331.54L617.78 334.74L615.68 337.94L613.58 334.74Z"/>
<path d="M616.35 333.43L618.45 336.63L616.35 339.83L614.25 336.63Z"/>
<path d="M617.01 335.31L619.11 338.51L617.01 341.71L614.91 338.51Z"/>
<path d="M617.67 337.2L619.77 340.4L617.67 343.6L615.57 340.4Z"/>
<path d="M618.34 339.09L620.44 342.29L618.34 345.49L616.24 342.29Z"/>
<path d="M619 340.97L621.1 344.17L619 347.37L616.9 344.17Z"/>
<path d="M619.67 342.86L621.77 346.06L619.67 349.26L617.57 346.06Z"/>
<path d="M620.33 344.75L622.43 347.95L620.33 351.15L618.23 347.95Z"/>
<path d="M621.05 346.61L623.15 349.81L621.05 353.01L618.95 349.81Z"/>
<path d="M621.77 348.48L623.87 351.68L621.77 354.88L619.67 351.68Z"/>
<path d="M622.49 350.35L624.59 353.55L622.49 356.75L620.39 353.55Z"/>
<path d="M623.21 352.21L625.31 355.41L623.21 358.61L621.11 355.41Z"/>
<path d="M623.93 354.08L626.03 357.28L623.93 360.48L621.83 357.28Z"/>
<path d="M624.65 355.94L626.75 359.14L624.65 362.34L622.55 359.14Z"/>
<path d="M625.37 357.81L627.47 361.01L625.37 364.21L623.27 361.01Z"/>
<path d="M626.1 359.67L628.2 362.87L626.1 366.07L624 362.87Z"/>
</g>
<path d="M573.19 362.66 L573.25 362.38 L573.31 362.1 L573.37 361.82 L573.44 361.54 L573.5 361.26 L573.56 360.98 L573.62 360.7 L573.68 360.42 L573.75 360.1 L573.81 359.75 L573.87 359.41 L573.93 359.06 L574 358.71 L574.06 358.37 L574.12 358.02 L574.18 357.67 L574.24 357.33 L574.31 356.98 L574.37 356.63 L574.43 356.29 L574.49 355.94 L574.56 355.59 L574.62 355.25 L574.68 354.9 L574.74 354.55 L574.8 354.21 L574.87 353.86 L574.93 353.51 L574.99 353.17 L575.05 352.82 L575.12 352.47 L575.18 352.15 L575.24 351.82 L575.3 351.49 L575.37 351.17 L575.43 350.84 L575.49 350.51 L575.55 350.19 L575.61 349.86 L575.68 349.53 L575.74 349.21 L575.8 348.88 L575.86 348.55 L575.93 348.23 L575.99 347.9 L576.05 347.57 L576.11 347.25 L576.17 346.92 L576.24 346.59 L576.3 346.27 L576.36 345.94 L576.42 345.61 L576.49 345.29 L576.55 344.96 L576.61 344.63 L576.67 344.31 L576.73 343.96 L576.8 343.61 L576.86 343.25 L576.92 342.9 L576.98 342.54 L577.05 342.18 L577.11 341.83 L577.17 341.47 L577.23 341.12 L577.3 340.76 L577.36 340.41 L577.42 340.05 L577.48 339.7 L577.54 339.34 L577.61 338.99 L577.67 338.63 L577.73 338.27 L577.79 337.92 L577.86 337.56 L577.92 337.21 L577.98 336.85 L578.04 336.5 L578.1 336.14 L578.17 335.79 L578.23 335.43 L578.29 335.08 L578.35 334.72 L578.42 334.36 L578.48 334.01 L578.54 333.65 L578.6 333.3 L578.66 332.94 L578.73 332.59 L578.79 332.23 L578.85 331.88 L578.91 331.52 L578.98 331.17 L579.04 330.77 L579.1 330.38 L579.16 329.98 L579.22 329.59 L579.29 329.19 L579.35 328.8 L579.41 328.4 L579.47 328.01 L579.54 327.61 L579.6 327.22 L579.66 326.82 L579.72 326.43 L579.79 326.03 L579.85 325.64 L579.91 325.25 L579.97 324.85 L580.03 324.46 L580.1 324.06 L580.16 323.67 L580.22 323.27 L580.28 322.88 L580.35 322.48 L580.41 322.09 L580.47 321.69 L580.53 321.3 L580.59 320.9 L580.66 320.51 L580.72 320.11 L580.78 319.65 L580.84 319.16 L580.91 318.68 L580.97 318.19 L581.03 317.7 L581.09 317.21 L581.15 316.73 L581.22 316.24 L581.28 315.75 L581.34 315.27 L581.4 314.78 L581.47 314.29 L581.53 313.8 L581.59 313.32 L581.65 312.83 L581.72 312.34 L581.78 311.85 L581.84 311.37 L581.9 310.88 L581.96 310.39 L582.03 309.9 L582.09 309.42 L582.15 308.93 L582.21 308.44 L582.28 307.96 L582.34 307.47 L582.4 306.98 L582.46 306.49 L582.52 305.92 L582.59 305.27 L582.65 304.61 L582.71 303.96 L582.77 303.3 L582.84 302.65 L582.9 302 L582.96 301.34 L583.02 300.69 L583.08 300.03 L583.15 299.38 L583.21 298.72 L583.27 298.07 L583.33 297.41 L583.4 296.76 L583.46 296.11 L583.52 295.45 L583.58 294.8 L583.64 294.14 L583.71 293.49 L583.77 292.83 L583.83 292.18 L583.89 291.52 L583.96 290.87 L584.02 290.22 L584.08 289.56 L584.14 288.91 L584.21 288.32 L584.27 287.77 L584.33 287.22 L584.39 286.67 L584.45 286.12 L584.52 285.57 L584.58 285.02 L584.64 284.47 L584.7 283.92 L584.77 283.37 L584.83 282.81 L584.89 282.26 L584.95 281.71 L585.01 281.16 L585.08 280.61 L585.14 280.06 L585.2 279.51 L585.26 278.96 L585.33 278.41 L585.39 277.86 L585.45 277.3 L585.51 276.75 L585.57 276.2 L585.64 275.65 L585.7 275.1 L585.76 274.55 L585.82 274 L585.89 273.45 L585.95 272.9 L586.01 272.35 L586.07 271.79 L586.13 271.24 L586.2 270.69 L586.26 270.14 L586.32 269.59 L586.38 269.04 L586.45 268.49 L586.51 267.94 L586.57 267.39 L586.63 266.84 L586.7 266.28 L586.76 265.73 L586.82 265.18 L586.88 264.63 L586.94 264.08 L587.01 263.53 L587.07 262.98 L587.13 262.43 L587.19 261.88 L587.26 261.32 L587.32 260.77 L587.38 260.22 L587.44 259.67 L587.5 259.12 L587.57 258.57 L587.63 258.02 L587.69 257.47 L587.75 256.92 L587.82 256.37 L587.88 255.81 L587.94 255.27 L588 254.84 L588.06 254.41 L588.13 253.98 L588.19 253.54 L588.25 253.11 L588.31 252.68 L588.38 252.25 L588.44 251.82 L588.5 251.39 L588.56 250.95 L588.63 250.52 L588.69 250.09 L588.75 249.66 L588.81 249.23 L588.87 248.8 L588.94 248.37 L589 247.93 L589.06 247.5 L589.12 247.07 L589.19 246.64 L589.25 246.21 L589.31 245.78 L589.37 245.34 L589.43 244.91 L589.5 244.48 L589.56 244.05 L589.62 243.62 L589.68 243.19 L589.75 242.76 L589.81 242.32 L589.87 241.89 L589.93 241.46 L589.99 241.03 L590.06 240.6 L590.12 240.17 L590.18 239.73 L590.24 239.3 L590.31 238.87 L590.37 238.44 L590.43 238.01 L590.49 237.58 L590.55 237.15 L590.62 236.71 L590.68 236.28 L590.74 235.85 L590.8 235.42 L590.87 234.99 L590.93 234.56 L590.99 234.12 L591.05 233.69 L591.12 233.26 L591.18 232.83 L591.24 232.4 L591.3 231.97 L591.36 231.53 L591.43 231.1 L591.49 230.67 L591.55 230.24 L591.61 229.81 L591.68 229.38 L591.74 228.95 L591.8 228.51 L591.85 228.86 L591.9 229.2 L591.95 229.54 L592 229.88 L592.05 230.22 L592.1 230.57 L592.15 230.91 L592.19 231.25 L592.24 231.59 L592.29 231.93 L592.34 232.28 L592.39 232.62 L592.44 232.96 L592.49 233.3 L592.54 233.64 L592.59 233.99 L592.64 234.33 L592.69 234.67 L592.74 235.01 L592.79 235.35 L592.84 235.7 L592.89 236.04 L592.93 236.38 L592.98 236.72 L593.03 237.06 L593.08 237.41 L593.13 237.75 L593.18 238.09 L593.23 238.43 L593.28 238.77 L593.33 239.12 L593.38 239.46 L593.43 239.8 L593.48 240.14 L593.53 240.48 L593.58 240.83 L593.63 241.17 L593.67 241.51 L593.72 241.85 L593.77 242.19 L593.82 242.54 L593.87 242.88 L593.92 243.22 L593.97 243.56 L594.02 243.9 L594.07 244.25 L594.12 244.59 L594.17 244.93 L594.22 245.27 L594.27 245.61 L594.32 245.96 L594.37 246.3 L594.41 246.64 L594.46 246.98 L594.51 247.32 L594.56 247.67 L594.61 248.01 L594.66 248.35 L594.71 248.69 L594.76 249.03 L594.81 249.38 L594.86 249.72 L594.91 250.06 L594.96 250.4 L595.01 250.74 L595.06 251.09 L595.11 251.43 L595.15 251.77 L595.2 252.11 L595.25 252.45 L595.3 252.8 L595.35 253.14 L595.4 253.48 L595.45 253.82 L595.5 254.16 L595.55 254.51 L595.6 254.85 L595.65 255.19 L595.7 255.64 L595.75 256.13 L595.8 256.63 L595.85 257.13 L595.89 257.62 L595.94 258.12 L595.99 258.61 L596.04 259.11 L596.09 259.61 L596.14 260.1 L596.19 260.6 L596.24 261.09 L596.29 261.59 L596.34 262.09 L596.39 262.58 L596.44 263.08 L596.49 263.57 L596.54 264.07 L596.59 264.56 L596.63 265.06 L596.68 265.56 L596.73 266.05 L596.78 266.55 L596.83 267.04 L596.88 267.54 L596.93 268.04 L596.98 268.53 L597.03 269.03 L597.08 269.52 L597.13 270.02 L597.18 270.52 L597.23 271.01 L597.28 271.51 L597.33 272 L597.37 272.5 L597.42 273 L597.47 273.49 L597.52 273.99 L597.57 274.48 L597.62 274.98 L597.67 275.48 L597.72 275.97 L597.77 276.47 L597.82 276.96 L597.87 277.46 L597.92 277.96 L597.97 278.45 L598.02 278.95 L598.07 279.44 L598.11 279.94 L598.16 280.44 L598.21 280.93 L598.26 281.43 L598.31 281.92 L598.36 282.42 L598.41 282.92 L598.46 283.41 L598.51 283.91 L598.56 284.4 L598.61 284.9 L598.66 285.4 L598.71 285.89 L598.76 286.39 L598.81 286.88 L598.85 287.38 L598.9 287.88 L598.95 288.37 L599 288.87 L599.05 289.36 L599.1 289.86 L599.15 290.2 L599.2 290.54 L599.25 290.87 L599.3 291.2 L599.35 291.54 L599.4 291.87 L599.45 292.2 L599.5 292.53 L599.55 292.87 L599.59 293.2 L599.64 293.53 L599.69 293.87 L599.74 294.2 L599.79 294.53 L599.84 294.87 L599.89 295.2 L599.94 295.53 L599.99 295.86 L600.04 296.2 L600.09 296.53 L600.14 296.86 L600.19 297.2 L600.24 297.53 L600.29 297.86 L600.33 298.19 L600.38 298.53 L600.43 298.86 L600.48 299.19 L600.53 299.53 L600.58 299.86 L600.63 300.19 L600.68 300.52 L600.73 300.86 L600.78 301.19 L600.83 301.52 L600.88 301.86 L600.93 302.19 L600.98 302.52 L601.03 302.86 L601.07 303.19 L601.12 303.52 L601.17 303.85 L601.22 304.19 L601.27 304.52 L601.32 304.85 L601.37 305.19 L601.42 305.52 L601.47 305.85 L601.52 306.18 L601.57 306.52 L601.62 306.85 L601.67 307.18 L601.72 307.52 L601.77 307.85 L601.81 308.18 L601.86 308.51 L601.91 308.85 L601.96 309.18 L602.01 309.66 L602.06 310.27 L602.11 310.88 L602.16 311.48 L602.21 312.09 L602.26 312.7 L602.31 313.3 L602.36 313.91 L602.41 314.52 L602.46 315.12 L602.51 315.73 L602.55 316.34 L602.6 316.94 L602.65 317.55 L602.7 318.16 L602.75 318.76 L602.8 319.37 L602.85 319.98 L602.9 320.58 L602.95 321.19 L603 321.8 L603.05 322.4 L603.1 323.01 L603.15 323.62 L603.2 324.22 L603.25 324.83 L603.29 325.44 L603.34 326.04 L603.39 326.65 L603.44 327.26 L603.49 327.86 L603.54 328.47 L603.59 329.04 L603.64 329.59 L603.69 330.14 L603.74 330.68 L603.79 331.23 L603.84 331.77 L603.89 332.32 L603.94 332.87 L603.99 333.41 L604.03 333.96 L604.08 334.5 L604.13 335.05 L604.18 335.6 L604.23 336.14 L604.28 336.69 L604.33 337.23 L604.38 337.78 L604.43 338.33 L604.48 338.87 L604.53 339.42 L604.58 339.96 L604.63 340.51 L604.68 341.06 L604.73 341.6 L604.77 342.15 L604.82 342.69 L604.87 343.24 L604.92 343.79 L604.97 344.33 L605.02 344.88 L605.07 345.42 L605.12 345.97 L605.17 346.52 L605.22 347.06 L605.27 347.61 L605.32 348.15 L605.37 348.77 L605.42 349.38 L605.47 350 L605.51 350.62 L605.56 351.24 L605.61 351.86 L605.66 352.48 L605.71 353.09 L605.76 353.71 L605.81 354.33 L605.86 354.95 L605.91 355.57 L605.96 356.18 L606.01 356.8 L606.06 357.42 L606.11 358.04 L606.16 358.66 L606.21 359.28 L606.25 359.89 L606.3 360.51 L606.35 361.13 L606.4 361.75 L606.45 362.37 L606.5 362.99 L606.55 363.6" fill="none" stroke="#e9c46a" stroke-width="1.0"/>
<g fill="#fff" stroke="#e9c46a" stroke-width="1.0">
<path d="M571.06 362.66a2.13 2.13 0 1 0 4.26 0a2.13 2.13 0 1 0 -4.26 0Z"/>
<path d="M571.41 361.09a2.13 2.13 0 1 0 4.26 0a2.13 2.13 0 1 0 -4.26 0Z"/>
<path d="M571.72 359.53a2.13 2.13 0 1 0 4.26 0a2.13 2.13 0 1 0 -4.26 0Z"/>
<path d="M572 357.95a2.13 2.13 0 1 0 4.26 0a2.13 2.13 0 1 0 -4.26 0Z"/>
<path d="M572.29 356.38a2.13 2.13 0 1 0 4.26 0a2.13 2.13 0 1 0 -4.26 0Z"/>
<path d="M572.57 354.8a2.13 2.13 0 1 0 4.26 0a2.13 2.13 0 1 0 -4.26 0Z"/>
<path d="M572.85 353.23a2.13 2.13 0 1 0 4.26 0a2.13 2.13 0 1 0 -4.26 0Z"/>
<path d="M573.14 351.65a2.13 2.13 0 1 0 4.26 0a2.13 2.13 0 1 0 -4.26 0Z"/>
<path d="M573.44 350.08a2.13 2.13 0 1 0 4.26 0a2.13 2.13 0 1 0 -4.26 0Z"/>
<path d="M573.74 348.51a2.13 2.13 0 1 0 4.26 0a2.13 2.13 0 1 0 -4.26 0Z"/>
<path d="M574.04 346.94a2.13 2.13 0 1 0 4.26 0a2.13 2.13 0 1 0 -4.26 0Z"/>
<path d="M574.34 345.37a2.13 2.13 0 1 0 4.26 0a2.13 2.13 0 1 0 -4.26 0Z"/>
<path d="M574.64 343.79a2.13 2.13 0 1 0 4.26 0a2.13 2.13 0 1 0 -4.26 0Z"/>
<path d="M574.91 342.22a2.13 2.13 0 1 0 4.26 0a2.13 2.13 0 1 0 -4.26 0Z"/>
<path d="M575.19 340.64a2.13 2.13 0 1 0 4.26 0a2.13 2.13 0 1 0 -4.26 0Z"/>
<path d="M575.46 339.07a2.13 2.13 0 1 0 4.26 0a2.13 2.13 0 1 0 -4.26 0Z"/>
<path d="M575.74 337.49a2.13 2.13 0 1 0 4.26 0a2.13 2.13 0 1 0 -4.26 0Z"/>
<path d="M576.02 335.91a2.13 2.13 0 1 0 4.26 0a2.13 2.13 0 1 0 -4.26 0Z"/>
<path d="M576.29 334.34a2.13 2.13 0 1 0 4.26 0a2.13 2.13 0 1 0 -4.26 0Z"/>
<path d="M576.57 332.76a2.13 2.13 0 1 0 4.26 0a2.13 2.13 0 1 0 -4.26 0Z"/>
<path d="M576.84 331.19a2.13 2.13 0 1 0 4.26 0a2.13 2.13 0 1 0 -4.26 0Z"/>
<path d="M577.09 329.61a2.13 2.13 0 1 0 4.26 0a2.13 2.13 0 1 0 -4.26 0Z"/>
<path d="M577.34 328.02a2.13 2.13 0 1 0 4.26 0a2.13 2.13 0 1 0 -4.26 0Z"/>
<path d="M577.59 326.44a2.13 2.13 0 1 0 4.26 0a2.13 2.13 0 1 0 -4.26 0Z"/>
<path d="M577.84 324.86a2.13 2.13 0 1 0 4.26 0a2.13 2.13 0 1 0 -4.26 0Z"/>
<path d="M578.09 323.28a2.13 2.13 0 1 0 4.26 0a2.13 2.13 0 1 0 -4.26 0Z"/>
<path d="M578.34 321.7a2.13 2.13 0 1 0 4.26 0a2.13 2.13 0 1 0 -4.26 0Z"/>
<path d="M578.59 320.12a2.13 2.13 0 1 0 4.26 0a2.13 2.13 0 1 0 -4.26 0Z"/>
<path d="M578.8 318.54a2.13 2.13 0 1 0 4.26 0a2.13 2.13 0 1 0 -4.26 0Z"/>
<path d="M579 316.95a2.13 2.13 0 1 0 4.26 0a2.13 2.13 0 1 0 -4.26 0Z"/>
<path d="M579.2 315.36a2.13 2.13 0 1 0 4.26 0a2.13 2.13 0 1 0 -4.26 0Z"/>
<path d="M579.4 313.77a2.13 2.13 0 1 0 4.26 0a2.13 2.13 0 1 0 -4.26 0Z"/>
<path d="M579.61 312.19a2.13 2.13 0 1 0 4.26 0a2.13 2.13 0 1 0 -4.26 0Z"/>
<path d="M579.81 310.6a2.13 2.13 0 1 0 4.26 0a2.13 2.13 0 1 0 -4.26 0Z"/>
<path d="M580.01 309.01a2.13 2.13 0 1 0 4.26 0a2.13 2.13 0 1 0 -4.26 0Z"/>
<path d="M580.21 307.43a2.13 2.13 0 1 0 4.26 0a2.13 2.13 0 1 0 -4.26 0Z"/>
<path d="M580.4 305.84a2.13 2.13 0 1 0 4.26 0a2.13 2.13 0 1 0 -4.26 0Z"/>
<path d="M580.56 304.24a2.13 2.13 0 1 0 4.26 0a2.13 2.13 0 1 0 -4.26 0Z"/>
<path d="M580.71 302.65a2.13 2.13 0 1 0 4.26 0a2.13 2.13 0 1 0 -4.26 0Z"/>
<path d="M580.86 301.06a2.13 2.13 0 1 0 4.26 0a2.13 2.13 0 1 0 -4.26 0Z"/>
<path d="M581.01 299.47a2.13 2.13 0 1 0 4.26 0a2.13 2.13 0 1 0 -4.26 0Z"/>
<path d="M581.16 297.87a2.13 2.13 0 1 0 4.26 0a2.13 2.13 0 1 0 -4.26 0Z"/>
<path d="M581.31 296.28a2.13 2.13 0 1 0 4.26 0a2.13 2.13 0 1 0 -4.26 0Z"/>
<path d="M581.46 294.69a2.13 2.13 0 1 0 4.26 0a2.13 2.13 0 1 0 -4.26 0Z"/>
<path d="M581.62 293.1a2.13 2.13 0 1 0 4.26 0a2.13 2.13 0 1 0 -4.26 0Z"/>
<path d="M581.77 291.5a2.13 2.13 0 1 0 4.26 0a2.13 2.13 0 1 0 -4.26 0Z"/>
<path d="M581.92 289.91a2.13 2.13 0 1 0 4.26 0a2.13 2.13 0 1 0 -4.26 0Z"/>
<path d="M582.08 288.32a2.13 2.13 0 1 0 4.26 0a2.13 2.13 0 1 0 -4.26 0Z"/>
<path d="M582.26 286.73a2.13 2.13 0 1 0 4.26 0a2.13 2.13 0 1 0 -4.26 0Z"/>
<path d="M582.44 285.14a2.13 2.13 0 1 0 4.26 0a2.13 2.13 0 1 0 -4.26 0Z"/>
<path d="M582.62 283.55a2.13 2.13 0 1 0 4.26 0a2.13 2.13 0 1 0 -4.26 0Z"/>
<path d="M582.8 281.96a2.13 2.13 0 1 0 4.26 0a2.13 2.13 0 1 0 -4.26 0Z"/>
<path d="M582.98 280.37a2.13 2.13 0 1 0 4.26 0a2.13 2.13 0 1 0 -4.26 0Z"/>
<path d="M583.16 278.78a2.13 2.13 0 1 0 4.26 0a2.13 2.13 0 1 0 -4.26 0Z"/>
<path d="M583.34 277.19a2.13 2.13 0 1 0 4.26 0a2.13 2.13 0 1 0 -4.26 0Z"/>
<path d="M583.51 275.6a2.13 2.13 0 1 0 4.26 0a2.13 2.13 0 1 0 -4.26 0Z"/>
<path d="M583.69 274.01a2.13 2.13 0 1 0 4.26 0a2.13 2.13 0 1 0 -4.26 0Z"/>
<path d="M583.87 272.42a2.13 2.13 0 1 0 4.26 0a2.13 2.13 0 1 0 -4.26 0Z"/>
<path d="M584.05 270.83a2.13 2.13 0 1 0 4.26 0a2.13 2.13 0 1 0 -4.26 0Z"/>
<path d="M584.23 269.24a2.13 2.13 0 1 0 4.26 0a2.13 2.13 0 1 0 -4.26 0Z"/>
<path d="M584.41 267.65a2.13 2.13 0 1 0 4.26 0a2.13 2.13 0 1 0 -4.26 0Z"/>
<path d="M584.59 266.06a2.13 2.13 0 1 0 4.26 0a2.13 2.13 0 1 0 -4.26 0Z"/>
<path d="M584.77 264.47a2.13 2.13 0 1 0 4.26 0a2.13 2.13 0 1 0 -4.26 0Z"/>
<path d="M584.95 262.88a2.13 2.13 0 1 0 4.26 0a2.13 2.13 0 1 0 -4.26 0Z"/>
<path d="M585.13 261.29a2.13 2.13 0 1 0 4.26 0a2.13 2.13 0 1 0 -4.26 0Z"/>
<path d="M585.31 259.7a2.13 2.13 0 1 0 4.26 0a2.13 2.13 0 1 0 -4.26 0Z"/>
<path d="M585.49 258.11a2.13 2.13 0 1 0 4.26 0a2.13 2.13 0 1 0 -4.26 0Z"/>
<path d="M585.67 256.52a2.13 2.13 0 1 0 4.26 0a2.13 2.13 0 1 0 -4.26 0Z"/>
<path d="M585.86 254.93a2.13 2.13 0 1 0 4.26 0a2.13 2.13 0 1 0 -4.26 0Z"/>
<path d="M586.09 253.35a2.13 2.13 0 1 0 4.26 0a2.13 2.13 0 1 0 -4.26 0Z"/>
<path d="M586.32 251.76a2.13 2.13 0 1 0 4.26 0a2.13 2.13 0 1 0 -4.26 0Z"/>
<path d="M586.55 250.18a2.13 2.13 0 1 0 4.26 0a2.13 2.13 0 1 0 -4.26 0Z"/>
<path d="M586.78 248.6a2.13 2.13 0 1 0 4.26 0a2.13 2.13 0 1 0 -4.26 0Z"/>
<path d="M587 247.01a2.13 2.13 0 1 0 4.26 0a2.13 2.13 0 1 0 -4.26 0Z"/>
<path d="M587.23 245.43a2.13 2.13 0 1 0 4.26 0a2.13 2.13 0 1 0 -4.26 0Z"/>
<path d="M587.46 243.85a2.13 2.13 0 1 0 4.26 0a2.13 2.13 0 1 0 -4.26 0Z"/>
<path d="M587.69 242.26a2.13 2.13 0 1 0 4.26 0a2.13 2.13 0 1 0 -4.26 0Z"/>
<path d="M587.92 240.68a2.13 2.13 0 1 0 4.26 0a2.13 2.13 0 1 0 -4.26 0Z"/>
<path d="M588.15 239.1a2.13 2.13 0 1 0 4.26 0a2.13 2.13 0 1 0 -4.26 0Z"/>
<path d="M588.37 237.51a2.13 2.13 0 1 0 4.26 0a2.13 2.13 0 1 0 -4.26 0Z"/>
<path d="M588.6 235.93a2.13 2.13 0 1 0 4.26 0a2.13 2.13 0 1 0 -4.26 0Z"/>
<path d="M588.83 234.34a2.13 2.13 0 1 0 4.26 0a2.13 2.13 0 1 0 -4.26 0Z"/>
<path d="M589.06 232.76a2.13 2.13 0 1 0 4.26 0a2.13 2.13 0 1 0 -4.26 0Z"/>
<path d="M589.29 231.18a2.13 2.13 0 1 0 4.26 0a2.13 2.13 0 1 0 -4.26 0Z"/>
<path d="M589.52 229.59a2.13 2.13 0 1 0 4.26 0a2.13 2.13 0 1 0 -4.26 0Z"/>
<path d="M589.74 229.02a2.13 2.13 0 1 0 4.26 0a2.13 2.13 0 1 0 -4.26 0Z"/>
<path d="M589.97 230.6a2.13 2.13 0 1 0 4.26 0a2.13 2.13 0 1 0 -4.26 0Z"/>
<path d="M590.2 232.19a2.13 2.13 0 1 0 4.26 0a2.13 2.13 0 1 0 -4.26 0Z"/>
<path d="M590.43 233.77a2.13 2.13 0 1 0 4.26 0a2.13 2.13 0 1 0 -4.26 0Z"/>
<path d="M590.66 235.35a2.13 2.13 0 1 0 4.26 0a2.13 2.13 0 1 0 -4.26 0Z"/>
<path d="M590.89 236.94a2.13 2.13 0 1 0 4.26 0a2.13 2.13 0 1 0 -4.26 0Z"/>
<path d="M591.12 238.52a2.13 2.13 0 1 0 4.26 0a2.13 2.13 0 1 0 -4.26 0Z"/>
<path d="M591.34 240.1a2.13 2.13 0 1 0 4.26 0a2.13 2.13 0 1 0 -4.26 0Z"/>
<path d="M591.57 241.69a2.13 2.13 0 1 0 4.26 0a2.13 2.13 0 1 0 -4.26 0Z"/>
<path d="M591.8 243.27a2.13 2.13 0 1 0 4.26 0a2.13 2.13 0 1 0 -4.26 0Z"/>
<path d="M592.03 244.85a2.13 2.13 0 1 0 4.26 0a2.13 2.13 0 1 0 -4.26 0Z"/>
<path d="M592.26 246.44a2.13 2.13 0 1 0 4.26 0a2.13 2.13 0 1 0 -4.26 0Z"/>
<path d="M592.49 248.02a2.13 2.13 0 1 0 4.26 0a2.13 2.13 0 1 0 -4.26 0Z"/>
<path d="M592.71 249.61a2.13 2.13 0 1 0 4.26 0a2.13 2.13 0 1 0 -4.26 0Z"/>
<path d="M592.94 251.19a2.13 2.13 0 1 0 4.26 0a2.13 2.13 0 1 0 -4.26 0Z"/>
<path d="M593.17 252.77a2.13 2.13 0 1 0 4.26 0a2.13 2.13 0 1 0 -4.26 0Z"/>
<path d="M593.4 254.36a2.13 2.13 0 1 0 4.26 0a2.13 2.13 0 1 0 -4.26 0Z"/>
<path d="M593.6 255.94a2.13 2.13 0 1 0 4.26 0a2.13 2.13 0 1 0 -4.26 0Z"/>
<path d="M593.76 257.54a2.13 2.13 0 1 0 4.26 0a2.13 2.13 0 1 0 -4.26 0Z"/>
<path d="M593.92 259.13a2.13 2.13 0 1 0 4.26 0a2.13 2.13 0 1 0 -4.26 0Z"/>
<path d="M594.07 260.72a2.13 2.13 0 1 0 4.26 0a2.13 2.13 0 1 0 -4.26 0Z"/>
<path d="M594.23 262.31a2.13 2.13 0 1 0 4.26 0a2.13 2.13 0 1 0 -4.26 0Z"/>
<path d="M594.39 263.9a2.13 2.13 0 1 0 4.26 0a2.13 2.13 0 1 0 -4.26 0Z"/>
<path d="M594.55 265.5a2.13 2.13 0 1 0 4.26 0a2.13 2.13 0 1 0 -4.26 0Z"/>
<path d="M594.71 267.09a2.13 2.13 0 1 0 4.26 0a2.13 2.13 0 1 0 -4.26 0Z"/>
<path d="M594.87 268.68a2.13 2.13 0 1 0 4.26 0a2.13 2.13 0 1 0 -4.26 0Z"/>
<path d="M595.02 270.27a2.13 2.13 0 1 0 4.26 0a2.13 2.13 0 1 0 -4.26 0Z"/>
<path d="M595.18 271.86a2.13 2.13 0 1 0 4.26 0a2.13 2.13 0 1 0 -4.26 0Z"/>
<path d="M595.34 273.46a2.13 2.13 0 1 0 4.26 0a2.13 2.13 0 1 0 -4.26 0Z"/>
<path d="M595.5 275.05a2.13 2.13 0 1 0 4.26 0a2.13 2.13 0 1 0 -4.26 0Z"/>
<path d="M595.66 276.64a2.13 2.13 0 1 0 4.26 0a2.13 2.13 0 1 0 -4.26 0Z"/>
<path d="M595.82 278.23a2.13 2.13 0 1 0 4.26 0a2.13 2.13 0 1 0 -4.26 0Z"/>
<path d="M595.98 279.83a2.13 2.13 0 1 0 4.26 0a2.13 2.13 0 1 0 -4.26 0Z"/>
<path d="M596.13 281.42a2.13 2.13 0 1 0 4.26 0a2.13 2.13 0 1 0 -4.26 0Z"/>
<path d="M596.29 283.01a2.13 2.13 0 1 0 4.26 0a2.13 2.13 0 1 0 -4.26 0Z"/>
<path d="M596.45 284.6a2.13 2.13 0 1 0 4.26 0a2.13 2.13 0 1 0 -4.26 0Z"/>
<path d="M596.61 286.19a2.13 2.13 0 1 0 4.26 0a2.13 2.13 0 1 0 -4.26 0Z"/>
<path d="M596.77 287.79a2.13 2.13 0 1 0 4.26 0a2.13 2.13 0 1 0 -4.26 0Z"/>
<path d="M596.93 289.38a2.13 2.13 0 1 0 4.26 0a2.13 2.13 0 1 0 -4.26 0Z"/>
<path d="M597.14 290.96a2.13 2.13 0 1 0 4.26 0a2.13 2.13 0 1 0 -4.26 0Z"/>
<path d="M597.37 292.55a2.13 2.13 0 1 0 4.26 0a2.13 2.13 0 1 0 -4.26 0Z"/>
<path d="M597.6 294.13a2.13 2.13 0 1 0 4.26 0a2.13 2.13 0 1 0 -4.26 0Z"/>
<path d="M597.84 295.71a2.13 2.13 0 1 0 4.26 0a2.13 2.13 0 1 0 -4.26 0Z"/>
<path d="M598.07 297.29a2.13 2.13 0 1 0 4.26 0a2.13 2.13 0 1 0 -4.26 0Z"/>
<path d="M598.31 298.88a2.13 2.13 0 1 0 4.26 0a2.13 2.13 0 1 0 -4.26 0Z"/>
<path d="M598.54 300.46a2.13 2.13 0 1 0 4.26 0a2.13 2.13 0 1 0 -4.26 0Z"/>
<path d="M598.78 302.04a2.13 2.13 0 1 0 4.26 0a2.13 2.13 0 1 0 -4.26 0Z"/>
<path d="M599.01 303.63a2.13 2.13 0 1 0 4.26 0a2.13 2.13 0 1 0 -4.26 0Z"/>
<path d="M599.25 305.21a2.13 2.13 0 1 0 4.26 0a2.13 2.13 0 1 0 -4.26 0Z"/>
<path d="M599.48 306.79a2.13 2.13 0 1 0 4.26 0a2.13 2.13 0 1 0 -4.26 0Z"/>
<path d="M599.71 308.37a2.13 2.13 0 1 0 4.26 0a2.13 2.13 0 1 0 -4.26 0Z"/>
<path d="M599.91 309.96a2.13 2.13 0 1 0 4.26 0a2.13 2.13 0 1 0 -4.26 0Z"/>
<path d="M600.04 311.56a2.13 2.13 0 1 0 4.26 0a2.13 2.13 0 1 0 -4.26 0Z"/>
<path d="M600.17 313.15a2.13 2.13 0 1 0 4.26 0a2.13 2.13 0 1 0 -4.26 0Z"/>
<path d="M600.3 314.75a2.13 2.13 0 1 0 4.26 0a2.13 2.13 0 1 0 -4.26 0Z"/>
<path d="M600.43 316.34a2.13 2.13 0 1 0 4.26 0a2.13 2.13 0 1 0 -4.26 0Z"/>
<path d="M600.56 317.94a2.13 2.13 0 1 0 4.26 0a2.13 2.13 0 1 0 -4.26 0Z"/>
<path d="M600.69 319.53a2.13 2.13 0 1 0 4.26 0a2.13 2.13 0 1 0 -4.26 0Z"/>
<path d="M600.82 321.12a2.13 2.13 0 1 0 4.26 0a2.13 2.13 0 1 0 -4.26 0Z"/>
<path d="M600.95 322.72a2.13 2.13 0 1 0 4.26 0a2.13 2.13 0 1 0 -4.26 0Z"/>
<path d="M601.08 324.31a2.13 2.13 0 1 0 4.26 0a2.13 2.13 0 1 0 -4.26 0Z"/>
<path d="M601.2 325.91a2.13 2.13 0 1 0 4.26 0a2.13 2.13 0 1 0 -4.26 0Z"/>
<path d="M601.33 327.5a2.13 2.13 0 1 0 4.26 0a2.13 2.13 0 1 0 -4.26 0Z"/>
<path d="M601.47 329.1a2.13 2.13 0 1 0 4.26 0a2.13 2.13 0 1 0 -4.26 0Z"/>
<path d="M601.61 330.69a2.13 2.13 0 1 0 4.26 0a2.13 2.13 0 1 0 -4.26 0Z"/>
<path d="M601.76 332.29a2.13 2.13 0 1 0 4.26 0a2.13 2.13 0 1 0 -4.26 0Z"/>
<path d="M601.9 333.88a2.13 2.13 0 1 0 4.26 0a2.13 2.13 0 1 0 -4.26 0Z"/>
<path d="M602.04 335.47a2.13 2.13 0 1 0 4.26 0a2.13 2.13 0 1 0 -4.26 0Z"/>
<path d="M602.19 337.07a2.13 2.13 0 1 0 4.26 0a2.13 2.13 0 1 0 -4.26 0Z"/>
<path d="M602.33 338.66a2.13 2.13 0 1 0 4.26 0a2.13 2.13 0 1 0 -4.26 0Z"/>
<path d="M602.48 340.25a2.13 2.13 0 1 0 4.26 0a2.13 2.13 0 1 0 -4.26 0Z"/>
<path d="M602.62 341.85a2.13 2.13 0 1 0 4.26 0a2.13 2.13 0 1 0 -4.26 0Z"/>
<path d="M602.76 343.44a2.13 2.13 0 1 0 4.26 0a2.13 2.13 0 1 0 -4.26 0Z"/>
<path d="M602.91 345.03a2.13 2.13 0 1 0 4.26 0a2.13 2.13 0 1 0 -4.26 0Z"/>
<path d="M603.05 346.63a2.13 2.13 0 1 0 4.26 0a2.13 2.13 0 1 0 -4.26 0Z"/>
<path d="M603.19 348.22a2.13 2.13 0 1 0 4.26 0a2.13 2.13 0 1 0 -4.26 0Z"/>
<path d="M603.32 349.82a2.13 2.13 0 1 0 4.26 0a2.13 2.13 0 1 0 -4.26 0Z"/>
<path d="M603.45 351.41a2.13 2.13 0 1 0 4.26 0a2.13 2.13 0 1 0 -4.26 0Z"/>
<path d="M603.58 353a2.13 2.13 0 1 0 4.26 0a2.13 2.13 0 1 0 -4.26 0Z"/>
<path d="M603.7 354.6a2.13 2.13 0 1 0 4.26 0a2.13 2.13 0 1 0 -4.26 0Z"/>
<path d="M603.83 356.19a2.13 2.13 0 1 0 4.26 0a2.13 2.13 0 1 0 -4.26 0Z"/>
<path d="M603.96 357.79a2.13 2.13 0 1 0 4.26 0a2.13 2.13 0 1 0 -4.26 0Z"/>
<path d="M604.09 359.38a2.13 2.13 0 1 0 4.26 0a2.13 2.13 0 1 0 -4.26 0Z"/>
<path d="M604.21 360.98a2.13 2.13 0 1 0 4.26 0a2.13 2.13 0 1 0 -4.26 0Z"/>
<path d="M604.34 362.57a2.13 2.13 0 1 0 4.26 0a2.13 2.13 0 1 0 -4.26 0Z"/>
</g>
<path d="M582.67 371.92 L582.76 369.13 L582.85 366.38 L582.94 363.65 L583.04 360.95 L583.13 358.28 L583.22 355.64 L583.31 353.03 L583.4 350.44 L583.49 347.88 L583.59 345.35 L583.68 342.85 L583.77 340.38 L583.86 337.93 L583.95 335.51 L584.05 333.12 L584.14 330.76 L584.23 328.43 L584.32 326.12 L584.41 323.85 L584.5 321.6 L584.6 319.38 L584.69 317.18 L584.78 315.02 L584.87 312.88 L584.96 310.77 L585.05 308.69 L585.15 306.64 L585.24 304.62 L585.33 302.62 L585.42 300.65 L585.51 298.71 L585.61 296.8 L585.7 294.92 L585.79 293.06 L585.88 291.24 L585.97 289.44 L586.06 287.66 L586.16 285.92 L586.25 284.21 L586.34 282.52 L586.43 280.86 L586.52 279.23 L586.61 277.63 L586.71 276.05 L586.8 274.51 L586.89 272.99 L586.98 271.5 L587.07 270.04 L587.17 268.6 L587.26 267.2 L587.35 265.82 L587.44 264.47 L587.53 263.15 L587.62 261.86 L587.72 260.59 L587.81 259.36 L587.9 258.15 L587.99 256.97 L588.08 255.81 L588.18 254.69 L588.27 253.59 L588.36 252.52 L588.45 251.48 L588.54 250.47 L588.63 249.49 L588.73 248.53 L588.82 247.61 L588.91 246.71 L589 245.83 L589.09 244.99 L589.18 244.18 L589.28 243.39 L589.37 242.63 L589.46 241.9 L589.55 241.2 L589.64 240.52 L589.74 239.87 L589.83 239.26 L589.92 238.67 L590.01 238.1 L590.1 237.57 L590.19 237.06 L590.29 236.59 L590.38 236.14 L590.47 235.71 L590.56 235.32 L590.65 234.95 L590.74 234.62 L590.84 234.31 L590.93 234.03 L591.02 233.77 L591.11 233.55 L591.2 233.35 L591.3 233.18 L591.39 233.04 L591.48 232.93 L591.57 232.85 L591.66 232.79 L591.75 232.76 L591.85 232.76 L591.94 232.79 L592.03 232.85 L592.12 232.93 L592.21 233.04 L592.3 233.18 L592.4 233.35 L592.49 233.55 L592.58 233.77 L592.67 234.03 L592.76 234.31 L592.86 234.62 L592.95 234.95 L593.04 235.32 L593.13 235.71 L593.22 236.14 L593.31 236.59 L593.41 237.06 L593.5 237.57 L593.59 238.1 L593.68 238.67 L593.77 239.26 L593.86 239.87 L593.96 240.52 L594.05 241.2 L594.14 241.9 L594.23 242.63 L594.32 243.39 L594.42 244.18 L594.51 244.99 L594.6 245.83 L594.69 246.71 L594.78 247.61 L594.87 248.53 L594.97 249.49 L595.06 250.47 L595.15 251.48 L595.24 252.52 L595.33 253.59 L595.42 254.69 L595.52 255.81 L595.61 256.97 L595.7 258.15 L595.79 259.36 L595.88 260.59 L595.98 261.86 L596.07 263.15 L596.16 264.47 L596.25 265.82 L596.34 267.2 L596.43 268.6 L596.53 270.04 L596.62 271.5 L596.71 272.99 L596.8 274.51 L596.89 276.05 L596.99 277.63 L597.08 279.23 L597.17 280.86 L597.26 282.52 L597.35 284.21 L597.44 285.92 L597.54 287.66 L597.63 289.44 L597.72 291.24 L597.81 293.06 L597.9 294.92 L597.99 296.8 L598.09 298.71 L598.18 300.65 L598.27 302.62 L598.36 304.62 L598.45 306.64 L598.55 308.69 L598.64 310.77 L598.73 312.88 L598.82 315.02 L598.91 317.18 L599 319.38 L599.1 321.6 L599.19 323.85 L599.28 326.12 L599.37 328.43 L599.46 330.76 L599.55 333.12 L599.65 335.51 L599.74 337.93 L599.83 340.38 L599.92 342.85 L600.01 345.35 L600.11 347.88 L600.2 350.44 L600.29 353.03 L600.38 355.64 L600.47 358.28 L600.56 360.95 L600.66 363.65 L600.75 366.38 L600.84 369.13 L600.93 371.92" fill="none" stroke="#000" stroke-width="1.0" stroke-dasharray="2.5,1,0.8,1"/>
</g>
<text x="512.8" y="233.8" font-size="17.5" text-anchor="start" fill="#262626" style="font-family:'Liberation Serif',serif" textLength="20.4" lengthAdjust="spacing" >(<tspan font-style="italic">f</tspan>)</text>
<text x="516.3" y="267.9" font-size="15.5" text-anchor="start" fill="#262626" style="font-family:'Liberation Serif',serif" >De</text>
<path d="M539.6 262.4h10.2M539.6 265.45h10.2" stroke="#1a1a1a" stroke-width="0.85"/>
<text x="554.9" y="267.9" font-size="15.5" text-anchor="start" fill="#262626" style="font-family:'Liberation Serif',serif" >9</text>
<text x="641.42" y="232.6" font-size="13.094999999999999" text-anchor="start" fill="#262626" style="font-style:italic;font-family:'Liberation Serif',serif" >r</text>
<path d="M649.28 235.9L654.03 223.09" stroke="#262626" stroke-width="0.82"/>
<text x="655.1" y="232.6" font-size="13.094999999999999" text-anchor="start" fill="#262626" style="font-style:italic;font-family:'Liberation Serif',serif" >L</text>
<path d="M629.2 244.8 L639.8 244.8" fill="none" stroke="#264653" stroke-width="1.1"/>
<path d="M634.5 242.17L636.79 246.12L632.21 246.12Z" fill="#fff" stroke="none"/>
<path d="M634.5 242.17L636.79 246.12L632.21 246.12Z" fill="none" stroke="#264653" stroke-width="1.1"/>
<text x="640.6" y="248.9" font-size="12.6" text-anchor="start" fill="#262626" style="font-family:'Liberation Serif',serif" >0.001</text>
<path d="M629.2 259.6 L639.8 259.6" fill="none" stroke="#2a9d8f" stroke-width="1.1"/>
<path d="M632.97 258.07h3.06v3.06h-3.06Z" fill="#fff" stroke="none"/>
<path d="M632.97 258.07h3.06v3.06h-3.06Z" fill="none" stroke="#2a9d8f" stroke-width="1.1"/>
<text x="640.6" y="263.7" font-size="12.6" text-anchor="start" fill="#262626" style="font-family:'Liberation Serif',serif" >0.004</text>
<path d="M629.2 274.4 L639.8 274.4" fill="none" stroke="#8ab17d" stroke-width="1.1"/>
<path d="M634.5 271.68L636.28 274.4L634.5 277.12L632.72 274.4Z" fill="#fff" stroke="none"/>
<path d="M634.5 271.68L636.28 274.4L634.5 277.12L632.72 274.4Z" fill="none" stroke="#8ab17d" stroke-width="1.1"/>
<text x="640.6" y="278.5" font-size="12.6" text-anchor="start" fill="#262626" style="font-family:'Liberation Serif',serif" >0.020</text>
<path d="M629.2 289.2 L639.8 289.2" fill="none" stroke="#e9c46a" stroke-width="1.1"/>
<path d="M632.88 289.2a1.61 1.61 0 1 0 3.23 0a1.61 1.61 0 1 0 -3.23 0Z" fill="#fff" stroke="none"/>
<path d="M632.88 289.2a1.61 1.61 0 1 0 3.23 0a1.61 1.61 0 1 0 -3.23 0Z" fill="none" stroke="#e9c46a" stroke-width="1.1"/>
<text x="640.6" y="293.3" font-size="12.6" text-anchor="start" fill="#262626" style="font-family:'Liberation Serif',serif" >0.0732</text>
<rect x="504" y="217" width="175.8" height="148.5" fill="none" stroke="#4a4a4a" stroke-width="1.0"/>
<path d="M504 365.5v-2.3M504 217v2.3M591.8 365.5v-2.3M591.8 217v2.3M679.6 365.5v-2.3M679.6 217v2.3" stroke="#4a4a4a" stroke-width="1.0" fill="none"/>
<path d="M504 365.5h2.3M679.8 365.5h-2.3M504 341.8h2.3M679.8 341.8h-2.3M504 318.1h2.3M679.8 318.1h-2.3M504 294.4h2.3M679.8 294.4h-2.3M504 270.7h2.3M679.8 270.7h-2.3M504 247h2.3M679.8 247h-2.3M504 223.3h2.3M679.8 223.3h-2.3" stroke="#4a4a4a" stroke-width="1.0" fill="none"/>
<path d="M504 358.37h1.3M679.8 358.37h-1.3M504 354.19h1.3M679.8 354.19h-1.3M504 351.23h1.3M679.8 351.23h-1.3M504 348.93h1.3M679.8 348.93h-1.3M504 347.06h1.3M679.8 347.06h-1.3M504 345.47h1.3M679.8 345.47h-1.3M504 344.1h1.3M679.8 344.1h-1.3M504 342.88h1.3M679.8 342.88h-1.3M504 334.67h1.3M679.8 334.67h-1.3M504 330.49h1.3M679.8 330.49h-1.3M504 327.53h1.3M679.8 327.53h-1.3M504 325.23h1.3M679.8 325.23h-1.3M504 323.36h1.3M679.8 323.36h-1.3M504 321.77h1.3M679.8 321.77h-1.3M504 320.4h1.3M679.8 320.4h-1.3M504 319.18h1.3M679.8 319.18h-1.3M504 310.97h1.3M679.8 310.97h-1.3M504 306.79h1.3M679.8 306.79h-1.3M504 303.83h1.3M679.8 303.83h-1.3M504 301.53h1.3M679.8 301.53h-1.3M504 299.66h1.3M679.8 299.66h-1.3M504 298.07h1.3M679.8 298.07h-1.3M504 296.7h1.3M679.8 296.7h-1.3M504 295.48h1.3M679.8 295.48h-1.3M504 287.27h1.3M679.8 287.27h-1.3M504 283.09h1.3M679.8 283.09h-1.3M504 280.13h1.3M679.8 280.13h-1.3M504 277.83h1.3M679.8 277.83h-1.3M504 275.96h1.3M679.8 275.96h-1.3M504 274.37h1.3M679.8 274.37h-1.3M504 273h1.3M679.8 273h-1.3M504 271.78h1.3M679.8 271.78h-1.3M504 263.57h1.3M679.8 263.57h-1.3M504 259.39h1.3M679.8 259.39h-1.3M504 256.43h1.3M679.8 256.43h-1.3M504 254.13h1.3M679.8 254.13h-1.3M504 252.26h1.3M679.8 252.26h-1.3M504 250.67h1.3M679.8 250.67h-1.3M504 249.3h1.3M679.8 249.3h-1.3M504 248.08h1.3M679.8 248.08h-1.3M504 239.87h1.3M679.8 239.87h-1.3M504 235.69h1.3M679.8 235.69h-1.3M504 232.73h1.3M679.8 232.73h-1.3M504 230.43h1.3M679.8 230.43h-1.3M504 228.56h1.3M679.8 228.56h-1.3M504 226.97h1.3M679.8 226.97h-1.3M504 225.6h1.3M679.8 225.6h-1.3M504 224.38h1.3M679.8 224.38h-1.3" stroke="#4a4a4a" stroke-width="1.0" fill="none"/>
<text x="504" y="378" font-size="10.8" text-anchor="middle" fill="#262626" style="font-family:'Liberation Serif',serif" >&#8722;50</text>
<text x="591.8" y="378" font-size="10.8" text-anchor="middle" fill="#262626" style="font-family:'Liberation Serif',serif" >0</text>
<text x="679.6" y="378" font-size="10.8" text-anchor="middle" fill="#262626" style="font-family:'Liberation Serif',serif" >50</text>
<text x="485.8" y="226.3" font-size="10.6" fill="#262626" style="font-family:'Liberation Serif',serif">10<tspan font-size="7.4" dx="0.5" dy="-3.7">0</tspan></text>
<text x="481.21" y="273.7" font-size="10.6" fill="#262626" style="font-family:'Liberation Serif',serif">10<tspan font-size="7.4" dx="0.5" dy="-3.7">&#8722;2</tspan></text>
<text x="481.21" y="321.1" font-size="10.6" fill="#262626" style="font-family:'Liberation Serif',serif">10<tspan font-size="7.4" dx="0.5" dy="-3.7">&#8722;4</tspan></text>
<text x="481.21" y="368.5" font-size="10.6" fill="#262626" style="font-family:'Liberation Serif',serif">10<tspan font-size="7.4" dx="0.5" dy="-3.7">&#8722;6</tspan></text>
<text x="553.3" y="393.6" font-size="13" text-anchor="start" fill="#262626" style="font-style:italic;font-family:'Liberation Serif',serif" >&#948;</text>
<text x="559.3" y="389.4" font-size="9" text-anchor="start" fill="#262626" style="font-family:'Liberation Serif',serif" >2</text>
<text x="562.8" y="393.6" font-size="13.5" text-anchor="start" fill="#262626" style="font-style:italic;font-family:'Liberation Serif',serif" >u</text>
<text x="570.3" y="394.8" font-size="16" text-anchor="start" fill="#262626" style="font-family:'Liberation Serif',serif" >/</text>
<text x="592.4" y="393.6" font-size="13.5" text-anchor="start" fill="#262626" style="font-family:'Liberation Serif',serif" >(</text>
<text x="596.4" y="393.6" font-size="13" text-anchor="start" fill="#262626" style="font-style:italic;font-family:'Liberation Serif',serif" >&#948;</text>
<text x="602.4" y="389.4" font-size="9" text-anchor="start" fill="#262626" style="font-family:'Liberation Serif',serif" >2</text>
<text x="605.6" y="393.6" font-size="13.5" text-anchor="start" fill="#262626" style="font-style:italic;font-family:'Liberation Serif',serif" >u</text>
<text x="612.2" y="393.6" font-size="13.5" text-anchor="start" fill="#262626" style="font-family:'Liberation Serif',serif" >)</text>
<text x="616.5" y="388.4" font-size="9" text-anchor="start" fill="#262626" style="font-family:'Liberation Serif',serif" >2</text>
<path d="M577.6 391.6 L579.3 390.6 L581.8 396.6 L588.3 382.3 H629.8" fill="none" stroke="#262626" stroke-width="0.8" stroke-linejoin="round"/>
<path d="M592.2 384.8 L589.8 389.7 L592.2 394.6 M624.4 384.8 L626.8 389.7 L624.4 394.6" fill="none" stroke="#262626" stroke-width="0.75"/>
</svg></body></html>
